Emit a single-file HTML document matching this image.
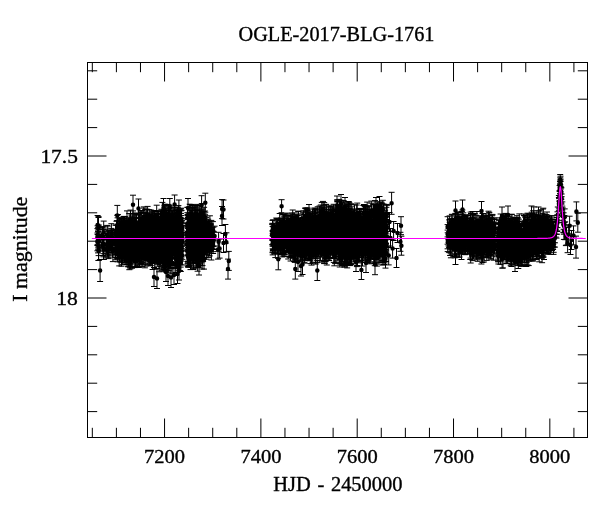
<!DOCTYPE html>
<html lang="en">
<head>
<meta charset="utf-8">
<title>OGLE-2017-BLG-1761</title>
<style>
html,body{margin:0;padding:0;background:#fff;}
body{width:600px;height:512px;overflow:hidden;}
svg{display:block;}
text{font-family:"Liberation Serif","DejaVu Serif",serif;font-size:20px;fill:#000;stroke:#000;stroke-width:0.35px;stroke-linejoin:round;}
.n{font-size:19.5px;}
</style>
</head>
<body>
<svg width="600" height="512" viewBox="0 0 600 512">
<rect width="600" height="512" fill="#fff"/>
<!-- data: error bars and points -->
<path d="M97.4 228.6v16.9m-3 0h6m-6 -16.9h6M98.5 216.6v17.8m-3 0h6m-6 -17.8h6M98.9 225.1v20.9m-3 0h6m-6 -20.9h6M98.5 217.5v20.3m-3 0h6m-6 -20.3h6M98.5 229.6v16.6m-3 0h6m-6 -16.6h6M98.0 231.6v21.3m-3 0h6m-6 -21.3h6M97.6 225.8v18.8m-3 0h6m-6 -18.8h6M98.7 240.4v20.0m-3 0h6m-6 -20.0h6M98.1 227.4v20.5m-3 0h6m-6 -20.5h6M98.6 240.1v15.5m-3 0h6m-6 -15.5h6M98.1 230.9v18.9m-3 0h6m-6 -18.9h6M97.4 233.0v17.8m-3 0h6m-6 -17.8h6M98.7 232.2v18.1m-3 0h6m-6 -18.1h6M102.9 235.8v19.7m-3 0h6m-6 -19.7h6M103.5 238.2v21.3m-3 0h6m-6 -21.3h6M103.0 229.1v18.0m-3 0h6m-6 -18.0h6M102.2 227.0v18.1m-3 0h6m-6 -18.1h6M103.9 239.3v20.1m-3 0h6m-6 -20.1h6M103.6 235.8v17.9m-3 0h6m-6 -17.9h6M102.5 226.9v15.7m-3 0h6m-6 -15.7h6M102.4 227.8v20.1m-3 0h6m-6 -20.1h6M103.4 239.2v17.6m-3 0h6m-6 -17.6h6M102.9 235.7v15.5m-3 0h6m-6 -15.5h6M103.5 229.3v18.8m-3 0h6m-6 -18.8h6M102.9 226.8v18.1m-3 0h6m-6 -18.1h6M103.7 221.1v22.3m-3 0h6m-6 -22.3h6M108.0 233.6v19.3m-3 0h6m-6 -19.3h6M107.1 225.4v19.1m-3 0h6m-6 -19.1h6M108.1 231.7v18.6m-3 0h6m-6 -18.6h6M107.8 226.1v20.0m-3 0h6m-6 -20.0h6M107.6 237.6v18.2m-3 0h6m-6 -18.2h6M107.7 239.1v15.5m-3 0h6m-6 -15.5h6M107.8 239.5v18.3m-3 0h6m-6 -18.3h6M106.7 235.4v17.8m-3 0h6m-6 -17.8h6M107.1 230.0v18.0m-3 0h6m-6 -18.0h6M108.6 230.3v19.6m-3 0h6m-6 -19.6h6M107.1 243.8v13.1m-3 0h6m-6 -13.1h6M108.6 241.5v17.1m-3 0h6m-6 -17.1h6M111.1 236.6v18.6m-3 0h6m-6 -18.6h6M111.0 232.2v20.3m-3 0h6m-6 -20.3h6M112.6 230.6v17.8m-3 0h6m-6 -17.8h6M112.9 241.3v20.3m-3 0h6m-6 -20.3h6M112.5 240.3v16.8m-3 0h6m-6 -16.8h6M111.8 231.2v16.8m-3 0h6m-6 -16.8h6M111.5 230.4v15.5m-3 0h6m-6 -15.5h6M111.4 223.7v20.9m-3 0h6m-6 -20.9h6M111.2 228.4v19.5m-3 0h6m-6 -19.5h6M112.6 229.2v16.0m-3 0h6m-6 -16.0h6M111.2 236.8v16.1m-3 0h6m-6 -16.1h6M111.7 232.6v20.0m-3 0h6m-6 -20.0h6M115.4 239.7v17.8m-3 0h6m-6 -17.8h6M117.0 233.2v20.0m-3 0h6m-6 -20.0h6M116.9 236.1v18.6m-3 0h6m-6 -18.6h6M115.7 229.5v18.9m-3 0h6m-6 -18.9h6M116.5 221.3v20.5m-3 0h6m-6 -20.5h6M116.9 235.0v19.1m-3 0h6m-6 -19.1h6M116.4 232.8v18.5m-3 0h6m-6 -18.5h6M115.7 240.2v19.6m-3 0h6m-6 -19.6h6M116.0 232.8v21.5m-3 0h6m-6 -21.5h6M115.6 225.1v15.4m-3 0h6m-6 -15.4h6M116.5 234.6v19.7m-3 0h6m-6 -19.7h6M115.3 234.6v19.5m-3 0h6m-6 -19.5h6M115.7 225.1v18.9m-3 0h6m-6 -18.9h6M116.0 233.1v18.1m-3 0h6m-6 -18.1h6M116.9 220.6v21.0m-3 0h6m-6 -21.0h6M129.2 236.0v19.8m-3 0h6m-6 -19.8h6M123.4 241.4v16.7m-3 0h6m-6 -16.7h6M117.3 237.5v21.5m-3 0h6m-6 -21.5h6M126.6 244.4v18.5m-3 0h6m-6 -18.5h6M122.2 226.4v20.6m-3 0h6m-6 -20.6h6M122.8 237.7v16.6m-3 0h6m-6 -16.6h6M125.0 230.0v14.4m-3 0h6m-6 -14.4h6M125.1 243.8v17.5m-3 0h6m-6 -17.5h6M129.8 232.7v18.7m-3 0h6m-6 -18.7h6M118.3 225.1v19.0m-3 0h6m-6 -19.0h6M121.9 224.9v16.2m-3 0h6m-6 -16.2h6M120.1 221.9v18.8m-3 0h6m-6 -18.8h6M129.3 236.9v20.2m-3 0h6m-6 -20.2h6M121.5 243.0v19.7m-3 0h6m-6 -19.7h6M123.6 220.4v17.5m-3 0h6m-6 -17.5h6M126.8 246.4v15.4m-3 0h6m-6 -15.4h6M123.0 228.1v19.6m-3 0h6m-6 -19.6h6M121.9 222.8v20.2m-3 0h6m-6 -20.2h6M122.9 232.6v16.2m-3 0h6m-6 -16.2h6M126.4 221.4v20.1m-3 0h6m-6 -20.1h6M119.9 219.2v15.6m-3 0h6m-6 -15.6h6M117.3 237.7v17.5m-3 0h6m-6 -17.5h6M117.2 215.3v19.4m-3 0h6m-6 -19.4h6M124.4 216.7v16.7m-3 0h6m-6 -16.7h6M118.2 235.6v18.8m-3 0h6m-6 -18.8h6M129.1 220.3v20.2m-3 0h6m-6 -20.2h6M124.1 230.1v19.3m-3 0h6m-6 -19.3h6M118.1 233.3v17.3m-3 0h6m-6 -17.3h6M123.3 232.6v20.5m-3 0h6m-6 -20.5h6M128.5 223.8v20.9m-3 0h6m-6 -20.9h6M126.1 230.1v19.4m-3 0h6m-6 -19.4h6M122.3 234.1v18.8m-3 0h6m-6 -18.8h6M122.2 235.6v15.7m-3 0h6m-6 -15.7h6M129.3 234.2v17.1m-3 0h6m-6 -17.1h6M120.8 218.8v20.1m-3 0h6m-6 -20.1h6M121.7 217.7v16.4m-3 0h6m-6 -16.4h6M120.7 234.5v18.5m-3 0h6m-6 -18.5h6M121.3 233.4v17.7m-3 0h6m-6 -17.7h6M123.5 216.4v16.8m-3 0h6m-6 -16.8h6M127.0 240.0v19.3m-3 0h6m-6 -19.3h6M127.2 232.3v19.8m-3 0h6m-6 -19.8h6M128.8 230.3v18.6m-3 0h6m-6 -18.6h6M124.9 216.7v18.8m-3 0h6m-6 -18.8h6M126.7 226.8v19.0m-3 0h6m-6 -19.0h6M118.6 227.0v19.5m-3 0h6m-6 -19.5h6M119.0 230.0v17.0m-3 0h6m-6 -17.0h6M120.9 234.5v16.8m-3 0h6m-6 -16.8h6M128.3 231.1v17.2m-3 0h6m-6 -17.2h6M125.8 238.1v18.3m-3 0h6m-6 -18.3h6M127.0 210.9v21.3m-3 0h6m-6 -21.3h6M120.7 224.7v18.0m-3 0h6m-6 -18.0h6M129.9 236.5v20.8m-3 0h6m-6 -20.8h6M128.7 232.3v18.5m-3 0h6m-6 -18.5h6M125.9 246.1v17.9m-3 0h6m-6 -17.9h6M125.8 236.3v17.3m-3 0h6m-6 -17.3h6M124.3 232.2v20.5m-3 0h6m-6 -20.5h6M118.2 239.0v18.7m-3 0h6m-6 -18.7h6M117.5 229.3v16.6m-3 0h6m-6 -16.6h6M121.6 218.2v19.0m-3 0h6m-6 -19.0h6M118.6 228.4v19.3m-3 0h6m-6 -19.3h6M122.4 234.7v16.6m-3 0h6m-6 -16.6h6M127.5 228.3v17.7m-3 0h6m-6 -17.7h6M128.0 234.5v18.8m-3 0h6m-6 -18.8h6M128.3 218.3v21.8m-3 0h6m-6 -21.8h6M127.4 227.9v18.0m-3 0h6m-6 -18.0h6M120.5 232.9v20.1m-3 0h6m-6 -20.1h6M122.8 223.2v21.2m-3 0h6m-6 -21.2h6M125.6 238.0v21.1m-3 0h6m-6 -21.1h6M129.2 230.2v16.0m-3 0h6m-6 -16.0h6M123.0 224.6v16.1m-3 0h6m-6 -16.1h6M125.6 231.7v19.6m-3 0h6m-6 -19.6h6M121.1 220.8v19.6m-3 0h6m-6 -19.6h6M128.1 246.6v19.8m-3 0h6m-6 -19.8h6M128.4 221.1v21.3m-3 0h6m-6 -21.3h6M119.2 246.8v19.1m-3 0h6m-6 -19.1h6M122.8 231.0v20.3m-3 0h6m-6 -20.3h6M125.6 234.4v19.3m-3 0h6m-6 -19.3h6M119.7 218.9v19.2m-3 0h6m-6 -19.2h6M125.6 227.6v19.2m-3 0h6m-6 -19.2h6M128.2 239.7v16.8m-3 0h6m-6 -16.8h6M122.7 224.0v18.3m-3 0h6m-6 -18.3h6M124.4 243.2v19.2m-3 0h6m-6 -19.2h6M128.4 248.2v18.7m-3 0h6m-6 -18.7h6M126.1 238.4v16.8m-3 0h6m-6 -16.8h6M120.2 231.7v16.2m-3 0h6m-6 -16.2h6M126.1 239.4v17.4m-3 0h6m-6 -17.4h6M121.6 237.7v21.0m-3 0h6m-6 -21.0h6M121.6 218.6v18.1m-3 0h6m-6 -18.1h6M117.2 237.8v20.8m-3 0h6m-6 -20.8h6M120.2 221.6v16.2m-3 0h6m-6 -16.2h6M128.7 227.9v22.4m-3 0h6m-6 -22.4h6M124.7 231.3v19.4m-3 0h6m-6 -19.4h6M126.3 235.4v21.3m-3 0h6m-6 -21.3h6M117.6 217.8v22.2m-3 0h6m-6 -22.2h6M122.6 248.0v16.7m-3 0h6m-6 -16.7h6M126.9 243.9v16.1m-3 0h6m-6 -16.1h6M124.7 233.7v19.9m-3 0h6m-6 -19.9h6M125.7 238.6v20.2m-3 0h6m-6 -20.2h6M124.4 236.5v21.2m-3 0h6m-6 -21.2h6M129.9 234.3v18.2m-3 0h6m-6 -18.2h6M125.4 228.8v19.9m-3 0h6m-6 -19.9h6M125.7 229.0v19.3m-3 0h6m-6 -19.3h6M128.9 217.8v20.1m-3 0h6m-6 -20.1h6M127.1 233.7v17.0m-3 0h6m-6 -17.0h6M122.6 230.9v18.7m-3 0h6m-6 -18.7h6M118.3 232.6v20.9m-3 0h6m-6 -20.9h6M118.0 231.2v16.2m-3 0h6m-6 -16.2h6M122.5 228.3v18.8m-3 0h6m-6 -18.8h6M122.8 222.6v19.3m-3 0h6m-6 -19.3h6M125.5 219.8v18.0m-3 0h6m-6 -18.0h6M120.2 234.5v19.8m-3 0h6m-6 -19.8h6M128.3 225.7v18.0m-3 0h6m-6 -18.0h6M120.8 227.2v21.9m-3 0h6m-6 -21.9h6M129.3 249.7v20.0m-3 0h6m-6 -20.0h6M123.4 234.5v19.6m-3 0h6m-6 -19.6h6M117.8 239.1v16.5m-3 0h6m-6 -16.5h6M129.0 243.0v19.6m-3 0h6m-6 -19.6h6M125.1 234.2v16.7m-3 0h6m-6 -16.7h6M124.2 218.8v17.5m-3 0h6m-6 -17.5h6M120.1 244.3v17.6m-3 0h6m-6 -17.6h6M126.9 243.6v20.9m-3 0h6m-6 -20.9h6M121.5 248.6v17.6m-3 0h6m-6 -17.6h6M125.9 236.3v19.5m-3 0h6m-6 -19.5h6M126.3 239.5v20.6m-3 0h6m-6 -20.6h6M118.4 227.2v20.1m-3 0h6m-6 -20.1h6M120.3 228.2v16.8m-3 0h6m-6 -16.8h6M124.4 236.7v19.8m-3 0h6m-6 -19.8h6M129.5 232.7v17.8m-3 0h6m-6 -17.8h6M123.3 218.4v19.3m-3 0h6m-6 -19.3h6M120.4 229.7v19.7m-3 0h6m-6 -19.7h6M123.4 233.9v19.5m-3 0h6m-6 -19.5h6M128.2 237.7v19.3m-3 0h6m-6 -19.3h6M123.0 221.2v22.0m-3 0h6m-6 -22.0h6M122.4 228.4v17.9m-3 0h6m-6 -17.9h6M125.3 236.5v17.9m-3 0h6m-6 -17.9h6M129.2 213.6v19.8m-3 0h6m-6 -19.8h6M128.4 239.8v18.7m-3 0h6m-6 -18.7h6M118.5 238.0v19.3m-3 0h6m-6 -19.3h6M123.2 241.4v19.0m-3 0h6m-6 -19.0h6M123.8 232.5v22.0m-3 0h6m-6 -22.0h6M127.5 223.8v18.8m-3 0h6m-6 -18.8h6M123.0 228.0v19.4m-3 0h6m-6 -19.4h6M118.9 229.0v20.1m-3 0h6m-6 -20.1h6M129.4 234.9v19.1m-3 0h6m-6 -19.1h6M128.7 228.1v17.7m-3 0h6m-6 -17.7h6M128.6 249.0v16.2m-3 0h6m-6 -16.2h6M124.4 217.0v19.1m-3 0h6m-6 -19.1h6M119.8 224.2v19.6m-3 0h6m-6 -19.6h6M119.8 241.2v17.8m-3 0h6m-6 -17.8h6M125.7 227.5v19.6m-3 0h6m-6 -19.6h6M117.6 243.7v18.1m-3 0h6m-6 -18.1h6M123.7 221.6v17.8m-3 0h6m-6 -17.8h6M126.0 237.8v16.2m-3 0h6m-6 -16.2h6M124.5 229.2v20.6m-3 0h6m-6 -20.6h6M121.0 237.9v16.8m-3 0h6m-6 -16.8h6M124.1 234.4v17.9m-3 0h6m-6 -17.9h6M122.0 227.9v18.0m-3 0h6m-6 -18.0h6M126.2 237.6v19.6m-3 0h6m-6 -19.6h6M125.1 236.6v17.8m-3 0h6m-6 -17.8h6M119.5 240.6v20.6m-3 0h6m-6 -20.6h6M129.9 225.4v21.1m-3 0h6m-6 -21.1h6M127.7 237.5v17.3m-3 0h6m-6 -17.3h6M122.0 234.6v19.3m-3 0h6m-6 -19.3h6M125.4 224.1v20.3m-3 0h6m-6 -20.3h6M117.9 214.5v19.3m-3 0h6m-6 -19.3h6M133.3 245.1v17.8m-3 0h6m-6 -17.8h6M136.5 227.6v17.6m-3 0h6m-6 -17.6h6M130.3 233.0v19.3m-3 0h6m-6 -19.3h6M134.5 237.4v15.9m-3 0h6m-6 -15.9h6M139.5 248.9v17.1m-3 0h6m-6 -17.1h6M139.0 233.3v20.2m-3 0h6m-6 -20.2h6M139.5 213.6v20.1m-3 0h6m-6 -20.1h6M134.5 234.1v18.7m-3 0h6m-6 -18.7h6M133.3 238.2v19.9m-3 0h6m-6 -19.9h6M134.3 221.0v15.2m-3 0h6m-6 -15.2h6M130.9 244.3v19.7m-3 0h6m-6 -19.7h6M133.8 224.0v21.1m-3 0h6m-6 -21.1h6M140.7 246.6v18.0m-3 0h6m-6 -18.0h6M139.3 226.1v16.6m-3 0h6m-6 -16.6h6M132.6 216.1v17.6m-3 0h6m-6 -17.6h6M133.0 210.9v23.3m-3 0h6m-6 -23.3h6M130.4 225.4v22.6m-3 0h6m-6 -22.6h6M134.8 223.9v19.4m-3 0h6m-6 -19.4h6M136.8 224.2v19.6m-3 0h6m-6 -19.6h6M130.0 221.5v16.1m-3 0h6m-6 -16.1h6M139.4 222.6v18.3m-3 0h6m-6 -18.3h6M135.7 225.4v21.0m-3 0h6m-6 -21.0h6M140.8 212.9v16.1m-3 0h6m-6 -16.1h6M135.3 225.3v19.0m-3 0h6m-6 -19.0h6M130.8 224.9v21.5m-3 0h6m-6 -21.5h6M138.5 226.2v16.1m-3 0h6m-6 -16.1h6M131.4 226.5v17.9m-3 0h6m-6 -17.9h6M130.7 239.8v19.6m-3 0h6m-6 -19.6h6M130.5 210.1v19.6m-3 0h6m-6 -19.6h6M130.5 233.6v23.3m-3 0h6m-6 -23.3h6M135.4 230.8v20.3m-3 0h6m-6 -20.3h6M134.7 234.9v17.5m-3 0h6m-6 -17.5h6M130.9 238.0v16.2m-3 0h6m-6 -16.2h6M134.1 218.2v18.8m-3 0h6m-6 -18.8h6M138.2 228.4v21.6m-3 0h6m-6 -21.6h6M132.7 217.9v18.0m-3 0h6m-6 -18.0h6M132.8 218.3v22.4m-3 0h6m-6 -22.4h6M140.7 211.3v21.6m-3 0h6m-6 -21.6h6M139.5 222.6v20.6m-3 0h6m-6 -20.6h6M132.8 213.4v20.5m-3 0h6m-6 -20.5h6M138.5 238.1v18.6m-3 0h6m-6 -18.6h6M137.2 225.0v20.8m-3 0h6m-6 -20.8h6M137.4 240.2v15.7m-3 0h6m-6 -15.7h6M130.3 229.9v19.5m-3 0h6m-6 -19.5h6M135.0 242.0v19.0m-3 0h6m-6 -19.0h6M130.6 227.1v19.1m-3 0h6m-6 -19.1h6M137.8 231.9v18.1m-3 0h6m-6 -18.1h6M133.9 221.1v17.5m-3 0h6m-6 -17.5h6M131.9 230.1v20.6m-3 0h6m-6 -20.6h6M132.8 235.2v20.4m-3 0h6m-6 -20.4h6M136.1 234.7v20.3m-3 0h6m-6 -20.3h6M130.6 230.3v21.4m-3 0h6m-6 -21.4h6M130.8 230.4v18.2m-3 0h6m-6 -18.2h6M132.8 231.9v16.0m-3 0h6m-6 -16.0h6M136.7 230.5v18.6m-3 0h6m-6 -18.6h6M130.5 236.5v17.3m-3 0h6m-6 -17.3h6M132.0 249.1v19.1m-3 0h6m-6 -19.1h6M135.5 248.1v19.2m-3 0h6m-6 -19.2h6M132.7 218.5v18.6m-3 0h6m-6 -18.6h6M134.2 229.8v18.6m-3 0h6m-6 -18.6h6M133.7 231.8v19.7m-3 0h6m-6 -19.7h6M134.3 226.3v20.3m-3 0h6m-6 -20.3h6M136.0 217.3v17.4m-3 0h6m-6 -17.4h6M132.4 216.1v20.0m-3 0h6m-6 -20.0h6M136.2 215.0v17.0m-3 0h6m-6 -17.0h6M132.7 229.7v19.1m-3 0h6m-6 -19.1h6M136.1 242.4v19.7m-3 0h6m-6 -19.7h6M141.0 236.2v18.1m-3 0h6m-6 -18.1h6M136.7 213.2v21.5m-3 0h6m-6 -21.5h6M134.1 223.9v16.7m-3 0h6m-6 -16.7h6M135.1 229.3v19.3m-3 0h6m-6 -19.3h6M138.0 224.2v18.3m-3 0h6m-6 -18.3h6M130.7 230.7v18.4m-3 0h6m-6 -18.4h6M138.9 246.4v21.1m-3 0h6m-6 -21.1h6M131.1 248.0v18.3m-3 0h6m-6 -18.3h6M132.4 229.6v18.2m-3 0h6m-6 -18.2h6M134.3 224.7v19.3m-3 0h6m-6 -19.3h6M134.4 230.7v24.4m-3 0h6m-6 -24.4h6M140.5 225.0v17.7m-3 0h6m-6 -17.7h6M132.6 222.2v18.5m-3 0h6m-6 -18.5h6M140.8 225.2v18.0m-3 0h6m-6 -18.0h6M136.6 218.1v19.5m-3 0h6m-6 -19.5h6M134.7 250.4v17.2m-3 0h6m-6 -17.2h6M133.2 232.0v19.6m-3 0h6m-6 -19.6h6M136.1 242.4v16.3m-3 0h6m-6 -16.3h6M133.4 236.1v16.2m-3 0h6m-6 -16.2h6M138.7 214.5v18.8m-3 0h6m-6 -18.8h6M137.7 223.1v19.3m-3 0h6m-6 -19.3h6M139.2 218.2v19.9m-3 0h6m-6 -19.9h6M139.8 222.0v18.3m-3 0h6m-6 -18.3h6M136.6 246.5v19.9m-3 0h6m-6 -19.9h6M131.9 252.5v14.3m-3 0h6m-6 -14.3h6M140.1 237.0v18.2m-3 0h6m-6 -18.2h6M136.9 234.4v17.8m-3 0h6m-6 -17.8h6M136.7 236.6v17.4m-3 0h6m-6 -17.4h6M135.6 244.8v17.5m-3 0h6m-6 -17.5h6M133.9 231.5v16.4m-3 0h6m-6 -16.4h6M140.2 222.1v20.0m-3 0h6m-6 -20.0h6M131.6 231.7v22.3m-3 0h6m-6 -22.3h6M130.0 248.4v19.3m-3 0h6m-6 -19.3h6M134.6 233.6v21.3m-3 0h6m-6 -21.3h6M135.3 222.3v20.0m-3 0h6m-6 -20.0h6M130.4 236.7v15.3m-3 0h6m-6 -15.3h6M132.2 231.0v20.0m-3 0h6m-6 -20.0h6M131.6 233.9v16.1m-3 0h6m-6 -16.1h6M133.4 227.2v19.1m-3 0h6m-6 -19.1h6M130.7 230.2v21.6m-3 0h6m-6 -21.6h6M138.6 221.0v15.9m-3 0h6m-6 -15.9h6M131.9 233.9v17.3m-3 0h6m-6 -17.3h6M136.6 239.1v14.6m-3 0h6m-6 -14.6h6M134.6 226.1v19.4m-3 0h6m-6 -19.4h6M136.0 224.1v19.4m-3 0h6m-6 -19.4h6M132.6 230.1v18.6m-3 0h6m-6 -18.6h6M130.4 235.0v17.6m-3 0h6m-6 -17.6h6M130.4 250.0v18.9m-3 0h6m-6 -18.9h6M130.9 227.7v20.9m-3 0h6m-6 -20.9h6M138.5 218.5v18.0m-3 0h6m-6 -18.0h6M137.1 221.7v16.8m-3 0h6m-6 -16.8h6M133.7 240.1v18.2m-3 0h6m-6 -18.2h6M131.1 234.7v18.5m-3 0h6m-6 -18.5h6M136.4 214.8v20.5m-3 0h6m-6 -20.5h6M136.2 229.3v18.6m-3 0h6m-6 -18.6h6M130.5 244.5v19.4m-3 0h6m-6 -19.4h6M140.7 226.9v18.9m-3 0h6m-6 -18.9h6M136.4 230.9v18.8m-3 0h6m-6 -18.8h6M132.2 227.2v17.9m-3 0h6m-6 -17.9h6M139.8 224.0v21.0m-3 0h6m-6 -21.0h6M130.9 239.3v16.2m-3 0h6m-6 -16.2h6M139.1 226.5v21.5m-3 0h6m-6 -21.5h6M134.0 226.5v19.5m-3 0h6m-6 -19.5h6M138.9 242.0v18.5m-3 0h6m-6 -18.5h6M134.0 225.6v18.4m-3 0h6m-6 -18.4h6M136.0 243.5v18.0m-3 0h6m-6 -18.0h6M133.9 236.4v17.8m-3 0h6m-6 -17.8h6M136.6 239.2v18.0m-3 0h6m-6 -18.0h6M133.4 224.6v21.4m-3 0h6m-6 -21.4h6M133.6 232.6v15.6m-3 0h6m-6 -15.6h6M133.1 235.5v18.2m-3 0h6m-6 -18.2h6M132.3 230.9v18.6m-3 0h6m-6 -18.6h6M139.6 226.2v19.6m-3 0h6m-6 -19.6h6M139.4 238.4v19.7m-3 0h6m-6 -19.7h6M136.1 218.1v20.0m-3 0h6m-6 -20.0h6M136.2 240.0v20.7m-3 0h6m-6 -20.7h6M132.7 227.3v17.2m-3 0h6m-6 -17.2h6M134.8 226.0v15.9m-3 0h6m-6 -15.9h6M136.5 240.3v18.4m-3 0h6m-6 -18.4h6M133.0 217.9v19.0m-3 0h6m-6 -19.0h6M133.6 236.0v19.7m-3 0h6m-6 -19.7h6M135.0 213.2v15.7m-3 0h6m-6 -15.7h6M131.6 240.2v17.4m-3 0h6m-6 -17.4h6M138.2 223.9v19.7m-3 0h6m-6 -19.7h6M131.4 236.2v17.4m-3 0h6m-6 -17.4h6M132.0 221.2v19.1m-3 0h6m-6 -19.1h6M130.1 230.9v18.7m-3 0h6m-6 -18.7h6M137.1 229.5v15.5m-3 0h6m-6 -15.5h6M138.8 224.7v20.3m-3 0h6m-6 -20.3h6M135.8 238.2v16.9m-3 0h6m-6 -16.9h6M137.7 223.3v20.8m-3 0h6m-6 -20.8h6M133.0 227.5v21.0m-3 0h6m-6 -21.0h6M140.6 223.0v18.2m-3 0h6m-6 -18.2h6M135.6 233.4v17.4m-3 0h6m-6 -17.4h6M140.0 229.7v18.9m-3 0h6m-6 -18.9h6M137.6 249.8v17.0m-3 0h6m-6 -17.0h6M132.8 222.5v16.5m-3 0h6m-6 -16.5h6M133.7 222.1v18.6m-3 0h6m-6 -18.6h6M145.9 218.6v21.4m-3 0h6m-6 -21.4h6M148.1 215.8v16.9m-3 0h6m-6 -16.9h6M146.3 224.1v17.7m-3 0h6m-6 -17.7h6M149.5 217.6v20.1m-3 0h6m-6 -20.1h6M150.0 228.8v16.6m-3 0h6m-6 -16.6h6M151.3 212.2v19.1m-3 0h6m-6 -19.1h6M147.1 216.4v19.8m-3 0h6m-6 -19.8h6M149.0 239.8v18.3m-3 0h6m-6 -18.3h6M148.3 227.3v19.8m-3 0h6m-6 -19.8h6M149.6 241.7v19.2m-3 0h6m-6 -19.2h6M142.9 237.3v20.7m-3 0h6m-6 -20.7h6M147.5 209.4v20.3m-3 0h6m-6 -20.3h6M147.8 239.6v19.3m-3 0h6m-6 -19.3h6M151.0 224.4v21.7m-3 0h6m-6 -21.7h6M150.8 228.0v18.1m-3 0h6m-6 -18.1h6M144.6 222.8v19.9m-3 0h6m-6 -19.9h6M142.2 217.5v18.7m-3 0h6m-6 -18.7h6M144.5 223.7v16.7m-3 0h6m-6 -16.7h6M145.7 212.6v21.0m-3 0h6m-6 -21.0h6M146.3 228.8v19.4m-3 0h6m-6 -19.4h6M144.6 241.9v17.1m-3 0h6m-6 -17.1h6M147.5 232.1v18.3m-3 0h6m-6 -18.3h6M147.6 230.6v19.3m-3 0h6m-6 -19.3h6M148.3 223.4v16.5m-3 0h6m-6 -16.5h6M141.3 234.4v21.7m-3 0h6m-6 -21.7h6M149.5 245.0v18.3m-3 0h6m-6 -18.3h6M148.0 242.8v17.6m-3 0h6m-6 -17.6h6M149.4 244.9v19.7m-3 0h6m-6 -19.7h6M142.4 222.3v17.6m-3 0h6m-6 -17.6h6M142.9 218.1v15.9m-3 0h6m-6 -15.9h6M148.6 224.4v21.3m-3 0h6m-6 -21.3h6M150.5 240.8v16.2m-3 0h6m-6 -16.2h6M141.5 223.6v18.7m-3 0h6m-6 -18.7h6M143.8 206.9v19.9m-3 0h6m-6 -19.9h6M143.7 238.6v19.9m-3 0h6m-6 -19.9h6M144.2 231.9v20.6m-3 0h6m-6 -20.6h6M149.5 234.5v19.8m-3 0h6m-6 -19.8h6M149.6 233.1v20.5m-3 0h6m-6 -20.5h6M151.2 229.2v16.2m-3 0h6m-6 -16.2h6M151.2 234.4v21.3m-3 0h6m-6 -21.3h6M143.0 242.9v16.1m-3 0h6m-6 -16.1h6M146.2 218.3v14.5m-3 0h6m-6 -14.5h6M145.7 233.2v20.9m-3 0h6m-6 -20.9h6M146.6 209.2v17.2m-3 0h6m-6 -17.2h6M151.9 234.1v20.3m-3 0h6m-6 -20.3h6M144.1 235.6v18.2m-3 0h6m-6 -18.2h6M151.8 241.8v21.7m-3 0h6m-6 -21.7h6M142.7 235.9v20.4m-3 0h6m-6 -20.4h6M147.4 213.6v17.3m-3 0h6m-6 -17.3h6M148.6 230.5v18.0m-3 0h6m-6 -18.0h6M144.3 225.9v22.1m-3 0h6m-6 -22.1h6M145.0 217.0v18.0m-3 0h6m-6 -18.0h6M143.1 232.3v14.4m-3 0h6m-6 -14.4h6M149.1 215.7v15.8m-3 0h6m-6 -15.8h6M144.6 225.2v19.4m-3 0h6m-6 -19.4h6M151.3 243.9v17.8m-3 0h6m-6 -17.8h6M150.7 228.3v18.0m-3 0h6m-6 -18.0h6M144.3 213.3v20.9m-3 0h6m-6 -20.9h6M149.1 234.7v19.8m-3 0h6m-6 -19.8h6M148.3 226.9v18.0m-3 0h6m-6 -18.0h6M147.3 234.6v15.7m-3 0h6m-6 -15.7h6M151.4 222.7v18.6m-3 0h6m-6 -18.6h6M143.7 236.9v17.4m-3 0h6m-6 -17.4h6M151.0 242.6v19.7m-3 0h6m-6 -19.7h6M148.5 240.3v20.1m-3 0h6m-6 -20.1h6M149.0 235.1v16.7m-3 0h6m-6 -16.7h6M151.8 230.0v16.7m-3 0h6m-6 -16.7h6M141.4 221.5v18.2m-3 0h6m-6 -18.2h6M145.7 247.7v18.3m-3 0h6m-6 -18.3h6M150.9 234.3v20.2m-3 0h6m-6 -20.2h6M142.1 237.0v18.4m-3 0h6m-6 -18.4h6M141.9 224.9v16.4m-3 0h6m-6 -16.4h6M142.1 241.9v20.7m-3 0h6m-6 -20.7h6M150.1 233.2v16.8m-3 0h6m-6 -16.8h6M142.4 228.2v19.0m-3 0h6m-6 -19.0h6M147.1 227.7v17.3m-3 0h6m-6 -17.3h6M149.0 220.9v17.6m-3 0h6m-6 -17.6h6M146.5 224.2v18.4m-3 0h6m-6 -18.4h6M141.5 222.1v16.8m-3 0h6m-6 -16.8h6M144.7 224.8v20.3m-3 0h6m-6 -20.3h6M149.5 245.7v20.2m-3 0h6m-6 -20.2h6M146.5 223.8v16.5m-3 0h6m-6 -16.5h6M145.2 209.5v20.1m-3 0h6m-6 -20.1h6M146.5 228.0v19.1m-3 0h6m-6 -19.1h6M145.3 239.9v19.7m-3 0h6m-6 -19.7h6M149.0 237.7v18.4m-3 0h6m-6 -18.4h6M142.3 237.8v17.0m-3 0h6m-6 -17.0h6M145.9 235.1v16.7m-3 0h6m-6 -16.7h6M150.8 244.2v21.2m-3 0h6m-6 -21.2h6M142.1 219.0v16.2m-3 0h6m-6 -16.2h6M150.6 224.7v15.3m-3 0h6m-6 -15.3h6M149.5 223.7v19.4m-3 0h6m-6 -19.4h6M145.9 238.3v19.7m-3 0h6m-6 -19.7h6M142.5 228.3v22.1m-3 0h6m-6 -22.1h6M143.9 225.9v19.6m-3 0h6m-6 -19.6h6M151.6 226.4v20.0m-3 0h6m-6 -20.0h6M148.3 221.9v18.6m-3 0h6m-6 -18.6h6M141.3 243.4v18.2m-3 0h6m-6 -18.2h6M141.3 212.5v17.2m-3 0h6m-6 -17.2h6M150.9 244.9v17.2m-3 0h6m-6 -17.2h6M143.8 245.9v18.8m-3 0h6m-6 -18.8h6M151.0 242.2v19.4m-3 0h6m-6 -19.4h6M146.2 238.7v16.2m-3 0h6m-6 -16.2h6M145.9 223.6v18.4m-3 0h6m-6 -18.4h6M142.4 226.8v14.7m-3 0h6m-6 -14.7h6M142.4 224.5v17.2m-3 0h6m-6 -17.2h6M146.6 225.5v19.1m-3 0h6m-6 -19.1h6M151.3 229.8v19.6m-3 0h6m-6 -19.6h6M148.4 214.2v18.1m-3 0h6m-6 -18.1h6M144.3 235.6v19.0m-3 0h6m-6 -19.0h6M148.9 217.4v18.7m-3 0h6m-6 -18.7h6M143.1 235.8v18.0m-3 0h6m-6 -18.0h6M145.5 229.4v17.5m-3 0h6m-6 -17.5h6M151.6 229.6v14.2m-3 0h6m-6 -14.2h6M150.5 231.6v17.7m-3 0h6m-6 -17.7h6M141.5 218.4v18.2m-3 0h6m-6 -18.2h6M148.6 232.5v18.6m-3 0h6m-6 -18.6h6M146.6 232.9v15.7m-3 0h6m-6 -15.7h6M150.1 214.7v19.3m-3 0h6m-6 -19.3h6M147.5 224.2v20.1m-3 0h6m-6 -20.1h6M149.4 235.4v16.6m-3 0h6m-6 -16.6h6M147.3 229.9v17.5m-3 0h6m-6 -17.5h6M144.5 225.5v14.7m-3 0h6m-6 -14.7h6M150.8 242.7v17.5m-3 0h6m-6 -17.5h6M142.2 229.8v16.3m-3 0h6m-6 -16.3h6M150.6 238.1v17.9m-3 0h6m-6 -17.9h6M144.0 233.9v17.8m-3 0h6m-6 -17.8h6M143.6 221.1v19.1m-3 0h6m-6 -19.1h6M147.0 227.8v15.0m-3 0h6m-6 -15.0h6M149.3 209.7v16.7m-3 0h6m-6 -16.7h6M148.8 240.5v15.4m-3 0h6m-6 -15.4h6M151.6 224.9v22.1m-3 0h6m-6 -22.1h6M141.1 245.7v17.8m-3 0h6m-6 -17.8h6M145.3 234.3v14.5m-3 0h6m-6 -14.5h6M142.2 249.7v16.9m-3 0h6m-6 -16.9h6M145.7 226.5v20.7m-3 0h6m-6 -20.7h6M148.5 222.5v17.7m-3 0h6m-6 -17.7h6M149.5 220.3v17.5m-3 0h6m-6 -17.5h6M141.9 210.5v19.6m-3 0h6m-6 -19.6h6M143.7 230.4v19.8m-3 0h6m-6 -19.8h6M148.3 236.9v22.0m-3 0h6m-6 -22.0h6M144.9 248.3v19.5m-3 0h6m-6 -19.5h6M148.1 231.5v18.6m-3 0h6m-6 -18.6h6M144.6 229.0v16.5m-3 0h6m-6 -16.5h6M150.5 224.5v20.4m-3 0h6m-6 -20.4h6M151.1 236.1v17.8m-3 0h6m-6 -17.8h6M146.2 242.4v18.1m-3 0h6m-6 -18.1h6M147.0 227.7v19.5m-3 0h6m-6 -19.5h6M151.1 210.1v19.3m-3 0h6m-6 -19.3h6M144.0 208.1v17.9m-3 0h6m-6 -17.9h6M141.6 218.6v18.7m-3 0h6m-6 -18.7h6M147.1 246.4v17.6m-3 0h6m-6 -17.6h6M148.0 239.2v17.9m-3 0h6m-6 -17.9h6M149.5 240.2v21.2m-3 0h6m-6 -21.2h6M145.4 219.7v15.8m-3 0h6m-6 -15.8h6M146.4 237.5v18.2m-3 0h6m-6 -18.2h6M145.9 231.9v15.9m-3 0h6m-6 -15.9h6M150.0 214.0v19.7m-3 0h6m-6 -19.7h6M147.6 206.4v18.3m-3 0h6m-6 -18.3h6M141.3 218.1v17.5m-3 0h6m-6 -17.5h6M144.8 228.7v14.7m-3 0h6m-6 -14.7h6M148.7 226.0v16.2m-3 0h6m-6 -16.2h6M144.9 228.5v20.0m-3 0h6m-6 -20.0h6M148.4 240.4v17.6m-3 0h6m-6 -17.6h6M150.8 242.1v16.1m-3 0h6m-6 -16.1h6M156.7 231.3v20.1m-3 0h6m-6 -20.1h6M158.6 231.8v18.6m-3 0h6m-6 -18.6h6M158.2 238.6v17.7m-3 0h6m-6 -17.7h6M154.4 226.4v16.7m-3 0h6m-6 -16.7h6M158.8 233.7v19.1m-3 0h6m-6 -19.1h6M152.6 224.5v14.3m-3 0h6m-6 -14.3h6M158.7 238.8v15.7m-3 0h6m-6 -15.7h6M153.7 241.7v17.5m-3 0h6m-6 -17.5h6M154.7 242.4v18.2m-3 0h6m-6 -18.2h6M152.8 242.5v19.0m-3 0h6m-6 -19.0h6M155.9 242.4v18.6m-3 0h6m-6 -18.6h6M157.4 239.7v19.6m-3 0h6m-6 -19.6h6M156.4 237.2v19.8m-3 0h6m-6 -19.8h6M155.5 237.0v17.3m-3 0h6m-6 -17.3h6M161.5 226.8v18.1m-3 0h6m-6 -18.1h6M157.1 217.4v18.0m-3 0h6m-6 -18.0h6M158.6 235.8v19.4m-3 0h6m-6 -19.4h6M152.2 236.0v16.4m-3 0h6m-6 -16.4h6M155.1 230.4v16.6m-3 0h6m-6 -16.6h6M159.0 241.1v21.1m-3 0h6m-6 -21.1h6M158.3 210.6v19.9m-3 0h6m-6 -19.9h6M153.3 227.5v19.0m-3 0h6m-6 -19.0h6M161.4 209.3v15.3m-3 0h6m-6 -15.3h6M159.4 227.3v17.1m-3 0h6m-6 -17.1h6M153.5 221.8v19.4m-3 0h6m-6 -19.4h6M156.4 232.1v20.3m-3 0h6m-6 -20.3h6M161.9 230.4v16.6m-3 0h6m-6 -16.6h6M157.8 216.6v21.0m-3 0h6m-6 -21.0h6M156.5 235.5v20.6m-3 0h6m-6 -20.6h6M152.9 232.3v21.6m-3 0h6m-6 -21.6h6M157.2 231.8v16.3m-3 0h6m-6 -16.3h6M157.1 244.1v18.0m-3 0h6m-6 -18.0h6M152.5 234.9v19.7m-3 0h6m-6 -19.7h6M152.7 214.1v19.5m-3 0h6m-6 -19.5h6M160.4 233.8v17.9m-3 0h6m-6 -17.9h6M154.2 237.0v19.9m-3 0h6m-6 -19.9h6M158.4 218.1v17.0m-3 0h6m-6 -17.0h6M154.7 245.7v17.0m-3 0h6m-6 -17.0h6M152.6 211.8v17.8m-3 0h6m-6 -17.8h6M155.1 222.3v18.4m-3 0h6m-6 -18.4h6M153.3 241.6v17.4m-3 0h6m-6 -17.4h6M157.0 228.4v18.2m-3 0h6m-6 -18.2h6M160.6 213.9v18.6m-3 0h6m-6 -18.6h6M153.1 242.6v19.8m-3 0h6m-6 -19.8h6M152.0 215.1v21.2m-3 0h6m-6 -21.2h6M152.6 228.5v17.1m-3 0h6m-6 -17.1h6M152.1 236.0v19.0m-3 0h6m-6 -19.0h6M156.6 245.2v18.4m-3 0h6m-6 -18.4h6M159.2 251.1v17.8m-3 0h6m-6 -17.8h6M158.7 213.8v19.5m-3 0h6m-6 -19.5h6M160.0 212.9v19.5m-3 0h6m-6 -19.5h6M155.2 211.6v20.6m-3 0h6m-6 -20.6h6M153.2 228.7v17.7m-3 0h6m-6 -17.7h6M160.1 238.9v21.6m-3 0h6m-6 -21.6h6M155.1 230.3v18.6m-3 0h6m-6 -18.6h6M158.8 224.8v20.6m-3 0h6m-6 -20.6h6M157.6 233.0v19.2m-3 0h6m-6 -19.2h6M155.1 213.6v16.4m-3 0h6m-6 -16.4h6M160.6 229.6v19.9m-3 0h6m-6 -19.9h6M161.3 229.7v19.3m-3 0h6m-6 -19.3h6M152.3 221.8v16.0m-3 0h6m-6 -16.0h6M156.6 230.5v16.2m-3 0h6m-6 -16.2h6M155.3 222.3v17.3m-3 0h6m-6 -17.3h6M156.8 230.0v23.1m-3 0h6m-6 -23.1h6M153.5 234.3v19.5m-3 0h6m-6 -19.5h6M157.6 242.8v18.4m-3 0h6m-6 -18.4h6M159.0 241.0v20.1m-3 0h6m-6 -20.1h6M160.6 235.9v17.3m-3 0h6m-6 -17.3h6M161.8 251.0v19.3m-3 0h6m-6 -19.3h6M155.7 228.3v18.6m-3 0h6m-6 -18.6h6M154.4 210.5v14.7m-3 0h6m-6 -14.7h6M156.9 225.3v20.4m-3 0h6m-6 -20.4h6M158.8 233.9v19.2m-3 0h6m-6 -19.2h6M153.0 216.9v19.0m-3 0h6m-6 -19.0h6M157.7 245.6v20.6m-3 0h6m-6 -20.6h6M153.9 221.0v21.5m-3 0h6m-6 -21.5h6M154.8 227.6v17.5m-3 0h6m-6 -17.5h6M159.2 229.5v21.4m-3 0h6m-6 -21.4h6M155.2 228.5v18.7m-3 0h6m-6 -18.7h6M160.5 227.4v18.7m-3 0h6m-6 -18.7h6M155.5 226.2v19.2m-3 0h6m-6 -19.2h6M159.8 241.2v20.9m-3 0h6m-6 -20.9h6M153.2 225.9v20.2m-3 0h6m-6 -20.2h6M154.4 215.3v19.7m-3 0h6m-6 -19.7h6M153.9 219.1v18.5m-3 0h6m-6 -18.5h6M156.7 239.2v20.6m-3 0h6m-6 -20.6h6M156.4 228.1v20.5m-3 0h6m-6 -20.5h6M156.3 233.7v16.0m-3 0h6m-6 -16.0h6M155.3 227.0v22.3m-3 0h6m-6 -22.3h6M156.8 238.1v20.3m-3 0h6m-6 -20.3h6M154.6 236.0v18.8m-3 0h6m-6 -18.8h6M157.2 235.0v22.1m-3 0h6m-6 -22.1h6M159.4 223.4v21.2m-3 0h6m-6 -21.2h6M160.4 248.6v18.1m-3 0h6m-6 -18.1h6M155.3 239.1v20.3m-3 0h6m-6 -20.3h6M159.3 224.8v20.1m-3 0h6m-6 -20.1h6M156.6 237.1v17.4m-3 0h6m-6 -17.4h6M152.6 251.9v17.6m-3 0h6m-6 -17.6h6M152.9 228.8v19.6m-3 0h6m-6 -19.6h6M160.4 229.9v20.8m-3 0h6m-6 -20.8h6M153.6 233.2v14.8m-3 0h6m-6 -14.8h6M157.7 247.9v16.4m-3 0h6m-6 -16.4h6M157.8 211.6v18.7m-3 0h6m-6 -18.7h6M161.7 236.8v18.8m-3 0h6m-6 -18.8h6M159.1 242.0v20.7m-3 0h6m-6 -20.7h6M161.5 235.3v17.3m-3 0h6m-6 -17.3h6M157.8 241.7v15.5m-3 0h6m-6 -15.5h6M155.8 236.7v18.7m-3 0h6m-6 -18.7h6M161.7 214.1v17.8m-3 0h6m-6 -17.8h6M154.6 230.7v20.6m-3 0h6m-6 -20.6h6M158.4 222.3v21.1m-3 0h6m-6 -21.1h6M153.9 239.7v18.1m-3 0h6m-6 -18.1h6M156.0 217.1v16.7m-3 0h6m-6 -16.7h6M153.6 238.1v21.5m-3 0h6m-6 -21.5h6M154.8 227.8v18.7m-3 0h6m-6 -18.7h6M155.2 223.3v20.5m-3 0h6m-6 -20.5h6M160.3 228.9v15.7m-3 0h6m-6 -15.7h6M156.0 241.4v19.0m-3 0h6m-6 -19.0h6M158.7 233.3v21.6m-3 0h6m-6 -21.6h6M160.5 211.3v19.7m-3 0h6m-6 -19.7h6M159.7 222.3v16.5m-3 0h6m-6 -16.5h6M154.0 218.2v16.9m-3 0h6m-6 -16.9h6M160.8 236.6v18.9m-3 0h6m-6 -18.9h6M161.7 234.4v18.1m-3 0h6m-6 -18.1h6M152.5 236.3v15.6m-3 0h6m-6 -15.6h6M154.6 215.6v21.6m-3 0h6m-6 -21.6h6M158.5 213.9v16.8m-3 0h6m-6 -16.8h6M161.1 242.6v15.5m-3 0h6m-6 -15.5h6M160.1 225.0v18.7m-3 0h6m-6 -18.7h6M152.7 228.0v17.6m-3 0h6m-6 -17.6h6M153.4 226.4v19.8m-3 0h6m-6 -19.8h6M159.1 226.6v16.7m-3 0h6m-6 -16.7h6M161.1 227.9v17.4m-3 0h6m-6 -17.4h6M155.7 228.2v16.2m-3 0h6m-6 -16.2h6M157.1 237.0v18.9m-3 0h6m-6 -18.9h6M153.2 224.2v19.0m-3 0h6m-6 -19.0h6M158.0 235.1v16.0m-3 0h6m-6 -16.0h6M161.0 231.7v18.8m-3 0h6m-6 -18.8h6M161.4 225.4v15.7m-3 0h6m-6 -15.7h6M156.7 205.2v20.2m-3 0h6m-6 -20.2h6M161.5 229.0v18.1m-3 0h6m-6 -18.1h6M159.1 254.1v17.7m-3 0h6m-6 -17.7h6M152.7 222.2v20.1m-3 0h6m-6 -20.1h6M153.8 210.9v22.1m-3 0h6m-6 -22.1h6M155.4 241.1v16.8m-3 0h6m-6 -16.8h6M153.9 228.7v20.9m-3 0h6m-6 -20.9h6M161.5 218.4v21.0m-3 0h6m-6 -21.0h6M160.1 232.8v21.3m-3 0h6m-6 -21.3h6M159.9 236.2v19.8m-3 0h6m-6 -19.8h6M154.7 249.9v19.1m-3 0h6m-6 -19.1h6M171.5 230.1v14.8m-3 0h6m-6 -14.8h6M180.7 247.2v19.9m-3 0h6m-6 -19.9h6M172.7 213.3v20.1m-3 0h6m-6 -20.1h6M170.6 214.1v17.9m-3 0h6m-6 -17.9h6M168.9 224.2v21.1m-3 0h6m-6 -21.1h6M174.8 217.2v16.9m-3 0h6m-6 -16.9h6M180.9 208.8v21.0m-3 0h6m-6 -21.0h6M163.2 253.5v17.8m-3 0h6m-6 -17.8h6M162.3 225.7v20.1m-3 0h6m-6 -20.1h6M162.4 238.8v18.8m-3 0h6m-6 -18.8h6M164.7 217.0v15.1m-3 0h6m-6 -15.1h6M165.0 244.3v20.4m-3 0h6m-6 -20.4h6M164.2 221.2v16.7m-3 0h6m-6 -16.7h6M170.8 251.3v17.3m-3 0h6m-6 -17.3h6M169.6 228.0v18.1m-3 0h6m-6 -18.1h6M176.3 215.8v20.7m-3 0h6m-6 -20.7h6M165.1 239.6v19.8m-3 0h6m-6 -19.8h6M162.2 220.7v19.9m-3 0h6m-6 -19.9h6M168.3 218.1v19.6m-3 0h6m-6 -19.6h6M164.8 228.5v20.1m-3 0h6m-6 -20.1h6M168.5 229.7v15.6m-3 0h6m-6 -15.6h6M169.5 205.7v20.0m-3 0h6m-6 -20.0h6M163.3 222.6v19.1m-3 0h6m-6 -19.1h6M165.7 233.4v18.8m-3 0h6m-6 -18.8h6M171.6 245.7v18.8m-3 0h6m-6 -18.8h6M180.8 229.2v17.0m-3 0h6m-6 -17.0h6M165.8 208.2v18.0m-3 0h6m-6 -18.0h6M172.0 211.3v19.2m-3 0h6m-6 -19.2h6M177.5 251.5v16.1m-3 0h6m-6 -16.1h6M166.7 224.5v22.2m-3 0h6m-6 -22.2h6M172.9 232.7v19.1m-3 0h6m-6 -19.1h6M168.3 234.3v20.4m-3 0h6m-6 -20.4h6M175.4 222.1v19.1m-3 0h6m-6 -19.1h6M172.0 231.3v20.7m-3 0h6m-6 -20.7h6M162.6 230.2v16.0m-3 0h6m-6 -16.0h6M169.4 237.0v20.1m-3 0h6m-6 -20.1h6M166.3 222.1v15.8m-3 0h6m-6 -15.8h6M163.5 221.0v20.3m-3 0h6m-6 -20.3h6M178.8 231.0v13.9m-3 0h6m-6 -13.9h6M163.8 211.2v20.1m-3 0h6m-6 -20.1h6M174.4 225.1v17.0m-3 0h6m-6 -17.0h6M176.9 244.0v18.9m-3 0h6m-6 -18.9h6M177.6 231.0v19.2m-3 0h6m-6 -19.2h6M168.2 230.0v17.7m-3 0h6m-6 -17.7h6M167.2 229.8v16.3m-3 0h6m-6 -16.3h6M175.7 253.8v18.7m-3 0h6m-6 -18.7h6M179.9 222.3v18.6m-3 0h6m-6 -18.6h6M176.3 246.4v21.8m-3 0h6m-6 -21.8h6M174.0 213.4v21.8m-3 0h6m-6 -21.8h6M172.3 213.1v22.3m-3 0h6m-6 -22.3h6M167.3 222.4v15.4m-3 0h6m-6 -15.4h6M166.5 227.0v18.7m-3 0h6m-6 -18.7h6M178.5 251.6v18.6m-3 0h6m-6 -18.6h6M164.4 205.7v21.7m-3 0h6m-6 -21.7h6M177.5 227.4v19.5m-3 0h6m-6 -19.5h6M162.2 226.6v22.5m-3 0h6m-6 -22.5h6M180.4 217.7v18.5m-3 0h6m-6 -18.5h6M174.3 223.2v17.9m-3 0h6m-6 -17.9h6M176.4 237.5v18.3m-3 0h6m-6 -18.3h6M172.5 225.1v15.3m-3 0h6m-6 -15.3h6M165.3 204.5v23.3m-3 0h6m-6 -23.3h6M168.6 204.4v18.5m-3 0h6m-6 -18.5h6M165.3 249.1v21.2m-3 0h6m-6 -21.2h6M169.1 221.5v18.4m-3 0h6m-6 -18.4h6M163.6 213.9v16.9m-3 0h6m-6 -16.9h6M168.5 208.9v22.2m-3 0h6m-6 -22.2h6M175.9 214.1v20.1m-3 0h6m-6 -20.1h6M170.8 213.8v17.0m-3 0h6m-6 -17.0h6M164.5 250.4v17.1m-3 0h6m-6 -17.1h6M164.2 220.0v19.3m-3 0h6m-6 -19.3h6M181.0 242.0v19.1m-3 0h6m-6 -19.1h6M176.0 207.7v21.4m-3 0h6m-6 -21.4h6M165.4 223.9v18.4m-3 0h6m-6 -18.4h6M178.4 205.6v17.1m-3 0h6m-6 -17.1h6M174.5 227.7v15.4m-3 0h6m-6 -15.4h6M166.2 218.4v16.7m-3 0h6m-6 -16.7h6M179.2 218.9v20.4m-3 0h6m-6 -20.4h6M174.1 234.9v20.3m-3 0h6m-6 -20.3h6M170.4 230.2v18.0m-3 0h6m-6 -18.0h6M180.5 240.2v19.9m-3 0h6m-6 -19.9h6M175.6 216.9v17.5m-3 0h6m-6 -17.5h6M179.1 216.2v18.1m-3 0h6m-6 -18.1h6M172.7 231.1v21.5m-3 0h6m-6 -21.5h6M164.0 235.4v18.3m-3 0h6m-6 -18.3h6M173.0 215.2v16.9m-3 0h6m-6 -16.9h6M180.8 253.8v17.7m-3 0h6m-6 -17.7h6M176.9 222.7v20.1m-3 0h6m-6 -20.1h6M165.8 216.1v16.3m-3 0h6m-6 -16.3h6M164.7 247.4v21.4m-3 0h6m-6 -21.4h6M172.8 219.2v21.1m-3 0h6m-6 -21.1h6M175.4 216.0v17.8m-3 0h6m-6 -17.8h6M169.6 246.5v19.4m-3 0h6m-6 -19.4h6M163.8 220.2v20.5m-3 0h6m-6 -20.5h6M173.8 242.1v16.6m-3 0h6m-6 -16.6h6M163.6 245.6v20.0m-3 0h6m-6 -20.0h6M173.2 207.9v19.4m-3 0h6m-6 -19.4h6M181.0 213.4v18.7m-3 0h6m-6 -18.7h6M178.2 230.4v21.3m-3 0h6m-6 -21.3h6M166.1 238.8v19.9m-3 0h6m-6 -19.9h6M172.2 226.4v18.2m-3 0h6m-6 -18.2h6M171.3 229.2v19.1m-3 0h6m-6 -19.1h6M169.3 210.8v19.9m-3 0h6m-6 -19.9h6M163.1 237.5v19.0m-3 0h6m-6 -19.0h6M177.5 234.9v16.4m-3 0h6m-6 -16.4h6M162.8 239.2v18.7m-3 0h6m-6 -18.7h6M173.1 235.2v18.2m-3 0h6m-6 -18.2h6M167.3 241.8v16.3m-3 0h6m-6 -16.3h6M179.5 226.7v19.4m-3 0h6m-6 -19.4h6M164.5 223.8v18.3m-3 0h6m-6 -18.3h6M171.0 225.6v20.4m-3 0h6m-6 -20.4h6M172.3 239.0v19.1m-3 0h6m-6 -19.1h6M162.0 220.2v20.2m-3 0h6m-6 -20.2h6M176.4 247.2v19.0m-3 0h6m-6 -19.0h6M176.6 209.9v18.5m-3 0h6m-6 -18.5h6M176.4 237.6v15.7m-3 0h6m-6 -15.7h6M169.1 232.4v20.9m-3 0h6m-6 -20.9h6M177.8 231.3v17.8m-3 0h6m-6 -17.8h6M168.8 230.9v18.8m-3 0h6m-6 -18.8h6M172.2 210.1v18.8m-3 0h6m-6 -18.8h6M177.8 219.6v21.9m-3 0h6m-6 -21.9h6M163.6 223.8v19.0m-3 0h6m-6 -19.0h6M178.1 221.2v20.6m-3 0h6m-6 -20.6h6M164.5 250.8v18.7m-3 0h6m-6 -18.7h6M174.1 235.0v18.0m-3 0h6m-6 -18.0h6M168.1 251.8v19.1m-3 0h6m-6 -19.1h6M167.7 249.5v20.8m-3 0h6m-6 -20.8h6M178.0 212.7v18.8m-3 0h6m-6 -18.8h6M163.2 232.7v18.4m-3 0h6m-6 -18.4h6M171.3 234.6v17.0m-3 0h6m-6 -17.0h6M168.0 229.3v15.7m-3 0h6m-6 -15.7h6M170.7 244.5v20.8m-3 0h6m-6 -20.8h6M166.9 204.7v19.0m-3 0h6m-6 -19.0h6M172.5 212.0v18.8m-3 0h6m-6 -18.8h6M163.0 215.2v18.3m-3 0h6m-6 -18.3h6M173.8 224.1v20.5m-3 0h6m-6 -20.5h6M172.5 226.7v20.0m-3 0h6m-6 -20.0h6M180.7 210.9v18.6m-3 0h6m-6 -18.6h6M175.6 225.6v15.6m-3 0h6m-6 -15.6h6M166.4 235.2v16.8m-3 0h6m-6 -16.8h6M169.6 216.2v20.6m-3 0h6m-6 -20.6h6M180.3 209.3v17.2m-3 0h6m-6 -17.2h6M173.5 223.3v19.8m-3 0h6m-6 -19.8h6M176.7 218.7v19.1m-3 0h6m-6 -19.1h6M165.2 224.9v19.9m-3 0h6m-6 -19.9h6M164.1 240.3v20.7m-3 0h6m-6 -20.7h6M177.6 224.2v19.6m-3 0h6m-6 -19.6h6M169.7 221.9v18.8m-3 0h6m-6 -18.8h6M176.0 246.5v17.5m-3 0h6m-6 -17.5h6M170.8 214.3v18.2m-3 0h6m-6 -18.2h6M172.8 225.9v19.4m-3 0h6m-6 -19.4h6M173.3 236.9v18.6m-3 0h6m-6 -18.6h6M173.7 222.2v17.9m-3 0h6m-6 -17.9h6M179.1 213.4v19.0m-3 0h6m-6 -19.0h6M170.9 216.4v14.7m-3 0h6m-6 -14.7h6M163.2 239.0v20.6m-3 0h6m-6 -20.6h6M163.8 230.4v17.5m-3 0h6m-6 -17.5h6M175.4 228.1v18.2m-3 0h6m-6 -18.2h6M167.1 228.5v21.0m-3 0h6m-6 -21.0h6M169.5 217.9v17.1m-3 0h6m-6 -17.1h6M163.8 238.6v18.8m-3 0h6m-6 -18.8h6M176.3 222.7v13.1m-3 0h6m-6 -13.1h6M169.7 225.1v18.6m-3 0h6m-6 -18.6h6M180.1 250.2v20.4m-3 0h6m-6 -20.4h6M177.3 213.3v21.9m-3 0h6m-6 -21.9h6M174.1 213.2v19.2m-3 0h6m-6 -19.2h6M163.3 253.3v16.2m-3 0h6m-6 -16.2h6M172.3 214.5v18.4m-3 0h6m-6 -18.4h6M163.4 216.0v18.3m-3 0h6m-6 -18.3h6M176.0 251.0v17.3m-3 0h6m-6 -17.3h6M178.5 226.7v18.2m-3 0h6m-6 -18.2h6M168.1 254.1v18.7m-3 0h6m-6 -18.7h6M179.9 245.2v19.6m-3 0h6m-6 -19.6h6M169.1 228.2v21.2m-3 0h6m-6 -21.2h6M175.9 233.0v16.0m-3 0h6m-6 -16.0h6M179.0 222.7v17.6m-3 0h6m-6 -17.6h6M166.9 225.9v18.5m-3 0h6m-6 -18.5h6M168.5 242.9v19.3m-3 0h6m-6 -19.3h6M169.5 229.9v17.6m-3 0h6m-6 -17.6h6M162.4 202.4v18.4m-3 0h6m-6 -18.4h6M175.3 239.4v18.7m-3 0h6m-6 -18.7h6M166.2 242.9v19.3m-3 0h6m-6 -19.3h6M165.5 242.1v17.2m-3 0h6m-6 -17.2h6M165.0 225.7v17.8m-3 0h6m-6 -17.8h6M163.4 227.1v20.6m-3 0h6m-6 -20.6h6M162.2 233.5v19.8m-3 0h6m-6 -19.8h6M162.8 220.2v18.0m-3 0h6m-6 -18.0h6M179.5 228.2v14.6m-3 0h6m-6 -14.6h6M166.3 236.0v19.0m-3 0h6m-6 -19.0h6M180.8 240.3v18.3m-3 0h6m-6 -18.3h6M166.6 223.1v19.4m-3 0h6m-6 -19.4h6M173.5 230.1v17.5m-3 0h6m-6 -17.5h6M165.2 238.8v19.2m-3 0h6m-6 -19.2h6M171.0 213.4v18.9m-3 0h6m-6 -18.9h6M169.8 214.2v16.5m-3 0h6m-6 -16.5h6M163.6 215.2v20.9m-3 0h6m-6 -20.9h6M162.1 237.7v14.8m-3 0h6m-6 -14.8h6M169.1 230.6v20.1m-3 0h6m-6 -20.1h6M175.1 243.1v20.7m-3 0h6m-6 -20.7h6M168.4 205.9v18.6m-3 0h6m-6 -18.6h6M174.2 220.5v21.8m-3 0h6m-6 -21.8h6M165.9 212.9v18.0m-3 0h6m-6 -18.0h6M162.3 224.0v24.4m-3 0h6m-6 -24.4h6M171.0 233.3v17.3m-3 0h6m-6 -17.3h6M172.0 207.1v17.4m-3 0h6m-6 -17.4h6M177.7 231.1v21.5m-3 0h6m-6 -21.5h6M178.4 237.9v17.1m-3 0h6m-6 -17.1h6M165.6 220.6v17.3m-3 0h6m-6 -17.3h6M170.0 226.0v21.1m-3 0h6m-6 -21.1h6M178.1 227.3v17.6m-3 0h6m-6 -17.6h6M176.3 224.9v20.4m-3 0h6m-6 -20.4h6M164.1 226.3v19.0m-3 0h6m-6 -19.0h6M169.2 252.5v18.2m-3 0h6m-6 -18.2h6M169.8 225.7v17.1m-3 0h6m-6 -17.1h6M169.0 230.3v18.5m-3 0h6m-6 -18.5h6M169.6 207.8v22.4m-3 0h6m-6 -22.4h6M174.1 241.0v16.9m-3 0h6m-6 -16.9h6M167.5 228.3v17.2m-3 0h6m-6 -17.2h6M180.6 245.0v19.4m-3 0h6m-6 -19.4h6M165.7 227.1v16.1m-3 0h6m-6 -16.1h6M179.6 218.0v20.1m-3 0h6m-6 -20.1h6M172.8 220.5v17.1m-3 0h6m-6 -17.1h6M171.7 214.1v20.3m-3 0h6m-6 -20.3h6M178.7 233.2v19.1m-3 0h6m-6 -19.1h6M165.6 235.4v17.7m-3 0h6m-6 -17.7h6M177.4 220.7v17.4m-3 0h6m-6 -17.4h6M177.8 207.1v18.6m-3 0h6m-6 -18.6h6M168.3 230.4v19.5m-3 0h6m-6 -19.5h6M162.0 228.2v20.4m-3 0h6m-6 -20.4h6M167.1 209.9v17.2m-3 0h6m-6 -17.2h6M179.5 219.7v21.7m-3 0h6m-6 -21.7h6M170.9 238.6v19.8m-3 0h6m-6 -19.8h6M166.8 210.1v20.1m-3 0h6m-6 -20.1h6M167.0 237.4v18.4m-3 0h6m-6 -18.4h6M173.0 221.9v15.9m-3 0h6m-6 -15.9h6M167.8 222.7v17.2m-3 0h6m-6 -17.2h6M177.6 224.5v20.4m-3 0h6m-6 -20.4h6M166.0 218.9v18.3m-3 0h6m-6 -18.3h6M163.6 221.2v19.8m-3 0h6m-6 -19.8h6M166.3 210.4v21.6m-3 0h6m-6 -21.6h6M170.5 227.7v19.2m-3 0h6m-6 -19.2h6M179.9 226.8v18.9m-3 0h6m-6 -18.9h6M178.7 237.8v19.1m-3 0h6m-6 -19.1h6M176.5 226.9v14.1m-3 0h6m-6 -14.1h6M163.7 239.2v20.8m-3 0h6m-6 -20.8h6M177.5 243.9v19.3m-3 0h6m-6 -19.3h6M178.9 200.0v22.7m-3 0h6m-6 -22.7h6M171.0 219.2v20.0m-3 0h6m-6 -20.0h6M169.5 206.0v21.9m-3 0h6m-6 -21.9h6M176.1 217.6v19.8m-3 0h6m-6 -19.8h6M171.0 239.3v18.3m-3 0h6m-6 -18.3h6M178.3 248.7v19.4m-3 0h6m-6 -19.4h6M167.3 219.4v18.5m-3 0h6m-6 -18.5h6M175.8 210.5v17.6m-3 0h6m-6 -17.6h6M171.0 213.3v17.5m-3 0h6m-6 -17.5h6M169.3 227.0v18.6m-3 0h6m-6 -18.6h6M167.6 242.2v16.8m-3 0h6m-6 -16.8h6M177.7 207.8v17.9m-3 0h6m-6 -17.9h6M175.9 238.9v20.2m-3 0h6m-6 -20.2h6M174.4 239.9v17.5m-3 0h6m-6 -17.5h6M164.2 224.2v17.5m-3 0h6m-6 -17.5h6M162.5 243.9v19.3m-3 0h6m-6 -19.3h6M172.9 228.4v16.1m-3 0h6m-6 -16.1h6M163.9 214.1v18.0m-3 0h6m-6 -18.0h6M180.3 231.4v17.7m-3 0h6m-6 -17.7h6M165.3 226.9v17.3m-3 0h6m-6 -17.3h6M162.9 230.5v18.5m-3 0h6m-6 -18.5h6M170.9 251.3v17.4m-3 0h6m-6 -17.4h6M166.4 220.1v19.5m-3 0h6m-6 -19.5h6M166.2 251.0v19.8m-3 0h6m-6 -19.8h6M176.9 231.5v19.1m-3 0h6m-6 -19.1h6M177.2 231.5v16.9m-3 0h6m-6 -16.9h6M176.2 209.1v20.3m-3 0h6m-6 -20.3h6M170.0 224.0v19.7m-3 0h6m-6 -19.7h6M173.9 224.4v18.6m-3 0h6m-6 -18.6h6M166.9 234.6v18.2m-3 0h6m-6 -18.2h6M162.9 249.6v18.3m-3 0h6m-6 -18.3h6M178.7 222.8v19.6m-3 0h6m-6 -19.6h6M164.8 204.2v21.9m-3 0h6m-6 -21.9h6M174.2 233.6v18.8m-3 0h6m-6 -18.8h6M172.2 252.2v21.1m-3 0h6m-6 -21.1h6M176.8 219.8v18.7m-3 0h6m-6 -18.7h6M180.8 226.8v20.0m-3 0h6m-6 -20.0h6M177.1 244.9v20.9m-3 0h6m-6 -20.9h6M170.9 221.2v18.7m-3 0h6m-6 -18.7h6M170.3 237.0v19.0m-3 0h6m-6 -19.0h6M165.7 254.6v17.4m-3 0h6m-6 -17.4h6M167.6 221.5v18.4m-3 0h6m-6 -18.4h6M177.6 212.3v21.2m-3 0h6m-6 -21.2h6M177.9 240.9v20.6m-3 0h6m-6 -20.6h6M170.7 218.0v18.7m-3 0h6m-6 -18.7h6M166.8 227.0v18.9m-3 0h6m-6 -18.9h6M169.3 210.5v17.5m-3 0h6m-6 -17.5h6M176.8 249.1v18.5m-3 0h6m-6 -18.5h6M162.8 225.8v20.1m-3 0h6m-6 -20.1h6M175.1 223.4v18.6m-3 0h6m-6 -18.6h6M172.6 224.2v20.6m-3 0h6m-6 -20.6h6M167.0 216.4v22.6m-3 0h6m-6 -22.6h6M179.5 251.6v19.6m-3 0h6m-6 -19.6h6M162.8 233.5v19.1m-3 0h6m-6 -19.1h6M165.1 247.5v18.5m-3 0h6m-6 -18.5h6M181.6 210.4v22.2m-3 0h6m-6 -22.2h6M182.2 232.5v18.4m-3 0h6m-6 -18.4h6M181.7 230.2v18.5m-3 0h6m-6 -18.5h6M181.3 233.4v15.3m-3 0h6m-6 -15.3h6M181.3 218.0v19.5m-3 0h6m-6 -19.5h6M181.5 218.7v15.0m-3 0h6m-6 -15.0h6M181.5 232.6v18.0m-3 0h6m-6 -18.0h6M181.6 225.6v18.2m-3 0h6m-6 -18.2h6M181.5 238.7v18.3m-3 0h6m-6 -18.3h6M181.6 218.9v18.0m-3 0h6m-6 -18.0h6M182.3 226.8v17.1m-3 0h6m-6 -17.1h6M181.5 215.6v17.1m-3 0h6m-6 -17.1h6M181.6 221.8v17.3m-3 0h6m-6 -17.3h6M181.1 208.2v20.8m-3 0h6m-6 -20.8h6M181.5 222.6v17.4m-3 0h6m-6 -17.4h6M182.3 245.8v19.2m-3 0h6m-6 -19.2h6M181.0 236.2v18.5m-3 0h6m-6 -18.5h6M182.0 242.7v16.6m-3 0h6m-6 -16.6h6M181.9 225.5v20.8m-3 0h6m-6 -20.8h6M182.1 220.4v14.8m-3 0h6m-6 -14.8h6M181.8 223.3v18.1m-3 0h6m-6 -18.1h6M202.1 211.9v16.9m-3 0h6m-6 -16.9h6M195.4 230.5v18.5m-3 0h6m-6 -18.5h6M192.0 243.0v15.5m-3 0h6m-6 -15.5h6M189.2 235.1v19.6m-3 0h6m-6 -19.6h6M189.3 249.1v17.6m-3 0h6m-6 -17.6h6M200.6 221.5v20.3m-3 0h6m-6 -20.3h6M187.9 243.4v18.9m-3 0h6m-6 -18.9h6M191.9 251.6v15.7m-3 0h6m-6 -15.7h6M194.2 219.9v16.9m-3 0h6m-6 -16.9h6M188.1 247.5v19.7m-3 0h6m-6 -19.7h6M195.0 242.6v19.5m-3 0h6m-6 -19.5h6M195.9 209.0v17.6m-3 0h6m-6 -17.6h6M195.8 214.7v20.5m-3 0h6m-6 -20.5h6M193.2 240.9v21.9m-3 0h6m-6 -21.9h6M201.8 215.6v16.0m-3 0h6m-6 -16.0h6M195.2 210.4v18.7m-3 0h6m-6 -18.7h6M195.8 248.2v15.1m-3 0h6m-6 -15.1h6M201.3 234.6v20.9m-3 0h6m-6 -20.9h6M204.2 216.8v16.5m-3 0h6m-6 -16.5h6M200.6 220.3v16.9m-3 0h6m-6 -16.9h6M196.8 217.2v21.2m-3 0h6m-6 -21.2h6M188.0 225.6v17.4m-3 0h6m-6 -17.4h6M204.5 218.5v20.1m-3 0h6m-6 -20.1h6M193.0 244.7v18.4m-3 0h6m-6 -18.4h6M200.2 219.7v16.7m-3 0h6m-6 -16.7h6M197.4 247.1v20.1m-3 0h6m-6 -20.1h6M187.7 235.5v15.9m-3 0h6m-6 -15.9h6M204.2 216.4v17.3m-3 0h6m-6 -17.3h6M195.5 210.3v16.5m-3 0h6m-6 -16.5h6M202.4 241.7v20.2m-3 0h6m-6 -20.2h6M197.3 216.9v20.4m-3 0h6m-6 -20.4h6M194.0 229.9v18.4m-3 0h6m-6 -18.4h6M202.6 232.7v21.0m-3 0h6m-6 -21.0h6M201.5 226.5v20.3m-3 0h6m-6 -20.3h6M197.9 240.4v23.8m-3 0h6m-6 -23.8h6M196.3 219.6v17.5m-3 0h6m-6 -17.5h6M202.4 219.7v20.1m-3 0h6m-6 -20.1h6M196.7 219.7v20.7m-3 0h6m-6 -20.7h6M203.5 221.5v20.1m-3 0h6m-6 -20.1h6M188.3 214.7v19.1m-3 0h6m-6 -19.1h6M201.6 210.8v20.9m-3 0h6m-6 -20.9h6M203.1 224.2v17.8m-3 0h6m-6 -17.8h6M192.9 207.6v20.6m-3 0h6m-6 -20.6h6M192.1 231.8v15.9m-3 0h6m-6 -15.9h6M192.5 225.9v18.9m-3 0h6m-6 -18.9h6M202.5 249.4v16.2m-3 0h6m-6 -16.2h6M199.3 205.6v21.5m-3 0h6m-6 -21.5h6M187.4 231.2v18.5m-3 0h6m-6 -18.5h6M198.2 242.1v17.5m-3 0h6m-6 -17.5h6M201.1 225.1v16.0m-3 0h6m-6 -16.0h6M200.5 223.2v20.6m-3 0h6m-6 -20.6h6M192.1 220.1v19.2m-3 0h6m-6 -19.2h6M189.6 224.7v22.2m-3 0h6m-6 -22.2h6M201.2 217.8v17.1m-3 0h6m-6 -17.1h6M197.9 205.6v19.1m-3 0h6m-6 -19.1h6M197.9 238.6v16.4m-3 0h6m-6 -16.4h6M188.4 241.2v18.8m-3 0h6m-6 -18.8h6M198.4 246.5v20.1m-3 0h6m-6 -20.1h6M191.9 207.9v20.1m-3 0h6m-6 -20.1h6M205.0 230.0v21.1m-3 0h6m-6 -21.1h6M202.8 244.6v16.9m-3 0h6m-6 -16.9h6M188.7 236.8v19.1m-3 0h6m-6 -19.1h6M198.5 221.9v19.4m-3 0h6m-6 -19.4h6M196.9 226.6v18.8m-3 0h6m-6 -18.8h6M187.9 219.6v18.0m-3 0h6m-6 -18.0h6M193.6 213.1v14.7m-3 0h6m-6 -14.7h6M193.6 222.3v19.8m-3 0h6m-6 -19.8h6M200.0 229.5v17.1m-3 0h6m-6 -17.1h6M201.6 209.1v18.1m-3 0h6m-6 -18.1h6M198.7 219.9v18.3m-3 0h6m-6 -18.3h6M201.8 212.7v16.9m-3 0h6m-6 -16.9h6M197.4 227.0v18.0m-3 0h6m-6 -18.0h6M193.6 232.6v19.0m-3 0h6m-6 -19.0h6M198.4 236.1v16.3m-3 0h6m-6 -16.3h6M192.7 228.9v18.4m-3 0h6m-6 -18.4h6M193.5 241.9v19.0m-3 0h6m-6 -19.0h6M193.1 233.1v15.9m-3 0h6m-6 -15.9h6M203.8 232.9v17.9m-3 0h6m-6 -17.9h6M198.6 221.7v18.9m-3 0h6m-6 -18.9h6M200.5 215.5v20.1m-3 0h6m-6 -20.1h6M191.8 236.0v16.8m-3 0h6m-6 -16.8h6M191.7 241.6v17.9m-3 0h6m-6 -17.9h6M198.7 213.0v17.5m-3 0h6m-6 -17.5h6M200.7 236.1v20.5m-3 0h6m-6 -20.5h6M190.2 204.5v18.5m-3 0h6m-6 -18.5h6M188.7 217.5v20.5m-3 0h6m-6 -20.5h6M197.2 219.7v18.4m-3 0h6m-6 -18.4h6M187.4 207.3v15.7m-3 0h6m-6 -15.7h6M190.5 219.9v16.4m-3 0h6m-6 -16.4h6M202.9 234.3v16.2m-3 0h6m-6 -16.2h6M202.4 223.2v22.0m-3 0h6m-6 -22.0h6M190.0 229.3v18.1m-3 0h6m-6 -18.1h6M187.4 214.8v17.8m-3 0h6m-6 -17.8h6M191.8 214.2v18.2m-3 0h6m-6 -18.2h6M194.8 238.0v18.7m-3 0h6m-6 -18.7h6M193.4 249.3v20.2m-3 0h6m-6 -20.2h6M203.6 219.0v16.3m-3 0h6m-6 -16.3h6M193.9 214.6v16.7m-3 0h6m-6 -16.7h6M192.4 227.5v22.5m-3 0h6m-6 -22.5h6M192.5 217.8v21.5m-3 0h6m-6 -21.5h6M193.8 249.5v18.9m-3 0h6m-6 -18.9h6M197.9 227.4v20.4m-3 0h6m-6 -20.4h6M195.3 223.5v18.8m-3 0h6m-6 -18.8h6M191.6 210.3v23.4m-3 0h6m-6 -23.4h6M189.7 229.0v19.8m-3 0h6m-6 -19.8h6M187.8 223.5v16.8m-3 0h6m-6 -16.8h6M196.7 238.3v17.5m-3 0h6m-6 -17.5h6M197.1 205.9v19.4m-3 0h6m-6 -19.4h6M201.9 234.9v20.9m-3 0h6m-6 -20.9h6M191.0 220.4v17.9m-3 0h6m-6 -17.9h6M202.9 209.1v18.8m-3 0h6m-6 -18.8h6M190.5 217.1v19.2m-3 0h6m-6 -19.2h6M192.9 214.1v17.2m-3 0h6m-6 -17.2h6M192.9 205.6v20.1m-3 0h6m-6 -20.1h6M194.7 229.5v18.9m-3 0h6m-6 -18.9h6M204.6 215.8v16.1m-3 0h6m-6 -16.1h6M200.1 220.2v18.7m-3 0h6m-6 -18.7h6M194.7 206.2v16.5m-3 0h6m-6 -16.5h6M188.5 232.7v16.5m-3 0h6m-6 -16.5h6M190.8 210.2v18.7m-3 0h6m-6 -18.7h6M201.8 203.6v19.6m-3 0h6m-6 -19.6h6M195.9 207.8v20.6m-3 0h6m-6 -20.6h6M198.4 232.2v20.3m-3 0h6m-6 -20.3h6M195.3 221.6v18.4m-3 0h6m-6 -18.4h6M198.5 247.8v19.8m-3 0h6m-6 -19.8h6M204.0 249.7v19.4m-3 0h6m-6 -19.4h6M187.5 234.0v21.0m-3 0h6m-6 -21.0h6M194.4 224.5v23.5m-3 0h6m-6 -23.5h6M202.3 225.4v19.4m-3 0h6m-6 -19.4h6M190.0 228.4v19.6m-3 0h6m-6 -19.6h6M195.8 240.7v18.8m-3 0h6m-6 -18.8h6M203.2 227.8v18.6m-3 0h6m-6 -18.6h6M193.2 240.6v19.7m-3 0h6m-6 -19.7h6M188.7 246.8v20.3m-3 0h6m-6 -20.3h6M192.1 207.3v17.5m-3 0h6m-6 -17.5h6M196.6 231.5v20.5m-3 0h6m-6 -20.5h6M198.9 232.3v21.3m-3 0h6m-6 -21.3h6M195.7 228.1v18.2m-3 0h6m-6 -18.2h6M197.1 214.5v20.5m-3 0h6m-6 -20.5h6M189.7 204.2v22.2m-3 0h6m-6 -22.2h6M204.1 207.3v18.6m-3 0h6m-6 -18.6h6M194.1 207.8v19.6m-3 0h6m-6 -19.6h6M202.6 228.3v18.8m-3 0h6m-6 -18.8h6M203.8 220.3v19.5m-3 0h6m-6 -19.5h6M191.0 215.4v18.4m-3 0h6m-6 -18.4h6M197.8 210.4v16.3m-3 0h6m-6 -16.3h6M201.7 233.0v20.7m-3 0h6m-6 -20.7h6M189.9 219.4v19.1m-3 0h6m-6 -19.1h6M203.7 229.9v17.1m-3 0h6m-6 -17.1h6M200.4 244.8v17.1m-3 0h6m-6 -17.1h6M204.8 232.7v18.9m-3 0h6m-6 -18.9h6M196.2 222.4v19.2m-3 0h6m-6 -19.2h6M201.2 231.7v19.2m-3 0h6m-6 -19.2h6M188.4 224.1v18.1m-3 0h6m-6 -18.1h6M194.9 244.3v18.7m-3 0h6m-6 -18.7h6M202.9 234.4v16.1m-3 0h6m-6 -16.1h6M189.5 226.9v19.5m-3 0h6m-6 -19.5h6M200.6 224.0v19.0m-3 0h6m-6 -19.0h6M197.5 248.7v18.6m-3 0h6m-6 -18.6h6M200.2 248.2v15.0m-3 0h6m-6 -15.0h6M189.9 227.4v20.5m-3 0h6m-6 -20.5h6M190.5 232.3v22.1m-3 0h6m-6 -22.1h6M190.5 246.1v18.0m-3 0h6m-6 -18.0h6M197.4 220.9v16.4m-3 0h6m-6 -16.4h6M191.2 232.8v23.4m-3 0h6m-6 -23.4h6M192.1 205.2v21.5m-3 0h6m-6 -21.5h6M200.2 236.2v21.4m-3 0h6m-6 -21.4h6M195.3 230.3v19.6m-3 0h6m-6 -19.6h6M189.5 231.7v19.5m-3 0h6m-6 -19.5h6M200.2 227.6v17.9m-3 0h6m-6 -17.9h6M197.0 209.8v16.1m-3 0h6m-6 -16.1h6M204.4 239.9v19.3m-3 0h6m-6 -19.3h6M192.1 234.2v19.0m-3 0h6m-6 -19.0h6M204.9 238.8v18.7m-3 0h6m-6 -18.7h6M198.4 247.1v20.5m-3 0h6m-6 -20.5h6M201.4 232.2v17.1m-3 0h6m-6 -17.1h6M199.1 229.7v17.7m-3 0h6m-6 -17.7h6M188.0 215.2v19.0m-3 0h6m-6 -19.0h6M194.3 218.2v15.8m-3 0h6m-6 -15.8h6M195.9 204.4v18.2m-3 0h6m-6 -18.2h6M189.4 227.4v19.7m-3 0h6m-6 -19.7h6M203.1 241.3v20.0m-3 0h6m-6 -20.0h6M202.8 235.3v18.5m-3 0h6m-6 -18.5h6M203.0 222.5v18.4m-3 0h6m-6 -18.4h6M193.3 218.7v19.6m-3 0h6m-6 -19.6h6M188.4 249.2v16.3m-3 0h6m-6 -16.3h6M200.5 220.0v15.7m-3 0h6m-6 -15.7h6M202.1 238.5v15.7m-3 0h6m-6 -15.7h6M199.5 224.4v18.5m-3 0h6m-6 -18.5h6M187.4 212.7v21.4m-3 0h6m-6 -21.4h6M202.0 229.0v19.4m-3 0h6m-6 -19.4h6M196.2 231.7v16.4m-3 0h6m-6 -16.4h6M196.1 219.8v19.5m-3 0h6m-6 -19.5h6M194.0 228.1v16.9m-3 0h6m-6 -16.9h6M189.8 234.0v14.1m-3 0h6m-6 -14.1h6M200.4 227.7v20.6m-3 0h6m-6 -20.6h6M187.7 238.3v17.4m-3 0h6m-6 -17.4h6M203.1 223.2v20.3m-3 0h6m-6 -20.3h6M197.9 218.6v20.2m-3 0h6m-6 -20.2h6M201.3 227.3v17.7m-3 0h6m-6 -17.7h6M188.9 233.2v14.9m-3 0h6m-6 -14.9h6M187.8 245.4v21.0m-3 0h6m-6 -21.0h6M190.9 204.6v18.6m-3 0h6m-6 -18.6h6M202.8 226.6v17.7m-3 0h6m-6 -17.7h6M191.0 217.6v20.7m-3 0h6m-6 -20.7h6M187.6 245.1v18.6m-3 0h6m-6 -18.6h6M187.5 218.6v15.8m-3 0h6m-6 -15.8h6M204.8 231.4v20.2m-3 0h6m-6 -20.2h6M192.9 243.8v19.2m-3 0h6m-6 -19.2h6M200.8 233.2v13.9m-3 0h6m-6 -13.9h6M194.4 223.1v15.3m-3 0h6m-6 -15.3h6M190.9 229.6v21.5m-3 0h6m-6 -21.5h6M194.3 224.8v20.5m-3 0h6m-6 -20.5h6M198.7 219.5v20.1m-3 0h6m-6 -20.1h6M187.7 207.4v19.8m-3 0h6m-6 -19.8h6M198.9 222.1v18.2m-3 0h6m-6 -18.2h6M198.3 244.6v20.7m-3 0h6m-6 -20.7h6M199.0 236.7v18.1m-3 0h6m-6 -18.1h6M204.9 211.0v21.4m-3 0h6m-6 -21.4h6M188.1 245.6v18.4m-3 0h6m-6 -18.4h6M200.2 204.8v19.1m-3 0h6m-6 -19.1h6M192.4 235.3v18.8m-3 0h6m-6 -18.8h6M187.7 228.4v15.9m-3 0h6m-6 -15.9h6M202.1 228.3v13.8m-3 0h6m-6 -13.8h6M195.8 244.3v14.7m-3 0h6m-6 -14.7h6M200.7 222.2v20.6m-3 0h6m-6 -20.6h6M190.5 249.9v19.7m-3 0h6m-6 -19.7h6M193.5 227.3v19.8m-3 0h6m-6 -19.8h6M191.0 227.1v15.3m-3 0h6m-6 -15.3h6M203.9 211.4v18.4m-3 0h6m-6 -18.4h6M200.3 231.8v17.6m-3 0h6m-6 -17.6h6M191.0 229.0v16.9m-3 0h6m-6 -16.9h6M200.1 216.5v17.1m-3 0h6m-6 -17.1h6M204.7 229.6v17.8m-3 0h6m-6 -17.8h6M197.6 251.4v19.8m-3 0h6m-6 -19.8h6M194.7 236.0v18.6m-3 0h6m-6 -18.6h6M193.9 231.6v18.6m-3 0h6m-6 -18.6h6M188.1 226.3v15.6m-3 0h6m-6 -15.6h6M190.2 220.0v15.9m-3 0h6m-6 -15.9h6M189.9 228.5v21.7m-3 0h6m-6 -21.7h6M199.3 219.2v17.4m-3 0h6m-6 -17.4h6M203.2 240.7v17.5m-3 0h6m-6 -17.5h6M190.6 232.0v18.1m-3 0h6m-6 -18.1h6M197.6 244.7v16.2m-3 0h6m-6 -16.2h6M192.7 218.7v17.7m-3 0h6m-6 -17.7h6M196.9 226.4v18.1m-3 0h6m-6 -18.1h6M189.8 244.9v20.7m-3 0h6m-6 -20.7h6M203.6 213.2v18.1m-3 0h6m-6 -18.1h6M202.2 252.0v17.0m-3 0h6m-6 -17.0h6M193.1 222.2v17.7m-3 0h6m-6 -17.7h6M204.3 216.2v15.7m-3 0h6m-6 -15.7h6M187.3 223.9v20.3m-3 0h6m-6 -20.3h6M198.3 220.1v19.6m-3 0h6m-6 -19.6h6M201.2 238.3v18.8m-3 0h6m-6 -18.8h6M201.5 211.4v17.8m-3 0h6m-6 -17.8h6M204.7 222.0v16.6m-3 0h6m-6 -16.6h6M187.8 231.5v18.9m-3 0h6m-6 -18.9h6M201.3 217.7v16.0m-3 0h6m-6 -16.0h6M190.3 238.0v18.3m-3 0h6m-6 -18.3h6M192.7 239.3v18.1m-3 0h6m-6 -18.1h6M202.5 223.2v20.0m-3 0h6m-6 -20.0h6M200.2 241.8v16.4m-3 0h6m-6 -16.4h6M192.1 225.3v18.2m-3 0h6m-6 -18.2h6M196.5 247.1v18.8m-3 0h6m-6 -18.8h6M200.6 226.5v20.3m-3 0h6m-6 -20.3h6M196.9 242.0v17.3m-3 0h6m-6 -17.3h6M199.5 225.8v19.7m-3 0h6m-6 -19.7h6M198.8 248.0v15.2m-3 0h6m-6 -15.2h6M202.8 233.1v21.4m-3 0h6m-6 -21.4h6M198.2 217.9v21.1m-3 0h6m-6 -21.1h6M188.5 228.7v20.0m-3 0h6m-6 -20.0h6M194.8 234.9v19.8m-3 0h6m-6 -19.8h6M199.0 246.9v18.4m-3 0h6m-6 -18.4h6M204.4 234.6v18.5m-3 0h6m-6 -18.5h6M197.1 231.2v19.5m-3 0h6m-6 -19.5h6M195.8 223.8v17.9m-3 0h6m-6 -17.9h6M187.4 241.3v20.2m-3 0h6m-6 -20.2h6M202.4 222.1v18.1m-3 0h6m-6 -18.1h6M192.8 243.2v17.4m-3 0h6m-6 -17.4h6M189.4 230.0v18.8m-3 0h6m-6 -18.8h6M199.1 250.0v15.0m-3 0h6m-6 -15.0h6M191.2 230.1v20.5m-3 0h6m-6 -20.5h6M188.0 219.2v17.0m-3 0h6m-6 -17.0h6M195.1 218.2v19.1m-3 0h6m-6 -19.1h6M194.3 217.0v19.8m-3 0h6m-6 -19.8h6M209.9 223.9v18.7m-3 0h6m-6 -18.7h6M208.4 226.8v19.7m-3 0h6m-6 -19.7h6M206.4 239.7v19.5m-3 0h6m-6 -19.5h6M208.8 231.3v16.2m-3 0h6m-6 -16.2h6M208.1 226.7v19.4m-3 0h6m-6 -19.4h6M207.4 225.0v19.2m-3 0h6m-6 -19.2h6M206.5 230.5v20.5m-3 0h6m-6 -20.5h6M206.5 220.8v15.7m-3 0h6m-6 -15.7h6M207.8 227.0v19.7m-3 0h6m-6 -19.7h6M206.2 217.4v19.6m-3 0h6m-6 -19.6h6M208.1 229.1v20.3m-3 0h6m-6 -20.3h6M207.4 236.7v18.2m-3 0h6m-6 -18.2h6M206.7 223.0v19.5m-3 0h6m-6 -19.5h6M206.8 225.5v18.4m-3 0h6m-6 -18.4h6M207.8 234.1v17.8m-3 0h6m-6 -17.8h6M206.1 229.0v17.0m-3 0h6m-6 -17.0h6M208.9 226.7v21.7m-3 0h6m-6 -21.7h6M208.9 221.3v19.5m-3 0h6m-6 -19.5h6M207.6 235.7v15.3m-3 0h6m-6 -15.3h6M209.4 236.6v18.7m-3 0h6m-6 -18.7h6M208.1 226.5v19.9m-3 0h6m-6 -19.9h6M208.3 238.0v19.6m-3 0h6m-6 -19.6h6M208.3 230.6v16.3m-3 0h6m-6 -16.3h6M207.1 223.3v20.0m-3 0h6m-6 -20.0h6M206.3 221.2v15.2m-3 0h6m-6 -15.2h6M207.4 221.7v15.3m-3 0h6m-6 -15.3h6M205.3 233.8v20.4m-3 0h6m-6 -20.4h6M205.5 223.7v20.5m-3 0h6m-6 -20.5h6M205.1 214.3v20.7m-3 0h6m-6 -20.7h6M209.5 235.3v20.8m-3 0h6m-6 -20.8h6M209.9 224.8v18.9m-3 0h6m-6 -18.9h6M210.0 225.0v20.8m-3 0h6m-6 -20.8h6M208.2 219.2v17.3m-3 0h6m-6 -17.3h6M207.9 240.7v12.0m-3 0h6m-6 -12.0h6M209.9 215.8v18.3m-3 0h6m-6 -18.3h6M209.3 221.9v17.5m-3 0h6m-6 -17.5h6M208.3 222.1v18.3m-3 0h6m-6 -18.3h6M206.1 219.9v19.0m-3 0h6m-6 -19.0h6M207.7 230.2v17.8m-3 0h6m-6 -17.8h6M211.9 227.4v16.9m-3 0h6m-6 -16.9h6M213.7 231.4v18.1m-3 0h6m-6 -18.1h6M210.8 224.6v18.3m-3 0h6m-6 -18.3h6M210.8 223.7v20.4m-3 0h6m-6 -20.4h6M211.3 220.4v21.8m-3 0h6m-6 -21.8h6M212.9 221.6v17.1m-3 0h6m-6 -17.1h6M211.1 225.9v20.5m-3 0h6m-6 -20.5h6M213.4 227.2v19.2m-3 0h6m-6 -19.2h6M213.2 232.2v19.5m-3 0h6m-6 -19.5h6M210.5 231.2v18.2m-3 0h6m-6 -18.2h6M212.6 230.9v17.5m-3 0h6m-6 -17.5h6M213.1 238.1v15.4m-3 0h6m-6 -15.4h6M214.6 226.2v19.8m-3 0h6m-6 -19.8h6M273.7 225.3v18.6m-3 0h6m-6 -18.6h6M276.2 218.1v19.0m-3 0h6m-6 -19.0h6M272.9 234.6v15.9m-3 0h6m-6 -15.9h6M275.3 236.9v20.7m-3 0h6m-6 -20.7h6M274.0 228.4v15.9m-3 0h6m-6 -15.9h6M276.4 227.2v16.4m-3 0h6m-6 -16.4h6M274.2 231.8v21.0m-3 0h6m-6 -21.0h6M272.5 223.3v17.2m-3 0h6m-6 -17.2h6M273.1 219.8v16.5m-3 0h6m-6 -16.5h6M272.6 230.6v18.3m-3 0h6m-6 -18.3h6M276.1 233.0v20.3m-3 0h6m-6 -20.3h6M272.4 224.0v22.0m-3 0h6m-6 -22.0h6M272.6 226.4v13.6m-3 0h6m-6 -13.6h6M272.7 233.3v21.6m-3 0h6m-6 -21.6h6M276.7 230.8v18.9m-3 0h6m-6 -18.9h6M274.8 230.3v16.9m-3 0h6m-6 -16.9h6M272.2 224.3v20.1m-3 0h6m-6 -20.1h6M273.5 230.4v19.6m-3 0h6m-6 -19.6h6M277.0 218.4v18.9m-3 0h6m-6 -18.9h6M273.2 231.4v18.0m-3 0h6m-6 -18.0h6M273.9 223.7v20.0m-3 0h6m-6 -20.0h6M276.5 225.6v18.0m-3 0h6m-6 -18.0h6M276.5 231.6v17.7m-3 0h6m-6 -17.7h6M274.0 236.5v17.4m-3 0h6m-6 -17.4h6M273.6 232.8v16.3m-3 0h6m-6 -16.3h6M276.9 221.0v19.0m-3 0h6m-6 -19.0h6M272.5 235.7v17.0m-3 0h6m-6 -17.0h6M273.0 226.8v19.3m-3 0h6m-6 -19.3h6M272.7 231.5v20.4m-3 0h6m-6 -20.4h6M275.5 224.9v20.0m-3 0h6m-6 -20.0h6M272.5 220.4v19.0m-3 0h6m-6 -19.0h6M276.3 232.5v17.1m-3 0h6m-6 -17.1h6M274.7 227.3v19.3m-3 0h6m-6 -19.3h6M282.2 238.5v18.4m-3 0h6m-6 -18.4h6M286.4 233.7v18.7m-3 0h6m-6 -18.7h6M277.7 236.9v16.4m-3 0h6m-6 -16.4h6M289.3 237.7v19.2m-3 0h6m-6 -19.2h6M283.8 231.8v20.4m-3 0h6m-6 -20.4h6M287.7 225.6v19.9m-3 0h6m-6 -19.9h6M283.0 236.0v17.5m-3 0h6m-6 -17.5h6M284.5 213.8v17.1m-3 0h6m-6 -17.1h6M287.6 228.5v17.4m-3 0h6m-6 -17.4h6M287.3 224.1v19.8m-3 0h6m-6 -19.8h6M289.8 233.7v23.3m-3 0h6m-6 -23.3h6M289.0 221.4v18.9m-3 0h6m-6 -18.9h6M281.6 230.8v19.3m-3 0h6m-6 -19.3h6M290.0 226.5v19.5m-3 0h6m-6 -19.5h6M289.3 233.5v17.5m-3 0h6m-6 -17.5h6M280.1 237.1v16.4m-3 0h6m-6 -16.4h6M287.1 222.3v18.9m-3 0h6m-6 -18.9h6M288.2 224.5v15.3m-3 0h6m-6 -15.3h6M283.7 226.7v18.5m-3 0h6m-6 -18.5h6M288.5 224.7v20.0m-3 0h6m-6 -20.0h6M284.5 236.7v17.2m-3 0h6m-6 -17.2h6M286.5 224.2v17.8m-3 0h6m-6 -17.8h6M284.8 225.4v16.7m-3 0h6m-6 -16.7h6M279.2 230.5v16.3m-3 0h6m-6 -16.3h6M283.8 216.9v18.4m-3 0h6m-6 -18.4h6M283.6 233.3v19.8m-3 0h6m-6 -19.8h6M280.9 218.0v15.4m-3 0h6m-6 -15.4h6M289.5 218.0v16.8m-3 0h6m-6 -16.8h6M285.9 224.2v18.8m-3 0h6m-6 -18.8h6M277.7 225.2v17.3m-3 0h6m-6 -17.3h6M287.7 229.1v22.0m-3 0h6m-6 -22.0h6M283.4 234.8v17.0m-3 0h6m-6 -17.0h6M284.6 221.4v15.5m-3 0h6m-6 -15.5h6M289.4 220.8v16.6m-3 0h6m-6 -16.6h6M279.7 213.5v20.4m-3 0h6m-6 -20.4h6M284.4 220.5v19.3m-3 0h6m-6 -19.3h6M287.8 228.4v16.9m-3 0h6m-6 -16.9h6M278.1 229.7v16.1m-3 0h6m-6 -16.1h6M285.3 223.4v20.0m-3 0h6m-6 -20.0h6M283.4 214.9v22.3m-3 0h6m-6 -22.3h6M288.6 228.4v18.7m-3 0h6m-6 -18.7h6M279.7 223.9v19.8m-3 0h6m-6 -19.8h6M288.5 226.0v18.2m-3 0h6m-6 -18.2h6M283.6 229.6v16.2m-3 0h6m-6 -16.2h6M282.4 227.7v17.7m-3 0h6m-6 -17.7h6M285.5 222.5v19.4m-3 0h6m-6 -19.4h6M277.3 219.5v16.8m-3 0h6m-6 -16.8h6M277.7 222.8v18.2m-3 0h6m-6 -18.2h6M286.1 225.2v19.9m-3 0h6m-6 -19.9h6M286.9 215.4v23.5m-3 0h6m-6 -23.5h6M280.3 220.4v17.8m-3 0h6m-6 -17.8h6M288.1 226.7v17.9m-3 0h6m-6 -17.9h6M282.9 214.6v18.7m-3 0h6m-6 -18.7h6M279.5 229.4v18.0m-3 0h6m-6 -18.0h6M281.7 226.4v16.2m-3 0h6m-6 -16.2h6M284.1 223.9v17.7m-3 0h6m-6 -17.7h6M284.4 232.3v18.3m-3 0h6m-6 -18.3h6M279.5 232.3v17.5m-3 0h6m-6 -17.5h6M282.3 221.9v18.0m-3 0h6m-6 -18.0h6M280.3 224.1v17.3m-3 0h6m-6 -17.3h6M285.0 214.0v19.6m-3 0h6m-6 -19.6h6M277.1 229.0v18.8m-3 0h6m-6 -18.8h6M288.3 228.8v19.8m-3 0h6m-6 -19.8h6M280.6 236.4v18.1m-3 0h6m-6 -18.1h6M286.2 228.4v15.4m-3 0h6m-6 -15.4h6M283.9 227.2v20.2m-3 0h6m-6 -20.2h6M288.7 228.3v18.5m-3 0h6m-6 -18.5h6M277.9 232.2v16.2m-3 0h6m-6 -16.2h6M281.9 222.9v18.2m-3 0h6m-6 -18.2h6M282.9 234.0v18.6m-3 0h6m-6 -18.6h6M279.1 234.3v19.5m-3 0h6m-6 -19.5h6M288.2 222.0v20.6m-3 0h6m-6 -20.6h6M287.9 228.3v17.6m-3 0h6m-6 -17.6h6M288.2 239.1v19.9m-3 0h6m-6 -19.9h6M280.6 227.7v16.9m-3 0h6m-6 -16.9h6M288.2 224.4v18.2m-3 0h6m-6 -18.2h6M285.0 225.8v17.5m-3 0h6m-6 -17.5h6M288.6 219.6v14.9m-3 0h6m-6 -14.9h6M287.0 235.9v16.3m-3 0h6m-6 -16.3h6M288.3 230.2v17.9m-3 0h6m-6 -17.9h6M280.5 225.0v20.2m-3 0h6m-6 -20.2h6M282.1 221.1v19.9m-3 0h6m-6 -19.9h6M288.5 227.8v17.4m-3 0h6m-6 -17.4h6M277.4 234.2v19.8m-3 0h6m-6 -19.8h6M280.8 220.8v19.9m-3 0h6m-6 -19.9h6M286.7 229.3v18.7m-3 0h6m-6 -18.7h6M281.3 230.1v16.7m-3 0h6m-6 -16.7h6M281.2 229.6v20.4m-3 0h6m-6 -20.4h6M282.2 232.7v16.2m-3 0h6m-6 -16.2h6M280.7 236.5v18.4m-3 0h6m-6 -18.4h6M289.5 230.2v17.9m-3 0h6m-6 -17.9h6M286.8 222.7v18.4m-3 0h6m-6 -18.4h6M288.4 222.2v19.0m-3 0h6m-6 -19.0h6M281.9 232.3v20.9m-3 0h6m-6 -20.9h6M288.7 230.5v20.9m-3 0h6m-6 -20.9h6M281.7 222.4v17.3m-3 0h6m-6 -17.3h6M281.6 226.7v20.7m-3 0h6m-6 -20.7h6M287.3 221.4v17.4m-3 0h6m-6 -17.4h6M282.1 223.7v20.0m-3 0h6m-6 -20.0h6M283.9 214.4v19.0m-3 0h6m-6 -19.0h6M289.7 231.1v15.3m-3 0h6m-6 -15.3h6M282.4 224.1v19.1m-3 0h6m-6 -19.1h6M281.4 227.6v18.9m-3 0h6m-6 -18.9h6M289.7 231.3v20.1m-3 0h6m-6 -20.1h6M277.8 229.0v22.0m-3 0h6m-6 -22.0h6M289.5 225.0v20.9m-3 0h6m-6 -20.9h6M282.7 228.2v22.0m-3 0h6m-6 -22.0h6M282.2 232.2v18.6m-3 0h6m-6 -18.6h6M289.2 229.3v18.6m-3 0h6m-6 -18.6h6M282.1 218.6v18.5m-3 0h6m-6 -18.5h6M286.7 233.7v17.8m-3 0h6m-6 -17.8h6M283.2 229.2v16.9m-3 0h6m-6 -16.9h6M288.0 213.1v18.7m-3 0h6m-6 -18.7h6M286.3 224.3v17.5m-3 0h6m-6 -17.5h6M280.2 226.0v18.5m-3 0h6m-6 -18.5h6M281.1 219.3v17.8m-3 0h6m-6 -17.8h6M289.2 229.0v16.2m-3 0h6m-6 -16.2h6M284.7 235.8v18.5m-3 0h6m-6 -18.5h6M284.8 238.0v18.6m-3 0h6m-6 -18.6h6M278.1 239.4v19.0m-3 0h6m-6 -19.0h6M286.0 216.0v17.4m-3 0h6m-6 -17.4h6M280.9 223.2v18.1m-3 0h6m-6 -18.1h6M284.1 236.9v17.8m-3 0h6m-6 -17.8h6M278.3 231.8v17.8m-3 0h6m-6 -17.8h6M278.0 225.9v19.6m-3 0h6m-6 -19.6h6M287.6 228.0v19.1m-3 0h6m-6 -19.1h6M286.7 218.3v21.4m-3 0h6m-6 -21.4h6M280.9 226.3v18.8m-3 0h6m-6 -18.8h6M287.6 231.5v19.8m-3 0h6m-6 -19.8h6M283.8 236.3v19.7m-3 0h6m-6 -19.7h6M287.9 215.7v20.2m-3 0h6m-6 -20.2h6M288.2 227.1v18.0m-3 0h6m-6 -18.0h6M281.1 232.2v16.7m-3 0h6m-6 -16.7h6M286.4 222.3v19.7m-3 0h6m-6 -19.7h6M278.9 226.4v17.2m-3 0h6m-6 -17.2h6M292.9 238.4v19.2m-3 0h6m-6 -19.2h6M299.4 224.6v15.8m-3 0h6m-6 -15.8h6M294.8 240.3v22.1m-3 0h6m-6 -22.1h6M299.0 221.5v18.0m-3 0h6m-6 -18.0h6M295.2 228.8v19.4m-3 0h6m-6 -19.4h6M295.4 222.4v15.7m-3 0h6m-6 -15.7h6M297.2 233.1v22.3m-3 0h6m-6 -22.3h6M296.0 218.3v16.5m-3 0h6m-6 -16.5h6M294.1 232.1v18.3m-3 0h6m-6 -18.3h6M303.4 210.8v21.5m-3 0h6m-6 -21.5h6M295.7 226.0v15.7m-3 0h6m-6 -15.7h6M290.6 242.3v18.7m-3 0h6m-6 -18.7h6M302.2 221.4v16.5m-3 0h6m-6 -16.5h6M298.6 234.2v22.6m-3 0h6m-6 -22.6h6M295.7 218.6v20.7m-3 0h6m-6 -20.7h6M300.5 222.2v19.5m-3 0h6m-6 -19.5h6M296.6 216.2v14.6m-3 0h6m-6 -14.6h6M304.3 219.8v19.6m-3 0h6m-6 -19.6h6M299.3 225.0v20.0m-3 0h6m-6 -20.0h6M297.6 222.3v17.5m-3 0h6m-6 -17.5h6M300.3 224.5v20.0m-3 0h6m-6 -20.0h6M291.1 230.0v19.1m-3 0h6m-6 -19.1h6M303.4 212.0v18.3m-3 0h6m-6 -18.3h6M293.5 220.8v21.0m-3 0h6m-6 -21.0h6M291.2 234.1v16.4m-3 0h6m-6 -16.4h6M292.2 223.1v17.2m-3 0h6m-6 -17.2h6M294.8 225.7v19.2m-3 0h6m-6 -19.2h6M294.5 230.1v17.8m-3 0h6m-6 -17.8h6M298.0 231.3v20.6m-3 0h6m-6 -20.6h6M292.5 222.9v17.2m-3 0h6m-6 -17.2h6M292.4 230.9v20.3m-3 0h6m-6 -20.3h6M295.1 232.2v20.4m-3 0h6m-6 -20.4h6M294.2 240.0v15.6m-3 0h6m-6 -15.6h6M296.5 237.6v18.5m-3 0h6m-6 -18.5h6M293.7 235.1v18.4m-3 0h6m-6 -18.4h6M290.4 224.7v21.7m-3 0h6m-6 -21.7h6M290.8 218.3v20.8m-3 0h6m-6 -20.8h6M294.6 231.7v19.8m-3 0h6m-6 -19.8h6M298.1 232.1v14.7m-3 0h6m-6 -14.7h6M294.1 243.6v17.9m-3 0h6m-6 -17.9h6M302.6 221.7v19.6m-3 0h6m-6 -19.6h6M298.8 229.9v17.9m-3 0h6m-6 -17.9h6M305.0 237.4v16.5m-3 0h6m-6 -16.5h6M304.4 236.7v19.4m-3 0h6m-6 -19.4h6M300.8 217.7v18.5m-3 0h6m-6 -18.5h6M304.2 228.0v18.8m-3 0h6m-6 -18.8h6M303.4 217.6v18.6m-3 0h6m-6 -18.6h6M303.6 222.8v16.3m-3 0h6m-6 -16.3h6M293.6 217.3v21.4m-3 0h6m-6 -21.4h6M304.1 239.6v20.6m-3 0h6m-6 -20.6h6M292.7 210.0v17.7m-3 0h6m-6 -17.7h6M297.7 215.2v14.9m-3 0h6m-6 -14.9h6M302.2 223.1v17.4m-3 0h6m-6 -17.4h6M291.8 220.5v19.0m-3 0h6m-6 -19.0h6M294.4 222.5v19.9m-3 0h6m-6 -19.9h6M296.5 218.6v19.7m-3 0h6m-6 -19.7h6M298.2 211.2v17.7m-3 0h6m-6 -17.7h6M302.8 225.2v17.4m-3 0h6m-6 -17.4h6M290.4 215.1v20.7m-3 0h6m-6 -20.7h6M295.0 221.9v18.0m-3 0h6m-6 -18.0h6M291.5 221.2v18.3m-3 0h6m-6 -18.3h6M297.6 215.4v23.4m-3 0h6m-6 -23.4h6M291.3 234.5v18.8m-3 0h6m-6 -18.8h6M291.7 226.4v15.9m-3 0h6m-6 -15.9h6M293.5 226.3v16.7m-3 0h6m-6 -16.7h6M297.8 219.5v19.2m-3 0h6m-6 -19.2h6M304.1 234.1v17.0m-3 0h6m-6 -17.0h6M298.3 226.6v23.8m-3 0h6m-6 -23.8h6M304.7 229.5v17.0m-3 0h6m-6 -17.0h6M300.3 226.6v20.9m-3 0h6m-6 -20.9h6M300.4 222.0v20.3m-3 0h6m-6 -20.3h6M301.5 238.0v18.4m-3 0h6m-6 -18.4h6M294.5 245.8v15.6m-3 0h6m-6 -15.6h6M292.1 222.0v16.9m-3 0h6m-6 -16.9h6M291.1 219.4v17.4m-3 0h6m-6 -17.4h6M290.1 224.6v20.0m-3 0h6m-6 -20.0h6M292.8 237.4v18.3m-3 0h6m-6 -18.3h6M304.1 217.2v20.0m-3 0h6m-6 -20.0h6M292.8 231.1v18.6m-3 0h6m-6 -18.6h6M292.7 214.7v20.8m-3 0h6m-6 -20.8h6M299.7 226.1v17.9m-3 0h6m-6 -17.9h6M299.8 235.3v20.1m-3 0h6m-6 -20.1h6M296.1 224.8v18.4m-3 0h6m-6 -18.4h6M302.5 225.8v18.1m-3 0h6m-6 -18.1h6M304.7 214.5v21.2m-3 0h6m-6 -21.2h6M303.6 226.4v20.1m-3 0h6m-6 -20.1h6M292.9 232.0v16.6m-3 0h6m-6 -16.6h6M298.8 218.6v17.9m-3 0h6m-6 -17.9h6M295.6 238.4v20.0m-3 0h6m-6 -20.0h6M303.4 222.2v18.2m-3 0h6m-6 -18.2h6M301.8 221.1v16.9m-3 0h6m-6 -16.9h6M295.3 232.4v18.6m-3 0h6m-6 -18.6h6M295.8 216.6v20.0m-3 0h6m-6 -20.0h6M291.2 226.0v19.8m-3 0h6m-6 -19.8h6M297.3 236.9v17.7m-3 0h6m-6 -17.7h6M300.5 223.5v16.4m-3 0h6m-6 -16.4h6M301.6 227.1v19.8m-3 0h6m-6 -19.8h6M298.8 222.2v18.8m-3 0h6m-6 -18.8h6M293.6 229.7v16.3m-3 0h6m-6 -16.3h6M304.3 218.7v21.2m-3 0h6m-6 -21.2h6M290.5 232.8v17.4m-3 0h6m-6 -17.4h6M304.1 229.9v19.0m-3 0h6m-6 -19.0h6M295.0 218.0v20.9m-3 0h6m-6 -20.9h6M303.4 226.5v15.2m-3 0h6m-6 -15.2h6M297.3 242.1v18.9m-3 0h6m-6 -18.9h6M304.4 217.0v17.9m-3 0h6m-6 -17.9h6M304.8 231.2v24.2m-3 0h6m-6 -24.2h6M291.5 216.4v17.9m-3 0h6m-6 -17.9h6M290.1 222.0v18.1m-3 0h6m-6 -18.1h6M298.4 218.6v16.8m-3 0h6m-6 -16.8h6M298.1 226.8v22.1m-3 0h6m-6 -22.1h6M296.5 226.7v18.6m-3 0h6m-6 -18.6h6M304.2 232.0v18.3m-3 0h6m-6 -18.3h6M294.6 221.5v16.9m-3 0h6m-6 -16.9h6M294.5 220.8v23.3m-3 0h6m-6 -23.3h6M300.0 231.5v18.4m-3 0h6m-6 -18.4h6M291.6 238.7v18.7m-3 0h6m-6 -18.7h6M298.7 228.8v18.5m-3 0h6m-6 -18.5h6M304.0 224.8v19.0m-3 0h6m-6 -19.0h6M295.2 225.8v17.0m-3 0h6m-6 -17.0h6M304.1 240.2v13.5m-3 0h6m-6 -13.5h6M290.0 222.5v16.8m-3 0h6m-6 -16.8h6M292.6 219.2v19.0m-3 0h6m-6 -19.0h6M290.8 227.5v18.3m-3 0h6m-6 -18.3h6M290.1 229.7v20.1m-3 0h6m-6 -20.1h6M301.0 222.8v16.5m-3 0h6m-6 -16.5h6M303.0 217.6v19.2m-3 0h6m-6 -19.2h6M297.2 234.7v23.2m-3 0h6m-6 -23.2h6M292.1 213.2v21.5m-3 0h6m-6 -21.5h6M298.5 230.7v19.6m-3 0h6m-6 -19.6h6M295.4 243.2v16.4m-3 0h6m-6 -16.4h6M292.2 240.1v15.9m-3 0h6m-6 -15.9h6M291.1 232.8v17.3m-3 0h6m-6 -17.3h6M290.9 240.0v16.6m-3 0h6m-6 -16.6h6M301.9 236.3v19.9m-3 0h6m-6 -19.9h6M295.3 217.8v19.4m-3 0h6m-6 -19.4h6M299.5 227.3v22.5m-3 0h6m-6 -22.5h6M304.7 243.5v19.5m-3 0h6m-6 -19.5h6M299.0 232.6v17.1m-3 0h6m-6 -17.1h6M291.7 221.2v16.8m-3 0h6m-6 -16.8h6M295.8 219.0v22.1m-3 0h6m-6 -22.1h6M300.9 231.7v22.5m-3 0h6m-6 -22.5h6M293.7 229.9v19.5m-3 0h6m-6 -19.5h6M301.6 234.0v20.1m-3 0h6m-6 -20.1h6M296.2 214.3v19.7m-3 0h6m-6 -19.7h6M294.2 220.8v17.3m-3 0h6m-6 -17.3h6M303.5 239.2v18.3m-3 0h6m-6 -18.3h6M296.1 220.1v18.8m-3 0h6m-6 -18.8h6M298.4 225.1v19.4m-3 0h6m-6 -19.4h6M303.9 217.8v18.4m-3 0h6m-6 -18.4h6M290.5 230.5v17.6m-3 0h6m-6 -17.6h6M301.1 233.0v17.8m-3 0h6m-6 -17.8h6M296.7 234.9v20.6m-3 0h6m-6 -20.6h6M302.9 238.6v18.8m-3 0h6m-6 -18.8h6M295.5 224.6v19.3m-3 0h6m-6 -19.3h6M295.6 221.4v18.0m-3 0h6m-6 -18.0h6M300.7 243.4v17.7m-3 0h6m-6 -17.7h6M296.5 233.1v18.8m-3 0h6m-6 -18.8h6M299.0 226.8v18.8m-3 0h6m-6 -18.8h6M293.6 233.5v19.8m-3 0h6m-6 -19.8h6M291.5 225.7v16.4m-3 0h6m-6 -16.4h6M301.1 227.1v19.2m-3 0h6m-6 -19.2h6M299.2 226.6v16.7m-3 0h6m-6 -16.7h6M297.4 225.8v20.0m-3 0h6m-6 -20.0h6M295.1 226.4v17.8m-3 0h6m-6 -17.8h6M295.3 242.9v17.3m-3 0h6m-6 -17.3h6M302.6 225.2v22.4m-3 0h6m-6 -22.4h6M298.7 227.3v21.0m-3 0h6m-6 -21.0h6M304.7 220.8v17.4m-3 0h6m-6 -17.4h6M302.5 227.7v16.7m-3 0h6m-6 -16.7h6M299.8 220.6v17.4m-3 0h6m-6 -17.4h6M296.5 234.2v19.3m-3 0h6m-6 -19.3h6M293.6 221.3v18.8m-3 0h6m-6 -18.8h6M292.0 234.2v19.1m-3 0h6m-6 -19.1h6M304.7 224.2v19.9m-3 0h6m-6 -19.9h6M302.9 212.9v21.8m-3 0h6m-6 -21.8h6M292.3 226.5v20.0m-3 0h6m-6 -20.0h6M298.3 211.4v18.6m-3 0h6m-6 -18.6h6M302.2 232.7v21.6m-3 0h6m-6 -21.6h6M300.4 225.5v18.7m-3 0h6m-6 -18.7h6M295.7 230.0v18.0m-3 0h6m-6 -18.0h6M300.3 223.3v19.9m-3 0h6m-6 -19.9h6M291.0 231.8v21.5m-3 0h6m-6 -21.5h6M294.2 212.9v19.2m-3 0h6m-6 -19.2h6M304.2 220.8v17.4m-3 0h6m-6 -17.4h6M294.6 222.2v18.0m-3 0h6m-6 -18.0h6M303.1 233.6v17.3m-3 0h6m-6 -17.3h6M290.0 226.8v18.3m-3 0h6m-6 -18.3h6M290.6 225.7v19.3m-3 0h6m-6 -19.3h6M301.6 241.7v18.1m-3 0h6m-6 -18.1h6M293.7 242.1v16.2m-3 0h6m-6 -16.2h6M304.2 235.1v17.0m-3 0h6m-6 -17.0h6M295.1 225.1v16.8m-3 0h6m-6 -16.8h6M301.3 214.0v15.5m-3 0h6m-6 -15.5h6M304.1 244.0v18.8m-3 0h6m-6 -18.8h6M304.8 235.8v18.1m-3 0h6m-6 -18.1h6M302.0 236.6v19.9m-3 0h6m-6 -19.9h6M298.0 219.3v19.5m-3 0h6m-6 -19.5h6M303.3 218.1v19.5m-3 0h6m-6 -19.5h6M297.5 221.4v21.0m-3 0h6m-6 -21.0h6M300.0 229.3v17.7m-3 0h6m-6 -17.7h6M304.0 227.1v18.1m-3 0h6m-6 -18.1h6M291.8 215.2v19.0m-3 0h6m-6 -19.0h6M302.9 233.5v18.1m-3 0h6m-6 -18.1h6M304.5 226.0v19.4m-3 0h6m-6 -19.4h6M301.9 222.9v17.9m-3 0h6m-6 -17.9h6M300.2 244.0v17.1m-3 0h6m-6 -17.1h6M302.5 218.0v21.6m-3 0h6m-6 -21.6h6M296.7 237.0v17.4m-3 0h6m-6 -17.4h6M291.7 229.5v17.7m-3 0h6m-6 -17.7h6M305.9 224.1v18.7m-3 0h6m-6 -18.7h6M307.6 224.2v17.9m-3 0h6m-6 -17.9h6M314.3 213.7v19.7m-3 0h6m-6 -19.7h6M312.2 230.7v17.8m-3 0h6m-6 -17.8h6M309.5 217.3v18.6m-3 0h6m-6 -18.6h6M307.5 223.7v19.8m-3 0h6m-6 -19.8h6M310.8 225.0v18.8m-3 0h6m-6 -18.8h6M312.6 215.9v19.5m-3 0h6m-6 -19.5h6M316.9 218.8v17.6m-3 0h6m-6 -17.6h6M314.9 209.8v21.3m-3 0h6m-6 -21.3h6M307.4 218.8v17.8m-3 0h6m-6 -17.8h6M308.3 241.4v18.5m-3 0h6m-6 -18.5h6M316.5 226.8v19.1m-3 0h6m-6 -19.1h6M311.2 221.4v16.0m-3 0h6m-6 -16.0h6M319.8 242.3v19.8m-3 0h6m-6 -19.8h6M306.3 225.7v18.6m-3 0h6m-6 -18.6h6M309.7 212.1v18.1m-3 0h6m-6 -18.1h6M314.2 219.9v16.9m-3 0h6m-6 -16.9h6M313.4 223.2v21.0m-3 0h6m-6 -21.0h6M316.3 223.0v21.4m-3 0h6m-6 -21.4h6M315.9 233.5v17.1m-3 0h6m-6 -17.1h6M310.2 232.4v18.7m-3 0h6m-6 -18.7h6M317.0 226.6v17.2m-3 0h6m-6 -17.2h6M316.1 219.2v18.4m-3 0h6m-6 -18.4h6M319.0 223.7v20.5m-3 0h6m-6 -20.5h6M319.7 231.6v18.2m-3 0h6m-6 -18.2h6M317.1 218.4v17.6m-3 0h6m-6 -17.6h6M307.7 210.5v19.1m-3 0h6m-6 -19.1h6M316.0 229.6v18.7m-3 0h6m-6 -18.7h6M311.7 233.5v17.8m-3 0h6m-6 -17.8h6M316.5 226.8v17.3m-3 0h6m-6 -17.3h6M308.1 222.0v17.7m-3 0h6m-6 -17.7h6M305.5 208.0v20.7m-3 0h6m-6 -20.7h6M313.3 213.3v17.0m-3 0h6m-6 -17.0h6M307.2 220.5v18.5m-3 0h6m-6 -18.5h6M314.4 208.0v20.4m-3 0h6m-6 -20.4h6M315.2 218.7v18.3m-3 0h6m-6 -18.3h6M315.3 210.8v20.6m-3 0h6m-6 -20.6h6M309.0 232.3v17.8m-3 0h6m-6 -17.8h6M313.7 238.0v17.3m-3 0h6m-6 -17.3h6M312.5 226.2v18.7m-3 0h6m-6 -18.7h6M315.7 228.6v16.9m-3 0h6m-6 -16.9h6M305.3 234.6v17.5m-3 0h6m-6 -17.5h6M314.4 223.9v21.3m-3 0h6m-6 -21.3h6M310.8 227.8v21.5m-3 0h6m-6 -21.5h6M314.9 232.2v21.0m-3 0h6m-6 -21.0h6M318.9 226.6v20.0m-3 0h6m-6 -20.0h6M319.4 227.8v17.0m-3 0h6m-6 -17.0h6M310.0 213.0v17.5m-3 0h6m-6 -17.5h6M319.0 225.3v16.1m-3 0h6m-6 -16.1h6M316.1 215.7v16.9m-3 0h6m-6 -16.9h6M316.4 234.7v18.5m-3 0h6m-6 -18.5h6M319.1 218.6v19.7m-3 0h6m-6 -19.7h6M313.1 218.7v19.8m-3 0h6m-6 -19.8h6M310.3 223.7v19.9m-3 0h6m-6 -19.9h6M305.4 246.3v14.4m-3 0h6m-6 -14.4h6M315.5 209.3v19.9m-3 0h6m-6 -19.9h6M318.5 240.3v15.8m-3 0h6m-6 -15.8h6M317.6 224.1v19.8m-3 0h6m-6 -19.8h6M310.4 221.8v18.4m-3 0h6m-6 -18.4h6M312.8 241.9v20.8m-3 0h6m-6 -20.8h6M312.3 230.3v20.8m-3 0h6m-6 -20.8h6M314.7 228.9v15.5m-3 0h6m-6 -15.5h6M309.6 233.6v17.3m-3 0h6m-6 -17.3h6M309.0 226.9v18.2m-3 0h6m-6 -18.2h6M305.5 214.9v18.4m-3 0h6m-6 -18.4h6M313.4 220.0v20.1m-3 0h6m-6 -20.1h6M307.9 232.6v16.7m-3 0h6m-6 -16.7h6M316.3 220.8v19.9m-3 0h6m-6 -19.9h6M306.1 211.7v17.3m-3 0h6m-6 -17.3h6M309.0 242.8v17.7m-3 0h6m-6 -17.7h6M305.2 226.3v20.4m-3 0h6m-6 -20.4h6M311.7 223.8v19.0m-3 0h6m-6 -19.0h6M309.5 213.6v16.9m-3 0h6m-6 -16.9h6M319.5 206.0v19.4m-3 0h6m-6 -19.4h6M305.4 218.6v19.3m-3 0h6m-6 -19.3h6M315.1 224.8v17.4m-3 0h6m-6 -17.4h6M311.9 236.9v20.0m-3 0h6m-6 -20.0h6M318.8 235.7v16.3m-3 0h6m-6 -16.3h6M311.3 227.1v20.0m-3 0h6m-6 -20.0h6M307.5 207.9v20.2m-3 0h6m-6 -20.2h6M313.3 218.5v18.9m-3 0h6m-6 -18.9h6M317.0 224.2v21.5m-3 0h6m-6 -21.5h6M308.6 216.4v21.9m-3 0h6m-6 -21.9h6M316.2 232.1v17.5m-3 0h6m-6 -17.5h6M318.4 225.9v20.4m-3 0h6m-6 -20.4h6M315.6 245.1v19.0m-3 0h6m-6 -19.0h6M310.5 234.6v20.3m-3 0h6m-6 -20.3h6M310.8 216.5v18.5m-3 0h6m-6 -18.5h6M311.4 223.0v17.6m-3 0h6m-6 -17.6h6M315.7 209.7v16.7m-3 0h6m-6 -16.7h6M313.6 218.9v17.6m-3 0h6m-6 -17.6h6M312.0 229.8v17.0m-3 0h6m-6 -17.0h6M317.2 219.8v19.9m-3 0h6m-6 -19.9h6M312.7 234.8v16.8m-3 0h6m-6 -16.8h6M318.1 223.1v19.1m-3 0h6m-6 -19.1h6M307.2 209.4v16.2m-3 0h6m-6 -16.2h6M310.3 244.7v18.9m-3 0h6m-6 -18.9h6M308.8 223.7v19.1m-3 0h6m-6 -19.1h6M309.6 226.8v19.4m-3 0h6m-6 -19.4h6M309.8 243.3v17.4m-3 0h6m-6 -17.4h6M309.9 216.9v18.2m-3 0h6m-6 -18.2h6M314.8 228.0v21.1m-3 0h6m-6 -21.1h6M313.3 227.5v17.6m-3 0h6m-6 -17.6h6M309.0 216.8v19.0m-3 0h6m-6 -19.0h6M311.1 216.0v18.9m-3 0h6m-6 -18.9h6M318.9 227.5v19.3m-3 0h6m-6 -19.3h6M309.6 228.0v17.6m-3 0h6m-6 -17.6h6M315.5 208.4v17.4m-3 0h6m-6 -17.4h6M308.2 222.4v18.2m-3 0h6m-6 -18.2h6M305.9 217.8v21.9m-3 0h6m-6 -21.9h6M317.6 223.1v14.9m-3 0h6m-6 -14.9h6M307.2 224.7v17.8m-3 0h6m-6 -17.8h6M306.1 226.3v20.6m-3 0h6m-6 -20.6h6M310.3 214.6v20.6m-3 0h6m-6 -20.6h6M317.3 231.1v16.3m-3 0h6m-6 -16.3h6M312.9 224.8v19.0m-3 0h6m-6 -19.0h6M312.4 225.2v17.7m-3 0h6m-6 -17.7h6M315.4 221.1v17.6m-3 0h6m-6 -17.6h6M308.0 242.9v16.4m-3 0h6m-6 -16.4h6M319.1 213.9v20.9m-3 0h6m-6 -20.9h6M307.1 221.4v19.5m-3 0h6m-6 -19.5h6M310.4 233.9v19.3m-3 0h6m-6 -19.3h6M317.7 223.0v21.3m-3 0h6m-6 -21.3h6M306.7 237.4v19.7m-3 0h6m-6 -19.7h6M319.3 225.7v16.0m-3 0h6m-6 -16.0h6M312.6 209.1v17.1m-3 0h6m-6 -17.1h6M310.6 231.3v20.8m-3 0h6m-6 -20.8h6M319.6 225.7v19.4m-3 0h6m-6 -19.4h6M319.3 221.0v16.5m-3 0h6m-6 -16.5h6M316.2 239.8v14.4m-3 0h6m-6 -14.4h6M309.2 220.7v16.6m-3 0h6m-6 -16.6h6M319.7 232.6v18.7m-3 0h6m-6 -18.7h6M318.0 228.8v19.0m-3 0h6m-6 -19.0h6M306.8 208.7v20.4m-3 0h6m-6 -20.4h6M316.2 224.1v17.6m-3 0h6m-6 -17.6h6M316.9 226.2v20.0m-3 0h6m-6 -20.0h6M313.3 230.4v15.1m-3 0h6m-6 -15.1h6M306.3 237.7v17.5m-3 0h6m-6 -17.5h6M312.9 231.5v18.0m-3 0h6m-6 -18.0h6M317.3 219.5v17.9m-3 0h6m-6 -17.9h6M312.0 213.9v20.4m-3 0h6m-6 -20.4h6M307.3 223.9v15.9m-3 0h6m-6 -15.9h6M306.2 218.3v21.9m-3 0h6m-6 -21.9h6M310.6 221.5v18.4m-3 0h6m-6 -18.4h6M308.1 245.2v13.4m-3 0h6m-6 -13.4h6M316.2 215.6v19.6m-3 0h6m-6 -19.6h6M319.0 223.7v19.1m-3 0h6m-6 -19.1h6M311.3 233.3v20.6m-3 0h6m-6 -20.6h6M312.9 216.5v19.0m-3 0h6m-6 -19.0h6M316.8 236.2v18.6m-3 0h6m-6 -18.6h6M307.9 214.7v17.1m-3 0h6m-6 -17.1h6M311.5 244.4v20.7m-3 0h6m-6 -20.7h6M308.9 226.4v17.9m-3 0h6m-6 -17.9h6M315.9 220.2v19.8m-3 0h6m-6 -19.8h6M306.5 223.5v18.0m-3 0h6m-6 -18.0h6M313.8 218.9v16.9m-3 0h6m-6 -16.9h6M309.4 216.1v18.4m-3 0h6m-6 -18.4h6M311.6 224.5v20.1m-3 0h6m-6 -20.1h6M308.1 236.4v18.9m-3 0h6m-6 -18.9h6M308.2 215.9v17.4m-3 0h6m-6 -17.4h6M313.6 232.8v16.3m-3 0h6m-6 -16.3h6M308.8 220.4v18.9m-3 0h6m-6 -18.9h6M311.5 237.8v19.5m-3 0h6m-6 -19.5h6M317.7 206.8v21.5m-3 0h6m-6 -21.5h6M315.9 230.2v19.5m-3 0h6m-6 -19.5h6M316.0 217.5v18.1m-3 0h6m-6 -18.1h6M317.1 229.4v18.6m-3 0h6m-6 -18.6h6M314.2 217.4v17.3m-3 0h6m-6 -17.3h6M306.2 210.1v17.1m-3 0h6m-6 -17.1h6M311.0 224.0v18.3m-3 0h6m-6 -18.3h6M315.8 231.2v19.2m-3 0h6m-6 -19.2h6M305.4 208.4v18.1m-3 0h6m-6 -18.1h6M310.1 220.8v20.1m-3 0h6m-6 -20.1h6M317.8 216.0v21.1m-3 0h6m-6 -21.1h6M316.1 211.9v17.7m-3 0h6m-6 -17.7h6M318.2 227.1v18.7m-3 0h6m-6 -18.7h6M305.9 237.2v15.5m-3 0h6m-6 -15.5h6M313.1 240.0v18.6m-3 0h6m-6 -18.6h6M310.6 226.9v18.3m-3 0h6m-6 -18.3h6M308.7 236.0v19.6m-3 0h6m-6 -19.6h6M306.7 235.3v17.5m-3 0h6m-6 -17.5h6M308.4 226.2v18.3m-3 0h6m-6 -18.3h6M315.3 216.2v19.6m-3 0h6m-6 -19.6h6M313.0 226.0v14.7m-3 0h6m-6 -14.7h6M309.0 225.6v16.0m-3 0h6m-6 -16.0h6M315.8 229.6v18.5m-3 0h6m-6 -18.5h6M311.1 221.3v15.5m-3 0h6m-6 -15.5h6M308.8 226.0v17.0m-3 0h6m-6 -17.0h6M315.2 231.1v16.2m-3 0h6m-6 -16.2h6M315.6 212.4v16.2m-3 0h6m-6 -16.2h6M310.6 221.8v18.7m-3 0h6m-6 -18.7h6M309.2 222.0v21.3m-3 0h6m-6 -21.3h6M312.5 236.2v16.4m-3 0h6m-6 -16.4h6M316.8 240.7v17.9m-3 0h6m-6 -17.9h6M311.1 223.8v18.5m-3 0h6m-6 -18.5h6M313.6 218.9v19.8m-3 0h6m-6 -19.8h6M305.6 230.0v16.4m-3 0h6m-6 -16.4h6M316.5 236.9v20.3m-3 0h6m-6 -20.3h6M308.3 225.3v21.8m-3 0h6m-6 -21.8h6M317.1 244.3v18.4m-3 0h6m-6 -18.4h6M305.4 231.1v21.0m-3 0h6m-6 -21.0h6M315.2 245.5v17.5m-3 0h6m-6 -17.5h6M306.8 232.4v19.4m-3 0h6m-6 -19.4h6M316.7 240.3v16.3m-3 0h6m-6 -16.3h6M312.0 218.8v18.2m-3 0h6m-6 -18.2h6M311.5 233.7v19.2m-3 0h6m-6 -19.2h6M310.2 243.2v15.8m-3 0h6m-6 -15.8h6M315.7 232.0v19.6m-3 0h6m-6 -19.6h6M317.4 221.4v17.4m-3 0h6m-6 -17.4h6M312.3 222.4v19.7m-3 0h6m-6 -19.7h6M311.1 240.8v15.7m-3 0h6m-6 -15.7h6M311.8 229.8v19.4m-3 0h6m-6 -19.4h6M305.9 237.8v16.3m-3 0h6m-6 -16.3h6M305.4 229.6v19.2m-3 0h6m-6 -19.2h6M316.3 222.7v18.2m-3 0h6m-6 -18.2h6M319.6 218.6v20.3m-3 0h6m-6 -20.3h6M312.2 211.3v19.3m-3 0h6m-6 -19.3h6M313.4 221.1v21.6m-3 0h6m-6 -21.6h6M307.7 218.0v21.7m-3 0h6m-6 -21.7h6M316.2 225.7v18.4m-3 0h6m-6 -18.4h6M309.4 228.6v19.1m-3 0h6m-6 -19.1h6M306.7 227.9v18.3m-3 0h6m-6 -18.3h6M306.4 237.0v21.4m-3 0h6m-6 -21.4h6M305.5 208.2v16.7m-3 0h6m-6 -16.7h6M332.6 231.9v19.1m-3 0h6m-6 -19.1h6M322.7 223.0v20.3m-3 0h6m-6 -20.3h6M322.3 230.7v15.1m-3 0h6m-6 -15.1h6M322.4 222.5v19.8m-3 0h6m-6 -19.8h6M335.0 215.7v19.4m-3 0h6m-6 -19.4h6M325.7 215.7v18.4m-3 0h6m-6 -18.4h6M324.2 202.6v19.9m-3 0h6m-6 -19.9h6M332.7 217.9v17.7m-3 0h6m-6 -17.7h6M334.6 220.2v19.5m-3 0h6m-6 -19.5h6M322.9 218.8v21.0m-3 0h6m-6 -21.0h6M320.6 240.6v19.8m-3 0h6m-6 -19.8h6M328.3 222.3v20.1m-3 0h6m-6 -20.1h6M326.7 228.7v14.8m-3 0h6m-6 -14.8h6M326.0 204.8v18.3m-3 0h6m-6 -18.3h6M324.1 205.2v21.0m-3 0h6m-6 -21.0h6M334.7 224.8v15.0m-3 0h6m-6 -15.0h6M322.2 223.1v18.6m-3 0h6m-6 -18.6h6M321.3 210.2v19.8m-3 0h6m-6 -19.8h6M334.1 228.5v18.8m-3 0h6m-6 -18.8h6M328.2 222.3v20.9m-3 0h6m-6 -20.9h6M332.4 235.4v18.7m-3 0h6m-6 -18.7h6M326.6 231.8v17.5m-3 0h6m-6 -17.5h6M320.6 228.9v19.6m-3 0h6m-6 -19.6h6M328.7 206.9v17.7m-3 0h6m-6 -17.7h6M324.7 213.7v15.7m-3 0h6m-6 -15.7h6M330.2 223.9v15.9m-3 0h6m-6 -15.9h6M329.0 241.7v18.8m-3 0h6m-6 -18.8h6M329.9 224.6v19.1m-3 0h6m-6 -19.1h6M323.5 226.1v17.9m-3 0h6m-6 -17.9h6M334.5 221.0v18.7m-3 0h6m-6 -18.7h6M320.0 212.7v18.0m-3 0h6m-6 -18.0h6M327.7 226.8v17.9m-3 0h6m-6 -17.9h6M334.2 236.5v16.8m-3 0h6m-6 -16.8h6M321.4 223.4v15.0m-3 0h6m-6 -15.0h6M322.6 237.3v16.9m-3 0h6m-6 -16.9h6M324.0 231.3v16.2m-3 0h6m-6 -16.2h6M334.3 218.2v16.9m-3 0h6m-6 -16.9h6M322.3 208.0v18.6m-3 0h6m-6 -18.6h6M326.2 214.8v18.8m-3 0h6m-6 -18.8h6M323.3 226.7v16.7m-3 0h6m-6 -16.7h6M329.2 229.5v18.1m-3 0h6m-6 -18.1h6M324.4 229.7v17.1m-3 0h6m-6 -17.1h6M320.8 233.5v20.3m-3 0h6m-6 -20.3h6M320.6 218.4v16.4m-3 0h6m-6 -16.4h6M325.8 221.3v19.5m-3 0h6m-6 -19.5h6M325.4 239.1v19.5m-3 0h6m-6 -19.5h6M325.4 222.2v20.0m-3 0h6m-6 -20.0h6M326.7 224.7v20.5m-3 0h6m-6 -20.5h6M323.2 215.2v17.0m-3 0h6m-6 -17.0h6M332.3 234.6v18.5m-3 0h6m-6 -18.5h6M328.0 213.2v20.0m-3 0h6m-6 -20.0h6M323.2 222.3v18.3m-3 0h6m-6 -18.3h6M321.5 225.7v22.5m-3 0h6m-6 -22.5h6M328.9 218.4v17.9m-3 0h6m-6 -17.9h6M321.8 217.1v18.2m-3 0h6m-6 -18.2h6M333.2 221.8v19.8m-3 0h6m-6 -19.8h6M328.7 229.6v17.3m-3 0h6m-6 -17.3h6M329.5 218.7v19.6m-3 0h6m-6 -19.6h6M320.7 209.0v19.6m-3 0h6m-6 -19.6h6M332.4 206.8v19.9m-3 0h6m-6 -19.9h6M326.6 219.6v18.8m-3 0h6m-6 -18.8h6M328.3 232.5v20.8m-3 0h6m-6 -20.8h6M328.4 229.6v16.8m-3 0h6m-6 -16.8h6M331.4 219.4v17.9m-3 0h6m-6 -17.9h6M320.9 225.2v20.2m-3 0h6m-6 -20.2h6M333.4 224.6v16.2m-3 0h6m-6 -16.2h6M322.8 229.4v14.9m-3 0h6m-6 -14.9h6M334.7 226.1v17.0m-3 0h6m-6 -17.0h6M331.2 216.4v18.1m-3 0h6m-6 -18.1h6M329.2 222.9v18.3m-3 0h6m-6 -18.3h6M326.2 232.3v17.3m-3 0h6m-6 -17.3h6M326.5 212.3v17.4m-3 0h6m-6 -17.4h6M323.2 230.3v24.1m-3 0h6m-6 -24.1h6M333.4 231.6v14.9m-3 0h6m-6 -14.9h6M321.0 214.2v16.1m-3 0h6m-6 -16.1h6M326.0 227.6v15.7m-3 0h6m-6 -15.7h6M325.6 239.7v16.4m-3 0h6m-6 -16.4h6M324.9 244.4v18.9m-3 0h6m-6 -18.9h6M330.5 216.8v17.3m-3 0h6m-6 -17.3h6M333.5 225.1v20.2m-3 0h6m-6 -20.2h6M331.1 210.2v19.4m-3 0h6m-6 -19.4h6M322.1 206.9v18.4m-3 0h6m-6 -18.4h6M324.6 214.8v18.7m-3 0h6m-6 -18.7h6M332.9 234.9v18.1m-3 0h6m-6 -18.1h6M321.3 228.8v18.8m-3 0h6m-6 -18.8h6M331.4 236.3v17.5m-3 0h6m-6 -17.5h6M333.3 223.3v20.5m-3 0h6m-6 -20.5h6M327.8 212.9v17.8m-3 0h6m-6 -17.8h6M330.0 233.4v18.8m-3 0h6m-6 -18.8h6M330.6 214.2v20.3m-3 0h6m-6 -20.3h6M334.4 240.6v17.4m-3 0h6m-6 -17.4h6M324.5 225.6v19.3m-3 0h6m-6 -19.3h6M332.0 226.0v16.1m-3 0h6m-6 -16.1h6M321.2 226.1v20.1m-3 0h6m-6 -20.1h6M324.2 244.6v17.1m-3 0h6m-6 -17.1h6M329.6 226.5v18.3m-3 0h6m-6 -18.3h6M329.1 242.4v18.2m-3 0h6m-6 -18.2h6M326.9 223.3v18.7m-3 0h6m-6 -18.7h6M327.7 218.9v17.3m-3 0h6m-6 -17.3h6M326.1 225.6v21.7m-3 0h6m-6 -21.7h6M332.7 240.2v17.6m-3 0h6m-6 -17.6h6M329.1 206.1v19.5m-3 0h6m-6 -19.5h6M326.8 232.7v16.0m-3 0h6m-6 -16.0h6M326.7 239.1v18.5m-3 0h6m-6 -18.5h6M323.3 236.7v18.9m-3 0h6m-6 -18.9h6M333.3 211.8v18.4m-3 0h6m-6 -18.4h6M325.0 237.8v16.4m-3 0h6m-6 -16.4h6M334.3 244.8v21.0m-3 0h6m-6 -21.0h6M330.7 206.3v18.4m-3 0h6m-6 -18.4h6M325.9 228.0v14.4m-3 0h6m-6 -14.4h6M333.2 222.3v19.0m-3 0h6m-6 -19.0h6M332.4 210.9v19.3m-3 0h6m-6 -19.3h6M325.6 238.2v19.6m-3 0h6m-6 -19.6h6M324.3 229.8v22.7m-3 0h6m-6 -22.7h6M328.6 233.6v16.6m-3 0h6m-6 -16.6h6M323.0 201.4v17.5m-3 0h6m-6 -17.5h6M327.2 224.3v18.7m-3 0h6m-6 -18.7h6M326.4 218.5v21.2m-3 0h6m-6 -21.2h6M332.6 234.3v20.9m-3 0h6m-6 -20.9h6M326.0 221.0v17.1m-3 0h6m-6 -17.1h6M324.1 228.4v19.8m-3 0h6m-6 -19.8h6M326.8 246.4v18.6m-3 0h6m-6 -18.6h6M326.7 213.9v18.2m-3 0h6m-6 -18.2h6M326.9 209.4v21.5m-3 0h6m-6 -21.5h6M328.4 220.0v18.4m-3 0h6m-6 -18.4h6M329.7 214.8v19.4m-3 0h6m-6 -19.4h6M321.3 207.8v19.0m-3 0h6m-6 -19.0h6M327.2 227.5v18.0m-3 0h6m-6 -18.0h6M333.6 227.3v15.6m-3 0h6m-6 -15.6h6M325.7 242.9v18.3m-3 0h6m-6 -18.3h6M320.0 228.4v21.4m-3 0h6m-6 -21.4h6M326.3 207.9v19.9m-3 0h6m-6 -19.9h6M332.7 229.1v20.3m-3 0h6m-6 -20.3h6M333.9 227.6v16.0m-3 0h6m-6 -16.0h6M328.9 220.6v21.2m-3 0h6m-6 -21.2h6M326.6 217.2v16.0m-3 0h6m-6 -16.0h6M324.1 232.0v19.7m-3 0h6m-6 -19.7h6M324.7 232.0v20.0m-3 0h6m-6 -20.0h6M334.3 219.9v20.6m-3 0h6m-6 -20.6h6M328.2 229.5v17.8m-3 0h6m-6 -17.8h6M330.2 212.1v19.3m-3 0h6m-6 -19.3h6M333.9 208.0v15.8m-3 0h6m-6 -15.8h6M331.3 213.3v17.5m-3 0h6m-6 -17.5h6M324.0 244.7v18.9m-3 0h6m-6 -18.9h6M333.4 226.0v20.8m-3 0h6m-6 -20.8h6M324.9 234.5v19.4m-3 0h6m-6 -19.4h6M329.0 236.7v21.6m-3 0h6m-6 -21.6h6M330.1 229.7v21.8m-3 0h6m-6 -21.8h6M326.2 204.3v17.2m-3 0h6m-6 -17.2h6M330.9 215.6v18.1m-3 0h6m-6 -18.1h6M332.6 217.6v21.0m-3 0h6m-6 -21.0h6M333.4 223.4v20.4m-3 0h6m-6 -20.4h6M320.6 226.4v18.0m-3 0h6m-6 -18.0h6M320.7 234.3v16.9m-3 0h6m-6 -16.9h6M321.3 227.4v19.9m-3 0h6m-6 -19.9h6M322.4 213.8v19.0m-3 0h6m-6 -19.0h6M322.6 223.1v17.4m-3 0h6m-6 -17.4h6M325.2 216.0v16.9m-3 0h6m-6 -16.9h6M325.6 228.9v18.8m-3 0h6m-6 -18.8h6M324.6 235.3v19.1m-3 0h6m-6 -19.1h6M332.7 218.8v19.1m-3 0h6m-6 -19.1h6M330.5 231.2v18.1m-3 0h6m-6 -18.1h6M334.8 216.1v18.2m-3 0h6m-6 -18.2h6M332.7 234.7v20.2m-3 0h6m-6 -20.2h6M331.5 228.8v19.7m-3 0h6m-6 -19.7h6M322.4 220.9v20.3m-3 0h6m-6 -20.3h6M329.4 224.1v16.9m-3 0h6m-6 -16.9h6M332.4 221.4v15.2m-3 0h6m-6 -15.2h6M321.8 215.5v17.1m-3 0h6m-6 -17.1h6M323.0 226.2v19.5m-3 0h6m-6 -19.5h6M331.9 233.1v20.5m-3 0h6m-6 -20.5h6M320.1 218.6v16.7m-3 0h6m-6 -16.7h6M330.9 205.9v18.2m-3 0h6m-6 -18.2h6M333.8 240.8v21.6m-3 0h6m-6 -21.6h6M327.1 224.3v18.8m-3 0h6m-6 -18.8h6M332.8 216.5v19.1m-3 0h6m-6 -19.1h6M332.2 233.6v15.1m-3 0h6m-6 -15.1h6M328.5 243.2v16.0m-3 0h6m-6 -16.0h6M328.2 219.7v21.7m-3 0h6m-6 -21.7h6M325.0 223.8v20.9m-3 0h6m-6 -20.9h6M328.9 212.5v18.9m-3 0h6m-6 -18.9h6M331.2 235.4v18.3m-3 0h6m-6 -18.3h6M331.9 218.3v15.8m-3 0h6m-6 -15.8h6M330.2 239.5v17.7m-3 0h6m-6 -17.7h6M334.7 214.5v18.1m-3 0h6m-6 -18.1h6M326.6 214.5v18.0m-3 0h6m-6 -18.0h6M323.5 229.7v19.0m-3 0h6m-6 -19.0h6M323.9 235.3v16.8m-3 0h6m-6 -16.8h6M322.7 246.9v13.8m-3 0h6m-6 -13.8h6M329.4 230.5v19.3m-3 0h6m-6 -19.3h6M332.2 224.4v19.2m-3 0h6m-6 -19.2h6M332.7 231.3v19.7m-3 0h6m-6 -19.7h6M329.5 227.4v17.8m-3 0h6m-6 -17.8h6M324.6 219.9v20.9m-3 0h6m-6 -20.9h6M321.8 202.4v21.3m-3 0h6m-6 -21.3h6M332.0 209.5v18.4m-3 0h6m-6 -18.4h6M335.0 217.3v17.1m-3 0h6m-6 -17.1h6M331.5 220.8v18.5m-3 0h6m-6 -18.5h6M326.8 236.8v19.9m-3 0h6m-6 -19.9h6M326.9 212.1v24.4m-3 0h6m-6 -24.4h6M333.9 237.6v20.0m-3 0h6m-6 -20.0h6M323.9 236.4v17.3m-3 0h6m-6 -17.3h6M331.4 216.3v18.2m-3 0h6m-6 -18.2h6M331.5 222.1v23.8m-3 0h6m-6 -23.8h6M332.9 225.2v19.4m-3 0h6m-6 -19.4h6M323.0 230.3v18.3m-3 0h6m-6 -18.3h6M326.7 210.0v20.3m-3 0h6m-6 -20.3h6M330.0 228.8v17.1m-3 0h6m-6 -17.1h6M324.5 220.2v17.7m-3 0h6m-6 -17.7h6M329.9 231.2v20.7m-3 0h6m-6 -20.7h6M329.7 216.0v19.3m-3 0h6m-6 -19.3h6M320.6 226.0v17.5m-3 0h6m-6 -17.5h6M329.5 233.3v20.8m-3 0h6m-6 -20.8h6M320.9 211.2v20.8m-3 0h6m-6 -20.8h6M325.3 243.3v18.3m-3 0h6m-6 -18.3h6M320.6 229.6v18.5m-3 0h6m-6 -18.5h6M322.7 232.7v18.0m-3 0h6m-6 -18.0h6M324.2 244.7v17.0m-3 0h6m-6 -17.0h6M330.2 240.0v18.1m-3 0h6m-6 -18.1h6M320.8 205.0v18.8m-3 0h6m-6 -18.8h6M333.6 204.3v21.7m-3 0h6m-6 -21.7h6M328.3 220.6v20.4m-3 0h6m-6 -20.4h6M327.1 226.0v18.7m-3 0h6m-6 -18.7h6M321.5 236.8v20.3m-3 0h6m-6 -20.3h6M324.1 235.9v18.5m-3 0h6m-6 -18.5h6M322.5 215.7v20.7m-3 0h6m-6 -20.7h6M325.2 214.9v18.9m-3 0h6m-6 -18.9h6M334.9 218.5v17.5m-3 0h6m-6 -17.5h6M331.3 230.8v19.8m-3 0h6m-6 -19.8h6M334.1 237.7v20.8m-3 0h6m-6 -20.8h6M324.9 229.2v16.3m-3 0h6m-6 -16.3h6M330.7 221.3v20.0m-3 0h6m-6 -20.0h6M330.6 226.8v20.5m-3 0h6m-6 -20.5h6M333.7 221.5v17.9m-3 0h6m-6 -17.9h6M334.2 232.8v18.2m-3 0h6m-6 -18.2h6M324.3 221.2v19.3m-3 0h6m-6 -19.3h6M323.1 222.6v21.5m-3 0h6m-6 -21.5h6M324.4 229.2v17.4m-3 0h6m-6 -17.4h6M325.0 235.6v18.3m-3 0h6m-6 -18.3h6M333.3 208.1v15.0m-3 0h6m-6 -15.0h6M341.7 229.8v19.1m-3 0h6m-6 -19.1h6M349.0 224.1v17.0m-3 0h6m-6 -17.0h6M348.6 246.2v19.2m-3 0h6m-6 -19.2h6M340.3 209.0v15.9m-3 0h6m-6 -15.9h6M346.5 230.7v18.0m-3 0h6m-6 -18.0h6M340.2 225.3v16.6m-3 0h6m-6 -16.6h6M339.3 217.8v16.9m-3 0h6m-6 -16.9h6M343.5 233.5v17.8m-3 0h6m-6 -17.8h6M339.7 245.8v17.6m-3 0h6m-6 -17.6h6M345.1 239.9v17.8m-3 0h6m-6 -17.8h6M337.0 205.2v18.9m-3 0h6m-6 -18.9h6M339.0 226.2v18.9m-3 0h6m-6 -18.9h6M337.6 233.7v16.2m-3 0h6m-6 -16.2h6M349.7 217.0v19.7m-3 0h6m-6 -19.7h6M349.3 232.1v19.0m-3 0h6m-6 -19.0h6M341.8 241.2v16.9m-3 0h6m-6 -16.9h6M341.6 245.6v18.8m-3 0h6m-6 -18.8h6M347.3 225.2v17.7m-3 0h6m-6 -17.7h6M337.0 230.8v15.5m-3 0h6m-6 -15.5h6M337.4 226.8v18.1m-3 0h6m-6 -18.1h6M345.4 244.9v18.7m-3 0h6m-6 -18.7h6M344.5 246.9v20.3m-3 0h6m-6 -20.3h6M342.6 225.4v16.2m-3 0h6m-6 -16.2h6M346.8 215.6v19.9m-3 0h6m-6 -19.9h6M348.7 205.0v19.6m-3 0h6m-6 -19.6h6M343.4 233.9v16.9m-3 0h6m-6 -16.9h6M349.3 232.2v15.9m-3 0h6m-6 -15.9h6M346.0 220.0v15.7m-3 0h6m-6 -15.7h6M340.6 223.8v17.6m-3 0h6m-6 -17.6h6M339.4 210.8v19.1m-3 0h6m-6 -19.1h6M346.3 235.9v18.7m-3 0h6m-6 -18.7h6M341.9 226.8v16.1m-3 0h6m-6 -16.1h6M338.0 227.3v21.2m-3 0h6m-6 -21.2h6M336.2 218.7v20.7m-3 0h6m-6 -20.7h6M344.8 224.7v15.7m-3 0h6m-6 -15.7h6M341.8 228.7v18.5m-3 0h6m-6 -18.5h6M339.2 243.4v15.7m-3 0h6m-6 -15.7h6M347.1 217.2v18.5m-3 0h6m-6 -18.5h6M336.9 225.3v18.0m-3 0h6m-6 -18.0h6M339.7 204.4v16.7m-3 0h6m-6 -16.7h6M341.6 216.3v18.2m-3 0h6m-6 -18.2h6M335.8 214.2v19.5m-3 0h6m-6 -19.5h6M341.3 226.2v20.3m-3 0h6m-6 -20.3h6M343.4 207.0v19.1m-3 0h6m-6 -19.1h6M337.8 243.0v17.9m-3 0h6m-6 -17.9h6M344.9 233.9v20.5m-3 0h6m-6 -20.5h6M344.4 246.6v20.1m-3 0h6m-6 -20.1h6M341.9 240.9v20.7m-3 0h6m-6 -20.7h6M337.8 211.8v18.3m-3 0h6m-6 -18.3h6M339.4 216.6v16.3m-3 0h6m-6 -16.3h6M336.6 223.2v16.4m-3 0h6m-6 -16.4h6M338.9 227.6v19.4m-3 0h6m-6 -19.4h6M342.9 218.0v16.8m-3 0h6m-6 -16.8h6M344.7 224.8v21.6m-3 0h6m-6 -21.6h6M349.1 225.3v16.4m-3 0h6m-6 -16.4h6M346.4 214.6v18.1m-3 0h6m-6 -18.1h6M337.2 216.2v17.4m-3 0h6m-6 -17.4h6M347.4 220.4v22.2m-3 0h6m-6 -22.2h6M348.0 229.7v19.0m-3 0h6m-6 -19.0h6M340.5 231.5v18.9m-3 0h6m-6 -18.9h6M340.2 247.9v17.3m-3 0h6m-6 -17.3h6M344.2 214.1v16.4m-3 0h6m-6 -16.4h6M342.9 234.6v16.5m-3 0h6m-6 -16.5h6M337.4 201.5v18.5m-3 0h6m-6 -18.5h6M347.4 212.2v19.9m-3 0h6m-6 -19.9h6M340.5 213.6v17.5m-3 0h6m-6 -17.5h6M348.5 240.5v19.0m-3 0h6m-6 -19.0h6M342.0 216.2v18.4m-3 0h6m-6 -18.4h6M348.3 232.7v17.1m-3 0h6m-6 -17.1h6M348.3 234.5v19.3m-3 0h6m-6 -19.3h6M339.9 244.5v15.0m-3 0h6m-6 -15.0h6M345.9 247.8v17.7m-3 0h6m-6 -17.7h6M341.4 234.1v20.9m-3 0h6m-6 -20.9h6M347.2 247.1v20.8m-3 0h6m-6 -20.8h6M346.9 203.8v18.2m-3 0h6m-6 -18.2h6M339.5 201.5v20.5m-3 0h6m-6 -20.5h6M339.3 222.2v22.8m-3 0h6m-6 -22.8h6M337.8 233.4v16.6m-3 0h6m-6 -16.6h6M337.2 212.2v17.8m-3 0h6m-6 -17.8h6M347.4 227.6v15.5m-3 0h6m-6 -15.5h6M348.9 238.7v19.1m-3 0h6m-6 -19.1h6M339.3 199.4v21.0m-3 0h6m-6 -21.0h6M337.7 219.2v19.1m-3 0h6m-6 -19.1h6M335.1 244.9v18.7m-3 0h6m-6 -18.7h6M341.5 222.3v15.8m-3 0h6m-6 -15.8h6M346.3 223.7v14.8m-3 0h6m-6 -14.8h6M348.9 222.5v21.5m-3 0h6m-6 -21.5h6M341.8 220.6v17.1m-3 0h6m-6 -17.1h6M343.7 200.6v20.5m-3 0h6m-6 -20.5h6M342.3 210.8v22.1m-3 0h6m-6 -22.1h6M346.1 206.3v17.5m-3 0h6m-6 -17.5h6M340.6 205.2v19.4m-3 0h6m-6 -19.4h6M338.2 218.1v18.1m-3 0h6m-6 -18.1h6M349.3 212.4v18.9m-3 0h6m-6 -18.9h6M338.6 223.5v18.0m-3 0h6m-6 -18.0h6M342.2 206.8v19.2m-3 0h6m-6 -19.2h6M342.6 230.4v19.6m-3 0h6m-6 -19.6h6M337.2 200.3v19.1m-3 0h6m-6 -19.1h6M343.4 211.2v17.0m-3 0h6m-6 -17.0h6M339.4 227.0v15.6m-3 0h6m-6 -15.6h6M345.4 229.4v17.7m-3 0h6m-6 -17.7h6M341.1 200.3v18.5m-3 0h6m-6 -18.5h6M342.9 214.0v23.2m-3 0h6m-6 -23.2h6M337.7 207.9v18.7m-3 0h6m-6 -18.7h6M335.7 209.4v17.9m-3 0h6m-6 -17.9h6M337.2 231.0v15.8m-3 0h6m-6 -15.8h6M345.0 234.5v18.3m-3 0h6m-6 -18.3h6M339.6 232.0v18.3m-3 0h6m-6 -18.3h6M349.3 202.7v15.5m-3 0h6m-6 -15.5h6M337.5 201.9v17.7m-3 0h6m-6 -17.7h6M340.8 220.5v20.5m-3 0h6m-6 -20.5h6M339.0 224.7v17.5m-3 0h6m-6 -17.5h6M338.7 214.8v18.8m-3 0h6m-6 -18.8h6M345.1 243.3v20.7m-3 0h6m-6 -20.7h6M344.7 232.5v19.6m-3 0h6m-6 -19.6h6M346.2 228.8v19.9m-3 0h6m-6 -19.9h6M338.7 221.6v21.3m-3 0h6m-6 -21.3h6M339.8 214.2v18.7m-3 0h6m-6 -18.7h6M349.8 247.9v16.5m-3 0h6m-6 -16.5h6M342.5 227.4v14.7m-3 0h6m-6 -14.7h6M341.4 202.3v19.3m-3 0h6m-6 -19.3h6M347.2 237.4v16.6m-3 0h6m-6 -16.6h6M335.2 222.9v19.2m-3 0h6m-6 -19.2h6M335.8 237.0v19.6m-3 0h6m-6 -19.6h6M340.8 237.0v16.5m-3 0h6m-6 -16.5h6M342.9 230.5v19.5m-3 0h6m-6 -19.5h6M335.4 214.6v18.8m-3 0h6m-6 -18.8h6M349.2 220.7v19.5m-3 0h6m-6 -19.5h6M347.0 235.6v20.1m-3 0h6m-6 -20.1h6M347.3 244.0v18.2m-3 0h6m-6 -18.2h6M348.2 236.2v16.7m-3 0h6m-6 -16.7h6M339.5 226.8v21.1m-3 0h6m-6 -21.1h6M339.8 250.1v16.9m-3 0h6m-6 -16.9h6M347.1 241.9v17.6m-3 0h6m-6 -17.6h6M344.7 230.3v17.9m-3 0h6m-6 -17.9h6M337.3 199.7v17.2m-3 0h6m-6 -17.2h6M347.7 245.5v19.0m-3 0h6m-6 -19.0h6M345.2 217.1v18.3m-3 0h6m-6 -18.3h6M347.7 218.9v17.5m-3 0h6m-6 -17.5h6M346.4 209.7v20.0m-3 0h6m-6 -20.0h6M346.9 227.5v18.6m-3 0h6m-6 -18.6h6M341.5 245.2v17.6m-3 0h6m-6 -17.6h6M342.8 245.7v19.8m-3 0h6m-6 -19.8h6M344.8 207.7v17.6m-3 0h6m-6 -17.6h6M340.1 236.7v19.9m-3 0h6m-6 -19.9h6M348.4 201.5v17.2m-3 0h6m-6 -17.2h6M336.1 211.3v21.3m-3 0h6m-6 -21.3h6M346.7 245.5v17.7m-3 0h6m-6 -17.7h6M340.4 225.7v18.1m-3 0h6m-6 -18.1h6M347.3 221.9v19.2m-3 0h6m-6 -19.2h6M349.4 208.8v17.7m-3 0h6m-6 -17.7h6M335.8 211.1v19.2m-3 0h6m-6 -19.2h6M338.7 221.8v18.1m-3 0h6m-6 -18.1h6M342.9 236.3v18.7m-3 0h6m-6 -18.7h6M338.0 228.6v18.7m-3 0h6m-6 -18.7h6M339.3 215.7v17.0m-3 0h6m-6 -17.0h6M336.8 216.7v17.6m-3 0h6m-6 -17.6h6M348.6 201.7v20.0m-3 0h6m-6 -20.0h6M339.5 211.0v19.8m-3 0h6m-6 -19.8h6M348.8 219.9v17.1m-3 0h6m-6 -17.1h6M343.0 226.7v20.7m-3 0h6m-6 -20.7h6M349.6 223.7v17.9m-3 0h6m-6 -17.9h6M339.2 219.0v14.1m-3 0h6m-6 -14.1h6M344.3 247.2v17.5m-3 0h6m-6 -17.5h6M346.2 234.3v18.2m-3 0h6m-6 -18.2h6M340.7 227.4v19.2m-3 0h6m-6 -19.2h6M344.2 234.4v16.5m-3 0h6m-6 -16.5h6M348.5 231.4v17.1m-3 0h6m-6 -17.1h6M343.3 234.8v17.1m-3 0h6m-6 -17.1h6M336.7 220.5v18.6m-3 0h6m-6 -18.6h6M339.8 221.3v17.7m-3 0h6m-6 -17.7h6M344.9 206.0v19.6m-3 0h6m-6 -19.6h6M336.0 230.2v15.0m-3 0h6m-6 -15.0h6M336.8 210.6v18.0m-3 0h6m-6 -18.0h6M345.4 232.4v16.1m-3 0h6m-6 -16.1h6M343.5 214.5v18.8m-3 0h6m-6 -18.8h6M349.1 219.5v15.2m-3 0h6m-6 -15.2h6M342.5 242.7v18.9m-3 0h6m-6 -18.9h6M341.5 226.5v15.5m-3 0h6m-6 -15.5h6M348.5 202.0v21.1m-3 0h6m-6 -21.1h6M347.9 221.4v17.4m-3 0h6m-6 -17.4h6M339.1 208.3v18.0m-3 0h6m-6 -18.0h6M345.1 225.4v18.8m-3 0h6m-6 -18.8h6M347.2 204.4v19.8m-3 0h6m-6 -19.8h6M349.5 230.8v17.8m-3 0h6m-6 -17.8h6M344.2 244.3v20.3m-3 0h6m-6 -20.3h6M349.6 219.4v20.0m-3 0h6m-6 -20.0h6M347.0 226.8v18.3m-3 0h6m-6 -18.3h6M345.9 208.6v18.9m-3 0h6m-6 -18.9h6M349.3 236.2v18.8m-3 0h6m-6 -18.8h6M336.0 242.2v20.2m-3 0h6m-6 -20.2h6M344.8 201.9v18.8m-3 0h6m-6 -18.8h6M347.1 246.0v16.6m-3 0h6m-6 -16.6h6M342.6 219.4v18.1m-3 0h6m-6 -18.1h6M346.0 209.5v17.8m-3 0h6m-6 -17.8h6M344.0 226.1v16.7m-3 0h6m-6 -16.7h6M338.8 232.5v17.1m-3 0h6m-6 -17.1h6M342.9 225.6v15.6m-3 0h6m-6 -15.6h6M345.2 231.0v16.4m-3 0h6m-6 -16.4h6M345.4 206.0v21.8m-3 0h6m-6 -21.8h6M347.2 226.2v19.9m-3 0h6m-6 -19.9h6M348.4 240.2v18.6m-3 0h6m-6 -18.6h6M338.2 238.4v18.2m-3 0h6m-6 -18.2h6M344.5 235.1v24.1m-3 0h6m-6 -24.1h6M349.1 209.4v17.8m-3 0h6m-6 -17.8h6M346.9 238.9v15.6m-3 0h6m-6 -15.6h6M349.4 224.9v19.4m-3 0h6m-6 -19.4h6M339.6 223.5v20.7m-3 0h6m-6 -20.7h6M344.1 229.4v21.8m-3 0h6m-6 -21.8h6M337.2 221.1v16.2m-3 0h6m-6 -16.2h6M346.9 210.8v16.4m-3 0h6m-6 -16.4h6M347.0 215.4v15.4m-3 0h6m-6 -15.4h6M343.2 218.3v16.5m-3 0h6m-6 -16.5h6M336.7 225.8v21.5m-3 0h6m-6 -21.5h6M345.7 227.1v18.1m-3 0h6m-6 -18.1h6M346.4 242.1v20.2m-3 0h6m-6 -20.2h6M347.1 231.6v17.6m-3 0h6m-6 -17.6h6M346.6 246.9v18.5m-3 0h6m-6 -18.5h6M340.2 207.1v18.3m-3 0h6m-6 -18.3h6M346.2 226.6v18.1m-3 0h6m-6 -18.1h6M339.9 244.8v18.9m-3 0h6m-6 -18.9h6M346.4 242.2v20.2m-3 0h6m-6 -20.2h6M345.0 235.9v17.6m-3 0h6m-6 -17.6h6M340.0 219.6v19.0m-3 0h6m-6 -19.0h6M338.1 221.6v17.8m-3 0h6m-6 -17.8h6M339.0 228.0v19.0m-3 0h6m-6 -19.0h6M347.3 239.5v19.4m-3 0h6m-6 -19.4h6M343.2 212.4v19.4m-3 0h6m-6 -19.4h6M341.1 235.5v18.2m-3 0h6m-6 -18.2h6M336.2 236.2v17.5m-3 0h6m-6 -17.5h6M348.0 225.5v19.5m-3 0h6m-6 -19.5h6M340.8 233.8v19.6m-3 0h6m-6 -19.6h6M346.2 237.3v14.7m-3 0h6m-6 -14.7h6M346.8 233.3v20.4m-3 0h6m-6 -20.4h6M348.8 204.0v16.2m-3 0h6m-6 -16.2h6M336.6 209.5v13.5m-3 0h6m-6 -13.5h6M343.8 227.8v20.0m-3 0h6m-6 -20.0h6M349.3 246.2v18.6m-3 0h6m-6 -18.6h6M337.6 212.1v19.6m-3 0h6m-6 -19.6h6M345.4 234.2v18.6m-3 0h6m-6 -18.6h6M369.4 215.1v20.0m-3 0h6m-6 -20.0h6M360.2 217.4v18.5m-3 0h6m-6 -18.5h6M369.7 223.8v15.8m-3 0h6m-6 -15.8h6M350.8 216.5v22.0m-3 0h6m-6 -22.0h6M361.5 229.3v18.1m-3 0h6m-6 -18.1h6M359.5 220.8v19.4m-3 0h6m-6 -19.4h6M350.9 227.1v18.0m-3 0h6m-6 -18.0h6M350.8 226.8v19.4m-3 0h6m-6 -19.4h6M352.5 219.1v17.2m-3 0h6m-6 -17.2h6M355.6 212.8v18.6m-3 0h6m-6 -18.6h6M351.8 237.2v19.7m-3 0h6m-6 -19.7h6M361.0 208.6v18.3m-3 0h6m-6 -18.3h6M350.4 235.6v19.1m-3 0h6m-6 -19.1h6M351.7 234.4v19.2m-3 0h6m-6 -19.2h6M353.8 231.6v22.1m-3 0h6m-6 -22.1h6M359.1 231.2v12.9m-3 0h6m-6 -12.9h6M355.0 209.8v16.1m-3 0h6m-6 -16.1h6M356.6 224.3v15.3m-3 0h6m-6 -15.3h6M356.9 231.5v17.6m-3 0h6m-6 -17.6h6M356.4 226.0v20.0m-3 0h6m-6 -20.0h6M364.3 235.7v19.9m-3 0h6m-6 -19.9h6M359.3 223.1v18.1m-3 0h6m-6 -18.1h6M350.1 231.7v16.4m-3 0h6m-6 -16.4h6M363.9 211.5v19.1m-3 0h6m-6 -19.1h6M350.9 203.8v18.6m-3 0h6m-6 -18.6h6M350.8 236.6v19.1m-3 0h6m-6 -19.1h6M352.1 206.8v13.7m-3 0h6m-6 -13.7h6M369.7 244.2v17.6m-3 0h6m-6 -17.6h6M363.7 227.7v18.0m-3 0h6m-6 -18.0h6M352.9 218.1v17.4m-3 0h6m-6 -17.4h6M362.3 230.9v21.9m-3 0h6m-6 -21.9h6M350.2 215.7v16.9m-3 0h6m-6 -16.9h6M354.5 204.8v20.0m-3 0h6m-6 -20.0h6M368.0 216.6v20.1m-3 0h6m-6 -20.1h6M351.2 226.5v16.5m-3 0h6m-6 -16.5h6M352.1 215.3v16.5m-3 0h6m-6 -16.5h6M350.6 228.4v17.0m-3 0h6m-6 -17.0h6M351.6 244.0v19.7m-3 0h6m-6 -19.7h6M365.9 219.0v16.6m-3 0h6m-6 -16.6h6M365.6 219.7v19.7m-3 0h6m-6 -19.7h6M369.3 223.7v18.4m-3 0h6m-6 -18.4h6M353.2 235.5v21.2m-3 0h6m-6 -21.2h6M352.3 232.0v20.3m-3 0h6m-6 -20.3h6M360.4 222.0v17.9m-3 0h6m-6 -17.9h6M356.4 223.4v18.9m-3 0h6m-6 -18.9h6M369.0 239.0v18.2m-3 0h6m-6 -18.2h6M360.8 237.3v15.2m-3 0h6m-6 -15.2h6M352.3 242.0v17.8m-3 0h6m-6 -17.8h6M368.6 230.5v21.5m-3 0h6m-6 -21.5h6M362.5 218.0v19.9m-3 0h6m-6 -19.9h6M361.4 240.2v20.9m-3 0h6m-6 -20.9h6M369.5 225.7v16.7m-3 0h6m-6 -16.7h6M350.0 224.0v15.2m-3 0h6m-6 -15.2h6M369.1 222.4v19.3m-3 0h6m-6 -19.3h6M363.4 218.9v20.0m-3 0h6m-6 -20.0h6M365.1 237.8v16.4m-3 0h6m-6 -16.4h6M353.3 239.4v17.5m-3 0h6m-6 -17.5h6M368.1 225.4v18.0m-3 0h6m-6 -18.0h6M361.0 232.4v21.3m-3 0h6m-6 -21.3h6M352.6 214.7v16.9m-3 0h6m-6 -16.9h6M365.4 216.7v21.5m-3 0h6m-6 -21.5h6M358.7 233.1v21.1m-3 0h6m-6 -21.1h6M352.2 229.3v19.3m-3 0h6m-6 -19.3h6M368.1 241.2v18.1m-3 0h6m-6 -18.1h6M357.2 225.9v17.4m-3 0h6m-6 -17.4h6M368.1 205.7v17.4m-3 0h6m-6 -17.4h6M350.1 247.5v18.1m-3 0h6m-6 -18.1h6M368.1 220.6v15.4m-3 0h6m-6 -15.4h6M356.5 220.6v19.2m-3 0h6m-6 -19.2h6M350.5 224.0v18.3m-3 0h6m-6 -18.3h6M350.0 245.5v18.8m-3 0h6m-6 -18.8h6M357.2 232.3v17.8m-3 0h6m-6 -17.8h6M352.9 223.4v17.4m-3 0h6m-6 -17.4h6M356.5 228.2v17.4m-3 0h6m-6 -17.4h6M369.7 217.7v20.7m-3 0h6m-6 -20.7h6M356.5 231.5v18.6m-3 0h6m-6 -18.6h6M356.7 213.7v16.5m-3 0h6m-6 -16.5h6M363.5 238.1v20.1m-3 0h6m-6 -20.1h6M364.0 213.7v20.2m-3 0h6m-6 -20.2h6M357.1 248.7v16.8m-3 0h6m-6 -16.8h6M368.8 238.6v18.5m-3 0h6m-6 -18.5h6M363.4 222.9v17.7m-3 0h6m-6 -17.7h6M350.1 230.8v16.9m-3 0h6m-6 -16.9h6M360.9 209.4v19.8m-3 0h6m-6 -19.8h6M363.0 233.2v19.4m-3 0h6m-6 -19.4h6M369.3 219.9v17.9m-3 0h6m-6 -17.9h6M358.9 242.2v18.4m-3 0h6m-6 -18.4h6M368.4 237.4v21.7m-3 0h6m-6 -21.7h6M367.7 228.7v22.2m-3 0h6m-6 -22.2h6M351.3 222.5v17.2m-3 0h6m-6 -17.2h6M365.8 225.1v20.1m-3 0h6m-6 -20.1h6M365.1 225.7v21.1m-3 0h6m-6 -21.1h6M358.5 229.1v19.1m-3 0h6m-6 -19.1h6M367.3 218.4v18.8m-3 0h6m-6 -18.8h6M369.8 212.2v16.7m-3 0h6m-6 -16.7h6M359.2 224.4v16.7m-3 0h6m-6 -16.7h6M366.0 215.8v17.7m-3 0h6m-6 -17.7h6M353.4 225.2v15.4m-3 0h6m-6 -15.4h6M355.3 228.7v22.1m-3 0h6m-6 -22.1h6M365.2 216.8v17.8m-3 0h6m-6 -17.8h6M363.3 231.7v18.0m-3 0h6m-6 -18.0h6M356.8 212.9v18.0m-3 0h6m-6 -18.0h6M352.7 217.9v17.7m-3 0h6m-6 -17.7h6M356.1 215.1v21.8m-3 0h6m-6 -21.8h6M355.2 235.5v18.3m-3 0h6m-6 -18.3h6M351.6 229.7v17.3m-3 0h6m-6 -17.3h6M367.7 242.5v18.4m-3 0h6m-6 -18.4h6M359.4 209.0v20.3m-3 0h6m-6 -20.3h6M357.8 235.5v17.3m-3 0h6m-6 -17.3h6M367.7 243.7v17.3m-3 0h6m-6 -17.3h6M367.0 207.9v17.1m-3 0h6m-6 -17.1h6M357.9 213.8v20.1m-3 0h6m-6 -20.1h6M363.9 204.5v18.5m-3 0h6m-6 -18.5h6M365.3 206.8v16.3m-3 0h6m-6 -16.3h6M353.6 219.6v17.5m-3 0h6m-6 -17.5h6M360.3 211.4v19.6m-3 0h6m-6 -19.6h6M359.4 236.6v20.9m-3 0h6m-6 -20.9h6M357.2 203.1v19.5m-3 0h6m-6 -19.5h6M368.6 241.9v18.7m-3 0h6m-6 -18.7h6M354.6 232.8v18.8m-3 0h6m-6 -18.8h6M353.3 218.4v20.0m-3 0h6m-6 -20.0h6M362.4 234.3v16.8m-3 0h6m-6 -16.8h6M365.6 224.0v17.5m-3 0h6m-6 -17.5h6M368.5 221.9v17.2m-3 0h6m-6 -17.2h6M358.6 244.0v17.0m-3 0h6m-6 -17.0h6M350.1 224.2v19.2m-3 0h6m-6 -19.2h6M360.4 218.0v16.3m-3 0h6m-6 -16.3h6M353.3 242.1v16.3m-3 0h6m-6 -16.3h6M358.3 231.2v18.2m-3 0h6m-6 -18.2h6M361.7 221.0v18.3m-3 0h6m-6 -18.3h6M362.5 222.5v14.8m-3 0h6m-6 -14.8h6M367.1 229.6v18.5m-3 0h6m-6 -18.5h6M369.3 234.7v18.3m-3 0h6m-6 -18.3h6M356.6 238.3v18.6m-3 0h6m-6 -18.6h6M361.7 221.8v18.6m-3 0h6m-6 -18.6h6M360.4 231.1v18.6m-3 0h6m-6 -18.6h6M353.7 214.7v18.2m-3 0h6m-6 -18.2h6M365.3 222.6v15.2m-3 0h6m-6 -15.2h6M367.0 233.5v19.4m-3 0h6m-6 -19.4h6M351.6 232.0v14.9m-3 0h6m-6 -14.9h6M355.8 212.6v20.0m-3 0h6m-6 -20.0h6M367.4 224.2v18.8m-3 0h6m-6 -18.8h6M367.4 216.0v17.8m-3 0h6m-6 -17.8h6M364.9 239.2v20.7m-3 0h6m-6 -20.7h6M359.7 208.4v17.4m-3 0h6m-6 -17.4h6M359.4 241.1v20.9m-3 0h6m-6 -20.9h6M363.6 218.6v19.7m-3 0h6m-6 -19.7h6M359.5 229.2v21.2m-3 0h6m-6 -21.2h6M359.4 239.9v15.6m-3 0h6m-6 -15.6h6M352.0 229.9v16.1m-3 0h6m-6 -16.1h6M365.6 211.3v18.2m-3 0h6m-6 -18.2h6M356.6 221.0v17.1m-3 0h6m-6 -17.1h6M350.1 229.2v16.9m-3 0h6m-6 -16.9h6M367.6 244.9v18.0m-3 0h6m-6 -18.0h6M365.6 226.9v17.3m-3 0h6m-6 -17.3h6M365.9 225.5v20.3m-3 0h6m-6 -20.3h6M352.4 241.2v17.5m-3 0h6m-6 -17.5h6M353.5 210.3v17.4m-3 0h6m-6 -17.4h6M359.4 232.9v20.0m-3 0h6m-6 -20.0h6M359.5 219.3v18.4m-3 0h6m-6 -18.4h6M355.5 234.0v17.0m-3 0h6m-6 -17.0h6M359.9 226.4v15.5m-3 0h6m-6 -15.5h6M365.9 218.1v16.0m-3 0h6m-6 -16.0h6M361.7 215.8v14.6m-3 0h6m-6 -14.6h6M358.1 218.0v17.2m-3 0h6m-6 -17.2h6M351.7 237.0v16.1m-3 0h6m-6 -16.1h6M354.8 242.7v20.3m-3 0h6m-6 -20.3h6M361.5 222.4v17.0m-3 0h6m-6 -17.0h6M353.3 234.6v18.7m-3 0h6m-6 -18.7h6M356.4 224.6v23.9m-3 0h6m-6 -23.9h6M367.9 218.2v14.6m-3 0h6m-6 -14.6h6M366.0 217.2v16.4m-3 0h6m-6 -16.4h6M356.4 237.0v18.7m-3 0h6m-6 -18.7h6M356.6 224.3v20.3m-3 0h6m-6 -20.3h6M356.2 232.0v20.3m-3 0h6m-6 -20.3h6M367.2 237.2v17.9m-3 0h6m-6 -17.9h6M368.1 244.1v18.6m-3 0h6m-6 -18.6h6M356.2 216.8v17.8m-3 0h6m-6 -17.8h6M359.3 218.1v18.7m-3 0h6m-6 -18.7h6M369.7 233.7v19.7m-3 0h6m-6 -19.7h6M370.0 211.0v18.8m-3 0h6m-6 -18.8h6M356.4 229.6v16.1m-3 0h6m-6 -16.1h6M359.0 208.8v17.6m-3 0h6m-6 -17.6h6M357.6 231.0v16.6m-3 0h6m-6 -16.6h6M355.9 223.9v16.6m-3 0h6m-6 -16.6h6M363.4 211.1v17.0m-3 0h6m-6 -17.0h6M357.3 249.0v16.8m-3 0h6m-6 -16.8h6M355.3 220.9v16.8m-3 0h6m-6 -16.8h6M366.8 228.4v18.0m-3 0h6m-6 -18.0h6M350.0 233.2v18.6m-3 0h6m-6 -18.6h6M369.8 246.4v17.4m-3 0h6m-6 -17.4h6M367.3 230.4v14.5m-3 0h6m-6 -14.5h6M365.5 205.3v17.9m-3 0h6m-6 -17.9h6M357.1 219.8v18.3m-3 0h6m-6 -18.3h6M363.4 205.5v16.7m-3 0h6m-6 -16.7h6M362.8 220.1v19.0m-3 0h6m-6 -19.0h6M350.6 245.8v19.1m-3 0h6m-6 -19.1h6M355.4 233.9v20.5m-3 0h6m-6 -20.5h6M358.1 219.7v19.7m-3 0h6m-6 -19.7h6M354.6 237.3v19.0m-3 0h6m-6 -19.0h6M355.6 235.2v18.5m-3 0h6m-6 -18.5h6M355.1 219.1v19.2m-3 0h6m-6 -19.2h6M368.2 211.6v17.8m-3 0h6m-6 -17.8h6M355.4 217.9v16.3m-3 0h6m-6 -16.3h6M369.3 219.1v20.3m-3 0h6m-6 -20.3h6M357.9 212.6v17.0m-3 0h6m-6 -17.0h6M362.0 238.7v21.3m-3 0h6m-6 -21.3h6M368.6 217.9v18.4m-3 0h6m-6 -18.4h6M369.2 217.2v16.2m-3 0h6m-6 -16.2h6M350.0 241.9v16.5m-3 0h6m-6 -16.5h6M351.3 243.6v20.8m-3 0h6m-6 -20.8h6M358.6 214.0v18.7m-3 0h6m-6 -18.7h6M357.6 225.7v19.0m-3 0h6m-6 -19.0h6M363.7 211.5v22.0m-3 0h6m-6 -22.0h6M364.7 206.6v17.4m-3 0h6m-6 -17.4h6M359.1 214.1v19.5m-3 0h6m-6 -19.5h6M362.8 223.0v16.7m-3 0h6m-6 -16.7h6M352.8 239.1v18.1m-3 0h6m-6 -18.1h6M361.1 217.3v17.6m-3 0h6m-6 -17.6h6M359.5 220.2v17.4m-3 0h6m-6 -17.4h6M354.0 229.3v19.9m-3 0h6m-6 -19.9h6M366.1 209.1v17.1m-3 0h6m-6 -17.1h6M354.9 217.2v19.0m-3 0h6m-6 -19.0h6M362.9 235.5v20.1m-3 0h6m-6 -20.1h6M353.8 232.1v16.3m-3 0h6m-6 -16.3h6M356.9 241.9v15.5m-3 0h6m-6 -15.5h6M351.1 204.3v19.8m-3 0h6m-6 -19.8h6M366.3 230.4v20.2m-3 0h6m-6 -20.2h6M367.0 228.4v18.8m-3 0h6m-6 -18.8h6M363.1 218.3v23.4m-3 0h6m-6 -23.4h6M362.3 233.7v19.9m-3 0h6m-6 -19.9h6M355.4 218.3v16.7m-3 0h6m-6 -16.7h6M355.9 243.5v17.9m-3 0h6m-6 -17.9h6M364.9 235.0v19.8m-3 0h6m-6 -19.8h6M368.9 227.7v17.6m-3 0h6m-6 -17.6h6M354.0 236.9v19.7m-3 0h6m-6 -19.7h6M365.5 214.6v20.1m-3 0h6m-6 -20.1h6M357.3 242.1v19.4m-3 0h6m-6 -19.4h6M351.9 232.6v19.6m-3 0h6m-6 -19.6h6M364.3 233.4v16.6m-3 0h6m-6 -16.6h6M362.9 226.4v19.9m-3 0h6m-6 -19.9h6M363.9 230.7v19.5m-3 0h6m-6 -19.5h6M360.5 231.9v21.6m-3 0h6m-6 -21.6h6M358.7 246.3v16.6m-3 0h6m-6 -16.6h6M352.2 232.0v18.9m-3 0h6m-6 -18.9h6M354.9 235.3v19.5m-3 0h6m-6 -19.5h6M368.1 220.8v18.9m-3 0h6m-6 -18.9h6M363.7 209.1v17.4m-3 0h6m-6 -17.4h6M357.9 224.4v22.2m-3 0h6m-6 -22.2h6M358.4 213.4v17.0m-3 0h6m-6 -17.0h6M362.5 246.2v19.8m-3 0h6m-6 -19.8h6M353.1 208.9v17.1m-3 0h6m-6 -17.1h6M369.2 235.6v16.4m-3 0h6m-6 -16.4h6M361.0 237.3v16.7m-3 0h6m-6 -16.7h6M368.6 238.6v18.7m-3 0h6m-6 -18.7h6M367.3 224.9v19.2m-3 0h6m-6 -19.2h6M363.9 229.3v18.2m-3 0h6m-6 -18.2h6M363.5 229.4v17.0m-3 0h6m-6 -17.0h6M359.2 236.3v16.9m-3 0h6m-6 -16.9h6M367.8 232.5v16.2m-3 0h6m-6 -16.2h6M367.1 225.2v16.9m-3 0h6m-6 -16.9h6M362.4 221.5v16.7m-3 0h6m-6 -16.7h6M355.0 240.1v18.6m-3 0h6m-6 -18.6h6M357.5 231.9v21.0m-3 0h6m-6 -21.0h6M369.3 206.6v17.2m-3 0h6m-6 -17.2h6M352.7 234.4v20.9m-3 0h6m-6 -20.9h6M360.1 229.8v18.2m-3 0h6m-6 -18.2h6M351.5 211.9v21.1m-3 0h6m-6 -21.1h6M356.6 225.3v17.8m-3 0h6m-6 -17.8h6M355.7 226.3v20.0m-3 0h6m-6 -20.0h6M365.7 245.3v17.2m-3 0h6m-6 -17.2h6M353.1 226.7v20.8m-3 0h6m-6 -20.8h6M369.2 227.7v17.5m-3 0h6m-6 -17.5h6M356.7 205.0v22.7m-3 0h6m-6 -22.7h6M353.9 230.4v18.6m-3 0h6m-6 -18.6h6M356.3 227.2v17.5m-3 0h6m-6 -17.5h6M361.3 232.4v18.3m-3 0h6m-6 -18.3h6M359.5 226.2v18.8m-3 0h6m-6 -18.8h6M366.1 221.5v20.3m-3 0h6m-6 -20.3h6M364.6 235.3v17.8m-3 0h6m-6 -17.8h6M367.2 202.1v20.8m-3 0h6m-6 -20.8h6M366.1 236.2v17.8m-3 0h6m-6 -17.8h6M355.7 226.3v19.2m-3 0h6m-6 -19.2h6M350.9 229.5v17.7m-3 0h6m-6 -17.7h6M353.4 238.1v18.4m-3 0h6m-6 -18.4h6M356.9 246.9v19.7m-3 0h6m-6 -19.7h6M367.5 216.8v19.5m-3 0h6m-6 -19.5h6M365.7 238.3v19.6m-3 0h6m-6 -19.6h6M359.7 229.2v21.4m-3 0h6m-6 -21.4h6M354.2 212.8v18.0m-3 0h6m-6 -18.0h6M369.2 228.5v19.3m-3 0h6m-6 -19.3h6M367.5 226.3v19.3m-3 0h6m-6 -19.3h6M361.7 236.7v20.1m-3 0h6m-6 -20.1h6M366.0 206.7v18.5m-3 0h6m-6 -18.5h6M356.0 223.7v18.4m-3 0h6m-6 -18.4h6M357.1 228.1v21.5m-3 0h6m-6 -21.5h6M353.4 240.3v20.9m-3 0h6m-6 -20.9h6M368.9 209.6v21.4m-3 0h6m-6 -21.4h6M365.1 220.0v18.1m-3 0h6m-6 -18.1h6M350.1 211.7v19.8m-3 0h6m-6 -19.8h6M386.0 243.3v18.2m-3 0h6m-6 -18.2h6M382.8 200.3v18.6m-3 0h6m-6 -18.6h6M384.8 217.7v21.2m-3 0h6m-6 -21.2h6M378.2 213.0v20.2m-3 0h6m-6 -20.2h6M375.0 200.6v16.6m-3 0h6m-6 -16.6h6M382.6 212.1v19.1m-3 0h6m-6 -19.1h6M383.6 208.8v18.2m-3 0h6m-6 -18.2h6M387.0 205.1v17.7m-3 0h6m-6 -17.7h6M380.4 206.7v21.6m-3 0h6m-6 -21.6h6M383.5 234.6v20.3m-3 0h6m-6 -20.3h6M381.1 226.9v19.2m-3 0h6m-6 -19.2h6M381.5 219.9v19.7m-3 0h6m-6 -19.7h6M379.4 232.3v20.5m-3 0h6m-6 -20.5h6M379.3 234.7v20.5m-3 0h6m-6 -20.5h6M386.0 228.2v18.4m-3 0h6m-6 -18.4h6M378.0 241.3v14.7m-3 0h6m-6 -14.7h6M383.3 235.7v17.3m-3 0h6m-6 -17.3h6M372.8 219.9v21.2m-3 0h6m-6 -21.2h6M374.4 208.3v18.5m-3 0h6m-6 -18.5h6M378.2 231.4v22.4m-3 0h6m-6 -22.4h6M375.1 215.8v16.8m-3 0h6m-6 -16.8h6M370.5 220.5v20.2m-3 0h6m-6 -20.2h6M383.3 223.2v17.7m-3 0h6m-6 -17.7h6M376.1 216.4v18.5m-3 0h6m-6 -18.5h6M378.9 226.0v17.9m-3 0h6m-6 -17.9h6M381.9 231.2v19.1m-3 0h6m-6 -19.1h6M384.3 215.0v16.7m-3 0h6m-6 -16.7h6M382.7 225.0v20.7m-3 0h6m-6 -20.7h6M386.8 217.0v19.1m-3 0h6m-6 -19.1h6M384.2 219.8v20.6m-3 0h6m-6 -20.6h6M375.4 223.6v20.4m-3 0h6m-6 -20.4h6M383.0 220.5v17.8m-3 0h6m-6 -17.8h6M371.5 238.6v17.9m-3 0h6m-6 -17.9h6M370.9 232.3v15.5m-3 0h6m-6 -15.5h6M380.8 222.0v20.2m-3 0h6m-6 -20.2h6M375.9 223.9v21.7m-3 0h6m-6 -21.7h6M378.9 233.2v19.3m-3 0h6m-6 -19.3h6M375.9 216.0v19.4m-3 0h6m-6 -19.4h6M379.0 210.6v18.3m-3 0h6m-6 -18.3h6M376.8 219.8v19.3m-3 0h6m-6 -19.3h6M383.8 244.2v17.9m-3 0h6m-6 -17.9h6M371.5 233.8v15.7m-3 0h6m-6 -15.7h6M373.6 234.2v21.4m-3 0h6m-6 -21.4h6M384.1 235.1v17.6m-3 0h6m-6 -17.6h6M373.0 223.5v19.6m-3 0h6m-6 -19.6h6M376.1 218.6v16.3m-3 0h6m-6 -16.3h6M370.3 234.4v16.5m-3 0h6m-6 -16.5h6M376.6 233.2v20.7m-3 0h6m-6 -20.7h6M377.4 210.4v19.7m-3 0h6m-6 -19.7h6M382.4 221.5v17.7m-3 0h6m-6 -17.7h6M375.7 219.8v22.6m-3 0h6m-6 -22.6h6M380.7 213.0v21.5m-3 0h6m-6 -21.5h6M373.7 245.8v17.1m-3 0h6m-6 -17.1h6M377.1 228.1v16.5m-3 0h6m-6 -16.5h6M371.9 235.7v20.6m-3 0h6m-6 -20.6h6M381.6 223.0v19.5m-3 0h6m-6 -19.5h6M382.6 213.7v17.8m-3 0h6m-6 -17.8h6M378.1 235.5v21.4m-3 0h6m-6 -21.4h6M385.5 236.0v19.3m-3 0h6m-6 -19.3h6M384.2 238.5v17.5m-3 0h6m-6 -17.5h6M377.2 228.6v22.1m-3 0h6m-6 -22.1h6M382.9 246.4v18.7m-3 0h6m-6 -18.7h6M373.5 224.2v18.5m-3 0h6m-6 -18.5h6M383.4 222.0v19.4m-3 0h6m-6 -19.4h6M383.5 227.4v21.4m-3 0h6m-6 -21.4h6M380.8 228.8v16.1m-3 0h6m-6 -16.1h6M382.1 215.1v15.2m-3 0h6m-6 -15.2h6M384.8 232.4v17.4m-3 0h6m-6 -17.4h6M374.8 246.3v19.4m-3 0h6m-6 -19.4h6M370.7 224.3v19.3m-3 0h6m-6 -19.3h6M378.1 229.8v18.2m-3 0h6m-6 -18.2h6M385.3 229.4v19.7m-3 0h6m-6 -19.7h6M381.2 225.0v17.7m-3 0h6m-6 -17.7h6M385.9 228.3v19.2m-3 0h6m-6 -19.2h6M379.7 212.7v20.6m-3 0h6m-6 -20.6h6M382.2 241.3v19.2m-3 0h6m-6 -19.2h6M383.1 226.7v18.8m-3 0h6m-6 -18.8h6M385.1 221.2v21.6m-3 0h6m-6 -21.6h6M382.9 232.4v16.5m-3 0h6m-6 -16.5h6M380.1 230.7v19.1m-3 0h6m-6 -19.1h6M382.8 225.4v18.1m-3 0h6m-6 -18.1h6M383.0 214.7v20.0m-3 0h6m-6 -20.0h6M378.0 204.4v16.6m-3 0h6m-6 -16.6h6M381.7 219.2v18.0m-3 0h6m-6 -18.0h6M383.1 244.1v16.3m-3 0h6m-6 -16.3h6M384.6 241.9v21.0m-3 0h6m-6 -21.0h6M378.4 237.5v15.0m-3 0h6m-6 -15.0h6M370.6 226.4v18.4m-3 0h6m-6 -18.4h6M378.6 229.2v17.5m-3 0h6m-6 -17.5h6M382.0 203.3v15.6m-3 0h6m-6 -15.6h6M378.2 214.8v20.5m-3 0h6m-6 -20.5h6M373.2 231.3v19.9m-3 0h6m-6 -19.9h6M386.4 207.3v17.3m-3 0h6m-6 -17.3h6M386.4 219.5v19.3m-3 0h6m-6 -19.3h6M375.7 207.0v16.1m-3 0h6m-6 -16.1h6M375.5 220.1v18.2m-3 0h6m-6 -18.2h6M374.4 204.4v19.1m-3 0h6m-6 -19.1h6M372.6 243.6v15.6m-3 0h6m-6 -15.6h6M377.6 216.7v18.6m-3 0h6m-6 -18.6h6M380.1 212.0v18.7m-3 0h6m-6 -18.7h6M385.6 217.7v21.1m-3 0h6m-6 -21.1h6M377.3 213.9v19.3m-3 0h6m-6 -19.3h6M382.0 216.6v14.5m-3 0h6m-6 -14.5h6M385.5 249.7v18.4m-3 0h6m-6 -18.4h6M370.5 226.1v19.1m-3 0h6m-6 -19.1h6M375.1 243.9v18.1m-3 0h6m-6 -18.1h6M381.2 209.9v16.2m-3 0h6m-6 -16.2h6M376.7 227.2v20.5m-3 0h6m-6 -20.5h6M376.4 215.9v21.9m-3 0h6m-6 -21.9h6M374.9 227.8v18.4m-3 0h6m-6 -18.4h6M381.4 202.1v21.9m-3 0h6m-6 -21.9h6M376.7 233.0v19.7m-3 0h6m-6 -19.7h6M384.8 224.9v20.4m-3 0h6m-6 -20.4h6M370.1 224.1v20.2m-3 0h6m-6 -20.2h6M377.7 241.7v16.6m-3 0h6m-6 -16.6h6M385.0 233.2v15.9m-3 0h6m-6 -15.9h6M372.3 220.4v21.3m-3 0h6m-6 -21.3h6M386.7 205.1v19.6m-3 0h6m-6 -19.6h6M372.8 221.2v20.0m-3 0h6m-6 -20.0h6M375.1 236.6v22.7m-3 0h6m-6 -22.7h6M375.0 234.5v21.0m-3 0h6m-6 -21.0h6M384.2 214.9v21.5m-3 0h6m-6 -21.5h6M385.1 210.3v20.7m-3 0h6m-6 -20.7h6M378.0 220.3v23.2m-3 0h6m-6 -23.2h6M378.1 234.2v18.0m-3 0h6m-6 -18.0h6M376.9 223.5v18.4m-3 0h6m-6 -18.4h6M383.2 229.3v19.4m-3 0h6m-6 -19.4h6M379.1 230.5v15.4m-3 0h6m-6 -15.4h6M371.0 224.9v20.6m-3 0h6m-6 -20.6h6M371.5 219.4v18.9m-3 0h6m-6 -18.9h6M379.6 225.0v17.4m-3 0h6m-6 -17.4h6M376.4 239.9v19.6m-3 0h6m-6 -19.6h6M372.9 216.2v19.2m-3 0h6m-6 -19.2h6M386.6 233.9v20.6m-3 0h6m-6 -20.6h6M370.2 236.9v21.3m-3 0h6m-6 -21.3h6M380.2 224.5v17.0m-3 0h6m-6 -17.0h6M376.5 239.0v19.5m-3 0h6m-6 -19.5h6M372.0 222.6v19.1m-3 0h6m-6 -19.1h6M374.0 216.1v19.1m-3 0h6m-6 -19.1h6M383.0 225.1v21.8m-3 0h6m-6 -21.8h6M381.9 218.0v19.8m-3 0h6m-6 -19.8h6M371.3 229.7v16.2m-3 0h6m-6 -16.2h6M380.3 202.1v18.3m-3 0h6m-6 -18.3h6M373.5 204.8v16.8m-3 0h6m-6 -16.8h6M376.4 231.9v23.1m-3 0h6m-6 -23.1h6M377.3 201.8v15.3m-3 0h6m-6 -15.3h6M373.3 225.9v18.0m-3 0h6m-6 -18.0h6M386.7 227.8v18.9m-3 0h6m-6 -18.9h6M382.5 216.4v21.6m-3 0h6m-6 -21.6h6M382.4 238.3v24.2m-3 0h6m-6 -24.2h6M382.5 235.2v16.7m-3 0h6m-6 -16.7h6M376.7 208.5v18.0m-3 0h6m-6 -18.0h6M370.3 225.8v19.5m-3 0h6m-6 -19.5h6M370.5 222.2v16.8m-3 0h6m-6 -16.8h6M385.4 235.7v18.0m-3 0h6m-6 -18.0h6M372.6 234.0v17.8m-3 0h6m-6 -17.8h6M382.3 216.4v19.3m-3 0h6m-6 -19.3h6M381.7 207.0v17.1m-3 0h6m-6 -17.1h6M378.9 247.9v16.2m-3 0h6m-6 -16.2h6M379.4 219.0v17.9m-3 0h6m-6 -17.9h6M371.3 201.1v18.8m-3 0h6m-6 -18.8h6M371.2 203.2v16.3m-3 0h6m-6 -16.3h6M381.5 216.4v22.7m-3 0h6m-6 -22.7h6M381.4 208.0v13.6m-3 0h6m-6 -13.6h6M372.7 233.9v14.1m-3 0h6m-6 -14.1h6M383.3 230.8v17.5m-3 0h6m-6 -17.5h6M377.9 209.3v18.2m-3 0h6m-6 -18.2h6M383.5 204.0v21.6m-3 0h6m-6 -21.6h6M373.3 239.8v18.9m-3 0h6m-6 -18.9h6M381.0 220.4v22.2m-3 0h6m-6 -22.2h6M371.3 226.2v20.0m-3 0h6m-6 -20.0h6M374.3 236.4v16.6m-3 0h6m-6 -16.6h6M378.4 231.7v15.4m-3 0h6m-6 -15.4h6M375.1 204.1v21.2m-3 0h6m-6 -21.2h6M370.1 228.7v19.0m-3 0h6m-6 -19.0h6M373.3 204.8v19.1m-3 0h6m-6 -19.1h6M381.5 203.1v16.2m-3 0h6m-6 -16.2h6M376.0 207.6v20.6m-3 0h6m-6 -20.6h6M386.4 219.8v18.5m-3 0h6m-6 -18.5h6M377.8 232.2v18.6m-3 0h6m-6 -18.6h6M386.0 221.1v16.3m-3 0h6m-6 -16.3h6M382.3 220.7v18.9m-3 0h6m-6 -18.9h6M385.8 216.5v19.5m-3 0h6m-6 -19.5h6M380.8 237.0v18.2m-3 0h6m-6 -18.2h6M379.1 203.7v19.6m-3 0h6m-6 -19.6h6M379.2 244.5v17.8m-3 0h6m-6 -17.8h6M377.5 236.0v18.2m-3 0h6m-6 -18.2h6M372.0 236.7v18.1m-3 0h6m-6 -18.1h6M375.7 213.3v20.7m-3 0h6m-6 -20.7h6M384.6 234.1v17.3m-3 0h6m-6 -17.3h6M380.2 217.9v18.3m-3 0h6m-6 -18.3h6M382.5 242.1v19.8m-3 0h6m-6 -19.8h6M370.9 221.3v17.0m-3 0h6m-6 -17.0h6M379.5 217.9v18.9m-3 0h6m-6 -18.9h6M381.2 217.7v16.9m-3 0h6m-6 -16.9h6M377.0 234.5v16.9m-3 0h6m-6 -16.9h6M382.6 220.8v22.5m-3 0h6m-6 -22.5h6M379.6 224.9v19.2m-3 0h6m-6 -19.2h6M385.8 221.8v22.0m-3 0h6m-6 -22.0h6M379.7 223.2v18.8m-3 0h6m-6 -18.8h6M385.7 243.3v18.0m-3 0h6m-6 -18.0h6M379.6 229.6v19.5m-3 0h6m-6 -19.5h6M376.6 215.4v21.2m-3 0h6m-6 -21.2h6M373.2 234.3v18.9m-3 0h6m-6 -18.9h6M377.9 230.5v21.3m-3 0h6m-6 -21.3h6M371.8 237.8v20.6m-3 0h6m-6 -20.6h6M373.4 235.4v19.7m-3 0h6m-6 -19.7h6M376.6 229.9v21.6m-3 0h6m-6 -21.6h6M376.1 204.6v19.3m-3 0h6m-6 -19.3h6M382.1 222.3v17.6m-3 0h6m-6 -17.6h6M382.8 225.5v18.3m-3 0h6m-6 -18.3h6M370.3 222.1v17.7m-3 0h6m-6 -17.7h6M382.8 225.9v19.0m-3 0h6m-6 -19.0h6M373.0 215.4v20.4m-3 0h6m-6 -20.4h6M385.9 232.1v18.1m-3 0h6m-6 -18.1h6M386.2 219.8v20.0m-3 0h6m-6 -20.0h6M380.9 227.5v18.8m-3 0h6m-6 -18.8h6M370.3 232.7v19.0m-3 0h6m-6 -19.0h6M373.6 233.6v19.1m-3 0h6m-6 -19.1h6M379.5 220.7v18.8m-3 0h6m-6 -18.8h6M378.2 212.2v17.8m-3 0h6m-6 -17.8h6M374.5 244.4v19.1m-3 0h6m-6 -19.1h6M383.7 233.5v18.5m-3 0h6m-6 -18.5h6M378.4 224.9v17.6m-3 0h6m-6 -17.6h6M374.2 238.3v17.5m-3 0h6m-6 -17.5h6M371.3 240.5v18.6m-3 0h6m-6 -18.6h6M380.9 241.6v20.6m-3 0h6m-6 -20.6h6M371.2 223.6v19.9m-3 0h6m-6 -19.9h6M378.5 225.8v20.1m-3 0h6m-6 -20.1h6M373.5 218.9v22.6m-3 0h6m-6 -22.6h6M372.9 226.4v21.9m-3 0h6m-6 -21.9h6M370.5 226.3v17.0m-3 0h6m-6 -17.0h6M384.1 244.9v19.6m-3 0h6m-6 -19.6h6M384.3 212.1v19.6m-3 0h6m-6 -19.6h6M381.0 217.5v18.9m-3 0h6m-6 -18.9h6M386.7 204.4v18.7m-3 0h6m-6 -18.7h6M370.2 232.5v16.3m-3 0h6m-6 -16.3h6M382.0 220.4v20.2m-3 0h6m-6 -20.2h6M383.1 241.6v18.5m-3 0h6m-6 -18.5h6M376.9 250.8v15.3m-3 0h6m-6 -15.3h6M449.1 236.3v16.3m-3 0h6m-6 -16.3h6M447.6 224.6v19.6m-3 0h6m-6 -19.6h6M451.9 214.3v15.9m-3 0h6m-6 -15.9h6M449.0 231.4v15.7m-3 0h6m-6 -15.7h6M449.5 225.2v22.3m-3 0h6m-6 -22.3h6M451.5 224.9v19.6m-3 0h6m-6 -19.6h6M447.6 230.1v18.7m-3 0h6m-6 -18.7h6M450.2 224.7v18.7m-3 0h6m-6 -18.7h6M451.2 229.0v20.0m-3 0h6m-6 -20.0h6M450.7 232.1v21.7m-3 0h6m-6 -21.7h6M450.9 219.0v16.6m-3 0h6m-6 -16.6h6M451.3 218.7v17.3m-3 0h6m-6 -17.3h6M450.1 229.5v19.4m-3 0h6m-6 -19.4h6M450.9 235.7v22.1m-3 0h6m-6 -22.1h6M450.1 235.1v20.4m-3 0h6m-6 -20.4h6M447.6 216.7v20.2m-3 0h6m-6 -20.2h6M449.7 228.5v17.3m-3 0h6m-6 -17.3h6M449.4 220.0v20.8m-3 0h6m-6 -20.8h6M449.6 219.6v18.4m-3 0h6m-6 -18.4h6M449.3 228.5v19.3m-3 0h6m-6 -19.3h6M449.6 215.9v16.8m-3 0h6m-6 -16.8h6M451.7 221.4v21.2m-3 0h6m-6 -21.2h6M447.7 232.8v18.8m-3 0h6m-6 -18.8h6M449.9 221.2v18.6m-3 0h6m-6 -18.6h6M449.7 222.4v17.0m-3 0h6m-6 -17.0h6M451.6 224.8v18.1m-3 0h6m-6 -18.1h6M448.5 228.3v17.6m-3 0h6m-6 -17.6h6M454.2 233.6v22.9m-3 0h6m-6 -22.9h6M460.6 230.9v17.9m-3 0h6m-6 -17.9h6M467.9 218.4v17.9m-3 0h6m-6 -17.9h6M466.4 227.6v18.2m-3 0h6m-6 -18.2h6M468.7 234.6v17.1m-3 0h6m-6 -17.1h6M463.0 227.8v20.4m-3 0h6m-6 -20.4h6M467.1 215.5v17.5m-3 0h6m-6 -17.5h6M457.0 217.7v16.5m-3 0h6m-6 -16.5h6M466.6 227.2v16.9m-3 0h6m-6 -16.9h6M455.4 220.0v17.0m-3 0h6m-6 -17.0h6M465.3 224.7v19.0m-3 0h6m-6 -19.0h6M469.8 225.7v16.2m-3 0h6m-6 -16.2h6M462.0 220.0v19.2m-3 0h6m-6 -19.2h6M455.4 224.2v17.7m-3 0h6m-6 -17.7h6M457.3 222.6v16.8m-3 0h6m-6 -16.8h6M453.1 231.9v16.6m-3 0h6m-6 -16.6h6M454.0 223.0v19.4m-3 0h6m-6 -19.4h6M463.0 230.7v20.3m-3 0h6m-6 -20.3h6M467.6 237.5v15.6m-3 0h6m-6 -15.6h6M467.4 223.1v19.9m-3 0h6m-6 -19.9h6M465.2 234.0v20.1m-3 0h6m-6 -20.1h6M462.9 218.2v18.8m-3 0h6m-6 -18.8h6M469.6 232.9v20.4m-3 0h6m-6 -20.4h6M454.1 226.5v16.9m-3 0h6m-6 -16.9h6M459.8 224.1v18.0m-3 0h6m-6 -18.0h6M463.8 231.0v19.4m-3 0h6m-6 -19.4h6M468.6 235.3v15.8m-3 0h6m-6 -15.8h6M455.8 221.9v19.6m-3 0h6m-6 -19.6h6M458.7 237.6v19.6m-3 0h6m-6 -19.6h6M465.1 226.6v19.3m-3 0h6m-6 -19.3h6M454.2 220.9v19.1m-3 0h6m-6 -19.1h6M464.7 222.9v17.0m-3 0h6m-6 -17.0h6M458.4 237.3v17.6m-3 0h6m-6 -17.6h6M457.4 224.0v21.0m-3 0h6m-6 -21.0h6M455.0 220.7v22.1m-3 0h6m-6 -22.1h6M454.3 224.7v19.1m-3 0h6m-6 -19.1h6M465.3 226.1v19.2m-3 0h6m-6 -19.2h6M469.7 230.6v18.9m-3 0h6m-6 -18.9h6M464.4 216.0v20.8m-3 0h6m-6 -20.8h6M467.3 215.3v16.2m-3 0h6m-6 -16.2h6M452.1 214.8v18.6m-3 0h6m-6 -18.6h6M464.4 222.3v18.6m-3 0h6m-6 -18.6h6M453.8 227.1v16.3m-3 0h6m-6 -16.3h6M452.2 223.9v16.0m-3 0h6m-6 -16.0h6M466.8 218.5v20.0m-3 0h6m-6 -20.0h6M455.7 224.9v19.0m-3 0h6m-6 -19.0h6M459.8 217.6v20.9m-3 0h6m-6 -20.9h6M461.7 224.1v17.8m-3 0h6m-6 -17.8h6M466.7 214.8v17.2m-3 0h6m-6 -17.2h6M457.6 224.7v21.9m-3 0h6m-6 -21.9h6M464.3 216.6v18.3m-3 0h6m-6 -18.3h6M452.6 223.1v17.5m-3 0h6m-6 -17.5h6M457.7 232.7v18.6m-3 0h6m-6 -18.6h6M456.6 229.4v19.3m-3 0h6m-6 -19.3h6M464.8 216.0v20.8m-3 0h6m-6 -20.8h6M464.3 221.3v18.6m-3 0h6m-6 -18.6h6M457.7 216.4v16.6m-3 0h6m-6 -16.6h6M465.8 232.3v18.2m-3 0h6m-6 -18.2h6M469.9 224.5v19.7m-3 0h6m-6 -19.7h6M453.7 218.3v21.2m-3 0h6m-6 -21.2h6M455.8 221.8v19.3m-3 0h6m-6 -19.3h6M468.9 222.5v18.1m-3 0h6m-6 -18.1h6M457.2 217.7v16.6m-3 0h6m-6 -16.6h6M467.6 228.9v19.7m-3 0h6m-6 -19.7h6M452.2 220.1v16.8m-3 0h6m-6 -16.8h6M453.2 223.3v18.4m-3 0h6m-6 -18.4h6M456.1 224.1v21.5m-3 0h6m-6 -21.5h6M453.2 234.5v16.7m-3 0h6m-6 -16.7h6M466.5 218.2v19.8m-3 0h6m-6 -19.8h6M460.1 230.7v19.4m-3 0h6m-6 -19.4h6M456.9 223.7v17.8m-3 0h6m-6 -17.8h6M455.2 225.9v19.8m-3 0h6m-6 -19.8h6M453.5 226.3v18.8m-3 0h6m-6 -18.8h6M469.1 228.1v18.8m-3 0h6m-6 -18.8h6M468.8 235.4v15.6m-3 0h6m-6 -15.6h6M470.0 229.6v19.6m-3 0h6m-6 -19.6h6M466.6 220.7v18.7m-3 0h6m-6 -18.7h6M465.3 233.3v17.7m-3 0h6m-6 -17.7h6M461.8 216.3v18.1m-3 0h6m-6 -18.1h6M457.5 217.8v21.4m-3 0h6m-6 -21.4h6M465.4 228.8v20.3m-3 0h6m-6 -20.3h6M454.6 236.9v20.9m-3 0h6m-6 -20.9h6M464.6 219.3v18.2m-3 0h6m-6 -18.2h6M464.0 219.4v18.4m-3 0h6m-6 -18.4h6M458.9 214.6v19.4m-3 0h6m-6 -19.4h6M458.2 227.3v17.9m-3 0h6m-6 -17.9h6M464.3 223.7v18.7m-3 0h6m-6 -18.7h6M456.7 232.6v18.2m-3 0h6m-6 -18.2h6M467.2 221.7v18.4m-3 0h6m-6 -18.4h6M454.8 226.9v18.9m-3 0h6m-6 -18.9h6M462.1 220.7v18.7m-3 0h6m-6 -18.7h6M452.7 223.0v18.9m-3 0h6m-6 -18.9h6M454.0 229.2v19.1m-3 0h6m-6 -19.1h6M455.8 218.7v18.2m-3 0h6m-6 -18.2h6M461.9 211.5v20.8m-3 0h6m-6 -20.8h6M465.0 236.3v17.9m-3 0h6m-6 -17.9h6M466.5 221.3v18.1m-3 0h6m-6 -18.1h6M462.3 234.4v18.8m-3 0h6m-6 -18.8h6M460.6 222.1v18.4m-3 0h6m-6 -18.4h6M468.1 222.6v16.3m-3 0h6m-6 -16.3h6M457.2 223.3v18.4m-3 0h6m-6 -18.4h6M465.1 224.9v18.4m-3 0h6m-6 -18.4h6M459.3 236.2v17.6m-3 0h6m-6 -17.6h6M455.2 213.4v18.2m-3 0h6m-6 -18.2h6M469.3 220.2v19.6m-3 0h6m-6 -19.6h6M461.4 223.0v16.3m-3 0h6m-6 -16.3h6M457.8 212.0v18.9m-3 0h6m-6 -18.9h6M465.3 237.6v17.0m-3 0h6m-6 -17.0h6M456.4 227.2v18.1m-3 0h6m-6 -18.1h6M466.8 228.6v17.9m-3 0h6m-6 -17.9h6M462.4 210.0v23.1m-3 0h6m-6 -23.1h6M464.5 230.1v18.4m-3 0h6m-6 -18.4h6M465.4 218.8v17.4m-3 0h6m-6 -17.4h6M460.3 234.6v17.6m-3 0h6m-6 -17.6h6M469.7 221.3v22.3m-3 0h6m-6 -22.3h6M456.6 219.7v16.6m-3 0h6m-6 -16.6h6M465.8 230.2v21.6m-3 0h6m-6 -21.6h6M464.5 225.4v20.2m-3 0h6m-6 -20.2h6M466.9 215.9v21.6m-3 0h6m-6 -21.6h6M457.3 224.6v21.0m-3 0h6m-6 -21.0h6M455.0 231.2v18.9m-3 0h6m-6 -18.9h6M460.4 230.0v16.8m-3 0h6m-6 -16.8h6M461.6 228.0v21.3m-3 0h6m-6 -21.3h6M455.8 228.6v18.1m-3 0h6m-6 -18.1h6M460.9 232.3v18.0m-3 0h6m-6 -18.0h6M467.1 225.4v19.9m-3 0h6m-6 -19.9h6M469.6 228.4v17.6m-3 0h6m-6 -17.6h6M460.6 224.9v16.9m-3 0h6m-6 -16.9h6M459.7 229.6v19.7m-3 0h6m-6 -19.7h6M457.2 230.3v19.3m-3 0h6m-6 -19.3h6M454.9 220.4v18.4m-3 0h6m-6 -18.4h6M460.3 231.8v21.4m-3 0h6m-6 -21.4h6M457.6 223.6v19.0m-3 0h6m-6 -19.0h6M459.2 217.6v17.4m-3 0h6m-6 -17.4h6M458.2 227.0v21.0m-3 0h6m-6 -21.0h6M464.4 218.4v23.0m-3 0h6m-6 -23.0h6M460.4 232.2v20.2m-3 0h6m-6 -20.2h6M468.3 224.5v21.0m-3 0h6m-6 -21.0h6M467.7 229.2v17.5m-3 0h6m-6 -17.5h6M463.6 233.8v14.5m-3 0h6m-6 -14.5h6M454.5 224.0v14.2m-3 0h6m-6 -14.2h6M459.6 237.0v20.0m-3 0h6m-6 -20.0h6M455.2 232.6v17.9m-3 0h6m-6 -17.9h6M456.3 228.8v14.9m-3 0h6m-6 -14.9h6M469.9 229.5v16.7m-3 0h6m-6 -16.7h6M458.8 221.3v19.6m-3 0h6m-6 -19.6h6M469.6 228.5v20.2m-3 0h6m-6 -20.2h6M467.6 231.7v16.9m-3 0h6m-6 -16.9h6M459.9 226.8v17.4m-3 0h6m-6 -17.4h6M456.9 239.6v17.5m-3 0h6m-6 -17.5h6M466.1 217.0v19.7m-3 0h6m-6 -19.7h6M452.7 224.8v18.7m-3 0h6m-6 -18.7h6M462.0 223.3v19.2m-3 0h6m-6 -19.2h6M463.3 212.8v17.7m-3 0h6m-6 -17.7h6M456.1 213.8v21.4m-3 0h6m-6 -21.4h6M461.1 229.2v17.8m-3 0h6m-6 -17.8h6M454.3 230.0v19.6m-3 0h6m-6 -19.6h6M457.1 219.6v17.2m-3 0h6m-6 -17.2h6M465.5 221.2v21.6m-3 0h6m-6 -21.6h6M464.8 224.0v19.3m-3 0h6m-6 -19.3h6M469.9 224.4v18.4m-3 0h6m-6 -18.4h6M459.3 223.8v17.9m-3 0h6m-6 -17.9h6M461.8 232.5v20.5m-3 0h6m-6 -20.5h6M460.7 220.7v20.5m-3 0h6m-6 -20.5h6M454.6 223.1v20.2m-3 0h6m-6 -20.2h6M467.3 227.0v17.8m-3 0h6m-6 -17.8h6M465.1 232.4v17.2m-3 0h6m-6 -17.2h6M456.5 216.9v19.3m-3 0h6m-6 -19.3h6M467.4 228.3v18.7m-3 0h6m-6 -18.7h6M461.0 218.0v21.0m-3 0h6m-6 -21.0h6M459.9 222.4v19.9m-3 0h6m-6 -19.9h6M464.8 215.7v18.0m-3 0h6m-6 -18.0h6M466.8 225.9v17.8m-3 0h6m-6 -17.8h6M464.6 224.1v17.8m-3 0h6m-6 -17.8h6M458.5 229.4v17.6m-3 0h6m-6 -17.6h6M462.3 231.6v16.2m-3 0h6m-6 -16.2h6M459.2 219.3v15.2m-3 0h6m-6 -15.2h6M469.0 218.2v19.7m-3 0h6m-6 -19.7h6M462.6 214.4v20.5m-3 0h6m-6 -20.5h6M467.4 227.8v17.9m-3 0h6m-6 -17.9h6M455.1 222.1v19.9m-3 0h6m-6 -19.9h6M452.2 233.4v21.5m-3 0h6m-6 -21.5h6M463.3 230.3v17.7m-3 0h6m-6 -17.7h6M455.8 215.9v17.3m-3 0h6m-6 -17.3h6M454.3 230.8v19.0m-3 0h6m-6 -19.0h6M465.1 215.8v19.9m-3 0h6m-6 -19.9h6M465.0 237.3v17.3m-3 0h6m-6 -17.3h6M460.0 212.1v18.9m-3 0h6m-6 -18.9h6M464.1 230.7v19.7m-3 0h6m-6 -19.7h6M456.9 232.1v16.9m-3 0h6m-6 -16.9h6M464.2 227.2v19.4m-3 0h6m-6 -19.4h6M458.0 212.5v19.2m-3 0h6m-6 -19.2h6M469.8 227.2v20.0m-3 0h6m-6 -20.0h6M466.2 221.1v18.1m-3 0h6m-6 -18.1h6M455.9 225.1v18.4m-3 0h6m-6 -18.4h6M494.1 218.2v13.6m-3 0h6m-6 -13.6h6M482.3 236.1v17.5m-3 0h6m-6 -17.5h6M477.7 240.4v20.9m-3 0h6m-6 -20.9h6M483.7 223.2v21.6m-3 0h6m-6 -21.6h6M477.2 231.8v18.9m-3 0h6m-6 -18.9h6M486.1 239.2v18.1m-3 0h6m-6 -18.1h6M491.8 225.8v18.8m-3 0h6m-6 -18.8h6M472.0 236.3v18.6m-3 0h6m-6 -18.6h6M484.1 230.2v17.6m-3 0h6m-6 -17.6h6M477.8 227.1v20.9m-3 0h6m-6 -20.9h6M474.9 227.9v19.4m-3 0h6m-6 -19.4h6M472.2 239.2v17.0m-3 0h6m-6 -17.0h6M489.7 221.4v16.0m-3 0h6m-6 -16.0h6M477.5 232.2v15.7m-3 0h6m-6 -15.7h6M478.3 242.4v16.3m-3 0h6m-6 -16.3h6M473.5 243.7v15.2m-3 0h6m-6 -15.2h6M494.2 238.3v18.5m-3 0h6m-6 -18.5h6M481.3 226.2v15.3m-3 0h6m-6 -15.3h6M478.5 225.5v19.2m-3 0h6m-6 -19.2h6M488.9 231.3v21.2m-3 0h6m-6 -21.2h6M479.5 237.0v18.7m-3 0h6m-6 -18.7h6M493.8 228.7v18.3m-3 0h6m-6 -18.3h6M472.4 211.5v20.6m-3 0h6m-6 -20.6h6M470.1 236.4v17.4m-3 0h6m-6 -17.4h6M487.0 228.4v19.8m-3 0h6m-6 -19.8h6M471.0 213.5v19.0m-3 0h6m-6 -19.0h6M470.3 232.7v17.9m-3 0h6m-6 -17.9h6M477.0 232.2v17.7m-3 0h6m-6 -17.7h6M484.7 234.2v18.8m-3 0h6m-6 -18.8h6M487.5 238.6v19.0m-3 0h6m-6 -19.0h6M483.2 229.4v18.0m-3 0h6m-6 -18.0h6M479.5 219.8v18.9m-3 0h6m-6 -18.9h6M490.9 230.2v17.7m-3 0h6m-6 -17.7h6M475.9 234.3v18.6m-3 0h6m-6 -18.6h6M493.8 222.2v18.2m-3 0h6m-6 -18.2h6M472.8 218.1v17.8m-3 0h6m-6 -17.8h6M471.7 224.6v19.1m-3 0h6m-6 -19.1h6M491.7 227.8v17.0m-3 0h6m-6 -17.0h6M491.3 228.3v19.5m-3 0h6m-6 -19.5h6M482.8 222.4v15.9m-3 0h6m-6 -15.9h6M473.1 227.5v21.4m-3 0h6m-6 -21.4h6M484.2 239.7v14.8m-3 0h6m-6 -14.8h6M486.2 222.4v19.9m-3 0h6m-6 -19.9h6M482.5 239.4v23.1m-3 0h6m-6 -23.1h6M471.5 225.4v20.2m-3 0h6m-6 -20.2h6M477.2 229.6v17.1m-3 0h6m-6 -17.1h6M490.7 218.4v20.2m-3 0h6m-6 -20.2h6M473.7 235.3v18.3m-3 0h6m-6 -18.3h6M478.3 230.3v20.1m-3 0h6m-6 -20.1h6M474.7 231.8v18.5m-3 0h6m-6 -18.5h6M489.3 232.7v19.7m-3 0h6m-6 -19.7h6M472.5 240.8v19.8m-3 0h6m-6 -19.8h6M473.8 224.7v17.5m-3 0h6m-6 -17.5h6M488.7 236.0v16.1m-3 0h6m-6 -16.1h6M471.9 226.0v16.0m-3 0h6m-6 -16.0h6M478.8 219.6v19.3m-3 0h6m-6 -19.3h6M477.9 233.0v19.5m-3 0h6m-6 -19.5h6M483.5 222.3v19.9m-3 0h6m-6 -19.9h6M491.6 235.9v16.2m-3 0h6m-6 -16.2h6M482.6 224.6v22.1m-3 0h6m-6 -22.1h6M475.7 222.2v17.9m-3 0h6m-6 -17.9h6M489.1 226.7v19.4m-3 0h6m-6 -19.4h6M480.1 221.3v18.3m-3 0h6m-6 -18.3h6M483.5 222.1v18.7m-3 0h6m-6 -18.7h6M484.4 231.9v20.6m-3 0h6m-6 -20.6h6M488.2 236.4v20.2m-3 0h6m-6 -20.2h6M488.0 228.4v18.1m-3 0h6m-6 -18.1h6M480.0 216.0v19.2m-3 0h6m-6 -19.2h6M494.5 219.5v19.9m-3 0h6m-6 -19.9h6M489.6 219.4v18.1m-3 0h6m-6 -18.1h6M471.0 234.2v16.1m-3 0h6m-6 -16.1h6M489.6 237.5v17.9m-3 0h6m-6 -17.9h6M479.5 223.1v17.5m-3 0h6m-6 -17.5h6M470.7 212.1v20.1m-3 0h6m-6 -20.1h6M484.1 221.4v19.6m-3 0h6m-6 -19.6h6M481.6 217.5v18.4m-3 0h6m-6 -18.4h6M490.6 221.0v19.6m-3 0h6m-6 -19.6h6M486.5 232.0v15.7m-3 0h6m-6 -15.7h6M471.5 219.5v21.5m-3 0h6m-6 -21.5h6M485.2 230.5v15.4m-3 0h6m-6 -15.4h6M487.6 233.4v17.1m-3 0h6m-6 -17.1h6M472.5 213.3v19.3m-3 0h6m-6 -19.3h6M475.3 238.2v19.7m-3 0h6m-6 -19.7h6M485.7 231.7v19.5m-3 0h6m-6 -19.5h6M479.0 227.4v16.1m-3 0h6m-6 -16.1h6M480.6 215.9v17.6m-3 0h6m-6 -17.6h6M492.5 215.0v16.9m-3 0h6m-6 -16.9h6M474.8 213.6v20.8m-3 0h6m-6 -20.8h6M470.6 227.8v18.5m-3 0h6m-6 -18.5h6M479.2 227.1v20.2m-3 0h6m-6 -20.2h6M483.9 239.7v22.3m-3 0h6m-6 -22.3h6M475.2 233.8v15.2m-3 0h6m-6 -15.2h6M488.8 220.4v19.2m-3 0h6m-6 -19.2h6M487.4 230.4v22.3m-3 0h6m-6 -22.3h6M480.9 224.0v19.2m-3 0h6m-6 -19.2h6M480.3 229.9v19.8m-3 0h6m-6 -19.8h6M494.5 217.9v17.8m-3 0h6m-6 -17.8h6M472.5 230.9v17.0m-3 0h6m-6 -17.0h6M480.8 225.8v20.4m-3 0h6m-6 -20.4h6M482.4 234.3v18.9m-3 0h6m-6 -18.9h6M493.1 235.1v15.7m-3 0h6m-6 -15.7h6M488.2 218.6v18.2m-3 0h6m-6 -18.2h6M479.1 226.1v19.4m-3 0h6m-6 -19.4h6M488.4 221.5v22.0m-3 0h6m-6 -22.0h6M480.5 235.8v16.3m-3 0h6m-6 -16.3h6M491.6 233.2v17.1m-3 0h6m-6 -17.1h6M491.5 222.8v19.9m-3 0h6m-6 -19.9h6M474.5 221.4v16.1m-3 0h6m-6 -16.1h6M483.7 238.4v19.3m-3 0h6m-6 -19.3h6M475.8 234.2v16.5m-3 0h6m-6 -16.5h6M492.0 232.0v19.6m-3 0h6m-6 -19.6h6M481.4 242.5v21.5m-3 0h6m-6 -21.5h6M471.9 217.8v19.4m-3 0h6m-6 -19.4h6M478.5 237.0v18.1m-3 0h6m-6 -18.1h6M487.3 216.3v18.7m-3 0h6m-6 -18.7h6M493.8 232.4v17.3m-3 0h6m-6 -17.3h6M486.3 215.6v19.9m-3 0h6m-6 -19.9h6M491.0 241.9v17.3m-3 0h6m-6 -17.3h6M484.7 220.9v19.6m-3 0h6m-6 -19.6h6M473.0 223.6v16.8m-3 0h6m-6 -16.8h6M479.9 231.3v21.2m-3 0h6m-6 -21.2h6M471.9 220.6v17.9m-3 0h6m-6 -17.9h6M470.4 215.0v22.9m-3 0h6m-6 -22.9h6M487.2 219.4v17.9m-3 0h6m-6 -17.9h6M471.3 234.5v19.9m-3 0h6m-6 -19.9h6M488.4 226.2v19.9m-3 0h6m-6 -19.9h6M492.3 230.0v19.7m-3 0h6m-6 -19.7h6M486.0 234.1v18.1m-3 0h6m-6 -18.1h6M487.5 222.5v23.1m-3 0h6m-6 -23.1h6M485.0 226.1v22.1m-3 0h6m-6 -22.1h6M472.2 226.9v17.7m-3 0h6m-6 -17.7h6M489.2 224.2v21.8m-3 0h6m-6 -21.8h6M479.9 237.5v19.3m-3 0h6m-6 -19.3h6M476.0 230.7v21.9m-3 0h6m-6 -21.9h6M480.2 224.6v19.8m-3 0h6m-6 -19.8h6M470.2 241.4v18.1m-3 0h6m-6 -18.1h6M489.0 235.3v17.6m-3 0h6m-6 -17.6h6M478.3 226.3v21.1m-3 0h6m-6 -21.1h6M483.3 213.5v19.2m-3 0h6m-6 -19.2h6M482.7 227.0v18.3m-3 0h6m-6 -18.3h6M482.6 222.0v20.8m-3 0h6m-6 -20.8h6M470.8 231.2v18.7m-3 0h6m-6 -18.7h6M484.8 224.8v16.3m-3 0h6m-6 -16.3h6M479.8 236.4v18.0m-3 0h6m-6 -18.0h6M473.5 221.3v18.8m-3 0h6m-6 -18.8h6M477.3 229.3v20.3m-3 0h6m-6 -20.3h6M487.6 224.3v16.1m-3 0h6m-6 -16.1h6M473.2 214.5v17.7m-3 0h6m-6 -17.7h6M476.9 229.4v19.3m-3 0h6m-6 -19.3h6M474.4 224.5v17.6m-3 0h6m-6 -17.6h6M487.7 219.5v19.0m-3 0h6m-6 -19.0h6M487.0 237.3v16.9m-3 0h6m-6 -16.9h6M475.8 222.9v17.1m-3 0h6m-6 -17.1h6M483.3 224.5v20.0m-3 0h6m-6 -20.0h6M476.1 231.5v16.5m-3 0h6m-6 -16.5h6M484.5 228.6v19.7m-3 0h6m-6 -19.7h6M481.3 223.3v22.2m-3 0h6m-6 -22.2h6M487.7 217.9v18.3m-3 0h6m-6 -18.3h6M488.5 229.1v19.9m-3 0h6m-6 -19.9h6M487.3 237.5v16.8m-3 0h6m-6 -16.8h6M481.0 236.8v16.5m-3 0h6m-6 -16.5h6M470.7 231.4v20.7m-3 0h6m-6 -20.7h6M489.7 227.5v16.5m-3 0h6m-6 -16.5h6M486.9 221.0v19.0m-3 0h6m-6 -19.0h6M479.6 220.0v20.4m-3 0h6m-6 -20.4h6M493.9 223.4v20.5m-3 0h6m-6 -20.5h6M482.3 238.7v16.3m-3 0h6m-6 -16.3h6M482.5 213.5v18.0m-3 0h6m-6 -18.0h6M490.7 239.2v16.2m-3 0h6m-6 -16.2h6M477.2 223.2v17.8m-3 0h6m-6 -17.8h6M480.5 223.8v18.2m-3 0h6m-6 -18.2h6M470.7 230.0v17.2m-3 0h6m-6 -17.2h6M494.2 235.6v18.1m-3 0h6m-6 -18.1h6M487.6 239.9v15.5m-3 0h6m-6 -15.5h6M491.3 228.3v18.1m-3 0h6m-6 -18.1h6M471.1 227.1v16.2m-3 0h6m-6 -16.2h6M472.4 238.7v18.2m-3 0h6m-6 -18.2h6M470.6 243.3v14.8m-3 0h6m-6 -14.8h6M473.9 225.6v16.9m-3 0h6m-6 -16.9h6M491.7 230.7v17.4m-3 0h6m-6 -17.4h6M483.8 225.5v19.3m-3 0h6m-6 -19.3h6M474.8 223.7v17.4m-3 0h6m-6 -17.4h6M472.2 239.2v16.1m-3 0h6m-6 -16.1h6M476.5 240.8v19.0m-3 0h6m-6 -19.0h6M475.9 215.3v20.7m-3 0h6m-6 -20.7h6M483.7 226.0v15.5m-3 0h6m-6 -15.5h6M473.5 229.3v18.2m-3 0h6m-6 -18.2h6M475.4 224.7v22.4m-3 0h6m-6 -22.4h6M487.1 223.5v18.2m-3 0h6m-6 -18.2h6M485.6 230.6v19.5m-3 0h6m-6 -19.5h6M481.5 237.0v21.3m-3 0h6m-6 -21.3h6M470.7 240.1v22.9m-3 0h6m-6 -22.9h6M484.1 217.0v17.2m-3 0h6m-6 -17.2h6M489.0 220.8v20.2m-3 0h6m-6 -20.2h6M478.8 224.3v20.9m-3 0h6m-6 -20.9h6M483.7 225.0v15.5m-3 0h6m-6 -15.5h6M489.3 224.3v20.7m-3 0h6m-6 -20.7h6M488.4 231.1v15.5m-3 0h6m-6 -15.5h6M478.2 222.4v19.6m-3 0h6m-6 -19.6h6M480.6 224.5v20.5m-3 0h6m-6 -20.5h6M483.8 242.7v14.8m-3 0h6m-6 -14.8h6M479.0 222.2v17.0m-3 0h6m-6 -17.0h6M493.5 222.2v21.5m-3 0h6m-6 -21.5h6M489.0 234.7v18.5m-3 0h6m-6 -18.5h6M493.6 240.0v20.2m-3 0h6m-6 -20.2h6M474.5 222.5v17.8m-3 0h6m-6 -17.8h6M482.6 223.0v16.7m-3 0h6m-6 -16.7h6M485.4 231.1v20.4m-3 0h6m-6 -20.4h6M493.6 222.7v18.2m-3 0h6m-6 -18.2h6M490.5 239.4v19.3m-3 0h6m-6 -19.3h6M477.3 227.0v19.1m-3 0h6m-6 -19.1h6M473.2 213.5v18.9m-3 0h6m-6 -18.9h6M489.5 235.3v16.9m-3 0h6m-6 -16.9h6M479.5 220.1v18.9m-3 0h6m-6 -18.9h6M492.8 231.3v19.2m-3 0h6m-6 -19.2h6M481.0 233.4v21.6m-3 0h6m-6 -21.6h6M488.5 238.6v18.4m-3 0h6m-6 -18.4h6M479.3 237.7v15.2m-3 0h6m-6 -15.2h6M494.0 233.5v19.3m-3 0h6m-6 -19.3h6M477.0 223.4v20.6m-3 0h6m-6 -20.6h6M480.1 233.3v19.8m-3 0h6m-6 -19.8h6M484.2 216.8v22.4m-3 0h6m-6 -22.4h6M481.9 241.0v18.8m-3 0h6m-6 -18.8h6M489.7 229.3v18.2m-3 0h6m-6 -18.2h6M487.3 225.1v15.7m-3 0h6m-6 -15.7h6M489.3 212.3v20.6m-3 0h6m-6 -20.6h6M488.5 211.2v24.0m-3 0h6m-6 -24.0h6M481.2 222.9v21.5m-3 0h6m-6 -21.5h6M488.0 221.7v18.5m-3 0h6m-6 -18.5h6M477.5 227.8v18.9m-3 0h6m-6 -18.9h6M482.9 220.8v16.4m-3 0h6m-6 -16.4h6M474.6 234.4v19.1m-3 0h6m-6 -19.1h6M486.0 214.0v17.4m-3 0h6m-6 -17.4h6M485.5 226.0v17.1m-3 0h6m-6 -17.1h6M470.8 223.7v19.0m-3 0h6m-6 -19.0h6M477.9 234.0v18.3m-3 0h6m-6 -18.3h6M490.9 217.4v16.1m-3 0h6m-6 -16.1h6M477.7 220.8v20.0m-3 0h6m-6 -20.0h6M475.8 218.0v17.3m-3 0h6m-6 -17.3h6M474.0 231.4v21.5m-3 0h6m-6 -21.5h6M487.0 224.2v19.2m-3 0h6m-6 -19.2h6M481.1 221.3v20.1m-3 0h6m-6 -20.1h6M480.3 218.7v16.6m-3 0h6m-6 -16.6h6M482.5 230.8v21.6m-3 0h6m-6 -21.6h6M480.5 237.3v18.2m-3 0h6m-6 -18.2h6M485.6 225.5v18.2m-3 0h6m-6 -18.2h6M478.4 227.8v17.6m-3 0h6m-6 -17.6h6M484.9 231.7v18.2m-3 0h6m-6 -18.2h6M492.1 233.4v19.4m-3 0h6m-6 -19.4h6M470.6 222.8v15.8m-3 0h6m-6 -15.8h6M477.4 233.5v16.7m-3 0h6m-6 -16.7h6M486.8 242.2v18.2m-3 0h6m-6 -18.2h6M484.3 225.0v18.6m-3 0h6m-6 -18.6h6M485.4 223.1v17.8m-3 0h6m-6 -17.8h6M475.6 224.2v19.0m-3 0h6m-6 -19.0h6M485.0 215.8v18.8m-3 0h6m-6 -18.8h6M486.4 238.5v16.1m-3 0h6m-6 -16.1h6M489.3 215.6v20.3m-3 0h6m-6 -20.3h6M494.0 228.2v21.1m-3 0h6m-6 -21.1h6M475.6 234.0v14.6m-3 0h6m-6 -14.6h6M488.7 229.6v17.7m-3 0h6m-6 -17.7h6M471.0 221.6v18.8m-3 0h6m-6 -18.8h6M489.1 212.9v19.3m-3 0h6m-6 -19.3h6M476.0 221.5v21.4m-3 0h6m-6 -21.4h6M492.8 226.8v18.3m-3 0h6m-6 -18.3h6M488.0 235.1v16.1m-3 0h6m-6 -16.1h6M492.3 214.4v19.5m-3 0h6m-6 -19.5h6M487.9 221.6v22.1m-3 0h6m-6 -22.1h6M474.9 237.7v18.5m-3 0h6m-6 -18.5h6M481.3 238.1v19.4m-3 0h6m-6 -19.4h6M481.8 217.1v17.7m-3 0h6m-6 -17.7h6M482.8 235.0v21.7m-3 0h6m-6 -21.7h6M486.6 232.4v16.6m-3 0h6m-6 -16.6h6M490.0 237.3v17.2m-3 0h6m-6 -17.2h6M473.8 231.7v20.7m-3 0h6m-6 -20.7h6M476.4 230.4v17.9m-3 0h6m-6 -17.9h6M492.3 233.2v15.5m-3 0h6m-6 -15.5h6M492.1 215.8v19.8m-3 0h6m-6 -19.8h6M487.2 228.6v17.6m-3 0h6m-6 -17.6h6M486.4 232.5v18.2m-3 0h6m-6 -18.2h6M482.0 217.6v18.4m-3 0h6m-6 -18.4h6M476.9 211.5v20.0m-3 0h6m-6 -20.0h6M477.3 234.1v19.6m-3 0h6m-6 -19.6h6M482.9 219.0v18.2m-3 0h6m-6 -18.2h6M483.5 227.0v19.2m-3 0h6m-6 -19.2h6M510.0 232.4v17.5m-3 0h6m-6 -17.5h6M507.7 235.5v16.5m-3 0h6m-6 -16.5h6M503.3 219.9v17.1m-3 0h6m-6 -17.1h6M498.1 231.2v18.8m-3 0h6m-6 -18.8h6M507.6 233.5v19.9m-3 0h6m-6 -19.9h6M505.9 225.8v18.0m-3 0h6m-6 -18.0h6M509.4 235.1v18.9m-3 0h6m-6 -18.9h6M499.1 223.3v19.7m-3 0h6m-6 -19.7h6M499.7 217.9v17.2m-3 0h6m-6 -17.2h6M506.1 227.6v21.1m-3 0h6m-6 -21.1h6M509.3 218.6v18.8m-3 0h6m-6 -18.8h6M500.3 240.3v17.6m-3 0h6m-6 -17.6h6M504.4 238.1v17.8m-3 0h6m-6 -17.8h6M508.4 241.3v17.9m-3 0h6m-6 -17.9h6M505.0 228.2v19.4m-3 0h6m-6 -19.4h6M508.7 222.6v19.1m-3 0h6m-6 -19.1h6M505.5 214.3v18.1m-3 0h6m-6 -18.1h6M506.9 235.9v19.0m-3 0h6m-6 -19.0h6M503.2 229.6v20.0m-3 0h6m-6 -20.0h6M509.9 223.2v20.7m-3 0h6m-6 -20.7h6M505.9 222.8v19.6m-3 0h6m-6 -19.6h6M508.0 235.5v17.5m-3 0h6m-6 -17.5h6M504.1 242.6v17.1m-3 0h6m-6 -17.1h6M500.5 242.6v18.6m-3 0h6m-6 -18.6h6M499.2 234.4v16.1m-3 0h6m-6 -16.1h6M508.6 221.2v19.8m-3 0h6m-6 -19.8h6M501.8 233.5v17.7m-3 0h6m-6 -17.7h6M507.4 228.2v20.8m-3 0h6m-6 -20.8h6M500.3 223.7v17.9m-3 0h6m-6 -17.9h6M505.0 235.2v18.0m-3 0h6m-6 -18.0h6M503.8 239.6v15.8m-3 0h6m-6 -15.8h6M500.4 243.9v20.5m-3 0h6m-6 -20.5h6M504.8 226.9v15.1m-3 0h6m-6 -15.1h6M506.2 231.5v22.1m-3 0h6m-6 -22.1h6M507.3 231.0v22.7m-3 0h6m-6 -22.7h6M508.6 243.1v17.9m-3 0h6m-6 -17.9h6M507.1 234.9v16.5m-3 0h6m-6 -16.5h6M500.4 224.0v24.5m-3 0h6m-6 -24.5h6M500.9 222.7v23.4m-3 0h6m-6 -23.4h6M506.6 231.8v13.1m-3 0h6m-6 -13.1h6M504.4 225.4v19.8m-3 0h6m-6 -19.8h6M507.2 240.7v15.1m-3 0h6m-6 -15.1h6M502.0 219.4v20.4m-3 0h6m-6 -20.4h6M504.7 218.3v19.1m-3 0h6m-6 -19.1h6M502.5 233.1v15.0m-3 0h6m-6 -15.0h6M503.8 225.7v16.9m-3 0h6m-6 -16.9h6M507.8 225.2v17.9m-3 0h6m-6 -17.9h6M499.4 224.1v19.8m-3 0h6m-6 -19.8h6M506.4 237.0v18.1m-3 0h6m-6 -18.1h6M501.1 232.6v18.7m-3 0h6m-6 -18.7h6M506.9 229.8v17.6m-3 0h6m-6 -17.6h6M506.6 232.7v18.1m-3 0h6m-6 -18.1h6M503.0 237.8v17.7m-3 0h6m-6 -17.7h6M502.1 224.8v17.7m-3 0h6m-6 -17.7h6M502.3 230.3v19.7m-3 0h6m-6 -19.7h6M503.3 215.6v18.6m-3 0h6m-6 -18.6h6M506.2 245.9v17.5m-3 0h6m-6 -17.5h6M504.7 218.0v21.4m-3 0h6m-6 -21.4h6M501.8 234.4v20.5m-3 0h6m-6 -20.5h6M502.9 232.5v19.7m-3 0h6m-6 -19.7h6M506.8 238.9v20.0m-3 0h6m-6 -20.0h6M505.5 213.4v18.0m-3 0h6m-6 -18.0h6M504.4 226.0v16.7m-3 0h6m-6 -16.7h6M503.0 239.1v20.3m-3 0h6m-6 -20.3h6M508.7 216.8v17.0m-3 0h6m-6 -17.0h6M509.6 227.6v20.5m-3 0h6m-6 -20.5h6M498.2 241.3v19.6m-3 0h6m-6 -19.6h6M503.3 230.4v19.3m-3 0h6m-6 -19.3h6M499.5 237.6v18.0m-3 0h6m-6 -18.0h6M507.6 227.8v19.0m-3 0h6m-6 -19.0h6M509.9 227.5v16.8m-3 0h6m-6 -16.8h6M498.9 220.7v17.4m-3 0h6m-6 -17.4h6M500.6 234.7v16.5m-3 0h6m-6 -16.5h6M501.7 239.4v17.7m-3 0h6m-6 -17.7h6M498.0 243.5v17.7m-3 0h6m-6 -17.7h6M500.2 222.6v17.5m-3 0h6m-6 -17.5h6M499.8 223.2v19.6m-3 0h6m-6 -19.6h6M499.4 237.3v18.5m-3 0h6m-6 -18.5h6M502.9 232.6v20.7m-3 0h6m-6 -20.7h6M506.5 216.5v21.8m-3 0h6m-6 -21.8h6M498.4 248.1v15.9m-3 0h6m-6 -15.9h6M507.0 240.0v18.2m-3 0h6m-6 -18.2h6M506.8 221.0v17.5m-3 0h6m-6 -17.5h6M506.9 215.9v19.6m-3 0h6m-6 -19.6h6M506.1 235.6v13.8m-3 0h6m-6 -13.8h6M509.5 223.5v18.0m-3 0h6m-6 -18.0h6M498.6 219.8v19.6m-3 0h6m-6 -19.6h6M509.3 233.1v19.4m-3 0h6m-6 -19.4h6M509.3 228.6v20.2m-3 0h6m-6 -20.2h6M508.6 232.1v20.7m-3 0h6m-6 -20.7h6M506.0 228.2v21.1m-3 0h6m-6 -21.1h6M497.8 241.2v17.9m-3 0h6m-6 -17.9h6M506.3 234.7v19.2m-3 0h6m-6 -19.2h6M502.1 230.7v19.3m-3 0h6m-6 -19.3h6M509.1 237.1v19.9m-3 0h6m-6 -19.9h6M506.3 238.7v15.9m-3 0h6m-6 -15.9h6M505.1 223.1v20.2m-3 0h6m-6 -20.2h6M499.1 237.4v18.0m-3 0h6m-6 -18.0h6M507.7 218.5v19.8m-3 0h6m-6 -19.8h6M506.2 236.0v17.0m-3 0h6m-6 -17.0h6M503.0 227.9v16.5m-3 0h6m-6 -16.5h6M507.1 225.5v18.0m-3 0h6m-6 -18.0h6M504.9 239.9v15.7m-3 0h6m-6 -15.7h6M507.2 246.0v15.0m-3 0h6m-6 -15.0h6M502.9 226.6v21.2m-3 0h6m-6 -21.2h6M498.2 227.5v19.1m-3 0h6m-6 -19.1h6M501.3 225.7v20.1m-3 0h6m-6 -20.1h6M500.8 223.4v19.0m-3 0h6m-6 -19.0h6M504.4 229.1v19.6m-3 0h6m-6 -19.6h6M509.0 223.9v17.5m-3 0h6m-6 -17.5h6M502.7 238.2v19.3m-3 0h6m-6 -19.3h6M506.8 226.0v18.1m-3 0h6m-6 -18.1h6M504.9 222.2v20.8m-3 0h6m-6 -20.8h6M508.1 225.3v15.9m-3 0h6m-6 -15.9h6M500.9 225.0v19.1m-3 0h6m-6 -19.1h6M504.5 238.4v19.6m-3 0h6m-6 -19.6h6M508.1 236.3v18.9m-3 0h6m-6 -18.9h6M506.4 213.9v19.6m-3 0h6m-6 -19.6h6M498.2 240.8v21.1m-3 0h6m-6 -21.1h6M498.5 223.5v17.6m-3 0h6m-6 -17.6h6M504.3 233.5v19.1m-3 0h6m-6 -19.1h6M506.5 228.9v18.8m-3 0h6m-6 -18.8h6M509.9 229.7v18.0m-3 0h6m-6 -18.0h6M501.8 217.9v18.8m-3 0h6m-6 -18.8h6M498.0 237.5v17.3m-3 0h6m-6 -17.3h6M502.0 230.6v18.3m-3 0h6m-6 -18.3h6M499.4 232.1v18.2m-3 0h6m-6 -18.2h6M500.2 226.8v18.5m-3 0h6m-6 -18.5h6M509.9 243.9v15.7m-3 0h6m-6 -15.7h6M506.5 220.5v18.8m-3 0h6m-6 -18.8h6M502.7 227.2v18.1m-3 0h6m-6 -18.1h6M505.1 230.7v18.3m-3 0h6m-6 -18.3h6M504.7 224.1v19.0m-3 0h6m-6 -19.0h6M499.0 239.7v17.0m-3 0h6m-6 -17.0h6M508.7 224.2v17.9m-3 0h6m-6 -17.9h6M507.7 227.9v18.2m-3 0h6m-6 -18.2h6M508.5 224.1v20.7m-3 0h6m-6 -20.7h6M506.6 235.5v15.9m-3 0h6m-6 -15.9h6M507.0 248.0v15.7m-3 0h6m-6 -15.7h6M508.4 234.7v17.9m-3 0h6m-6 -17.9h6M502.4 218.0v20.9m-3 0h6m-6 -20.9h6M504.7 218.8v20.7m-3 0h6m-6 -20.7h6M500.0 229.4v21.1m-3 0h6m-6 -21.1h6M504.9 231.1v18.5m-3 0h6m-6 -18.5h6M506.3 236.3v20.6m-3 0h6m-6 -20.6h6M506.5 236.8v16.8m-3 0h6m-6 -16.8h6M507.3 221.1v21.3m-3 0h6m-6 -21.3h6M506.9 222.4v17.4m-3 0h6m-6 -17.4h6M508.5 229.7v17.2m-3 0h6m-6 -17.2h6M499.1 233.0v19.4m-3 0h6m-6 -19.4h6M504.5 216.4v18.4m-3 0h6m-6 -18.4h6M502.5 217.2v18.7m-3 0h6m-6 -18.7h6M506.8 232.8v17.7m-3 0h6m-6 -17.7h6M498.6 224.3v18.0m-3 0h6m-6 -18.0h6M509.8 226.2v16.9m-3 0h6m-6 -16.9h6M504.9 229.0v22.0m-3 0h6m-6 -22.0h6M503.0 220.1v18.3m-3 0h6m-6 -18.3h6M502.1 249.9v18.2m-3 0h6m-6 -18.2h6M507.2 245.1v18.0m-3 0h6m-6 -18.0h6M500.6 214.0v17.9m-3 0h6m-6 -17.9h6M509.0 218.4v18.1m-3 0h6m-6 -18.1h6M500.0 236.1v17.5m-3 0h6m-6 -17.5h6M506.9 223.2v15.8m-3 0h6m-6 -15.8h6M500.7 237.7v17.4m-3 0h6m-6 -17.4h6M498.1 235.5v19.7m-3 0h6m-6 -19.7h6M504.7 222.4v18.6m-3 0h6m-6 -18.6h6M507.0 222.2v17.3m-3 0h6m-6 -17.3h6M505.5 223.0v19.8m-3 0h6m-6 -19.8h6M510.4 220.3v17.9m-3 0h6m-6 -17.9h6M528.3 225.6v19.4m-3 0h6m-6 -19.4h6M529.2 224.7v16.0m-3 0h6m-6 -16.0h6M517.9 229.1v15.6m-3 0h6m-6 -15.6h6M524.6 243.3v19.1m-3 0h6m-6 -19.1h6M522.9 247.8v17.8m-3 0h6m-6 -17.8h6M513.1 223.4v17.1m-3 0h6m-6 -17.1h6M510.7 230.4v18.7m-3 0h6m-6 -18.7h6M512.0 223.8v18.0m-3 0h6m-6 -18.0h6M527.8 239.2v18.1m-3 0h6m-6 -18.1h6M525.0 217.1v17.5m-3 0h6m-6 -17.5h6M512.2 237.9v17.9m-3 0h6m-6 -17.9h6M515.4 228.4v19.6m-3 0h6m-6 -19.6h6M527.3 233.5v17.1m-3 0h6m-6 -17.1h6M529.7 234.7v18.8m-3 0h6m-6 -18.8h6M528.3 225.4v15.9m-3 0h6m-6 -15.9h6M512.0 222.6v18.1m-3 0h6m-6 -18.1h6M519.3 223.4v21.3m-3 0h6m-6 -21.3h6M514.5 234.1v17.3m-3 0h6m-6 -17.3h6M527.6 213.2v20.5m-3 0h6m-6 -20.5h6M519.3 223.2v18.0m-3 0h6m-6 -18.0h6M512.6 237.9v16.4m-3 0h6m-6 -16.4h6M523.8 231.8v19.9m-3 0h6m-6 -19.9h6M511.2 246.6v17.5m-3 0h6m-6 -17.5h6M514.0 237.4v21.6m-3 0h6m-6 -21.6h6M517.1 222.7v20.3m-3 0h6m-6 -20.3h6M511.1 221.5v18.2m-3 0h6m-6 -18.2h6M525.2 239.6v18.1m-3 0h6m-6 -18.1h6M524.1 229.7v17.7m-3 0h6m-6 -17.7h6M510.7 244.4v21.3m-3 0h6m-6 -21.3h6M517.6 233.7v22.4m-3 0h6m-6 -22.4h6M516.5 230.3v19.9m-3 0h6m-6 -19.9h6M514.4 222.5v19.5m-3 0h6m-6 -19.5h6M526.9 245.9v20.0m-3 0h6m-6 -20.0h6M524.0 229.9v19.7m-3 0h6m-6 -19.7h6M514.6 235.4v19.8m-3 0h6m-6 -19.8h6M521.6 239.7v20.0m-3 0h6m-6 -20.0h6M523.1 234.0v19.9m-3 0h6m-6 -19.9h6M518.6 229.9v20.2m-3 0h6m-6 -20.2h6M528.7 244.9v20.7m-3 0h6m-6 -20.7h6M511.5 229.3v16.4m-3 0h6m-6 -16.4h6M517.2 221.5v15.9m-3 0h6m-6 -15.9h6M515.4 236.3v21.7m-3 0h6m-6 -21.7h6M529.1 214.1v22.7m-3 0h6m-6 -22.7h6M529.4 228.8v16.0m-3 0h6m-6 -16.0h6M527.9 219.9v16.4m-3 0h6m-6 -16.4h6M517.7 240.6v22.0m-3 0h6m-6 -22.0h6M524.5 232.5v17.6m-3 0h6m-6 -17.6h6M522.9 234.2v16.6m-3 0h6m-6 -16.6h6M524.3 228.4v21.6m-3 0h6m-6 -21.6h6M521.6 226.5v18.8m-3 0h6m-6 -18.8h6M511.8 233.4v16.6m-3 0h6m-6 -16.6h6M525.0 236.4v17.6m-3 0h6m-6 -17.6h6M512.8 235.7v20.7m-3 0h6m-6 -20.7h6M518.7 224.7v19.5m-3 0h6m-6 -19.5h6M514.0 229.3v19.4m-3 0h6m-6 -19.4h6M512.1 231.1v18.2m-3 0h6m-6 -18.2h6M518.2 225.1v21.4m-3 0h6m-6 -21.4h6M528.4 223.5v20.2m-3 0h6m-6 -20.2h6M512.3 217.2v17.5m-3 0h6m-6 -17.5h6M516.3 241.7v22.0m-3 0h6m-6 -22.0h6M511.5 233.5v17.5m-3 0h6m-6 -17.5h6M523.7 233.1v17.2m-3 0h6m-6 -17.2h6M511.2 240.4v19.4m-3 0h6m-6 -19.4h6M524.8 246.0v18.7m-3 0h6m-6 -18.7h6M528.1 225.3v18.1m-3 0h6m-6 -18.1h6M520.4 241.9v19.4m-3 0h6m-6 -19.4h6M521.3 245.7v20.7m-3 0h6m-6 -20.7h6M513.2 240.5v16.2m-3 0h6m-6 -16.2h6M517.3 220.9v19.8m-3 0h6m-6 -19.8h6M516.9 215.7v17.6m-3 0h6m-6 -17.6h6M518.8 236.0v16.2m-3 0h6m-6 -16.2h6M513.2 228.2v18.4m-3 0h6m-6 -18.4h6M513.5 231.7v17.8m-3 0h6m-6 -17.8h6M522.5 232.0v15.2m-3 0h6m-6 -15.2h6M526.0 237.3v19.8m-3 0h6m-6 -19.8h6M528.6 229.4v15.1m-3 0h6m-6 -15.1h6M514.2 221.4v18.0m-3 0h6m-6 -18.0h6M517.8 232.0v19.5m-3 0h6m-6 -19.5h6M520.1 240.5v20.6m-3 0h6m-6 -20.6h6M510.6 225.0v15.7m-3 0h6m-6 -15.7h6M511.0 225.8v15.7m-3 0h6m-6 -15.7h6M518.3 241.4v20.4m-3 0h6m-6 -20.4h6M516.3 237.3v17.9m-3 0h6m-6 -17.9h6M516.1 247.8v17.1m-3 0h6m-6 -17.1h6M516.0 234.9v17.2m-3 0h6m-6 -17.2h6M512.2 246.6v17.7m-3 0h6m-6 -17.7h6M512.5 233.6v18.5m-3 0h6m-6 -18.5h6M517.5 218.3v17.7m-3 0h6m-6 -17.7h6M529.9 238.2v16.0m-3 0h6m-6 -16.0h6M520.0 232.5v23.4m-3 0h6m-6 -23.4h6M529.3 233.0v17.8m-3 0h6m-6 -17.8h6M512.1 238.2v19.4m-3 0h6m-6 -19.4h6M512.0 219.5v19.9m-3 0h6m-6 -19.9h6M518.0 228.2v18.4m-3 0h6m-6 -18.4h6M512.9 235.5v21.6m-3 0h6m-6 -21.6h6M512.2 222.9v19.1m-3 0h6m-6 -19.1h6M526.4 231.9v18.1m-3 0h6m-6 -18.1h6M528.0 226.6v21.3m-3 0h6m-6 -21.3h6M529.0 224.4v17.8m-3 0h6m-6 -17.8h6M512.2 236.8v19.1m-3 0h6m-6 -19.1h6M528.1 230.9v20.1m-3 0h6m-6 -20.1h6M525.4 222.3v20.0m-3 0h6m-6 -20.0h6M521.7 225.7v19.9m-3 0h6m-6 -19.9h6M521.8 246.9v18.4m-3 0h6m-6 -18.4h6M514.2 220.7v20.6m-3 0h6m-6 -20.6h6M518.8 219.2v19.3m-3 0h6m-6 -19.3h6M529.0 239.8v18.3m-3 0h6m-6 -18.3h6M522.6 230.3v21.3m-3 0h6m-6 -21.3h6M511.5 245.9v20.6m-3 0h6m-6 -20.6h6M528.2 230.6v18.9m-3 0h6m-6 -18.9h6M527.5 219.9v17.9m-3 0h6m-6 -17.9h6M521.3 221.3v19.5m-3 0h6m-6 -19.5h6M523.4 237.3v19.2m-3 0h6m-6 -19.2h6M520.7 235.5v20.7m-3 0h6m-6 -20.7h6M529.3 227.0v18.5m-3 0h6m-6 -18.5h6M524.2 230.9v15.6m-3 0h6m-6 -15.6h6M520.1 232.9v21.5m-3 0h6m-6 -21.5h6M519.8 225.8v19.0m-3 0h6m-6 -19.0h6M519.0 241.5v18.7m-3 0h6m-6 -18.7h6M522.7 237.4v16.6m-3 0h6m-6 -16.6h6M525.0 239.9v16.8m-3 0h6m-6 -16.8h6M529.1 235.1v19.5m-3 0h6m-6 -19.5h6M528.5 222.2v19.8m-3 0h6m-6 -19.8h6M517.8 217.7v18.7m-3 0h6m-6 -18.7h6M514.3 219.9v19.1m-3 0h6m-6 -19.1h6M514.6 240.3v17.3m-3 0h6m-6 -17.3h6M529.9 234.9v19.1m-3 0h6m-6 -19.1h6M518.2 223.9v19.7m-3 0h6m-6 -19.7h6M516.5 231.8v18.5m-3 0h6m-6 -18.5h6M522.1 237.3v19.5m-3 0h6m-6 -19.5h6M520.0 230.6v18.7m-3 0h6m-6 -18.7h6M520.0 245.0v20.2m-3 0h6m-6 -20.2h6M529.1 243.2v17.9m-3 0h6m-6 -17.9h6M516.4 239.4v17.0m-3 0h6m-6 -17.0h6M513.8 221.8v17.1m-3 0h6m-6 -17.1h6M517.8 240.9v14.9m-3 0h6m-6 -14.9h6M514.0 238.4v22.0m-3 0h6m-6 -22.0h6M518.5 227.9v17.9m-3 0h6m-6 -17.9h6M515.7 227.1v18.6m-3 0h6m-6 -18.6h6M519.8 246.0v16.0m-3 0h6m-6 -16.0h6M513.3 224.1v19.9m-3 0h6m-6 -19.9h6M527.3 219.5v19.3m-3 0h6m-6 -19.3h6M519.3 213.9v22.2m-3 0h6m-6 -22.2h6M511.4 232.4v18.0m-3 0h6m-6 -18.0h6M524.2 226.5v18.7m-3 0h6m-6 -18.7h6M525.9 214.9v18.6m-3 0h6m-6 -18.6h6M513.3 225.7v18.1m-3 0h6m-6 -18.1h6M521.1 235.0v16.9m-3 0h6m-6 -16.9h6M511.4 241.3v20.1m-3 0h6m-6 -20.1h6M511.2 237.4v15.4m-3 0h6m-6 -15.4h6M517.0 217.3v17.4m-3 0h6m-6 -17.4h6M521.1 235.9v16.7m-3 0h6m-6 -16.7h6M512.5 237.5v18.6m-3 0h6m-6 -18.6h6M528.4 233.7v19.1m-3 0h6m-6 -19.1h6M524.9 241.2v18.8m-3 0h6m-6 -18.8h6M522.3 241.4v17.1m-3 0h6m-6 -17.1h6M523.8 226.0v19.0m-3 0h6m-6 -19.0h6M524.8 221.0v20.7m-3 0h6m-6 -20.7h6M516.2 232.5v19.7m-3 0h6m-6 -19.7h6M524.9 229.5v18.4m-3 0h6m-6 -18.4h6M525.5 238.2v18.6m-3 0h6m-6 -18.6h6M514.9 226.8v18.1m-3 0h6m-6 -18.1h6M520.9 236.3v18.5m-3 0h6m-6 -18.5h6M518.5 235.7v19.6m-3 0h6m-6 -19.6h6M516.8 218.7v20.9m-3 0h6m-6 -20.9h6M518.8 232.6v18.9m-3 0h6m-6 -18.9h6M511.5 226.2v19.1m-3 0h6m-6 -19.1h6M515.5 233.8v16.4m-3 0h6m-6 -16.4h6M511.9 238.8v17.6m-3 0h6m-6 -17.6h6M511.2 239.7v18.8m-3 0h6m-6 -18.8h6M515.9 241.2v19.7m-3 0h6m-6 -19.7h6M527.8 225.0v18.8m-3 0h6m-6 -18.8h6M519.7 239.9v17.4m-3 0h6m-6 -17.4h6M526.9 217.4v17.8m-3 0h6m-6 -17.8h6M511.2 238.9v19.5m-3 0h6m-6 -19.5h6M525.2 230.5v18.9m-3 0h6m-6 -18.9h6M523.1 232.2v15.5m-3 0h6m-6 -15.5h6M515.7 228.8v18.8m-3 0h6m-6 -18.8h6M510.9 226.9v18.1m-3 0h6m-6 -18.1h6M525.0 230.4v15.9m-3 0h6m-6 -15.9h6M520.3 247.8v16.2m-3 0h6m-6 -16.2h6M524.3 223.2v15.6m-3 0h6m-6 -15.6h6M520.0 230.4v18.3m-3 0h6m-6 -18.3h6M523.9 215.5v19.9m-3 0h6m-6 -19.9h6M513.4 224.1v20.8m-3 0h6m-6 -20.8h6M511.0 214.4v19.7m-3 0h6m-6 -19.7h6M511.2 218.5v21.6m-3 0h6m-6 -21.6h6M517.3 234.4v17.7m-3 0h6m-6 -17.7h6M512.1 232.1v21.6m-3 0h6m-6 -21.6h6M519.8 228.3v15.6m-3 0h6m-6 -15.6h6M517.2 236.5v19.0m-3 0h6m-6 -19.0h6M522.2 233.0v18.0m-3 0h6m-6 -18.0h6M524.8 221.1v18.8m-3 0h6m-6 -18.8h6M512.5 222.0v20.9m-3 0h6m-6 -20.9h6M513.9 218.5v18.2m-3 0h6m-6 -18.2h6M524.0 239.1v19.6m-3 0h6m-6 -19.6h6M510.6 241.9v18.3m-3 0h6m-6 -18.3h6M515.8 229.6v19.7m-3 0h6m-6 -19.7h6M525.8 230.0v14.1m-3 0h6m-6 -14.1h6M516.2 238.2v18.0m-3 0h6m-6 -18.0h6M511.9 235.5v19.2m-3 0h6m-6 -19.2h6M524.2 232.7v18.7m-3 0h6m-6 -18.7h6M522.0 244.0v18.0m-3 0h6m-6 -18.0h6M528.1 239.3v17.5m-3 0h6m-6 -17.5h6M515.5 221.8v21.4m-3 0h6m-6 -21.4h6M514.0 223.1v19.7m-3 0h6m-6 -19.7h6M524.6 215.9v21.8m-3 0h6m-6 -21.8h6M511.6 244.7v14.5m-3 0h6m-6 -14.5h6M529.1 238.0v17.4m-3 0h6m-6 -17.4h6M526.2 226.2v22.6m-3 0h6m-6 -22.6h6M527.3 233.6v19.2m-3 0h6m-6 -19.2h6M525.9 220.0v19.7m-3 0h6m-6 -19.7h6M517.9 226.8v18.2m-3 0h6m-6 -18.2h6M510.6 218.5v18.7m-3 0h6m-6 -18.7h6M527.7 247.0v18.0m-3 0h6m-6 -18.0h6M530.0 233.8v18.7m-3 0h6m-6 -18.7h6M518.3 247.7v20.8m-3 0h6m-6 -20.8h6M523.7 214.0v19.9m-3 0h6m-6 -19.9h6M526.0 219.1v18.7m-3 0h6m-6 -18.7h6M521.4 238.9v19.3m-3 0h6m-6 -19.3h6M518.8 234.0v18.6m-3 0h6m-6 -18.6h6M519.9 226.2v19.5m-3 0h6m-6 -19.5h6M517.5 246.0v19.6m-3 0h6m-6 -19.6h6M512.4 225.3v19.3m-3 0h6m-6 -19.3h6M518.8 239.9v15.4m-3 0h6m-6 -15.4h6M512.4 235.7v19.5m-3 0h6m-6 -19.5h6M523.2 244.4v15.3m-3 0h6m-6 -15.3h6M528.6 243.1v14.8m-3 0h6m-6 -14.8h6M511.3 223.3v17.8m-3 0h6m-6 -17.8h6M516.1 231.7v20.0m-3 0h6m-6 -20.0h6M515.2 218.8v16.3m-3 0h6m-6 -16.3h6M530.0 225.1v16.1m-3 0h6m-6 -16.1h6M523.9 236.6v19.2m-3 0h6m-6 -19.2h6M516.5 223.1v19.7m-3 0h6m-6 -19.7h6M529.0 213.9v20.8m-3 0h6m-6 -20.8h6M526.8 242.5v15.6m-3 0h6m-6 -15.6h6M511.2 219.5v18.5m-3 0h6m-6 -18.5h6M513.0 221.9v14.8m-3 0h6m-6 -14.8h6M517.7 238.1v20.1m-3 0h6m-6 -20.1h6M518.2 221.4v22.1m-3 0h6m-6 -22.1h6M521.0 234.7v20.5m-3 0h6m-6 -20.5h6M524.9 235.2v18.5m-3 0h6m-6 -18.5h6M515.7 217.9v16.0m-3 0h6m-6 -16.0h6M511.4 233.8v19.1m-3 0h6m-6 -19.1h6M518.7 237.9v20.1m-3 0h6m-6 -20.1h6M526.6 245.0v17.4m-3 0h6m-6 -17.4h6M513.5 239.4v18.0m-3 0h6m-6 -18.0h6M516.0 239.8v19.8m-3 0h6m-6 -19.8h6M516.0 229.5v17.2m-3 0h6m-6 -17.2h6M514.2 239.7v19.8m-3 0h6m-6 -19.8h6M525.4 242.7v15.0m-3 0h6m-6 -15.0h6M510.5 224.3v19.0m-3 0h6m-6 -19.0h6M522.3 240.8v17.3m-3 0h6m-6 -17.3h6M515.1 217.5v19.7m-3 0h6m-6 -19.7h6M514.9 235.6v18.9m-3 0h6m-6 -18.9h6M526.4 232.2v18.7m-3 0h6m-6 -18.7h6M512.4 230.6v19.5m-3 0h6m-6 -19.5h6M527.6 216.0v19.4m-3 0h6m-6 -19.4h6M516.8 234.8v19.5m-3 0h6m-6 -19.5h6M522.2 235.6v18.8m-3 0h6m-6 -18.8h6M523.9 234.5v17.8m-3 0h6m-6 -17.8h6M528.5 227.0v21.0m-3 0h6m-6 -21.0h6M512.0 214.3v21.0m-3 0h6m-6 -21.0h6M529.2 227.9v22.9m-3 0h6m-6 -22.9h6M514.3 236.5v15.7m-3 0h6m-6 -15.7h6M516.6 220.0v18.4m-3 0h6m-6 -18.4h6M510.1 225.7v19.3m-3 0h6m-6 -19.3h6M516.2 236.0v18.1m-3 0h6m-6 -18.1h6M520.3 234.2v19.0m-3 0h6m-6 -19.0h6M538.4 219.4v20.6m-3 0h6m-6 -20.6h6M532.0 216.3v17.2m-3 0h6m-6 -17.2h6M540.9 218.7v14.4m-3 0h6m-6 -14.4h6M533.6 235.9v20.7m-3 0h6m-6 -20.7h6M534.1 214.5v17.1m-3 0h6m-6 -17.1h6M542.3 222.3v19.4m-3 0h6m-6 -19.4h6M536.8 232.6v19.6m-3 0h6m-6 -19.6h6M531.7 212.2v19.3m-3 0h6m-6 -19.3h6M531.5 231.5v19.2m-3 0h6m-6 -19.2h6M540.6 220.8v19.2m-3 0h6m-6 -19.2h6M537.7 218.0v19.2m-3 0h6m-6 -19.2h6M540.7 209.8v19.2m-3 0h6m-6 -19.2h6M538.9 236.7v20.2m-3 0h6m-6 -20.2h6M530.3 223.8v19.2m-3 0h6m-6 -19.2h6M530.8 226.7v19.9m-3 0h6m-6 -19.9h6M538.9 210.8v18.5m-3 0h6m-6 -18.5h6M542.0 226.3v17.1m-3 0h6m-6 -17.1h6M533.2 210.7v19.5m-3 0h6m-6 -19.5h6M532.6 241.8v19.2m-3 0h6m-6 -19.2h6M537.6 235.8v19.9m-3 0h6m-6 -19.9h6M542.2 236.6v19.4m-3 0h6m-6 -19.4h6M539.4 222.0v19.9m-3 0h6m-6 -19.9h6M535.3 227.1v15.5m-3 0h6m-6 -15.5h6M543.2 233.4v19.3m-3 0h6m-6 -19.3h6M544.6 216.3v17.8m-3 0h6m-6 -17.8h6M539.0 227.9v21.0m-3 0h6m-6 -21.0h6M538.3 223.7v21.1m-3 0h6m-6 -21.1h6M536.4 240.8v18.8m-3 0h6m-6 -18.8h6M543.0 218.6v17.0m-3 0h6m-6 -17.0h6M542.8 222.4v18.2m-3 0h6m-6 -18.2h6M532.6 233.1v16.5m-3 0h6m-6 -16.5h6M538.2 228.5v19.8m-3 0h6m-6 -19.8h6M544.7 224.1v17.1m-3 0h6m-6 -17.1h6M537.4 223.0v18.6m-3 0h6m-6 -18.6h6M532.7 213.5v20.4m-3 0h6m-6 -20.4h6M536.8 226.8v20.0m-3 0h6m-6 -20.0h6M542.2 217.1v17.1m-3 0h6m-6 -17.1h6M537.8 226.8v16.2m-3 0h6m-6 -16.2h6M541.5 240.3v18.0m-3 0h6m-6 -18.0h6M536.4 222.2v16.0m-3 0h6m-6 -16.0h6M541.9 224.0v19.1m-3 0h6m-6 -19.1h6M543.8 226.3v17.5m-3 0h6m-6 -17.5h6M535.6 227.1v18.3m-3 0h6m-6 -18.3h6M541.0 217.7v18.7m-3 0h6m-6 -18.7h6M530.8 225.5v18.6m-3 0h6m-6 -18.6h6M533.8 239.5v19.4m-3 0h6m-6 -19.4h6M541.6 229.2v17.5m-3 0h6m-6 -17.5h6M540.7 233.9v15.4m-3 0h6m-6 -15.4h6M537.9 219.0v20.6m-3 0h6m-6 -20.6h6M545.0 214.3v14.2m-3 0h6m-6 -14.2h6M543.2 227.4v18.2m-3 0h6m-6 -18.2h6M543.1 218.8v20.0m-3 0h6m-6 -20.0h6M534.4 226.3v18.8m-3 0h6m-6 -18.8h6M536.1 239.1v20.1m-3 0h6m-6 -20.1h6M541.1 232.1v18.3m-3 0h6m-6 -18.3h6M531.3 230.7v16.4m-3 0h6m-6 -16.4h6M531.6 231.4v19.9m-3 0h6m-6 -19.9h6M538.0 227.6v16.6m-3 0h6m-6 -16.6h6M539.0 228.1v18.7m-3 0h6m-6 -18.7h6M534.7 222.6v19.3m-3 0h6m-6 -19.3h6M545.0 230.9v18.2m-3 0h6m-6 -18.2h6M533.5 234.1v17.4m-3 0h6m-6 -17.4h6M539.1 232.8v19.9m-3 0h6m-6 -19.9h6M543.5 223.3v18.6m-3 0h6m-6 -18.6h6M534.3 224.9v21.8m-3 0h6m-6 -21.8h6M542.6 213.4v16.9m-3 0h6m-6 -16.9h6M531.4 228.2v17.2m-3 0h6m-6 -17.2h6M543.4 241.9v14.4m-3 0h6m-6 -14.4h6M540.1 226.9v17.7m-3 0h6m-6 -17.7h6M536.5 228.2v21.2m-3 0h6m-6 -21.2h6M538.4 222.2v17.6m-3 0h6m-6 -17.6h6M531.0 220.0v16.9m-3 0h6m-6 -16.9h6M533.8 232.7v19.4m-3 0h6m-6 -19.4h6M534.9 233.3v19.8m-3 0h6m-6 -19.8h6M537.1 215.3v23.0m-3 0h6m-6 -23.0h6M534.5 225.7v20.1m-3 0h6m-6 -20.1h6M537.1 223.5v19.7m-3 0h6m-6 -19.7h6M535.2 215.0v17.1m-3 0h6m-6 -17.1h6M541.6 215.7v19.2m-3 0h6m-6 -19.2h6M538.7 228.6v17.2m-3 0h6m-6 -17.2h6M533.9 224.1v21.2m-3 0h6m-6 -21.2h6M544.0 237.9v21.6m-3 0h6m-6 -21.6h6M540.6 224.0v18.7m-3 0h6m-6 -18.7h6M542.7 227.8v18.4m-3 0h6m-6 -18.4h6M531.9 221.2v17.2m-3 0h6m-6 -17.2h6M532.5 241.7v18.0m-3 0h6m-6 -18.0h6M531.2 226.1v20.6m-3 0h6m-6 -20.6h6M530.6 237.0v18.1m-3 0h6m-6 -18.1h6M536.9 224.1v18.9m-3 0h6m-6 -18.9h6M542.3 227.2v17.5m-3 0h6m-6 -17.5h6M543.7 233.0v19.4m-3 0h6m-6 -19.4h6M543.5 221.1v21.1m-3 0h6m-6 -21.1h6M535.5 224.9v17.6m-3 0h6m-6 -17.6h6M533.4 229.4v15.4m-3 0h6m-6 -15.4h6M538.0 231.2v17.7m-3 0h6m-6 -17.7h6M533.1 228.7v21.8m-3 0h6m-6 -21.8h6M533.2 228.3v18.6m-3 0h6m-6 -18.6h6M536.4 228.3v19.2m-3 0h6m-6 -19.2h6M530.4 223.7v19.5m-3 0h6m-6 -19.5h6M532.5 232.5v17.2m-3 0h6m-6 -17.2h6M543.4 232.1v18.3m-3 0h6m-6 -18.3h6M542.5 231.0v16.4m-3 0h6m-6 -16.4h6M543.5 225.0v18.5m-3 0h6m-6 -18.5h6M538.6 221.0v16.8m-3 0h6m-6 -16.8h6M531.7 236.1v20.8m-3 0h6m-6 -20.8h6M539.6 226.3v13.8m-3 0h6m-6 -13.8h6M540.2 215.0v17.4m-3 0h6m-6 -17.4h6M533.6 233.6v17.8m-3 0h6m-6 -17.8h6M533.4 226.7v18.5m-3 0h6m-6 -18.5h6M538.0 232.0v17.5m-3 0h6m-6 -17.5h6M542.5 232.8v19.5m-3 0h6m-6 -19.5h6M536.2 233.8v19.2m-3 0h6m-6 -19.2h6M530.2 240.9v18.8m-3 0h6m-6 -18.8h6M532.5 241.4v18.5m-3 0h6m-6 -18.5h6M538.9 228.2v20.6m-3 0h6m-6 -20.6h6M537.3 236.9v21.6m-3 0h6m-6 -21.6h6M544.0 219.8v19.2m-3 0h6m-6 -19.2h6M541.5 236.5v20.8m-3 0h6m-6 -20.8h6M532.4 229.6v16.1m-3 0h6m-6 -16.1h6M544.3 232.3v18.5m-3 0h6m-6 -18.5h6M533.0 231.7v18.6m-3 0h6m-6 -18.6h6M539.2 241.9v19.9m-3 0h6m-6 -19.9h6M536.9 232.7v16.8m-3 0h6m-6 -16.8h6M534.0 229.8v17.3m-3 0h6m-6 -17.3h6M542.5 235.8v16.8m-3 0h6m-6 -16.8h6M540.4 232.5v17.4m-3 0h6m-6 -17.4h6M543.1 228.7v19.4m-3 0h6m-6 -19.4h6M530.9 226.9v20.4m-3 0h6m-6 -20.4h6M535.4 224.0v17.3m-3 0h6m-6 -17.3h6M532.0 216.7v17.6m-3 0h6m-6 -17.6h6M538.8 238.4v18.4m-3 0h6m-6 -18.4h6M533.6 227.8v17.5m-3 0h6m-6 -17.5h6M542.6 218.2v20.2m-3 0h6m-6 -20.2h6M533.4 218.1v20.7m-3 0h6m-6 -20.7h6M543.3 225.3v24.4m-3 0h6m-6 -24.4h6M544.2 219.3v19.4m-3 0h6m-6 -19.4h6M535.9 222.4v19.4m-3 0h6m-6 -19.4h6M533.7 235.4v19.3m-3 0h6m-6 -19.3h6M533.8 206.9v22.5m-3 0h6m-6 -22.5h6M543.7 217.4v20.1m-3 0h6m-6 -20.1h6M535.9 221.8v18.3m-3 0h6m-6 -18.3h6M541.4 229.5v18.3m-3 0h6m-6 -18.3h6M541.8 219.9v21.5m-3 0h6m-6 -21.5h6M540.0 224.6v19.1m-3 0h6m-6 -19.1h6M536.7 212.2v18.1m-3 0h6m-6 -18.1h6M541.8 231.5v19.3m-3 0h6m-6 -19.3h6M530.6 234.1v15.2m-3 0h6m-6 -15.2h6M542.0 216.7v20.6m-3 0h6m-6 -20.6h6M542.7 237.6v17.6m-3 0h6m-6 -17.6h6M541.0 217.5v16.9m-3 0h6m-6 -16.9h6M537.3 225.7v20.7m-3 0h6m-6 -20.7h6M532.9 241.8v19.1m-3 0h6m-6 -19.1h6M532.7 232.9v15.5m-3 0h6m-6 -15.5h6M541.8 227.2v16.1m-3 0h6m-6 -16.1h6M540.5 223.1v18.3m-3 0h6m-6 -18.3h6M534.0 229.0v18.4m-3 0h6m-6 -18.4h6M535.9 234.5v19.2m-3 0h6m-6 -19.2h6M543.6 217.9v19.0m-3 0h6m-6 -19.0h6M534.9 216.5v19.0m-3 0h6m-6 -19.0h6M540.9 231.1v15.8m-3 0h6m-6 -15.8h6M538.4 230.3v19.3m-3 0h6m-6 -19.3h6M543.2 229.0v19.9m-3 0h6m-6 -19.9h6M543.5 229.9v18.2m-3 0h6m-6 -18.2h6M540.7 228.2v20.4m-3 0h6m-6 -20.4h6M535.2 233.9v20.7m-3 0h6m-6 -20.7h6M543.2 225.2v17.0m-3 0h6m-6 -17.0h6M543.4 240.1v17.3m-3 0h6m-6 -17.3h6M540.6 225.9v20.3m-3 0h6m-6 -20.3h6M538.7 219.8v21.8m-3 0h6m-6 -21.8h6M543.3 208.2v18.8m-3 0h6m-6 -18.8h6M542.5 224.5v22.2m-3 0h6m-6 -22.2h6M544.2 231.4v18.3m-3 0h6m-6 -18.3h6M544.2 222.4v22.1m-3 0h6m-6 -22.1h6M533.8 222.7v19.3m-3 0h6m-6 -19.3h6M543.4 234.7v18.3m-3 0h6m-6 -18.3h6M535.3 227.3v15.6m-3 0h6m-6 -15.6h6M538.3 220.9v20.8m-3 0h6m-6 -20.8h6M537.3 224.1v19.3m-3 0h6m-6 -19.3h6M535.5 214.1v20.8m-3 0h6m-6 -20.8h6M538.8 210.9v19.0m-3 0h6m-6 -19.0h6M532.3 236.1v16.9m-3 0h6m-6 -16.9h6M530.7 236.3v18.4m-3 0h6m-6 -18.4h6M530.6 219.0v17.3m-3 0h6m-6 -17.3h6M536.6 235.8v17.0m-3 0h6m-6 -17.0h6M533.4 230.4v18.6m-3 0h6m-6 -18.6h6M544.2 214.8v17.5m-3 0h6m-6 -17.5h6M532.1 225.6v17.9m-3 0h6m-6 -17.9h6M537.0 228.3v22.3m-3 0h6m-6 -22.3h6M536.2 236.9v18.0m-3 0h6m-6 -18.0h6M540.9 234.0v19.2m-3 0h6m-6 -19.2h6M531.1 217.7v17.7m-3 0h6m-6 -17.7h6M530.5 240.6v20.2m-3 0h6m-6 -20.2h6M542.1 242.5v20.2m-3 0h6m-6 -20.2h6M543.5 231.3v21.4m-3 0h6m-6 -21.4h6M540.1 229.4v18.3m-3 0h6m-6 -18.3h6M552.3 227.4v15.2m-3 0h6m-6 -15.2h6M547.4 236.0v18.3m-3 0h6m-6 -18.3h6M550.8 223.2v17.1m-3 0h6m-6 -17.1h6M553.6 221.7v20.9m-3 0h6m-6 -20.9h6M552.0 225.9v21.7m-3 0h6m-6 -21.7h6M552.2 226.0v18.9m-3 0h6m-6 -18.9h6M548.8 219.3v15.6m-3 0h6m-6 -15.6h6M545.5 226.2v17.4m-3 0h6m-6 -17.4h6M553.7 233.4v18.9m-3 0h6m-6 -18.9h6M549.2 227.0v15.6m-3 0h6m-6 -15.6h6M547.6 229.6v16.2m-3 0h6m-6 -16.2h6M546.9 229.0v20.2m-3 0h6m-6 -20.2h6M550.2 226.0v14.6m-3 0h6m-6 -14.6h6M547.3 225.6v23.4m-3 0h6m-6 -23.4h6M550.6 229.4v19.3m-3 0h6m-6 -19.3h6M546.7 224.6v17.9m-3 0h6m-6 -17.9h6M551.1 221.5v15.8m-3 0h6m-6 -15.8h6M548.3 231.6v20.7m-3 0h6m-6 -20.7h6M552.0 219.0v20.6m-3 0h6m-6 -20.6h6M553.5 228.3v18.4m-3 0h6m-6 -18.4h6M548.2 222.3v18.0m-3 0h6m-6 -18.0h6M547.9 221.9v15.6m-3 0h6m-6 -15.6h6M548.7 222.7v20.8m-3 0h6m-6 -20.8h6M546.1 226.9v20.7m-3 0h6m-6 -20.7h6M551.8 215.8v20.9m-3 0h6m-6 -20.9h6M546.1 229.7v21.5m-3 0h6m-6 -21.5h6M548.9 223.7v21.4m-3 0h6m-6 -21.4h6M548.2 237.7v15.8m-3 0h6m-6 -15.8h6M549.9 219.6v20.1m-3 0h6m-6 -20.1h6M550.3 222.2v17.3m-3 0h6m-6 -17.3h6M545.3 230.4v18.3m-3 0h6m-6 -18.3h6M546.4 221.7v20.4m-3 0h6m-6 -20.4h6M549.6 229.4v17.4m-3 0h6m-6 -17.4h6M545.3 222.1v20.5m-3 0h6m-6 -20.5h6M549.6 229.4v19.5m-3 0h6m-6 -19.5h6M550.5 224.2v18.4m-3 0h6m-6 -18.4h6M545.8 219.3v19.7m-3 0h6m-6 -19.7h6M551.5 230.5v19.0m-3 0h6m-6 -19.0h6M547.8 227.1v18.0m-3 0h6m-6 -18.0h6M546.0 220.8v18.7m-3 0h6m-6 -18.7h6M545.3 222.7v13.7m-3 0h6m-6 -13.7h6M548.6 217.8v19.8m-3 0h6m-6 -19.8h6M546.7 233.8v18.9m-3 0h6m-6 -18.9h6M547.5 216.6v18.0m-3 0h6m-6 -18.0h6M546.4 214.6v19.2m-3 0h6m-6 -19.2h6M552.6 220.9v21.3m-3 0h6m-6 -21.3h6M547.3 224.7v15.7m-3 0h6m-6 -15.7h6M547.6 229.0v19.0m-3 0h6m-6 -19.0h6M550.0 224.5v19.3m-3 0h6m-6 -19.3h6M550.3 223.3v22.4m-3 0h6m-6 -22.4h6M548.7 233.2v16.3m-3 0h6m-6 -16.3h6M545.8 227.3v17.1m-3 0h6m-6 -17.1h6M550.0 228.3v19.7m-3 0h6m-6 -19.7h6M552.8 230.5v17.7m-3 0h6m-6 -17.7h6M549.2 231.6v20.1m-3 0h6m-6 -20.1h6M549.9 223.8v18.1m-3 0h6m-6 -18.1h6M547.4 215.3v20.2m-3 0h6m-6 -20.2h6M550.3 228.8v20.3m-3 0h6m-6 -20.3h6M549.5 220.6v18.3m-3 0h6m-6 -18.3h6M551.3 228.0v19.7m-3 0h6m-6 -19.7h6M551.3 224.0v19.6m-3 0h6m-6 -19.6h6M551.8 222.0v17.0m-3 0h6m-6 -17.0h6M550.6 236.4v17.9m-3 0h6m-6 -17.9h6M552.7 225.7v16.9m-3 0h6m-6 -16.9h6M546.9 224.0v18.4m-3 0h6m-6 -18.4h6M546.5 220.9v19.3m-3 0h6m-6 -19.3h6M549.6 229.0v18.0m-3 0h6m-6 -18.0h6M553.3 222.8v17.2m-3 0h6m-6 -17.2h6M545.3 224.7v16.2m-3 0h6m-6 -16.2h6M552.3 226.6v19.5m-3 0h6m-6 -19.5h6M547.0 233.5v19.5m-3 0h6m-6 -19.5h6M549.6 231.9v14.7m-3 0h6m-6 -14.7h6M552.7 221.6v17.8m-3 0h6m-6 -17.8h6M553.5 230.2v17.2m-3 0h6m-6 -17.2h6M550.9 225.5v18.4m-3 0h6m-6 -18.4h6M548.4 220.7v16.6m-3 0h6m-6 -16.6h6M546.2 220.8v19.8m-3 0h6m-6 -19.8h6M553.1 231.0v18.5m-3 0h6m-6 -18.5h6M549.5 226.0v21.1m-3 0h6m-6 -21.1h6M547.6 216.6v17.8m-3 0h6m-6 -17.8h6M553.5 235.4v19.0m-3 0h6m-6 -19.0h6M549.8 226.5v17.7m-3 0h6m-6 -17.7h6M551.6 215.8v20.1m-3 0h6m-6 -20.1h6M550.4 217.9v16.8m-3 0h6m-6 -16.8h6M545.2 224.8v20.1m-3 0h6m-6 -20.1h6M552.0 230.1v20.4m-3 0h6m-6 -20.4h6M548.0 232.4v15.9m-3 0h6m-6 -15.9h6M546.9 217.2v20.4m-3 0h6m-6 -20.4h6M553.2 228.3v16.1m-3 0h6m-6 -16.1h6M553.8 222.0v15.7m-3 0h6m-6 -15.7h6M100.1 259.5v22.0m-3 0h6m-6 -22.0h6M117.3 205.4v20.0m-3 0h6m-6 -20.0h6M97.6 215.5v19.0m-3 0h6m-6 -19.0h6M98.5 241.5v19.0m-3 0h6m-6 -19.0h6M133.0 195.2v19.0m-3 0h6m-6 -19.0h6M138.5 199.0v19.0m-3 0h6m-6 -19.0h6M163.5 198.5v19.0m-3 0h6m-6 -19.0h6M169.8 198.5v19.0m-3 0h6m-6 -19.0h6M174.6 195.0v19.0m-3 0h6m-6 -19.0h6M188.0 198.5v19.0m-3 0h6m-6 -19.0h6M201.6 195.7v19.0m-3 0h6m-6 -19.0h6M205.3 193.2v19.0m-3 0h6m-6 -19.0h6M154.0 267.5v19.0m-3 0h6m-6 -19.0h6M157.0 268.5v20.0m-3 0h6m-6 -20.0h6M168.0 266.5v19.0m-3 0h6m-6 -19.0h6M171.0 267.5v20.0m-3 0h6m-6 -20.0h6M174.0 265.5v19.0m-3 0h6m-6 -19.0h6M177.5 264.5v19.0m-3 0h6m-6 -19.0h6M199.0 256.0v19.0m-3 0h6m-6 -19.0h6M166.0 262.5v19.0m-3 0h6m-6 -19.0h6M179.0 262.0v18.0m-3 0h6m-6 -18.0h6M211.4 241.0v19.0m-3 0h6m-6 -19.0h6M218.0 240.1v19.0m-3 0h6m-6 -19.0h6M218.6 232.3v19.0m-3 0h6m-6 -19.0h6M222.1 199.6v19.0m-3 0h6m-6 -19.0h6M223.5 200.0v19.0m-3 0h6m-6 -19.0h6M222.0 206.5v19.0m-3 0h6m-6 -19.0h6M225.4 224.5v19.0m-3 0h6m-6 -19.0h6M226.4 232.8v19.0m-3 0h6m-6 -19.0h6M223.5 233.5v19.0m-3 0h6m-6 -19.0h6M228.8 251.4v19.0m-3 0h6m-6 -19.0h6M228.0 259.1v20.0m-3 0h6m-6 -20.0h6M219.6 239.1v19.0m-3 0h6m-6 -19.0h6M281.6 199.7v13.0m-3 0h6m-6 -13.0h6M278.3 248.8v21.0m-3 0h6m-6 -21.0h6M295.3 259.1v20.0m-3 0h6m-6 -20.0h6M301.0 256.0v20.0m-3 0h6m-6 -20.0h6M302.5 254.5v20.0m-3 0h6m-6 -20.0h6M317.3 260.5v20.0m-3 0h6m-6 -20.0h6M298.0 252.5v19.0m-3 0h6m-6 -19.0h6M309.0 204.5v19.0m-3 0h6m-6 -19.0h6M337.0 196.0v19.0m-3 0h6m-6 -19.0h6M341.0 194.5v19.0m-3 0h6m-6 -19.0h6M361.4 260.5v19.0m-3 0h6m-6 -19.0h6M375.0 253.7v21.0m-3 0h6m-6 -21.0h6M345.0 197.5v19.0m-3 0h6m-6 -19.0h6M376.0 197.5v19.0m-3 0h6m-6 -19.0h6M379.5 196.5v19.0m-3 0h6m-6 -19.0h6M356.0 252.5v19.0m-3 0h6m-6 -19.0h6M366.0 253.5v19.0m-3 0h6m-6 -19.0h6M391.6 192.3v22.0m-3 0h6m-6 -22.0h6M401.0 216.7v18.0m-3 0h6m-6 -18.0h6M392.6 239.1v19.0m-3 0h6m-6 -19.0h6M396.5 248.5v19.0m-3 0h6m-6 -19.0h6M401.4 236.2v19.0m-3 0h6m-6 -19.0h6M400.4 232.3v19.0m-3 0h6m-6 -19.0h6M388.7 245.9v19.0m-3 0h6m-6 -19.0h6M393.6 221.5v19.0m-3 0h6m-6 -19.0h6M397.5 223.5v19.0m-3 0h6m-6 -19.0h6M389.5 212.5v19.0m-3 0h6m-6 -19.0h6M390.5 228.5v19.0m-3 0h6m-6 -19.0h6M455.5 201.0v19.0m-3 0h6m-6 -19.0h6M462.5 200.0v19.0m-3 0h6m-6 -19.0h6M455.5 245.5v19.0m-3 0h6m-6 -19.0h6M461.5 243.5v16.0m-3 0h6m-6 -16.0h6M481.5 201.5v19.0m-3 0h6m-6 -19.0h6M502.0 207.0v18.0m-3 0h6m-6 -18.0h6M508.0 206.0v18.0m-3 0h6m-6 -18.0h6M503.0 248.0v20.0m-3 0h6m-6 -20.0h6M515.0 252.5v19.0m-3 0h6m-6 -19.0h6M531.5 206.0v19.0m-3 0h6m-6 -19.0h6M538.5 207.0v19.0m-3 0h6m-6 -19.0h6M543.0 209.0v18.0m-3 0h6m-6 -18.0h6M547.0 212.0v18.0m-3 0h6m-6 -18.0h6M520.0 246.5v19.0m-3 0h6m-6 -19.0h6M526.0 247.5v19.0m-3 0h6m-6 -19.0h6M576.4 201.9v19.0m-3 0h6m-6 -19.0h6M577.8 213.2v19.0m-3 0h6m-6 -19.0h6M576.0 236.1v22.0m-3 0h6m-6 -22.0h6M569.6 216.2v19.0m-3 0h6m-6 -19.0h6M568.6 225.0v19.0m-3 0h6m-6 -19.0h6M573.5 225.9v19.0m-3 0h6m-6 -19.0h6M567.6 233.7v19.0m-3 0h6m-6 -19.0h6M564.7 208.9v16.0m-3 0h6m-6 -16.0h6M570.5 235.5v19.0m-3 0h6m-6 -19.0h6M566.5 227.0v18.0m-3 0h6m-6 -18.0h6M571.5 230.5v19.0m-3 0h6m-6 -19.0h6M565.2 221.9v17.8m-3 0h6m-6 -17.8h6M562.6 207.8v14.9m-3 0h6m-6 -14.9h6M557.4 214.9v16.0m-3 0h6m-6 -16.0h6M562.3 206.1v14.2m-3 0h6m-6 -14.2h6M560.0 183.2v10.4m-3 0h6m-6 -10.4h6M565.9 227.6v18.0m-3 0h6m-6 -18.0h6M556.5 221.1v17.0m-3 0h6m-6 -17.0h6M561.6 196.7v12.3m-3 0h6m-6 -12.3h6M555.0 224.9v17.9m-3 0h6m-6 -17.9h6M557.5 211.8v15.8m-3 0h6m-6 -15.8h6M557.8 207.0v15.3m-3 0h6m-6 -15.3h6M563.8 217.5v16.7m-3 0h6m-6 -16.7h6M559.0 198.6v12.5m-3 0h6m-6 -12.5h6M564.4 215.5v17.3m-3 0h6m-6 -17.3h6M560.2 180.1v10.3m-3 0h6m-6 -10.3h6M556.5 217.3v17.0m-3 0h6m-6 -17.0h6M558.9 195.5v12.6m-3 0h6m-6 -12.6h6M562.3 201.9v14.2m-3 0h6m-6 -14.2h6M563.3 216.6v16.0m-3 0h6m-6 -16.0h6M563.6 212.8v16.5m-3 0h6m-6 -16.5h6M555.0 229.2v17.9m-3 0h6m-6 -17.9h6M556.8 217.5v16.7m-3 0h6m-6 -16.7h6M564.6 222.1v17.4m-3 0h6m-6 -17.4h6M560.7 181.3v10.6m-3 0h6m-6 -10.6h6M561.2 187.8v11.4m-3 0h6m-6 -11.4h6M558.9 197.5v12.7m-3 0h6m-6 -12.7h6M561.2 187.8v11.4m-3 0h6m-6 -11.4h6M557.2 215.3v16.2m-3 0h6m-6 -16.2h6M563.9 222.6v16.8m-3 0h6m-6 -16.8h6M555.8 219.5v17.6m-3 0h6m-6 -17.6h6M560.2 174.5v10.0m-3 0h6m-6 -10.0h6M560.5 176.2v10.0m-3 0h6m-6 -10.0h6M560.3 177.8v10.0m-3 0h6m-6 -10.0h6M560.6 179.2v10.0m-3 0h6m-6 -10.0h6M560.1 181.5v10.0m-3 0h6m-6 -10.0h6M559.6 185.5v10.0m-3 0h6m-6 -10.0h6M561.1 187.0v10.0m-3 0h6m-6 -10.0h6M559.3 191.0v10.0m-3 0h6m-6 -10.0h6M561.6 194.0v10.0m-3 0h6m-6 -10.0h6" fill="none" stroke="#000" stroke-width="1"/>
<path d="M97.4 237.1h0M98.5 225.6h0M98.9 235.5h0M98.5 227.7h0M98.5 237.9h0M98.0 242.3h0M97.6 235.1h0M98.7 250.4h0M98.1 237.6h0M98.6 247.9h0M98.1 240.3h0M97.4 241.9h0M98.7 241.3h0M102.9 245.6h0M103.5 248.9h0M103.0 238.1h0M102.2 236.1h0M103.9 249.4h0M103.6 244.8h0M102.5 234.7h0M102.4 237.9h0M103.4 248.0h0M102.9 243.4h0M103.5 238.7h0M102.9 235.9h0M103.7 232.2h0M108.0 243.2h0M107.1 235.0h0M108.1 241.0h0M107.8 236.1h0M107.6 246.7h0M107.7 246.8h0M107.8 248.7h0M106.7 244.2h0M107.1 239.0h0M108.6 240.1h0M107.1 250.3h0M108.6 250.0h0M111.1 245.9h0M111.0 242.3h0M112.6 239.5h0M112.9 251.5h0M112.5 248.7h0M111.8 239.6h0M111.5 238.1h0M111.4 234.1h0M111.2 238.1h0M112.6 237.2h0M111.2 244.8h0M111.7 242.7h0M115.4 248.6h0M117.0 243.2h0M116.9 245.4h0M115.7 238.9h0M116.5 231.5h0M116.9 244.5h0M116.4 242.1h0M115.7 250.0h0M116.0 243.5h0M115.6 232.7h0M116.5 244.5h0M115.3 244.3h0M115.7 234.6h0M116.0 242.1h0M116.9 231.1h0M129.2 245.9h0M123.4 249.8h0M117.3 248.2h0M126.6 253.6h0M122.2 236.7h0M122.8 246.0h0M125.0 237.2h0M125.1 252.6h0M129.8 242.1h0M118.3 234.7h0M121.9 233.0h0M120.1 231.4h0M129.3 247.0h0M121.5 252.9h0M123.6 229.2h0M126.8 254.1h0M123.0 237.8h0M121.9 232.9h0M122.9 240.7h0M126.4 231.4h0M119.9 226.9h0M117.3 246.4h0M117.2 225.0h0M124.4 225.0h0M118.2 245.0h0M129.1 230.4h0M124.1 239.8h0M118.1 242.0h0M123.3 242.8h0M128.5 234.3h0M126.1 239.8h0M122.3 243.4h0M122.2 243.5h0M129.3 242.8h0M120.8 228.9h0M121.7 225.9h0M120.7 243.8h0M121.3 242.3h0M123.5 224.8h0M127.0 249.7h0M127.2 242.2h0M128.8 239.6h0M124.9 226.1h0M126.7 236.3h0M118.6 236.7h0M119.0 238.6h0M120.9 242.9h0M128.3 239.7h0M125.8 247.3h0M127.0 221.6h0M120.7 233.7h0M129.9 246.9h0M128.7 241.5h0M125.9 255.0h0M125.8 245.0h0M124.3 242.5h0M118.2 248.3h0M117.5 237.6h0M121.6 227.6h0M118.6 238.0h0M122.4 243.0h0M127.5 237.2h0M128.0 243.8h0M128.3 229.2h0M127.4 237.0h0M120.5 243.0h0M122.8 233.8h0M125.6 248.6h0M129.2 238.1h0M123.0 232.7h0M125.6 241.5h0M121.1 230.6h0M128.1 256.5h0M128.4 231.8h0M119.2 256.4h0M122.8 241.1h0M125.6 244.1h0M119.7 228.5h0M125.6 237.2h0M128.2 248.1h0M122.7 233.1h0M124.4 252.8h0M128.4 257.5h0M126.1 246.9h0M120.2 239.8h0M126.1 248.1h0M121.6 248.2h0M121.6 227.6h0M117.2 248.2h0M120.2 229.7h0M128.7 239.1h0M124.7 241.0h0M126.3 246.1h0M117.6 228.9h0M122.6 256.3h0M126.9 251.9h0M124.7 243.7h0M125.7 248.7h0M124.4 247.1h0M129.9 243.4h0M125.4 238.8h0M125.7 238.7h0M128.9 227.9h0M127.1 242.2h0M122.6 240.3h0M118.3 243.1h0M118.0 239.3h0M122.5 237.7h0M122.8 232.2h0M125.5 228.8h0M120.2 244.5h0M128.3 234.7h0M120.8 238.1h0M129.3 259.7h0M123.4 244.3h0M117.8 247.4h0M129.0 252.8h0M125.1 242.6h0M124.2 227.6h0M120.1 253.1h0M126.9 254.1h0M121.5 257.4h0M125.9 246.1h0M126.3 249.8h0M118.4 237.3h0M120.3 236.6h0M124.4 246.6h0M129.5 241.6h0M123.3 228.1h0M120.4 239.6h0M123.4 243.6h0M128.2 247.3h0M123.0 232.2h0M122.4 237.4h0M125.3 245.5h0M129.2 223.5h0M128.4 249.2h0M118.5 247.6h0M123.2 250.9h0M123.8 243.5h0M127.5 233.2h0M123.0 237.7h0M118.9 239.1h0M129.4 244.4h0M128.7 237.0h0M128.6 257.1h0M124.4 226.6h0M119.8 233.9h0M119.8 250.1h0M125.7 237.3h0M117.6 252.8h0M123.7 230.5h0M126.0 245.9h0M124.5 239.5h0M121.0 246.3h0M124.1 243.4h0M122.0 236.9h0M126.2 247.4h0M125.1 245.5h0M119.5 250.9h0M129.9 235.9h0M127.7 246.1h0M122.0 244.3h0M125.4 234.2h0M117.9 224.2h0M133.3 254.0h0M136.5 236.4h0M130.3 242.6h0M134.5 245.4h0M139.5 257.5h0M139.0 243.4h0M139.5 223.6h0M134.5 243.4h0M133.3 248.1h0M134.3 228.6h0M130.9 254.2h0M133.8 234.6h0M140.7 255.6h0M139.3 234.4h0M132.6 224.9h0M133.0 222.5h0M130.4 236.7h0M134.8 233.6h0M136.8 234.0h0M130.0 229.6h0M139.4 231.7h0M135.7 235.9h0M140.8 220.9h0M135.3 234.8h0M130.8 235.7h0M138.5 234.2h0M131.4 235.5h0M130.7 249.6h0M130.5 219.9h0M130.5 245.3h0M135.4 240.9h0M134.7 243.6h0M130.9 246.2h0M134.1 227.6h0M138.2 239.2h0M132.7 226.9h0M132.8 229.5h0M140.7 222.1h0M139.5 232.9h0M132.8 223.6h0M138.5 247.4h0M137.2 235.4h0M137.4 248.0h0M130.3 239.7h0M135.0 251.5h0M130.6 236.6h0M137.8 240.9h0M133.9 229.8h0M131.9 240.4h0M132.8 245.4h0M136.1 244.8h0M130.6 241.1h0M130.8 239.4h0M132.8 239.9h0M136.7 239.8h0M130.5 245.1h0M132.0 258.6h0M135.5 257.7h0M132.7 227.8h0M134.2 239.1h0M133.7 241.6h0M134.3 236.4h0M136.0 226.0h0M132.4 226.2h0M136.2 223.5h0M132.7 239.3h0M136.1 252.2h0M141.0 245.2h0M136.7 224.0h0M134.1 232.3h0M135.1 239.0h0M138.0 233.3h0M130.7 239.9h0M138.9 257.0h0M131.1 257.2h0M132.4 238.8h0M134.3 234.4h0M134.4 242.9h0M140.5 233.8h0M132.6 231.5h0M140.8 234.2h0M136.6 227.8h0M134.7 259.0h0M133.2 241.8h0M136.1 250.6h0M133.4 244.3h0M138.7 223.9h0M137.7 232.7h0M139.2 228.2h0M139.8 231.2h0M136.6 256.4h0M131.9 259.7h0M140.1 246.1h0M136.9 243.3h0M136.7 245.3h0M135.6 253.5h0M133.9 239.7h0M140.2 232.1h0M131.6 242.8h0M130.0 258.0h0M134.6 244.2h0M135.3 232.3h0M130.4 244.4h0M132.2 241.0h0M131.6 242.0h0M133.4 236.8h0M130.7 241.0h0M138.6 228.9h0M131.9 242.5h0M136.6 246.4h0M134.6 235.8h0M136.0 233.8h0M132.6 239.4h0M130.4 243.8h0M130.4 259.5h0M130.9 238.1h0M138.5 227.6h0M137.1 230.1h0M133.7 249.2h0M131.1 244.0h0M136.4 225.0h0M136.2 238.6h0M130.5 254.2h0M140.7 236.4h0M136.4 240.3h0M132.2 236.1h0M139.8 234.5h0M130.9 247.4h0M139.1 237.3h0M134.0 236.3h0M138.9 251.2h0M134.0 234.8h0M136.0 252.5h0M133.9 245.3h0M136.6 248.2h0M133.4 235.3h0M133.6 240.4h0M133.1 244.5h0M132.3 240.1h0M139.6 236.0h0M139.4 248.3h0M136.1 228.1h0M136.2 250.4h0M132.7 235.9h0M134.8 234.0h0M136.5 249.6h0M133.0 227.4h0M133.6 245.8h0M135.0 221.0h0M131.6 248.9h0M138.2 233.7h0M131.4 244.9h0M132.0 230.8h0M130.1 240.2h0M137.1 237.3h0M138.8 234.9h0M135.8 246.7h0M137.7 233.7h0M133.0 238.0h0M140.6 232.1h0M135.6 242.1h0M140.0 239.2h0M137.6 258.3h0M132.8 230.7h0M133.7 231.4h0M145.9 229.2h0M148.1 224.2h0M146.3 233.0h0M149.5 227.7h0M150.0 237.1h0M151.3 221.7h0M147.1 226.3h0M149.0 249.0h0M148.3 237.3h0M149.6 251.3h0M142.9 247.6h0M147.5 219.5h0M147.8 249.3h0M151.0 235.3h0M150.8 237.1h0M144.6 232.8h0M142.2 226.9h0M144.5 232.1h0M145.7 223.2h0M146.3 238.5h0M144.6 250.5h0M147.5 241.3h0M147.6 240.3h0M148.3 231.7h0M141.3 245.3h0M149.5 254.2h0M148.0 251.6h0M149.4 254.8h0M142.4 231.1h0M142.9 226.1h0M148.6 235.0h0M150.5 248.9h0M141.5 233.0h0M143.8 216.8h0M143.7 248.6h0M144.2 242.2h0M149.5 244.4h0M149.6 243.4h0M151.2 237.3h0M151.2 245.0h0M143.0 251.0h0M146.2 225.6h0M145.7 243.7h0M146.6 217.8h0M151.9 244.3h0M144.1 244.7h0M151.8 252.7h0M142.7 246.1h0M147.4 222.2h0M148.6 239.5h0M144.3 236.9h0M145.0 225.9h0M143.1 239.5h0M149.1 223.6h0M144.6 234.9h0M151.3 252.8h0M150.7 237.3h0M144.3 223.7h0M149.1 244.6h0M148.3 235.9h0M147.3 242.5h0M151.4 232.0h0M143.7 245.6h0M151.0 252.4h0M148.5 250.4h0M149.0 243.4h0M151.8 238.4h0M141.4 230.6h0M145.7 256.8h0M150.9 244.4h0M142.1 246.2h0M141.9 233.1h0M142.1 252.2h0M150.1 241.6h0M142.4 237.7h0M147.1 236.4h0M149.0 229.6h0M146.5 233.4h0M141.5 230.5h0M144.7 234.9h0M149.5 255.8h0M146.5 232.1h0M145.2 219.5h0M146.5 237.6h0M145.3 249.7h0M149.0 246.9h0M142.3 246.3h0M145.9 243.4h0M150.8 254.8h0M142.1 227.1h0M150.6 232.3h0M149.5 233.4h0M145.9 248.2h0M142.5 239.4h0M143.9 235.7h0M151.6 236.4h0M148.3 231.2h0M141.3 252.5h0M141.3 221.1h0M150.9 253.5h0M143.8 255.3h0M151.0 251.9h0M146.2 246.8h0M145.9 232.8h0M142.4 234.1h0M142.4 233.1h0M146.6 235.0h0M151.3 239.6h0M148.4 223.3h0M144.3 245.1h0M148.9 226.8h0M143.1 244.8h0M145.5 238.2h0M151.6 236.7h0M150.5 240.4h0M141.5 227.5h0M148.6 241.7h0M146.6 240.7h0M150.1 224.3h0M147.5 234.2h0M149.4 243.7h0M147.3 238.7h0M144.5 232.8h0M150.8 251.4h0M142.2 238.0h0M150.6 247.0h0M144.0 242.9h0M143.6 230.6h0M147.0 235.3h0M149.3 218.0h0M148.8 248.2h0M151.6 236.0h0M141.1 254.6h0M145.3 241.5h0M142.2 258.2h0M145.7 236.8h0M148.5 231.4h0M149.5 229.1h0M141.9 220.3h0M143.7 240.3h0M148.3 247.9h0M144.9 258.0h0M148.1 240.7h0M144.6 237.2h0M150.5 234.7h0M151.1 245.0h0M146.2 251.4h0M147.0 237.4h0M151.1 219.7h0M144.0 217.1h0M141.6 228.0h0M147.1 255.2h0M148.0 248.2h0M149.5 250.8h0M145.4 227.6h0M146.4 246.6h0M145.9 239.8h0M150.0 223.9h0M147.6 215.5h0M141.3 226.8h0M144.8 236.1h0M148.7 234.1h0M144.9 238.5h0M148.4 249.2h0M150.8 250.1h0M156.7 241.3h0M158.6 241.1h0M158.2 247.4h0M154.4 234.8h0M158.8 243.2h0M152.6 231.7h0M158.7 246.6h0M153.7 250.5h0M154.7 251.5h0M152.8 252.0h0M155.9 251.7h0M157.4 249.5h0M156.4 247.1h0M155.5 245.7h0M161.5 235.8h0M157.1 226.4h0M158.6 245.5h0M152.2 244.2h0M155.1 238.7h0M159.0 251.6h0M158.3 220.6h0M153.3 237.0h0M161.4 217.0h0M159.4 235.9h0M153.5 231.5h0M156.4 242.3h0M161.9 238.7h0M157.8 227.2h0M156.5 245.8h0M152.9 243.1h0M157.2 240.0h0M157.1 253.1h0M152.5 244.7h0M152.7 223.8h0M160.4 242.7h0M154.2 247.0h0M158.4 226.6h0M154.7 254.2h0M152.6 220.7h0M155.1 231.5h0M153.3 250.3h0M157.0 237.5h0M160.6 223.2h0M153.1 252.5h0M152.0 225.7h0M152.6 237.0h0M152.1 245.4h0M156.6 254.4h0M159.2 260.0h0M158.7 223.5h0M160.0 222.7h0M155.2 221.9h0M153.2 237.6h0M160.1 249.7h0M155.1 239.6h0M158.8 235.1h0M157.6 242.6h0M155.1 221.8h0M160.6 239.6h0M161.3 239.3h0M152.3 229.8h0M156.6 238.6h0M155.3 231.0h0M156.8 241.6h0M153.5 244.0h0M157.6 252.0h0M159.0 251.0h0M160.6 244.6h0M161.8 260.6h0M155.7 237.6h0M154.4 217.9h0M156.9 235.5h0M158.8 243.5h0M153.0 226.4h0M157.7 255.9h0M153.9 231.7h0M154.8 236.3h0M159.2 240.2h0M155.2 237.9h0M160.5 236.8h0M155.5 235.8h0M159.8 251.6h0M153.2 236.0h0M154.4 225.2h0M153.9 228.4h0M156.7 249.5h0M156.4 238.3h0M156.3 241.7h0M155.3 238.1h0M156.8 248.3h0M154.6 245.4h0M157.2 246.0h0M159.4 234.0h0M160.4 257.7h0M155.3 249.3h0M159.3 234.8h0M156.6 245.8h0M152.6 260.7h0M152.9 238.6h0M160.4 240.3h0M153.6 240.6h0M157.7 256.1h0M157.8 220.9h0M161.7 246.2h0M159.1 252.4h0M161.5 244.0h0M157.8 249.5h0M155.8 246.1h0M161.7 223.1h0M154.6 241.0h0M158.4 232.9h0M153.9 248.8h0M156.0 225.4h0M153.6 248.9h0M154.8 237.2h0M155.2 233.5h0M160.3 236.8h0M156.0 250.9h0M158.7 244.1h0M160.5 221.1h0M159.7 230.5h0M154.0 226.6h0M160.8 246.0h0M161.7 243.5h0M152.5 244.1h0M154.6 226.4h0M158.5 222.3h0M161.1 250.3h0M160.1 234.3h0M152.7 236.8h0M153.4 236.4h0M159.1 234.9h0M161.1 236.6h0M155.7 236.3h0M157.1 246.5h0M153.2 233.7h0M158.0 243.1h0M161.0 241.1h0M161.4 233.3h0M156.7 215.3h0M161.5 238.0h0M159.1 262.9h0M152.7 232.2h0M153.8 222.0h0M155.4 249.5h0M153.9 239.2h0M161.5 228.9h0M160.1 243.4h0M159.9 246.1h0M154.7 259.5h0M171.5 237.5h0M180.7 257.1h0M172.7 223.4h0M170.6 223.1h0M168.9 234.8h0M174.8 225.6h0M180.9 219.3h0M163.2 262.4h0M162.3 235.7h0M162.4 248.2h0M164.7 224.6h0M165.0 254.5h0M164.2 229.5h0M170.8 260.0h0M169.6 237.0h0M176.3 226.1h0M165.1 249.5h0M162.2 230.6h0M168.3 227.9h0M164.8 238.6h0M168.5 237.5h0M169.5 215.7h0M163.3 232.1h0M165.7 242.8h0M171.6 255.1h0M180.8 237.7h0M165.8 217.2h0M172.0 220.9h0M177.5 259.5h0M166.7 235.6h0M172.9 242.2h0M168.3 244.5h0M175.4 231.7h0M172.0 241.6h0M162.6 238.2h0M169.4 247.1h0M166.3 230.0h0M163.5 231.1h0M178.8 238.0h0M163.8 221.2h0M174.4 233.6h0M176.9 253.4h0M177.6 240.6h0M168.2 238.8h0M167.2 238.0h0M175.7 263.2h0M179.9 231.7h0M176.3 257.2h0M174.0 224.3h0M172.3 224.3h0M167.3 230.1h0M166.5 236.3h0M178.5 260.9h0M164.4 216.5h0M177.5 237.1h0M162.2 237.9h0M180.4 226.9h0M174.3 232.2h0M176.4 246.6h0M172.5 232.8h0M165.3 216.1h0M168.6 213.7h0M165.3 259.7h0M169.1 230.7h0M163.6 222.4h0M168.5 220.0h0M175.9 224.1h0M170.8 222.3h0M164.5 258.9h0M164.2 229.7h0M181.0 251.6h0M176.0 218.4h0M165.4 233.1h0M178.4 214.2h0M174.5 235.4h0M166.2 226.7h0M179.2 229.1h0M174.1 245.0h0M170.4 239.2h0M180.5 250.2h0M175.6 225.6h0M179.1 225.3h0M172.7 241.8h0M164.0 244.5h0M173.0 223.6h0M180.8 262.7h0M176.9 232.7h0M165.8 224.3h0M164.7 258.1h0M172.8 229.7h0M175.4 224.9h0M169.6 256.2h0M163.8 230.4h0M173.8 250.4h0M163.6 255.6h0M173.2 217.6h0M181.0 222.8h0M178.2 241.1h0M166.1 248.7h0M172.2 235.5h0M171.3 238.8h0M169.3 220.7h0M163.1 247.0h0M177.5 243.2h0M162.8 248.6h0M173.1 244.3h0M167.3 250.0h0M179.5 236.4h0M164.5 232.9h0M171.0 235.8h0M172.3 248.5h0M162.0 230.3h0M176.4 256.6h0M176.6 219.1h0M176.4 245.4h0M169.1 242.9h0M177.8 240.2h0M168.8 240.3h0M172.2 219.6h0M177.8 230.6h0M163.6 233.4h0M178.1 231.5h0M164.5 260.1h0M174.1 244.0h0M168.1 261.3h0M167.7 259.9h0M178.0 222.1h0M163.2 241.9h0M171.3 243.1h0M168.0 237.1h0M170.7 254.9h0M166.9 214.2h0M172.5 221.3h0M163.0 224.4h0M173.8 234.4h0M172.5 236.7h0M180.7 220.2h0M175.6 233.4h0M166.4 243.6h0M169.6 226.4h0M180.3 217.9h0M173.5 233.2h0M176.7 228.2h0M165.2 234.8h0M164.1 250.7h0M177.6 234.0h0M169.7 231.3h0M176.0 255.2h0M170.8 223.4h0M172.8 235.6h0M173.3 246.3h0M173.7 231.1h0M179.1 222.9h0M170.9 223.8h0M163.2 249.3h0M163.8 239.1h0M175.4 237.2h0M167.1 239.0h0M169.5 226.4h0M163.8 248.0h0M176.3 229.2h0M169.7 234.4h0M180.1 260.4h0M177.3 224.2h0M174.1 222.8h0M163.3 261.4h0M172.3 223.7h0M163.4 225.2h0M176.0 259.6h0M178.5 235.8h0M168.1 263.5h0M179.9 255.0h0M169.1 238.7h0M175.9 241.0h0M179.0 231.5h0M166.9 235.2h0M168.5 252.5h0M169.5 238.8h0M162.4 211.5h0M175.3 248.8h0M166.2 252.6h0M165.5 250.7h0M165.0 234.6h0M163.4 237.3h0M162.2 243.4h0M162.8 229.2h0M179.5 235.6h0M166.3 245.5h0M180.8 249.4h0M166.6 232.8h0M173.5 238.9h0M165.2 248.4h0M171.0 222.9h0M169.8 222.4h0M163.6 225.6h0M162.1 245.1h0M169.1 240.6h0M175.1 253.4h0M168.4 215.2h0M174.2 231.4h0M165.9 221.9h0M162.3 236.2h0M171.0 242.0h0M172.0 215.8h0M177.7 241.9h0M178.4 246.5h0M165.6 229.3h0M170.0 236.6h0M178.1 236.1h0M176.3 235.1h0M164.1 235.8h0M169.2 261.6h0M169.8 234.2h0M169.0 239.6h0M169.6 219.0h0M174.1 249.4h0M167.5 236.9h0M180.6 254.7h0M165.7 235.1h0M179.6 228.1h0M172.8 229.1h0M171.7 224.3h0M178.7 242.8h0M165.6 244.3h0M177.4 229.5h0M177.8 216.4h0M168.3 240.1h0M162.0 238.3h0M167.1 218.5h0M179.5 230.6h0M170.9 248.5h0M166.8 220.1h0M167.0 246.6h0M173.0 229.9h0M167.8 231.3h0M177.6 234.7h0M166.0 228.1h0M163.6 231.1h0M166.3 221.2h0M170.5 237.3h0M179.9 236.3h0M178.7 247.3h0M176.5 233.9h0M163.7 249.6h0M177.5 253.5h0M178.9 211.4h0M171.0 229.2h0M169.5 216.9h0M176.1 227.5h0M171.0 248.4h0M178.3 258.4h0M167.3 228.7h0M175.8 219.3h0M171.0 222.0h0M169.3 236.3h0M167.6 250.6h0M177.7 216.7h0M175.9 249.0h0M174.4 248.7h0M164.2 233.0h0M162.5 253.5h0M172.9 236.4h0M163.9 223.1h0M180.3 240.3h0M165.3 235.6h0M162.9 239.8h0M170.9 260.0h0M166.4 229.9h0M166.2 260.9h0M176.9 241.0h0M177.2 240.0h0M176.2 219.3h0M170.0 233.9h0M173.9 233.6h0M166.9 243.7h0M162.9 258.7h0M178.7 232.6h0M164.8 215.2h0M174.2 243.0h0M172.2 262.7h0M176.8 229.1h0M180.8 236.8h0M177.1 255.4h0M170.9 230.5h0M170.3 246.5h0M165.7 263.3h0M167.6 230.6h0M177.6 222.9h0M177.9 251.3h0M170.7 227.4h0M166.8 236.5h0M169.3 219.2h0M176.8 258.4h0M162.8 235.9h0M175.1 232.7h0M172.6 234.5h0M167.0 227.7h0M179.5 261.3h0M162.8 243.1h0M165.1 256.8h0M181.6 221.5h0M182.2 241.7h0M181.7 239.4h0M181.3 241.0h0M181.3 227.8h0M181.5 226.2h0M181.5 241.6h0M181.6 234.7h0M181.5 247.8h0M181.6 228.0h0M182.3 235.3h0M181.5 224.1h0M181.6 230.5h0M181.1 218.6h0M181.5 231.3h0M182.3 255.4h0M181.0 245.4h0M182.0 251.0h0M181.9 235.9h0M182.1 227.8h0M181.8 232.4h0M202.1 220.3h0M195.4 239.8h0M192.0 250.8h0M189.2 244.9h0M189.3 257.9h0M200.6 231.6h0M187.9 252.9h0M191.9 259.5h0M194.2 228.4h0M188.1 257.4h0M195.0 252.4h0M195.9 217.8h0M195.8 225.0h0M193.2 251.9h0M201.8 223.6h0M195.2 219.7h0M195.8 255.7h0M201.3 245.0h0M204.2 225.1h0M200.6 228.8h0M196.8 227.8h0M188.0 234.3h0M204.5 228.6h0M193.0 253.9h0M200.2 228.1h0M197.4 257.1h0M187.7 243.4h0M204.2 225.1h0M195.5 218.6h0M202.4 251.8h0M197.3 227.1h0M194.0 239.1h0M202.6 243.2h0M201.5 236.7h0M197.9 252.3h0M196.3 228.4h0M202.4 229.8h0M196.7 230.0h0M203.5 231.5h0M188.3 224.2h0M201.6 221.2h0M203.1 233.1h0M192.9 217.9h0M192.1 239.7h0M192.5 235.3h0M202.5 257.5h0M199.3 216.4h0M187.4 240.4h0M198.2 250.9h0M201.1 233.1h0M200.5 233.5h0M192.1 229.7h0M189.6 235.7h0M201.2 226.4h0M197.9 215.1h0M197.9 246.8h0M188.4 250.6h0M198.4 256.5h0M191.9 218.0h0M205.0 240.6h0M202.8 253.0h0M188.7 246.3h0M198.5 231.6h0M196.9 236.0h0M187.9 228.6h0M193.6 220.4h0M193.6 232.2h0M200.0 238.0h0M201.6 218.1h0M198.7 229.0h0M201.8 221.2h0M197.4 236.0h0M193.6 242.1h0M198.4 244.2h0M192.7 238.1h0M193.5 251.4h0M193.1 241.0h0M203.8 241.8h0M198.6 231.2h0M200.5 225.5h0M191.8 244.4h0M191.7 250.6h0M198.7 221.8h0M200.7 246.4h0M190.2 213.7h0M188.7 227.8h0M197.2 228.9h0M187.4 215.2h0M190.5 228.2h0M202.9 242.4h0M202.4 234.2h0M190.0 238.4h0M187.4 223.7h0M191.8 223.3h0M194.8 247.4h0M193.4 259.4h0M203.6 227.2h0M193.9 222.9h0M192.4 238.7h0M192.5 228.6h0M193.8 258.9h0M197.9 237.6h0M195.3 232.8h0M191.6 222.0h0M189.7 238.9h0M187.8 231.9h0M196.7 247.1h0M197.1 215.6h0M201.9 245.3h0M191.0 229.3h0M202.9 218.6h0M190.5 226.7h0M192.9 222.7h0M192.9 215.6h0M194.7 238.9h0M204.6 223.9h0M200.1 229.5h0M194.7 214.4h0M188.5 240.9h0M190.8 219.6h0M201.8 213.4h0M195.9 218.1h0M198.4 242.3h0M195.3 230.8h0M198.5 257.7h0M204.0 259.4h0M187.5 244.4h0M194.4 236.3h0M202.3 235.2h0M190.0 238.2h0M195.8 250.1h0M203.2 237.1h0M193.2 250.5h0M188.7 256.9h0M192.1 216.0h0M196.6 241.7h0M198.9 242.9h0M195.7 237.1h0M197.1 224.7h0M189.7 215.3h0M204.1 216.6h0M194.1 217.6h0M202.6 237.7h0M203.8 230.0h0M191.0 224.6h0M197.8 218.6h0M201.7 243.3h0M189.9 229.0h0M203.7 238.5h0M200.4 253.4h0M204.8 242.1h0M196.2 232.0h0M201.2 241.3h0M188.4 233.1h0M194.9 253.6h0M202.9 242.4h0M189.5 236.6h0M200.6 233.5h0M197.5 258.0h0M200.2 255.7h0M189.9 237.6h0M190.5 243.3h0M190.5 255.1h0M197.4 229.1h0M191.2 244.4h0M192.1 215.9h0M200.2 246.8h0M195.3 240.1h0M189.5 241.5h0M200.2 236.6h0M197.0 217.9h0M204.4 249.6h0M192.1 243.7h0M204.9 248.2h0M198.4 257.4h0M201.4 240.7h0M199.1 238.6h0M188.0 224.7h0M194.3 226.1h0M195.9 213.5h0M189.4 237.3h0M203.1 251.3h0M202.8 244.6h0M203.0 231.6h0M193.3 228.5h0M188.4 257.3h0M200.5 227.9h0M202.1 246.4h0M199.5 233.7h0M187.4 223.4h0M202.0 238.7h0M196.2 240.0h0M196.1 229.6h0M194.0 236.5h0M189.8 241.1h0M200.4 238.0h0M187.7 247.0h0M203.1 233.4h0M197.9 228.7h0M201.3 236.2h0M188.9 240.6h0M187.8 255.9h0M190.9 213.9h0M202.8 235.5h0M191.0 227.9h0M187.6 254.4h0M187.5 226.5h0M204.8 241.5h0M192.9 253.4h0M200.8 240.2h0M194.4 230.7h0M190.9 240.3h0M194.3 235.0h0M198.7 229.5h0M187.7 217.3h0M198.9 231.3h0M198.3 255.0h0M199.0 245.7h0M204.9 221.7h0M188.1 254.8h0M200.2 214.4h0M192.4 244.7h0M187.7 236.4h0M202.1 235.2h0M195.8 251.7h0M200.7 232.6h0M190.5 259.7h0M193.5 237.2h0M191.0 234.8h0M203.9 220.5h0M200.3 240.6h0M191.0 237.5h0M200.1 225.1h0M204.7 238.5h0M197.6 261.3h0M194.7 245.3h0M193.9 240.9h0M188.1 234.1h0M190.2 228.0h0M189.9 239.4h0M199.3 227.9h0M203.2 249.4h0M190.6 241.1h0M197.6 252.8h0M192.7 227.6h0M196.9 235.4h0M189.8 255.2h0M203.6 222.2h0M202.2 260.5h0M193.1 231.0h0M204.3 224.0h0M187.3 234.1h0M198.3 229.9h0M201.2 247.7h0M201.5 220.4h0M204.7 230.3h0M187.8 241.0h0M201.3 225.7h0M190.3 247.1h0M192.7 248.4h0M202.5 233.2h0M200.2 249.9h0M192.1 234.4h0M196.5 256.5h0M200.6 236.7h0M196.9 250.6h0M199.5 235.7h0M198.8 255.6h0M202.8 243.8h0M198.2 228.4h0M188.5 238.7h0M194.8 244.8h0M199.0 256.1h0M204.4 243.8h0M197.1 240.9h0M195.8 232.8h0M187.4 251.4h0M202.4 231.2h0M192.8 251.9h0M189.4 239.4h0M199.1 257.5h0M191.2 240.4h0M188.0 227.7h0M195.1 227.8h0M194.3 226.9h0M209.9 233.2h0M208.4 236.6h0M206.4 249.4h0M208.8 239.4h0M208.1 236.4h0M207.4 234.6h0M206.5 240.8h0M206.5 228.7h0M207.8 236.8h0M206.2 227.2h0M208.1 239.2h0M207.4 245.9h0M206.7 232.7h0M206.8 234.7h0M207.8 243.0h0M206.1 237.5h0M208.9 237.5h0M208.9 231.1h0M207.6 243.4h0M209.4 246.0h0M208.1 236.5h0M208.3 247.8h0M208.3 238.7h0M207.1 233.3h0M206.3 228.8h0M207.4 229.4h0M205.3 244.0h0M205.5 234.0h0M205.1 224.6h0M209.5 245.7h0M209.9 234.2h0M210.0 235.4h0M208.2 227.9h0M207.9 246.7h0M209.9 224.9h0M209.3 230.7h0M208.3 231.2h0M206.1 229.4h0M207.7 239.1h0M211.9 235.8h0M213.7 240.4h0M210.8 233.8h0M210.8 233.9h0M211.3 231.3h0M212.9 230.2h0M211.1 236.2h0M213.4 236.8h0M213.2 242.0h0M210.5 240.3h0M212.6 239.7h0M213.1 245.8h0M214.6 236.1h0M273.7 234.6h0M276.2 227.6h0M272.9 242.5h0M275.3 247.2h0M274.0 236.3h0M276.4 235.4h0M274.2 242.3h0M272.5 231.9h0M273.1 228.1h0M272.6 239.8h0M276.1 243.1h0M272.4 235.1h0M272.6 233.2h0M272.7 244.1h0M276.7 240.2h0M274.8 238.8h0M272.2 234.4h0M273.5 240.1h0M277.0 227.9h0M273.2 240.5h0M273.9 233.7h0M276.5 234.6h0M276.5 240.4h0M274.0 245.2h0M273.6 241.0h0M276.9 230.5h0M272.5 244.2h0M273.0 236.4h0M272.7 241.7h0M275.5 234.9h0M272.5 230.0h0M276.3 241.1h0M274.7 237.0h0M282.2 247.6h0M286.4 243.0h0M277.7 245.1h0M289.3 247.3h0M283.8 242.0h0M287.7 235.5h0M283.0 244.7h0M284.5 222.3h0M287.6 237.2h0M287.3 234.0h0M289.8 245.4h0M289.0 230.8h0M281.6 240.4h0M290.0 236.2h0M289.3 242.3h0M280.1 245.3h0M287.1 231.7h0M288.2 232.1h0M283.7 235.9h0M288.5 234.7h0M284.5 245.3h0M286.5 233.1h0M284.8 233.7h0M279.2 238.6h0M283.8 226.1h0M283.6 243.2h0M280.9 225.7h0M289.5 226.4h0M285.9 233.6h0M277.7 233.8h0M287.7 240.1h0M283.4 243.3h0M284.6 229.2h0M289.4 229.1h0M279.7 223.7h0M284.4 230.1h0M287.8 236.9h0M278.1 237.7h0M285.3 233.4h0M283.4 226.0h0M288.6 237.7h0M279.7 233.8h0M288.5 235.1h0M283.6 237.7h0M282.4 236.5h0M285.5 232.2h0M277.3 227.9h0M277.7 231.9h0M286.1 235.1h0M286.9 227.2h0M280.3 229.3h0M288.1 235.6h0M282.9 223.9h0M279.5 238.4h0M281.7 234.5h0M284.1 232.8h0M284.4 241.5h0M279.5 241.1h0M282.3 230.9h0M280.3 232.7h0M285.0 223.8h0M277.1 238.4h0M288.3 238.7h0M280.6 245.4h0M286.2 236.1h0M283.9 237.3h0M288.7 237.6h0M277.9 240.3h0M281.9 232.0h0M282.9 243.3h0M279.1 244.1h0M288.2 232.3h0M287.9 237.1h0M288.2 249.0h0M280.6 236.1h0M288.2 233.5h0M285.0 234.5h0M288.6 227.1h0M287.0 244.0h0M288.3 239.1h0M280.5 235.1h0M282.1 231.1h0M288.5 236.6h0M277.4 244.0h0M280.8 230.7h0M286.7 238.6h0M281.3 238.5h0M281.2 239.8h0M282.2 240.8h0M280.7 245.8h0M289.5 239.2h0M286.8 231.9h0M288.4 231.7h0M281.9 242.7h0M288.7 241.0h0M281.7 231.0h0M281.6 237.1h0M287.3 230.1h0M282.1 233.7h0M283.9 223.9h0M289.7 238.7h0M282.4 233.6h0M281.4 237.1h0M289.7 241.4h0M277.8 240.0h0M289.5 235.5h0M282.7 239.2h0M282.2 241.5h0M289.2 238.6h0M282.1 227.8h0M286.7 242.6h0M283.2 237.7h0M288.0 222.5h0M286.3 233.0h0M280.2 235.3h0M281.1 228.2h0M289.2 237.1h0M284.7 245.0h0M284.8 247.3h0M278.1 248.9h0M286.0 224.7h0M280.9 232.2h0M284.1 245.8h0M278.3 240.8h0M278.0 235.7h0M287.6 237.5h0M286.7 229.1h0M280.9 235.7h0M287.6 241.4h0M283.8 246.1h0M287.9 225.8h0M288.2 236.1h0M281.1 240.6h0M286.4 232.2h0M278.9 234.9h0M292.9 247.9h0M299.4 232.5h0M294.8 251.3h0M299.0 230.5h0M295.2 238.6h0M295.4 230.3h0M297.2 244.2h0M296.0 226.6h0M294.1 241.2h0M303.4 221.6h0M295.7 233.9h0M290.6 251.7h0M302.2 229.7h0M298.6 245.4h0M295.7 229.0h0M300.5 232.0h0M296.6 223.5h0M304.3 229.6h0M299.3 235.0h0M297.6 231.0h0M300.3 234.5h0M291.1 239.5h0M303.4 221.2h0M293.5 231.3h0M291.2 242.2h0M292.2 231.7h0M294.8 235.3h0M294.5 239.0h0M298.0 241.7h0M292.5 231.5h0M292.4 241.1h0M295.1 242.4h0M294.2 247.8h0M296.5 246.9h0M293.7 244.3h0M290.4 235.5h0M290.8 228.7h0M294.6 241.6h0M298.1 239.4h0M294.1 252.6h0M302.6 231.5h0M298.8 238.9h0M305.0 245.7h0M304.4 246.4h0M300.8 226.9h0M304.2 237.4h0M303.4 226.9h0M303.6 231.0h0M293.6 228.0h0M304.1 250.0h0M292.7 218.8h0M297.7 222.6h0M302.2 231.8h0M291.8 230.0h0M294.4 232.5h0M296.5 228.4h0M298.2 220.1h0M302.8 233.9h0M290.4 225.4h0M295.0 230.9h0M291.5 230.3h0M297.6 227.1h0M291.3 243.9h0M291.7 234.4h0M293.5 234.7h0M297.8 229.1h0M304.1 242.6h0M298.3 238.5h0M304.7 237.9h0M300.3 237.1h0M300.4 232.2h0M301.5 247.1h0M294.5 253.6h0M292.1 230.4h0M291.1 228.1h0M290.1 234.6h0M292.8 246.6h0M304.1 227.1h0M292.8 240.4h0M292.7 225.1h0M299.7 235.0h0M299.8 245.4h0M296.1 234.0h0M302.5 234.8h0M304.7 225.0h0M303.6 236.4h0M292.9 240.3h0M298.8 227.6h0M295.6 248.4h0M303.4 231.3h0M301.8 229.5h0M295.3 241.8h0M295.8 226.6h0M291.2 235.9h0M297.3 245.7h0M300.5 231.7h0M301.6 237.0h0M298.8 231.6h0M293.6 237.8h0M304.3 229.3h0M290.5 241.5h0M304.1 239.4h0M295.0 228.4h0M303.4 234.1h0M297.3 251.6h0M304.4 226.0h0M304.8 243.2h0M291.5 225.4h0M290.1 231.1h0M298.4 227.0h0M298.1 237.8h0M296.5 236.0h0M304.2 241.2h0M294.6 229.9h0M294.5 232.4h0M300.0 240.7h0M291.6 248.0h0M298.7 238.0h0M304.0 234.4h0M295.2 234.3h0M304.1 246.9h0M290.0 230.9h0M292.6 228.7h0M290.8 236.7h0M290.1 239.7h0M301.0 231.0h0M303.0 227.2h0M297.2 246.3h0M292.1 223.9h0M298.5 240.4h0M295.4 251.4h0M292.2 248.0h0M291.1 241.4h0M290.9 248.4h0M301.9 246.3h0M295.3 227.5h0M299.5 238.5h0M304.7 253.3h0M299.0 241.1h0M291.7 229.6h0M295.8 230.1h0M300.9 242.9h0M293.7 239.7h0M301.6 244.1h0M296.2 224.1h0M294.2 229.4h0M303.5 248.4h0M296.1 229.5h0M298.4 234.8h0M303.9 227.0h0M290.5 239.3h0M301.1 241.9h0M296.7 245.3h0M302.9 247.9h0M295.5 234.2h0M295.6 230.5h0M300.7 252.2h0M296.5 242.5h0M299.0 236.2h0M293.6 243.4h0M291.5 233.9h0M301.1 236.7h0M299.2 234.9h0M297.4 235.8h0M295.1 235.3h0M295.3 251.6h0M302.6 236.4h0M298.7 237.9h0M304.7 229.5h0M302.5 236.0h0M299.8 229.2h0M296.5 243.9h0M293.6 230.7h0M292.0 243.7h0M304.7 234.1h0M302.9 223.8h0M292.3 236.5h0M298.3 220.7h0M302.2 243.5h0M300.4 234.8h0M295.7 239.0h0M300.3 233.2h0M291.0 242.5h0M294.2 222.5h0M304.2 229.5h0M294.6 231.2h0M303.1 242.2h0M290.0 235.9h0M290.6 235.3h0M301.6 250.7h0M293.7 250.2h0M304.2 243.6h0M295.1 233.5h0M301.3 221.8h0M304.1 253.4h0M304.8 244.9h0M302.0 246.5h0M298.0 229.1h0M303.3 227.9h0M297.5 231.9h0M300.0 238.1h0M304.0 236.1h0M291.8 224.7h0M302.9 242.6h0M304.5 235.7h0M301.9 231.9h0M300.2 252.6h0M302.5 228.8h0M296.7 245.6h0M291.7 238.3h0M305.9 233.5h0M307.6 233.1h0M314.3 223.6h0M312.2 239.6h0M309.5 226.5h0M307.5 233.6h0M310.8 234.4h0M312.6 225.6h0M316.9 227.6h0M314.9 220.4h0M307.4 227.7h0M308.3 250.7h0M316.5 236.3h0M311.2 229.4h0M319.8 252.3h0M306.3 235.0h0M309.7 221.2h0M314.2 228.4h0M313.4 233.7h0M316.3 233.7h0M315.9 242.0h0M310.2 241.7h0M317.0 235.2h0M316.1 228.4h0M319.0 234.0h0M319.7 240.7h0M317.1 227.2h0M307.7 220.1h0M316.0 239.0h0M311.7 242.4h0M316.5 235.5h0M308.1 230.9h0M305.5 218.3h0M313.3 221.8h0M307.2 229.8h0M314.4 218.2h0M315.2 227.9h0M315.3 221.1h0M309.0 241.2h0M313.7 246.7h0M312.5 235.5h0M315.7 237.0h0M305.3 243.4h0M314.4 234.6h0M310.8 238.6h0M314.9 242.7h0M318.9 236.6h0M319.4 236.3h0M310.0 221.7h0M319.0 233.4h0M316.1 224.1h0M316.4 243.9h0M319.1 228.4h0M313.1 228.6h0M310.3 233.7h0M305.4 253.5h0M315.5 219.2h0M318.5 248.2h0M317.6 234.0h0M310.4 231.0h0M312.8 252.4h0M312.3 240.6h0M314.7 236.7h0M309.6 242.3h0M309.0 236.0h0M305.5 224.1h0M313.4 230.0h0M307.9 241.0h0M316.3 230.8h0M306.1 220.3h0M309.0 251.6h0M305.2 236.5h0M311.7 233.3h0M309.5 222.0h0M319.5 215.7h0M305.4 228.2h0M315.1 233.5h0M311.9 246.9h0M318.8 243.9h0M311.3 237.1h0M307.5 218.0h0M313.3 227.9h0M317.0 235.0h0M308.6 227.4h0M316.2 240.9h0M318.4 236.1h0M315.6 254.6h0M310.5 244.7h0M310.8 225.7h0M311.4 231.8h0M315.7 218.0h0M313.6 227.7h0M312.0 238.3h0M317.2 229.7h0M312.7 243.2h0M318.1 232.7h0M307.2 217.5h0M310.3 254.2h0M308.8 233.3h0M309.6 236.5h0M309.8 252.0h0M309.9 226.0h0M314.8 238.6h0M313.3 236.3h0M309.0 226.2h0M311.1 225.4h0M318.9 237.1h0M309.6 236.9h0M315.5 217.0h0M308.2 231.5h0M305.9 228.8h0M317.6 230.6h0M307.2 233.6h0M306.1 236.6h0M310.3 224.9h0M317.3 239.2h0M312.9 234.2h0M312.4 234.1h0M315.4 229.9h0M308.0 251.1h0M319.1 224.3h0M307.1 231.2h0M310.4 243.6h0M317.7 233.7h0M306.7 247.2h0M319.3 233.8h0M312.6 217.6h0M310.6 241.7h0M319.6 235.4h0M319.3 229.3h0M316.2 247.0h0M309.2 229.0h0M319.7 242.0h0M318.0 238.3h0M306.8 218.9h0M316.2 232.9h0M316.9 236.2h0M313.3 237.9h0M306.3 246.4h0M312.9 240.5h0M317.3 228.5h0M312.0 224.1h0M307.3 231.9h0M306.2 229.3h0M310.6 230.7h0M308.1 251.9h0M316.2 225.4h0M319.0 233.2h0M311.3 243.6h0M312.9 226.0h0M316.8 245.5h0M307.9 223.2h0M311.5 254.7h0M308.9 235.4h0M315.9 230.1h0M306.5 232.5h0M313.8 227.4h0M309.4 225.3h0M311.6 234.6h0M308.1 245.8h0M308.2 224.5h0M313.6 240.9h0M308.8 229.9h0M311.5 247.6h0M317.7 217.5h0M315.9 240.0h0M316.0 226.6h0M317.1 238.8h0M314.2 226.0h0M306.2 218.6h0M311.0 233.2h0M315.8 240.8h0M305.4 217.5h0M310.1 230.8h0M317.8 226.5h0M316.1 220.8h0M318.2 236.5h0M305.9 244.9h0M313.1 249.3h0M310.6 236.0h0M308.7 245.8h0M306.7 244.0h0M308.4 235.3h0M315.3 226.0h0M313.0 233.4h0M309.0 233.6h0M315.8 238.9h0M311.1 229.0h0M308.8 234.5h0M315.2 239.2h0M315.6 220.5h0M310.6 231.2h0M309.2 232.7h0M312.5 244.3h0M316.8 249.7h0M311.1 233.1h0M313.6 228.8h0M305.6 238.2h0M316.5 247.1h0M308.3 236.2h0M317.1 253.5h0M305.4 241.6h0M315.2 254.2h0M306.8 242.1h0M316.7 248.5h0M312.0 227.8h0M311.5 243.3h0M310.2 251.1h0M315.7 241.8h0M317.4 230.1h0M312.3 232.2h0M311.1 248.6h0M311.8 239.5h0M305.9 246.0h0M305.4 239.2h0M316.3 231.8h0M319.6 228.8h0M312.2 221.0h0M313.4 231.9h0M307.7 228.9h0M316.2 234.9h0M309.4 238.1h0M306.7 237.0h0M306.4 247.8h0M305.5 216.6h0M332.6 241.4h0M322.7 233.2h0M322.3 238.3h0M322.4 232.4h0M335.0 225.4h0M325.7 224.9h0M324.2 212.6h0M332.7 226.7h0M334.6 230.0h0M322.9 229.3h0M320.6 250.5h0M328.3 232.3h0M326.7 236.0h0M326.0 214.0h0M324.1 215.7h0M334.7 232.3h0M322.2 232.4h0M321.3 220.1h0M334.1 238.0h0M328.2 232.8h0M332.4 244.8h0M326.6 240.5h0M320.6 238.7h0M328.7 215.7h0M324.7 221.5h0M330.2 231.9h0M329.0 251.1h0M329.9 234.2h0M323.5 235.0h0M334.5 230.4h0M320.0 221.7h0M327.7 235.7h0M334.2 244.9h0M321.4 230.9h0M322.6 245.7h0M324.0 239.4h0M334.3 226.6h0M322.3 217.4h0M326.2 224.2h0M323.3 235.0h0M329.2 238.5h0M324.4 238.2h0M320.8 243.6h0M320.6 226.6h0M325.8 231.1h0M325.4 248.9h0M325.4 232.2h0M326.7 234.9h0M323.2 223.7h0M332.3 243.9h0M328.0 223.3h0M323.2 231.5h0M321.5 236.9h0M328.9 227.4h0M321.8 226.2h0M333.2 231.7h0M328.7 238.3h0M329.5 228.5h0M320.7 218.8h0M332.4 216.8h0M326.6 229.0h0M328.3 242.9h0M328.4 238.0h0M331.4 228.3h0M320.9 235.3h0M333.4 232.7h0M322.8 236.9h0M334.7 234.6h0M331.2 225.5h0M329.2 232.0h0M326.2 240.9h0M326.5 221.0h0M323.2 242.4h0M333.4 239.0h0M321.0 222.2h0M326.0 235.4h0M325.6 247.9h0M324.9 253.9h0M330.5 225.4h0M333.5 235.2h0M331.1 219.9h0M322.1 216.1h0M324.6 224.2h0M332.9 244.0h0M321.3 238.3h0M331.4 245.1h0M333.3 233.5h0M327.8 221.8h0M330.0 242.8h0M330.6 224.3h0M334.4 249.3h0M324.5 235.2h0M332.0 234.0h0M321.2 236.2h0M324.2 253.2h0M329.6 235.6h0M329.1 251.5h0M326.9 232.7h0M327.7 227.5h0M326.1 236.4h0M332.7 249.0h0M329.1 215.8h0M326.8 240.7h0M326.7 248.3h0M323.3 246.2h0M333.3 221.0h0M325.0 246.0h0M334.3 255.3h0M330.7 215.5h0M325.9 235.2h0M333.2 231.8h0M332.4 220.5h0M325.6 248.0h0M324.3 241.1h0M328.6 241.8h0M323.0 210.1h0M327.2 233.6h0M326.4 229.1h0M332.6 244.8h0M326.0 229.5h0M324.1 238.2h0M326.8 255.6h0M326.7 223.0h0M326.9 220.2h0M328.4 229.1h0M329.7 224.5h0M321.3 217.3h0M327.2 236.5h0M333.6 235.1h0M325.7 252.0h0M320.0 239.1h0M326.3 217.9h0M332.7 239.3h0M333.9 235.6h0M328.9 231.2h0M326.6 225.2h0M324.1 241.8h0M324.7 242.0h0M334.3 230.1h0M328.2 238.3h0M330.2 221.7h0M333.9 215.9h0M331.3 222.0h0M324.0 254.1h0M333.4 236.4h0M324.9 244.2h0M329.0 247.5h0M330.1 240.6h0M326.2 212.9h0M330.9 224.6h0M332.6 228.1h0M333.4 233.5h0M320.6 235.4h0M320.7 242.7h0M321.3 237.3h0M322.4 223.3h0M322.6 231.8h0M325.2 224.4h0M325.6 238.3h0M324.6 244.8h0M332.7 228.3h0M330.5 240.3h0M334.8 225.2h0M332.7 244.8h0M331.5 238.7h0M322.4 231.0h0M329.4 232.5h0M332.4 229.0h0M321.8 224.1h0M323.0 235.9h0M331.9 243.4h0M320.1 226.9h0M330.9 215.0h0M333.8 251.6h0M327.1 233.7h0M332.8 226.1h0M332.2 241.1h0M328.5 251.2h0M328.2 230.6h0M325.0 234.2h0M328.9 221.9h0M331.2 244.5h0M331.9 226.2h0M330.2 248.3h0M334.7 223.6h0M326.6 223.5h0M323.5 239.2h0M323.9 243.6h0M322.7 253.8h0M329.4 240.2h0M332.2 234.0h0M332.7 241.1h0M329.5 236.3h0M324.6 230.3h0M321.8 213.1h0M332.0 218.7h0M335.0 225.8h0M331.5 230.1h0M326.8 246.7h0M326.9 224.3h0M333.9 247.6h0M323.9 245.1h0M331.4 225.5h0M331.5 234.0h0M332.9 234.9h0M323.0 239.5h0M326.7 220.2h0M330.0 237.4h0M324.5 229.1h0M329.9 241.6h0M329.7 225.6h0M320.6 234.7h0M329.5 243.7h0M320.9 221.6h0M325.3 252.4h0M320.6 238.8h0M322.7 241.7h0M324.2 253.2h0M330.2 249.0h0M320.8 214.4h0M333.6 215.1h0M328.3 230.8h0M327.1 235.4h0M321.5 247.0h0M324.1 245.2h0M322.5 226.1h0M325.2 224.4h0M334.9 227.2h0M331.3 240.7h0M334.1 248.1h0M324.9 237.4h0M330.7 231.3h0M330.6 237.1h0M333.7 230.5h0M334.2 241.9h0M324.3 230.8h0M323.1 233.4h0M324.4 237.9h0M325.0 244.8h0M333.3 215.6h0M341.7 239.3h0M349.0 232.6h0M348.6 255.8h0M340.3 216.9h0M346.5 239.6h0M340.2 233.6h0M339.3 226.2h0M343.5 242.5h0M339.7 254.6h0M345.1 248.8h0M337.0 214.6h0M339.0 235.6h0M337.6 241.8h0M349.7 226.9h0M349.3 241.5h0M341.8 249.7h0M341.6 255.0h0M347.3 234.1h0M337.0 238.5h0M337.4 235.8h0M345.4 254.2h0M344.5 257.1h0M342.6 233.5h0M346.8 225.6h0M348.7 214.8h0M343.4 242.3h0M349.3 240.2h0M346.0 227.8h0M340.6 232.6h0M339.4 220.4h0M346.3 245.3h0M341.9 234.8h0M338.0 237.9h0M336.2 229.1h0M344.8 232.5h0M341.8 237.9h0M339.2 251.2h0M347.1 226.4h0M336.9 234.3h0M339.7 212.7h0M341.6 225.4h0M335.8 223.9h0M341.3 236.4h0M343.4 216.6h0M337.8 251.9h0M344.9 244.2h0M344.4 256.7h0M341.9 251.2h0M337.8 220.9h0M339.4 224.7h0M336.6 231.4h0M338.9 237.3h0M342.9 226.4h0M344.7 235.6h0M349.1 233.5h0M346.4 223.6h0M337.2 224.9h0M347.4 231.5h0M348.0 239.2h0M340.5 241.0h0M340.2 256.5h0M344.2 222.3h0M342.9 242.8h0M337.4 210.7h0M347.4 222.1h0M340.5 222.3h0M348.5 250.1h0M342.0 225.4h0M348.3 241.2h0M348.3 244.1h0M339.9 252.0h0M345.9 256.6h0M341.4 244.6h0M347.2 257.5h0M346.9 212.9h0M339.5 211.8h0M339.3 233.6h0M337.8 241.8h0M337.2 221.1h0M347.4 235.3h0M348.9 248.2h0M339.3 209.9h0M337.7 228.7h0M335.1 254.3h0M341.5 230.2h0M346.3 231.1h0M348.9 233.2h0M341.8 229.1h0M343.7 210.9h0M342.3 221.9h0M346.1 215.1h0M340.6 214.8h0M338.2 227.2h0M349.3 221.9h0M338.6 232.5h0M342.2 216.4h0M342.6 240.2h0M337.2 209.8h0M343.4 219.7h0M339.4 234.8h0M345.4 238.2h0M341.1 209.5h0M342.9 225.6h0M337.7 217.3h0M335.7 218.4h0M337.2 238.9h0M345.0 243.6h0M339.6 241.1h0M349.3 210.4h0M337.5 210.7h0M340.8 230.8h0M339.0 233.5h0M338.7 224.2h0M345.1 253.7h0M344.7 242.3h0M346.2 238.7h0M338.7 232.3h0M339.8 223.5h0M349.8 256.1h0M342.5 234.8h0M341.4 212.0h0M347.2 245.7h0M335.2 232.5h0M335.8 246.8h0M340.8 245.3h0M342.9 240.2h0M335.4 224.0h0M349.2 230.5h0M347.0 245.6h0M347.3 253.1h0M348.2 244.5h0M339.5 237.4h0M339.8 258.6h0M347.1 250.7h0M344.7 239.2h0M337.3 208.3h0M347.7 255.0h0M345.2 226.2h0M347.7 227.7h0M346.4 219.8h0M346.9 236.8h0M341.5 254.0h0M342.8 255.6h0M344.8 216.5h0M340.1 246.7h0M348.4 210.2h0M336.1 222.0h0M346.7 254.4h0M340.4 234.7h0M347.3 231.5h0M349.4 217.6h0M335.8 220.7h0M338.7 230.9h0M342.9 245.7h0M338.0 237.9h0M339.3 224.2h0M336.8 225.5h0M348.6 211.7h0M339.5 220.9h0M348.8 228.5h0M343.0 237.0h0M349.6 232.6h0M339.2 226.1h0M344.3 255.9h0M346.2 243.4h0M340.7 237.0h0M344.2 242.6h0M348.5 240.0h0M343.3 243.4h0M336.7 229.8h0M339.8 230.1h0M344.9 215.8h0M336.0 237.8h0M336.8 219.6h0M345.4 240.4h0M343.5 223.9h0M349.1 227.1h0M342.5 252.1h0M341.5 234.3h0M348.5 212.6h0M347.9 230.1h0M339.1 217.3h0M345.1 234.7h0M347.2 214.3h0M349.5 239.7h0M344.2 254.5h0M349.6 229.4h0M347.0 236.0h0M345.9 218.0h0M349.3 245.6h0M336.0 252.3h0M344.8 211.3h0M347.1 254.3h0M342.6 228.4h0M346.0 218.4h0M344.0 234.4h0M338.8 241.1h0M342.9 233.4h0M345.2 239.2h0M345.4 216.9h0M347.2 236.2h0M348.4 249.5h0M338.2 247.5h0M344.5 247.1h0M349.1 218.2h0M346.9 246.7h0M349.4 234.6h0M339.6 233.8h0M344.1 240.2h0M337.2 229.2h0M346.9 219.0h0M347.0 223.1h0M343.2 226.5h0M336.7 236.5h0M345.7 236.2h0M346.4 252.1h0M347.1 240.4h0M346.6 256.2h0M340.2 216.3h0M346.2 235.7h0M339.9 254.2h0M346.4 252.3h0M345.0 244.7h0M340.0 229.1h0M338.1 230.5h0M339.0 237.4h0M347.3 249.2h0M343.2 222.1h0M341.1 244.6h0M336.2 244.9h0M348.0 235.3h0M340.8 243.6h0M346.2 244.6h0M346.8 243.5h0M348.8 212.1h0M336.6 216.2h0M343.8 237.9h0M349.3 255.5h0M337.6 221.9h0M345.4 243.5h0M369.4 225.1h0M360.2 226.6h0M369.7 231.7h0M350.8 227.5h0M361.5 238.4h0M359.5 230.5h0M350.9 236.1h0M350.8 236.5h0M352.5 227.7h0M355.6 222.2h0M351.8 247.1h0M361.0 217.7h0M350.4 245.2h0M351.7 244.0h0M353.8 242.7h0M359.1 237.6h0M355.0 217.9h0M356.6 232.0h0M356.9 240.3h0M356.4 236.0h0M364.3 245.7h0M359.3 232.2h0M350.1 239.9h0M363.9 221.1h0M350.9 213.1h0M350.8 246.1h0M352.1 213.7h0M369.7 253.0h0M363.7 236.7h0M352.9 226.8h0M362.3 241.9h0M350.2 224.1h0M354.5 214.8h0M368.0 226.6h0M351.2 234.8h0M352.1 223.5h0M350.6 236.9h0M351.6 253.9h0M365.9 227.4h0M365.6 229.6h0M369.3 232.8h0M353.2 246.1h0M352.3 242.2h0M360.4 230.9h0M356.4 232.8h0M369.0 248.1h0M360.8 244.9h0M352.3 250.9h0M368.6 241.3h0M362.5 228.0h0M361.4 250.7h0M369.5 234.1h0M350.0 231.6h0M369.1 232.1h0M363.4 228.9h0M365.1 246.0h0M353.3 248.2h0M368.1 234.5h0M361.0 243.1h0M352.6 223.1h0M365.4 227.4h0M358.7 243.7h0M352.2 239.0h0M368.1 250.3h0M357.2 234.6h0M368.1 214.4h0M350.1 256.5h0M368.1 228.3h0M356.5 230.2h0M350.5 233.1h0M350.0 254.9h0M357.2 241.3h0M352.9 232.1h0M356.5 236.8h0M369.7 228.0h0M356.5 240.8h0M356.7 221.9h0M363.5 248.1h0M364.0 223.8h0M357.1 257.1h0M368.8 247.9h0M363.4 231.7h0M350.1 239.2h0M360.9 219.3h0M363.0 242.9h0M369.3 228.9h0M358.9 251.4h0M368.4 248.2h0M367.7 239.8h0M351.3 231.1h0M365.8 235.1h0M365.1 236.2h0M358.5 238.6h0M367.3 227.8h0M369.8 220.6h0M359.2 232.7h0M366.0 224.7h0M353.4 232.9h0M355.3 239.8h0M365.2 225.7h0M363.3 240.7h0M356.8 222.0h0M352.7 226.8h0M356.1 226.0h0M355.2 244.7h0M351.6 238.4h0M367.7 251.7h0M359.4 219.1h0M357.8 244.1h0M367.7 252.3h0M367.0 216.4h0M357.9 223.9h0M363.9 213.7h0M365.3 214.9h0M353.6 228.4h0M360.3 221.2h0M359.4 247.0h0M357.2 212.8h0M368.6 251.2h0M354.6 242.2h0M353.3 228.4h0M362.4 242.6h0M365.6 232.7h0M368.5 230.4h0M358.6 252.6h0M350.1 233.8h0M360.4 226.2h0M353.3 250.2h0M358.3 240.3h0M361.7 230.2h0M362.5 229.9h0M367.1 238.9h0M369.3 243.8h0M356.6 247.7h0M361.7 231.1h0M360.4 240.4h0M353.7 223.8h0M365.3 230.2h0M367.0 243.2h0M351.6 239.4h0M355.8 222.6h0M367.4 233.7h0M367.4 224.9h0M364.9 249.5h0M359.7 217.2h0M359.4 251.5h0M363.6 228.4h0M359.5 239.7h0M359.4 247.7h0M352.0 237.9h0M365.6 220.4h0M356.6 229.5h0M350.1 237.7h0M367.6 253.9h0M365.6 235.5h0M365.9 235.7h0M352.4 249.9h0M353.5 218.9h0M359.4 242.9h0M359.5 228.6h0M355.5 242.5h0M359.9 234.1h0M365.9 226.1h0M361.7 223.1h0M358.1 226.6h0M351.7 245.0h0M354.8 252.9h0M361.5 230.9h0M353.3 243.9h0M356.4 236.5h0M367.9 225.5h0M366.0 225.4h0M356.4 246.3h0M356.6 234.4h0M356.2 242.1h0M367.2 246.2h0M368.1 253.4h0M356.2 225.7h0M359.3 227.5h0M369.7 243.6h0M370.0 220.4h0M356.4 237.7h0M359.0 217.6h0M357.6 239.3h0M355.9 232.2h0M363.4 219.6h0M357.3 257.4h0M355.3 229.3h0M366.8 237.3h0M350.0 242.6h0M369.8 255.1h0M367.3 237.7h0M365.5 214.3h0M357.1 229.0h0M363.4 213.8h0M362.8 229.6h0M350.6 255.3h0M355.4 244.2h0M358.1 229.6h0M354.6 246.9h0M355.6 244.4h0M355.1 228.7h0M368.2 220.5h0M355.4 226.1h0M369.3 229.3h0M357.9 221.1h0M362.0 249.3h0M368.6 227.1h0M369.2 225.4h0M350.0 250.2h0M351.3 254.0h0M358.6 223.3h0M357.6 235.1h0M363.7 222.5h0M364.7 215.3h0M359.1 223.9h0M362.8 231.4h0M352.8 248.2h0M361.1 226.1h0M359.5 228.9h0M354.0 239.2h0M366.1 217.6h0M354.9 226.6h0M362.9 245.5h0M353.8 240.2h0M356.9 249.7h0M351.1 214.2h0M366.3 240.5h0M367.0 237.8h0M363.1 230.0h0M362.3 243.7h0M355.4 226.7h0M355.9 252.4h0M364.9 244.9h0M368.9 236.5h0M354.0 246.7h0M365.5 224.7h0M357.3 251.8h0M351.9 242.4h0M364.3 241.7h0M362.9 236.3h0M363.9 240.4h0M360.5 242.7h0M358.7 254.6h0M352.2 241.5h0M354.9 245.0h0M368.1 230.2h0M363.7 217.7h0M357.9 235.5h0M358.4 221.9h0M362.5 256.1h0M353.1 217.4h0M369.2 243.7h0M361.0 245.6h0M368.6 247.9h0M367.3 234.5h0M363.9 238.4h0M363.5 237.9h0M359.2 244.8h0M367.8 240.5h0M367.1 233.7h0M362.4 229.8h0M355.0 249.3h0M357.5 242.4h0M369.3 215.2h0M352.7 244.9h0M360.1 238.9h0M351.5 222.5h0M356.6 234.2h0M355.7 236.3h0M365.7 253.9h0M353.1 237.1h0M369.2 236.4h0M356.7 216.3h0M353.9 239.6h0M356.3 235.9h0M361.3 241.5h0M359.5 235.6h0M366.1 231.6h0M364.6 244.2h0M367.2 212.5h0M366.1 245.2h0M355.7 235.9h0M350.9 238.4h0M353.4 247.3h0M356.9 256.7h0M367.5 226.5h0M365.7 248.1h0M359.7 239.9h0M354.2 221.8h0M369.2 238.1h0M367.5 235.9h0M361.7 246.8h0M366.0 216.0h0M356.0 233.0h0M357.1 238.8h0M353.4 250.8h0M368.9 220.2h0M365.1 229.0h0M350.1 221.6h0M386.0 252.4h0M382.8 209.6h0M384.8 228.3h0M378.2 223.1h0M375.0 208.9h0M382.6 221.6h0M383.6 217.8h0M387.0 214.0h0M380.4 217.5h0M383.5 244.7h0M381.1 236.5h0M381.5 229.7h0M379.4 242.6h0M379.3 244.9h0M386.0 237.4h0M378.0 248.7h0M383.3 244.4h0M372.8 230.5h0M374.4 217.6h0M378.2 242.6h0M375.1 224.2h0M370.5 230.6h0M383.3 232.0h0M376.1 225.7h0M378.9 235.0h0M381.9 240.7h0M384.3 223.4h0M382.7 235.3h0M386.8 226.5h0M384.2 230.1h0M375.4 233.8h0M383.0 229.4h0M371.5 247.5h0M370.9 240.0h0M380.8 232.1h0M375.9 234.8h0M378.9 242.9h0M375.9 225.7h0M379.0 219.7h0M376.8 229.4h0M383.8 253.1h0M371.5 241.6h0M373.6 244.9h0M384.1 243.9h0M373.0 233.4h0M376.1 226.7h0M370.3 242.6h0M376.6 243.6h0M377.4 220.3h0M382.4 230.3h0M375.7 231.1h0M380.7 223.8h0M373.7 254.3h0M377.1 236.4h0M371.9 246.0h0M381.6 232.8h0M382.6 222.6h0M378.1 246.2h0M385.5 245.6h0M384.2 247.2h0M377.2 239.6h0M382.9 255.7h0M373.5 233.5h0M383.4 231.7h0M383.5 238.1h0M380.8 236.8h0M382.1 222.7h0M384.8 241.1h0M374.8 256.0h0M370.7 234.0h0M378.1 238.9h0M385.3 239.2h0M381.2 233.8h0M385.9 237.9h0M379.7 223.0h0M382.2 250.9h0M383.1 236.1h0M385.1 232.0h0M382.9 240.7h0M380.1 240.3h0M382.8 234.5h0M383.0 224.7h0M378.0 212.7h0M381.7 228.2h0M383.1 252.2h0M384.6 252.5h0M378.4 245.0h0M370.6 235.6h0M378.6 238.0h0M382.0 211.1h0M378.2 225.1h0M373.2 241.3h0M386.4 216.0h0M386.4 229.2h0M375.7 215.0h0M375.5 229.2h0M374.4 214.0h0M372.6 251.4h0M377.6 226.0h0M380.1 221.4h0M385.6 228.3h0M377.3 223.5h0M382.0 223.8h0M385.5 258.8h0M370.5 235.6h0M375.1 253.0h0M381.2 218.0h0M376.7 237.5h0M376.4 226.9h0M374.9 237.0h0M381.4 213.1h0M376.7 242.9h0M384.8 235.1h0M370.1 234.1h0M377.7 250.0h0M385.0 241.1h0M372.3 231.1h0M386.7 214.9h0M372.8 231.2h0M375.1 248.0h0M375.0 245.0h0M384.2 225.7h0M385.1 220.7h0M378.0 231.9h0M378.1 243.2h0M376.9 232.7h0M383.2 239.0h0M379.1 238.2h0M371.0 235.2h0M371.5 228.9h0M379.6 233.6h0M376.4 249.7h0M372.9 225.8h0M386.6 244.2h0M370.2 247.5h0M380.2 233.0h0M376.5 248.7h0M372.0 232.1h0M374.0 225.7h0M383.0 236.0h0M381.9 227.9h0M371.3 237.8h0M380.3 211.2h0M373.5 213.2h0M376.4 243.4h0M377.3 209.4h0M373.3 234.9h0M386.7 237.3h0M382.5 227.2h0M382.4 250.4h0M382.5 243.5h0M376.7 217.5h0M370.3 235.5h0M370.5 230.6h0M385.4 244.7h0M372.6 242.9h0M382.3 226.0h0M381.7 215.5h0M378.9 256.0h0M379.4 227.9h0M371.3 210.5h0M371.2 211.4h0M381.5 227.7h0M381.4 214.8h0M372.7 240.9h0M383.3 239.6h0M377.9 218.4h0M383.5 214.8h0M373.3 249.2h0M381.0 231.5h0M371.3 236.1h0M374.3 244.7h0M378.4 239.4h0M375.1 214.7h0M370.1 238.2h0M373.3 214.4h0M381.5 211.2h0M376.0 217.9h0M386.4 229.1h0M377.8 241.6h0M386.0 229.2h0M382.3 230.1h0M385.8 226.2h0M380.8 246.1h0M379.1 213.4h0M379.2 253.4h0M377.5 245.1h0M372.0 245.7h0M375.7 223.6h0M384.6 242.7h0M380.2 227.0h0M382.5 252.0h0M370.9 229.8h0M379.5 227.4h0M381.2 226.2h0M377.0 242.9h0M382.6 232.0h0M379.6 234.5h0M385.8 232.8h0M379.7 232.6h0M385.7 252.3h0M379.6 239.3h0M376.6 226.0h0M373.2 243.7h0M377.9 241.1h0M371.8 248.1h0M373.4 245.2h0M376.6 240.7h0M376.1 214.3h0M382.1 231.1h0M382.8 234.6h0M370.3 231.0h0M382.8 235.4h0M373.0 225.6h0M385.9 241.1h0M386.2 229.8h0M380.9 236.9h0M370.3 242.2h0M373.6 243.1h0M379.5 230.1h0M378.2 221.1h0M374.5 253.9h0M383.7 242.7h0M378.4 233.7h0M374.2 247.1h0M371.3 249.8h0M380.9 251.8h0M371.2 233.5h0M378.5 235.9h0M373.5 230.2h0M372.9 237.3h0M370.5 234.8h0M384.1 254.7h0M384.3 221.9h0M381.0 227.0h0M386.7 213.8h0M370.2 240.6h0M382.0 230.5h0M383.1 250.9h0M376.9 258.4h0M449.1 244.4h0M447.6 234.3h0M451.9 222.3h0M449.0 239.2h0M449.5 236.3h0M451.5 234.7h0M447.6 239.4h0M450.2 234.0h0M451.2 239.0h0M450.7 243.0h0M450.9 227.3h0M451.3 227.3h0M450.1 239.2h0M450.9 246.8h0M450.1 245.3h0M447.6 226.8h0M449.7 237.1h0M449.4 230.4h0M449.6 228.8h0M449.3 238.2h0M449.6 224.3h0M451.7 232.0h0M447.7 242.2h0M449.9 230.5h0M449.7 230.9h0M451.6 233.9h0M448.5 237.0h0M454.2 245.0h0M460.6 239.9h0M467.9 227.3h0M466.4 236.7h0M468.7 243.1h0M463.0 237.9h0M467.1 224.3h0M457.0 226.0h0M466.6 235.6h0M455.4 228.5h0M465.3 234.2h0M469.8 233.8h0M462.0 229.6h0M455.4 233.1h0M457.3 231.0h0M453.1 240.2h0M454.0 232.7h0M463.0 240.9h0M467.6 245.3h0M467.4 233.1h0M465.2 244.0h0M462.9 227.6h0M469.6 243.1h0M454.1 234.9h0M459.8 233.1h0M463.8 240.7h0M468.6 243.3h0M455.8 231.7h0M458.7 247.4h0M465.1 236.2h0M454.2 230.5h0M464.7 231.4h0M458.4 246.1h0M457.4 234.5h0M455.0 231.8h0M454.3 234.2h0M465.3 235.7h0M469.7 240.0h0M464.4 226.4h0M467.3 223.4h0M452.1 224.1h0M464.4 231.7h0M453.8 235.2h0M452.2 231.9h0M466.8 228.5h0M455.7 234.4h0M459.8 228.0h0M461.7 233.0h0M466.7 223.4h0M457.6 235.7h0M464.3 225.8h0M452.6 231.8h0M457.7 242.0h0M456.6 239.0h0M464.8 226.5h0M464.3 230.6h0M457.7 224.7h0M465.8 241.4h0M469.9 234.3h0M453.7 228.9h0M455.8 231.5h0M468.9 231.5h0M457.2 226.0h0M467.6 238.7h0M452.2 228.5h0M453.2 232.6h0M456.1 234.8h0M453.2 242.8h0M466.5 228.1h0M460.1 240.4h0M456.9 232.6h0M455.2 235.8h0M453.5 235.7h0M469.1 237.5h0M468.8 243.2h0M470.0 239.4h0M466.6 230.1h0M465.3 242.1h0M461.8 225.4h0M457.5 228.5h0M465.4 239.0h0M454.6 247.3h0M464.6 228.3h0M464.0 228.5h0M458.9 224.3h0M458.2 236.2h0M464.3 233.0h0M456.7 241.7h0M467.2 230.9h0M454.8 236.3h0M462.1 230.1h0M452.7 232.5h0M454.0 238.7h0M455.8 227.8h0M461.9 221.9h0M465.0 245.3h0M466.5 230.3h0M462.3 243.8h0M460.6 231.3h0M468.1 230.8h0M457.2 232.5h0M465.1 234.1h0M459.3 245.0h0M455.2 222.5h0M469.3 230.0h0M461.4 231.1h0M457.8 221.4h0M465.3 246.1h0M456.4 236.3h0M466.8 237.5h0M462.4 221.5h0M464.5 239.3h0M465.4 227.5h0M460.3 243.4h0M469.7 232.4h0M456.6 228.0h0M465.8 241.0h0M464.5 235.5h0M466.9 226.7h0M457.3 235.1h0M455.0 240.6h0M460.4 238.4h0M461.6 238.6h0M455.8 237.7h0M460.9 241.3h0M467.1 235.4h0M469.6 237.2h0M460.6 233.3h0M459.7 239.4h0M457.2 239.9h0M454.9 229.6h0M460.3 242.5h0M457.6 233.0h0M459.2 226.3h0M458.2 237.5h0M464.4 229.9h0M460.4 242.3h0M468.3 235.0h0M467.7 238.0h0M463.6 241.0h0M454.5 231.1h0M459.6 246.9h0M455.2 241.6h0M456.3 236.3h0M469.9 237.9h0M458.8 231.1h0M469.6 238.6h0M467.6 240.1h0M459.9 235.5h0M456.9 248.4h0M466.1 226.8h0M452.7 234.2h0M462.0 232.9h0M463.3 221.7h0M456.1 224.5h0M461.1 238.1h0M454.3 239.8h0M457.1 228.3h0M465.5 232.0h0M464.8 233.7h0M469.9 233.6h0M459.3 232.7h0M461.8 242.8h0M460.7 230.9h0M454.6 233.2h0M467.3 235.9h0M465.1 241.0h0M456.5 226.6h0M467.4 237.6h0M461.0 228.5h0M459.9 232.3h0M464.8 224.7h0M466.8 234.8h0M464.6 233.0h0M458.5 238.2h0M462.3 239.7h0M459.2 226.9h0M469.0 228.0h0M462.6 224.6h0M467.4 236.8h0M455.1 232.0h0M452.2 244.2h0M463.3 239.1h0M455.8 224.5h0M454.3 240.3h0M465.1 225.7h0M465.0 245.9h0M460.0 221.5h0M464.1 240.5h0M456.9 240.6h0M464.2 236.9h0M458.0 222.1h0M469.8 237.1h0M466.2 230.2h0M455.9 234.3h0M494.1 225.0h0M482.3 244.9h0M477.7 250.8h0M483.7 234.0h0M477.2 241.3h0M486.1 248.3h0M491.8 235.2h0M472.0 245.6h0M484.1 239.0h0M477.8 237.6h0M474.9 237.6h0M472.2 247.7h0M489.7 229.5h0M477.5 240.1h0M478.3 250.6h0M473.5 251.3h0M494.2 247.6h0M481.3 233.8h0M478.5 235.1h0M488.9 241.9h0M479.5 246.3h0M493.8 237.8h0M472.4 221.8h0M470.1 245.1h0M487.0 238.4h0M471.0 223.0h0M470.3 241.7h0M477.0 241.1h0M484.7 243.6h0M487.5 248.1h0M483.2 238.4h0M479.5 229.3h0M490.9 239.0h0M475.9 243.5h0M493.8 231.4h0M472.8 227.0h0M471.7 234.2h0M491.7 236.3h0M491.3 238.1h0M482.8 230.3h0M473.1 238.2h0M484.2 247.1h0M486.2 232.3h0M482.5 250.9h0M471.5 235.5h0M477.2 238.1h0M490.7 228.5h0M473.7 244.4h0M478.3 240.4h0M474.7 241.0h0M489.3 242.6h0M472.5 250.7h0M473.8 233.4h0M488.7 244.0h0M471.9 234.0h0M478.8 229.2h0M477.9 242.7h0M483.5 232.2h0M491.6 244.0h0M482.6 235.7h0M475.7 231.1h0M489.1 236.4h0M480.1 230.5h0M483.5 231.5h0M484.4 242.3h0M488.2 246.5h0M488.0 237.5h0M480.0 225.6h0M494.5 229.5h0M489.6 228.5h0M471.0 242.2h0M489.6 246.4h0M479.5 231.9h0M470.7 222.2h0M484.1 231.2h0M481.6 226.7h0M490.6 230.8h0M486.5 239.9h0M471.5 230.3h0M485.2 238.2h0M487.6 241.9h0M472.5 222.9h0M475.3 248.0h0M485.7 241.4h0M479.0 235.4h0M480.6 224.7h0M492.5 223.5h0M474.8 224.0h0M470.6 237.0h0M479.2 237.2h0M483.9 250.8h0M475.2 241.4h0M488.8 230.0h0M487.4 241.6h0M480.9 233.5h0M480.3 239.8h0M494.5 226.7h0M472.5 239.4h0M480.8 236.0h0M482.4 243.7h0M493.1 242.9h0M488.2 227.7h0M479.1 235.8h0M488.4 232.5h0M480.5 244.0h0M491.6 241.8h0M491.5 232.8h0M474.5 229.4h0M483.7 248.0h0M475.8 242.5h0M492.0 241.8h0M481.4 253.3h0M471.9 227.5h0M478.5 246.1h0M487.3 225.6h0M493.8 241.1h0M486.3 225.6h0M491.0 250.6h0M484.7 230.7h0M473.0 232.0h0M479.9 242.0h0M471.9 229.6h0M470.4 226.4h0M487.2 228.4h0M471.3 244.5h0M488.4 236.2h0M492.3 239.8h0M486.0 243.1h0M487.5 234.0h0M485.0 237.1h0M472.2 235.7h0M489.2 235.2h0M479.9 247.1h0M476.0 241.6h0M480.2 234.5h0M470.2 250.4h0M489.0 244.1h0M478.3 236.9h0M483.3 223.1h0M482.7 236.1h0M482.6 232.4h0M470.8 240.6h0M484.8 232.9h0M479.8 245.4h0M473.5 230.7h0M477.3 239.5h0M487.6 232.4h0M473.2 223.3h0M476.9 239.1h0M474.4 233.3h0M487.7 229.0h0M487.0 245.7h0M475.8 231.5h0M483.3 234.5h0M476.1 239.7h0M484.5 238.4h0M481.3 234.5h0M487.7 227.1h0M488.5 239.1h0M487.3 245.9h0M481.0 245.1h0M470.7 241.8h0M489.7 235.8h0M486.9 230.6h0M479.6 230.2h0M493.9 233.6h0M482.3 246.8h0M482.5 222.5h0M490.7 247.3h0M477.2 232.1h0M480.5 232.9h0M470.7 238.6h0M494.2 244.7h0M487.6 247.7h0M491.3 237.4h0M471.1 235.2h0M472.4 247.8h0M470.6 250.7h0M473.9 234.0h0M491.7 239.4h0M483.8 235.1h0M474.8 232.4h0M472.2 247.3h0M476.5 250.4h0M475.9 225.6h0M483.7 233.7h0M473.5 238.5h0M475.4 235.9h0M487.1 232.6h0M485.6 240.3h0M481.5 247.7h0M470.7 251.5h0M484.1 225.7h0M489.0 230.9h0M478.8 234.8h0M483.7 232.8h0M489.3 234.6h0M488.4 238.9h0M478.2 232.2h0M480.6 234.7h0M483.8 250.1h0M479.0 230.7h0M493.5 232.9h0M489.0 243.9h0M493.6 250.1h0M474.5 231.5h0M482.6 231.4h0M485.4 241.2h0M493.6 231.8h0M490.5 249.0h0M477.3 236.5h0M473.2 222.9h0M489.5 243.8h0M479.5 229.5h0M492.8 240.9h0M481.0 244.3h0M488.5 247.9h0M479.3 245.3h0M494.0 243.2h0M477.0 233.7h0M480.1 243.2h0M484.2 228.1h0M481.9 250.4h0M489.7 238.4h0M487.3 232.9h0M489.3 222.6h0M488.5 223.2h0M481.2 233.6h0M488.0 230.9h0M477.5 237.2h0M482.9 229.0h0M474.6 243.9h0M486.0 222.7h0M485.5 234.5h0M470.8 233.2h0M477.9 243.1h0M490.9 225.5h0M477.7 230.8h0M475.8 226.6h0M474.0 242.1h0M487.0 233.8h0M481.1 231.4h0M480.3 227.0h0M482.5 241.6h0M480.5 246.4h0M485.6 234.6h0M478.4 236.6h0M484.9 240.8h0M492.1 243.2h0M470.6 230.7h0M477.4 241.8h0M486.8 251.3h0M484.3 234.3h0M485.4 232.0h0M475.6 233.8h0M485.0 225.2h0M486.4 246.6h0M489.3 225.7h0M494.0 238.8h0M475.6 241.3h0M488.7 238.5h0M471.0 231.0h0M489.1 222.5h0M476.0 232.2h0M492.8 235.9h0M488.0 243.2h0M492.3 224.1h0M487.9 232.7h0M474.9 246.9h0M481.3 247.8h0M481.8 226.0h0M482.8 245.9h0M486.6 240.7h0M490.0 245.9h0M473.8 242.0h0M476.4 239.4h0M492.3 240.9h0M492.1 225.7h0M487.2 237.3h0M486.4 241.6h0M482.0 226.9h0M476.9 221.5h0M477.3 243.9h0M482.9 228.1h0M483.5 236.6h0M510.0 241.1h0M507.7 243.8h0M503.3 228.4h0M498.1 240.6h0M507.6 243.4h0M505.9 234.8h0M509.4 244.5h0M499.1 233.1h0M499.7 226.5h0M506.1 238.2h0M509.3 228.0h0M500.3 249.2h0M504.4 247.0h0M508.4 250.3h0M505.0 237.9h0M508.7 232.2h0M505.5 223.3h0M506.9 245.4h0M503.2 239.6h0M509.9 233.6h0M505.9 232.7h0M508.0 244.2h0M504.1 251.2h0M500.5 251.9h0M499.2 242.4h0M508.6 231.1h0M501.8 242.4h0M507.4 238.6h0M500.3 232.7h0M505.0 244.2h0M503.8 247.5h0M500.4 254.2h0M504.8 234.5h0M506.2 242.5h0M507.3 242.3h0M508.6 252.0h0M507.1 243.1h0M500.4 236.2h0M500.9 234.4h0M506.6 238.3h0M504.4 235.3h0M507.2 248.3h0M502.0 229.6h0M504.7 227.9h0M502.5 240.6h0M503.8 234.2h0M507.8 234.2h0M499.4 234.0h0M506.4 246.1h0M501.1 241.9h0M506.9 238.6h0M506.6 241.8h0M503.0 246.6h0M502.1 233.7h0M502.3 240.2h0M503.3 224.9h0M506.2 254.6h0M504.7 228.7h0M501.8 244.7h0M502.9 242.3h0M506.8 248.9h0M505.5 222.4h0M504.4 234.4h0M503.0 249.2h0M508.7 225.3h0M509.6 237.8h0M498.2 251.1h0M503.3 240.1h0M499.5 246.6h0M507.6 237.3h0M509.9 235.9h0M498.9 229.5h0M500.6 242.9h0M501.7 248.3h0M498.0 252.4h0M500.2 231.3h0M499.8 233.0h0M499.4 246.5h0M502.9 242.9h0M506.5 227.4h0M498.4 256.0h0M507.0 249.1h0M506.8 229.7h0M506.9 225.7h0M506.1 242.5h0M509.5 232.5h0M498.6 229.6h0M509.3 242.8h0M509.3 238.7h0M508.6 242.4h0M506.0 238.8h0M497.8 250.1h0M506.3 244.3h0M502.1 240.4h0M509.1 247.0h0M506.3 246.7h0M505.1 233.3h0M499.1 246.4h0M507.7 228.4h0M506.2 244.5h0M503.0 236.1h0M507.1 234.6h0M504.9 247.8h0M507.2 253.5h0M502.9 237.2h0M498.2 237.1h0M501.3 235.8h0M500.8 233.0h0M504.4 238.9h0M509.0 232.7h0M502.7 247.8h0M506.8 235.0h0M504.9 232.6h0M508.1 233.3h0M500.9 234.5h0M504.5 248.2h0M508.1 245.7h0M506.4 223.8h0M498.2 251.3h0M498.5 232.3h0M504.3 243.1h0M506.5 238.3h0M509.9 238.7h0M501.8 227.3h0M498.0 246.2h0M502.0 239.8h0M499.4 241.2h0M500.2 236.0h0M509.9 251.7h0M506.5 229.8h0M502.7 236.2h0M505.1 239.8h0M504.7 233.6h0M499.0 248.2h0M508.7 233.1h0M507.7 237.0h0M508.5 234.5h0M506.6 243.5h0M507.0 255.9h0M508.4 243.6h0M502.4 228.4h0M504.7 229.1h0M500.0 240.0h0M504.9 240.3h0M506.3 246.6h0M506.5 245.1h0M507.3 231.7h0M506.9 231.1h0M508.5 238.3h0M499.1 242.6h0M504.5 225.6h0M502.5 226.6h0M506.8 241.7h0M498.6 233.3h0M509.8 234.7h0M504.9 240.0h0M503.0 229.3h0M502.1 259.0h0M507.2 254.1h0M500.6 223.0h0M509.0 227.4h0M500.0 244.9h0M506.9 231.1h0M500.7 246.4h0M498.1 245.3h0M504.7 231.7h0M507.0 230.9h0M505.5 232.9h0M510.4 229.3h0M528.3 235.4h0M529.2 232.7h0M517.9 236.9h0M524.6 252.9h0M522.9 256.7h0M513.1 232.0h0M510.7 239.7h0M512.0 232.9h0M527.8 248.3h0M525.0 225.9h0M512.2 246.8h0M515.4 238.2h0M527.3 242.1h0M529.7 244.1h0M528.3 233.3h0M512.0 231.6h0M519.3 234.1h0M514.5 242.7h0M527.6 223.5h0M519.3 232.2h0M512.6 246.0h0M523.8 241.7h0M511.2 255.4h0M514.0 248.3h0M517.1 232.9h0M511.1 230.6h0M525.2 248.7h0M524.1 238.6h0M510.7 255.1h0M517.6 245.0h0M516.5 240.2h0M514.4 232.2h0M526.9 255.9h0M524.0 239.8h0M514.6 245.3h0M521.6 249.7h0M523.1 244.0h0M518.6 240.0h0M528.7 255.3h0M511.5 237.5h0M517.2 229.4h0M515.4 247.2h0M529.1 225.5h0M529.4 236.8h0M527.9 228.1h0M517.7 251.6h0M524.5 241.3h0M522.9 242.5h0M524.3 239.2h0M521.6 235.9h0M511.8 241.7h0M525.0 245.1h0M512.8 246.1h0M518.7 234.4h0M514.0 239.0h0M512.1 240.2h0M518.2 235.8h0M528.4 233.5h0M512.3 225.9h0M516.3 252.6h0M511.5 242.2h0M523.7 241.7h0M511.2 250.1h0M524.8 255.4h0M528.1 234.3h0M520.4 251.6h0M521.3 256.1h0M513.2 248.6h0M517.3 230.8h0M516.9 224.5h0M518.8 244.1h0M513.2 237.4h0M513.5 240.6h0M522.5 239.6h0M526.0 247.3h0M528.6 237.0h0M514.2 230.4h0M517.8 241.7h0M520.1 250.8h0M510.6 232.8h0M511.0 233.7h0M518.3 251.5h0M516.3 246.2h0M516.1 256.4h0M516.0 243.5h0M512.2 255.4h0M512.5 242.8h0M517.5 227.2h0M529.9 246.2h0M520.0 244.2h0M529.3 241.9h0M512.1 247.9h0M512.0 229.5h0M518.0 237.4h0M512.9 246.3h0M512.2 232.4h0M526.4 240.9h0M528.0 237.3h0M529.0 233.3h0M512.2 246.3h0M528.1 241.0h0M525.4 232.3h0M521.7 235.6h0M521.8 256.1h0M514.2 231.1h0M518.8 228.8h0M529.0 249.0h0M522.6 240.9h0M511.5 256.2h0M528.2 240.0h0M527.5 228.8h0M521.3 231.1h0M523.4 246.9h0M520.7 245.8h0M529.3 236.3h0M524.2 238.8h0M520.1 243.6h0M519.8 235.3h0M519.0 250.9h0M522.7 245.7h0M525.0 248.3h0M529.1 244.8h0M528.5 232.1h0M517.8 227.0h0M514.3 229.4h0M514.6 249.0h0M529.9 244.5h0M518.2 233.7h0M516.5 241.1h0M522.1 247.0h0M520.0 240.0h0M520.0 255.1h0M529.1 252.2h0M516.4 247.9h0M513.8 230.4h0M517.8 248.3h0M514.0 249.4h0M518.5 236.8h0M515.7 236.4h0M519.8 254.0h0M513.3 234.0h0M527.3 229.2h0M519.3 225.0h0M511.4 241.4h0M524.2 235.9h0M525.9 224.2h0M513.3 234.8h0M521.1 243.4h0M511.4 251.3h0M511.2 245.1h0M517.0 226.0h0M521.1 244.2h0M512.5 246.8h0M528.4 243.3h0M524.9 250.6h0M522.3 249.9h0M523.8 235.5h0M524.8 231.4h0M516.2 242.3h0M524.9 238.7h0M525.5 247.5h0M514.9 235.8h0M520.9 245.5h0M518.5 245.5h0M516.8 229.1h0M518.8 242.0h0M511.5 235.8h0M515.5 242.0h0M511.9 247.6h0M511.2 249.1h0M515.9 251.0h0M527.8 234.4h0M519.7 248.7h0M526.9 226.3h0M511.2 248.7h0M525.2 239.9h0M523.1 240.0h0M515.7 238.1h0M510.9 236.0h0M525.0 238.4h0M520.3 255.9h0M524.3 231.0h0M520.0 239.5h0M523.9 225.4h0M513.4 234.5h0M511.0 224.2h0M511.2 229.3h0M517.3 243.2h0M512.1 242.9h0M519.8 236.1h0M517.2 246.1h0M522.2 242.0h0M524.8 230.4h0M512.5 232.5h0M513.9 227.6h0M524.0 248.9h0M510.6 251.0h0M515.8 239.4h0M525.8 237.1h0M516.2 247.2h0M511.9 245.1h0M524.2 242.1h0M522.0 253.0h0M528.1 248.1h0M515.5 232.5h0M514.0 232.9h0M524.6 226.9h0M511.6 251.9h0M529.1 246.7h0M526.2 237.6h0M527.3 243.2h0M525.9 229.8h0M517.9 235.9h0M510.6 227.8h0M527.7 255.9h0M530.0 243.1h0M518.3 258.1h0M523.7 223.9h0M526.0 228.5h0M521.4 248.6h0M518.8 243.4h0M519.9 235.9h0M517.5 255.7h0M512.4 235.0h0M518.8 247.6h0M512.4 245.5h0M523.2 252.0h0M528.6 250.5h0M511.3 232.2h0M516.1 241.7h0M515.2 226.9h0M530.0 233.1h0M523.9 246.2h0M516.5 232.9h0M529.0 224.2h0M526.8 250.2h0M511.2 228.8h0M513.0 229.3h0M517.7 248.2h0M518.2 232.5h0M521.0 244.9h0M524.9 244.5h0M515.7 225.9h0M511.4 243.3h0M518.7 247.9h0M526.6 253.7h0M513.5 248.4h0M516.0 249.7h0M516.0 238.1h0M514.2 249.6h0M525.4 250.2h0M510.5 233.8h0M522.3 249.4h0M515.1 227.4h0M514.9 245.1h0M526.4 241.5h0M512.4 240.4h0M527.6 225.7h0M516.8 244.5h0M522.2 245.0h0M523.9 243.4h0M528.5 237.5h0M512.0 224.8h0M529.2 239.3h0M514.3 244.3h0M516.6 229.2h0M510.1 235.3h0M516.2 245.1h0M520.3 243.7h0M538.4 229.7h0M532.0 224.9h0M540.9 225.9h0M533.6 246.3h0M534.1 223.0h0M542.3 232.1h0M536.8 242.4h0M531.7 221.9h0M531.5 241.1h0M540.6 230.4h0M537.7 227.6h0M540.7 219.4h0M538.9 246.8h0M530.3 233.4h0M530.8 236.6h0M538.9 220.0h0M542.0 234.9h0M533.2 220.4h0M532.6 251.4h0M537.6 245.7h0M542.2 246.3h0M539.4 231.9h0M535.3 234.9h0M543.2 243.0h0M544.6 225.2h0M539.0 238.4h0M538.3 234.3h0M536.4 250.2h0M543.0 227.1h0M542.8 231.5h0M532.6 241.3h0M538.2 238.4h0M544.7 232.6h0M537.4 232.3h0M532.7 223.7h0M536.8 236.8h0M542.2 225.6h0M537.8 234.9h0M541.5 249.3h0M536.4 230.2h0M541.9 233.6h0M543.8 235.0h0M535.6 236.3h0M541.0 227.1h0M530.8 234.8h0M533.8 249.1h0M541.6 238.0h0M540.7 241.6h0M537.9 229.3h0M545.0 221.4h0M543.2 236.5h0M543.1 228.8h0M534.4 235.7h0M536.1 249.2h0M541.1 241.2h0M531.3 238.9h0M531.6 241.3h0M538.0 235.9h0M539.0 237.4h0M534.7 232.2h0M545.0 240.0h0M533.5 242.9h0M539.1 242.7h0M543.5 232.7h0M534.3 235.8h0M542.6 221.8h0M531.4 236.8h0M543.4 249.2h0M540.1 235.8h0M536.5 238.8h0M538.4 231.0h0M531.0 228.4h0M533.8 242.4h0M534.9 243.2h0M537.1 226.8h0M534.5 235.7h0M537.1 233.4h0M535.2 223.5h0M541.6 225.3h0M538.7 237.2h0M533.9 234.7h0M544.0 248.7h0M540.6 233.4h0M542.7 237.0h0M531.9 229.8h0M532.5 250.7h0M531.2 236.4h0M530.6 246.1h0M536.9 233.5h0M542.3 236.0h0M543.7 242.7h0M543.5 231.6h0M535.5 233.7h0M533.4 237.1h0M538.0 240.0h0M533.1 239.6h0M533.2 237.6h0M536.4 238.0h0M530.4 233.5h0M532.5 241.1h0M543.4 241.3h0M542.5 239.2h0M543.5 234.3h0M538.6 229.4h0M531.7 246.5h0M539.6 233.2h0M540.2 223.7h0M533.6 242.5h0M533.4 235.9h0M538.0 240.8h0M542.5 242.5h0M536.2 243.4h0M530.2 250.3h0M532.5 250.6h0M538.9 238.5h0M537.3 247.7h0M544.0 229.4h0M541.5 246.9h0M532.4 237.6h0M544.3 241.6h0M533.0 241.0h0M539.2 251.9h0M536.9 241.1h0M534.0 238.4h0M542.5 244.2h0M540.4 241.2h0M543.1 238.3h0M530.9 237.1h0M535.4 232.7h0M532.0 225.5h0M538.8 247.6h0M533.6 236.5h0M542.6 228.2h0M533.4 228.4h0M543.3 237.5h0M544.2 229.0h0M535.9 232.1h0M533.7 245.0h0M533.8 218.1h0M543.7 227.5h0M535.9 230.9h0M541.4 238.7h0M541.8 230.6h0M540.0 234.2h0M536.7 221.2h0M541.8 241.2h0M530.6 241.7h0M542.0 227.0h0M542.7 246.4h0M541.0 226.0h0M537.3 236.1h0M532.9 251.3h0M532.7 240.6h0M541.8 235.2h0M540.5 232.2h0M534.0 238.2h0M535.9 244.1h0M543.6 227.4h0M534.9 226.0h0M540.9 239.0h0M538.4 239.9h0M543.2 238.9h0M543.5 239.0h0M540.7 238.5h0M535.2 244.2h0M543.2 233.7h0M543.4 248.7h0M540.6 236.0h0M538.7 230.7h0M543.3 217.6h0M542.5 235.6h0M544.2 240.6h0M544.2 233.4h0M533.8 232.4h0M543.4 243.9h0M535.3 235.1h0M538.3 231.3h0M537.3 233.8h0M535.5 224.5h0M538.8 220.4h0M532.3 244.5h0M530.7 245.5h0M530.6 227.7h0M536.6 244.2h0M533.4 239.7h0M544.2 223.6h0M532.1 234.6h0M537.0 239.5h0M536.2 245.9h0M540.9 243.7h0M531.1 226.6h0M530.5 250.7h0M542.1 252.6h0M543.5 242.0h0M540.1 238.6h0M552.3 235.0h0M547.4 245.2h0M550.8 231.8h0M553.6 232.1h0M552.0 236.8h0M552.2 235.5h0M548.8 227.2h0M545.5 234.9h0M553.7 242.8h0M549.2 234.8h0M547.6 237.7h0M546.9 239.1h0M550.2 233.2h0M547.3 237.4h0M550.6 239.1h0M546.7 233.5h0M551.1 229.4h0M548.3 241.9h0M552.0 229.3h0M553.5 237.6h0M548.2 231.4h0M547.9 229.7h0M548.7 233.1h0M546.1 237.2h0M551.8 226.2h0M546.1 240.4h0M548.9 234.4h0M548.2 245.6h0M549.9 229.6h0M550.3 230.8h0M545.3 239.6h0M546.4 231.9h0M549.6 238.1h0M545.3 232.3h0M549.6 239.2h0M550.5 233.4h0M545.8 229.1h0M551.5 240.1h0M547.8 236.1h0M546.0 230.2h0M545.3 229.6h0M548.6 227.7h0M546.7 243.2h0M547.5 225.7h0M546.4 224.2h0M552.6 231.5h0M547.3 232.6h0M547.6 238.6h0M550.0 234.2h0M550.3 234.5h0M548.7 241.4h0M545.8 235.9h0M550.0 238.1h0M552.8 239.4h0M549.2 241.7h0M549.9 232.8h0M547.4 225.4h0M550.3 238.9h0M549.5 229.7h0M551.3 237.9h0M551.3 233.8h0M551.8 230.5h0M550.6 245.4h0M552.7 234.2h0M546.9 233.3h0M546.5 230.5h0M549.6 238.0h0M553.3 231.4h0M545.3 232.8h0M552.3 236.4h0M547.0 243.3h0M549.6 239.3h0M552.7 230.4h0M553.5 238.8h0M550.9 234.7h0M548.4 229.0h0M546.2 230.7h0M553.1 240.3h0M549.5 236.6h0M547.6 225.5h0M553.5 244.9h0M549.8 235.4h0M551.6 225.8h0M550.4 226.3h0M545.2 234.9h0M552.0 240.3h0M548.0 240.4h0M546.9 227.4h0M553.2 236.3h0M553.8 229.8h0M100.1 270.5h0M117.3 215.4h0M97.6 225.0h0M98.5 251.0h0M133.0 204.7h0M138.5 208.5h0M163.5 208.0h0M169.8 208.0h0M174.6 204.5h0M188.0 208.0h0M201.6 205.2h0M205.3 202.7h0M154.0 277.0h0M157.0 278.5h0M168.0 276.0h0M171.0 277.5h0M174.0 275.0h0M177.5 274.0h0M199.0 265.5h0M166.0 272.0h0M179.0 271.0h0M211.4 250.5h0M218.0 249.6h0M218.6 241.8h0M222.1 209.1h0M223.5 209.5h0M222.0 216.0h0M225.4 234.0h0M226.4 242.3h0M223.5 243.0h0M228.8 260.9h0M228.0 269.1h0M219.6 248.6h0M281.6 206.2h0M278.3 259.3h0M295.3 269.1h0M301.0 266.0h0M302.5 264.5h0M317.3 270.5h0M298.0 262.0h0M309.0 214.0h0M337.0 205.5h0M341.0 204.0h0M361.4 270.0h0M375.0 264.2h0M345.0 207.0h0M376.0 207.0h0M379.5 206.0h0M356.0 262.0h0M366.0 263.0h0M391.6 203.3h0M401.0 225.7h0M392.6 248.6h0M396.5 258.0h0M401.4 245.7h0M400.4 241.8h0M388.7 255.4h0M393.6 231.0h0M397.5 233.0h0M389.5 222.0h0M390.5 238.0h0M455.5 210.5h0M462.5 209.5h0M455.5 255.0h0M461.5 251.5h0M481.5 211.0h0M502.0 216.0h0M508.0 215.0h0M503.0 258.0h0M515.0 262.0h0M531.5 215.5h0M538.5 216.5h0M543.0 218.0h0M547.0 221.0h0M520.0 256.0h0M526.0 257.0h0M576.4 211.4h0M577.8 222.7h0M576.0 247.1h0M569.6 225.7h0M568.6 234.5h0M573.5 235.4h0M567.6 243.2h0M564.7 216.9h0M570.5 245.0h0M566.5 236.0h0M571.5 240.0h0M565.2 230.8h0M562.6 215.3h0M557.4 222.9h0M562.3 213.2h0M560.0 188.4h0M565.9 236.6h0M556.5 229.6h0M561.6 202.9h0M555.0 233.8h0M557.5 219.7h0M557.8 214.7h0M563.8 225.8h0M559.0 204.9h0M564.4 224.2h0M560.2 185.2h0M556.5 225.8h0M558.9 201.8h0M562.3 209.0h0M563.3 224.6h0M563.6 221.1h0M555.0 238.1h0M556.8 225.9h0M564.6 230.8h0M560.7 186.6h0M561.2 193.5h0M558.9 203.8h0M561.2 193.5h0M557.2 223.5h0M563.9 231.0h0M555.8 228.3h0M560.2 179.5h0M560.5 181.2h0M560.3 182.8h0M560.6 184.2h0M560.1 186.5h0M559.6 190.5h0M561.1 192.0h0M559.3 196.0h0M561.6 199.0h0" fill="none" stroke="#000" stroke-width="4.5" stroke-linecap="round"/>
<!-- microlensing model -->
<path d="M91.90 238.50L97.90 238.50L103.90 238.50L109.90 238.50L115.90 238.50L121.90 238.50L127.90 238.50L133.90 238.50L139.90 238.50L145.90 238.50L151.90 238.50L157.90 238.50L163.90 238.50L169.90 238.50L175.90 238.50L181.90 238.50L187.90 238.50L193.90 238.50L199.90 238.50L205.90 238.50L211.90 238.50L217.90 238.50L223.90 238.50L229.90 238.50L235.90 238.50L241.90 238.50L247.90 238.50L253.90 238.50L259.90 238.50L265.90 238.50L271.90 238.50L277.90 238.50L283.90 238.50L289.90 238.50L295.90 238.50L301.90 238.50L307.90 238.50L313.90 238.50L319.90 238.50L325.90 238.50L331.90 238.50L337.90 238.50L343.90 238.50L349.90 238.50L355.90 238.50L361.90 238.50L367.90 238.50L373.90 238.50L379.90 238.50L385.90 238.50L391.90 238.50L397.90 238.50L403.90 238.50L409.90 238.50L415.90 238.50L421.90 238.50L427.90 238.50L433.90 238.50L439.90 238.50L445.90 238.50L451.90 238.50L457.90 238.50L463.90 238.50L469.90 238.50L475.90 238.50L481.90 238.50L487.90 238.50L493.90 238.50L499.90 238.50L505.90 238.50L511.90 238.50L517.90 238.50L523.90 238.50L529.90 238.49L535.90 238.48L536.90 238.48L537.90 238.47L538.90 238.47L539.90 238.46L540.90 238.45L541.15 238.45L541.40 238.45L541.65 238.45L541.90 238.44L542.15 238.44L542.40 238.44L542.65 238.43L542.90 238.43L543.15 238.43L543.40 238.42L543.65 238.42L543.90 238.41L544.15 238.41L544.40 238.40L544.65 238.40L544.90 238.39L545.15 238.38L545.40 238.37L545.65 238.37L545.90 238.36L546.15 238.35L546.40 238.34L546.65 238.32L546.90 238.31L547.15 238.30L547.40 238.28L547.65 238.27L547.90 238.25L548.15 238.23L548.40 238.21L548.65 238.18L548.90 238.16L549.15 238.13L549.40 238.10L549.65 238.06L549.90 238.02L550.15 237.98L550.40 237.93L550.65 237.88L550.90 237.82L551.15 237.75L551.40 237.68L551.65 237.59L551.90 237.49L552.15 237.39L552.40 237.26L552.65 237.12L552.90 236.96L553.15 236.78L553.40 236.58L553.65 236.34L553.90 236.06L554.15 235.75L554.40 235.38L554.65 234.96L554.90 234.47L555.15 233.90L555.40 233.23L555.65 232.45L555.90 231.55L556.15 230.48L556.40 229.24L556.65 227.79L556.90 226.10L557.15 224.13L557.40 221.86L557.65 219.26L557.90 216.31L558.15 213.00L558.40 209.37L558.65 205.48L558.90 201.46L559.15 197.46L559.40 193.74L559.65 190.55L559.90 188.19L560.15 186.87L560.40 186.75L560.65 187.83L560.90 190.01L561.15 193.05L561.40 196.69L561.65 200.65L561.90 204.69L562.15 208.61L562.40 212.30L562.65 215.67L562.90 218.70L563.15 221.37L563.40 223.71L563.65 225.73L563.90 227.47L564.15 228.97L564.40 230.25L564.65 231.35L564.90 232.28L565.15 233.09L565.40 233.77L565.65 234.36L565.90 234.87L566.15 235.30L566.40 235.68L566.65 236.00L566.90 236.29L567.15 236.53L567.40 236.74L567.65 236.93L567.90 237.09L568.15 237.24L568.40 237.36L568.65 237.47L568.90 237.57L569.15 237.66L569.40 237.74L569.65 237.81L569.90 237.87L570.15 237.92L570.40 237.97L570.65 238.02L570.90 238.06L571.15 238.09L571.40 238.12L571.65 238.15L571.90 238.18L572.15 238.20L572.40 238.23L572.65 238.25L572.90 238.26L573.15 238.28L573.40 238.30L573.65 238.31L573.90 238.32L574.15 238.33L574.40 238.35L574.65 238.35L574.90 238.36L575.15 238.37L575.40 238.38L575.65 238.39L575.90 238.39L576.15 238.40L576.40 238.41L576.65 238.41L576.90 238.42L577.15 238.42L577.40 238.43L577.65 238.43L577.90 238.43L578.15 238.44L578.40 238.44L578.65 238.44L578.90 238.45L579.15 238.45L579.40 238.45L579.65 238.45L579.90 238.46L580.15 238.46L581.15 238.47L582.15 238.47L583.15 238.48L584.15 238.48L585.15 238.48L585.70 238.48" fill="none" stroke="#ff00ff" stroke-width="1.2" stroke-linejoin="round"/>
<!-- frame and ticks -->
<rect x="87.5" y="62.5" width="500.0" height="375.0" fill="none" stroke="#000" stroke-width="1"/>
<path d="M92.32 62.50v9.7M92.32 437.50v-9.7M116.40 62.50v9.7M116.40 437.50v-9.7M140.48 62.50v9.7M140.48 437.50v-9.7M164.56 62.50v19.0M164.56 437.50v-19.0M188.64 62.50v9.7M188.64 437.50v-9.7M212.72 62.50v9.7M212.72 437.50v-9.7M236.80 62.50v9.7M236.80 437.50v-9.7M260.88 62.50v19.0M260.88 437.50v-19.0M284.96 62.50v9.7M284.96 437.50v-9.7M309.04 62.50v9.7M309.04 437.50v-9.7M333.12 62.50v9.7M333.12 437.50v-9.7M357.20 62.50v19.0M357.20 437.50v-19.0M381.28 62.50v9.7M381.28 437.50v-9.7M405.36 62.50v9.7M405.36 437.50v-9.7M429.44 62.50v9.7M429.44 437.50v-9.7M453.52 62.50v19.0M453.52 437.50v-19.0M477.60 62.50v9.7M477.60 437.50v-9.7M501.68 62.50v9.7M501.68 437.50v-9.7M525.76 62.50v9.7M525.76 437.50v-9.7M549.84 62.50v19.0M549.84 437.50v-19.0M573.92 62.50v9.7M573.92 437.50v-9.7M87.50 70.80h9.7M587.50 70.80h-9.7M87.50 99.20h9.7M587.50 99.20h-9.7M87.50 127.60h9.7M587.50 127.60h-9.7M87.50 156.00h19.0M587.50 156.00h-19.0M87.50 184.40h9.7M587.50 184.40h-9.7M87.50 212.80h9.7M587.50 212.80h-9.7M87.50 241.20h9.7M587.50 241.20h-9.7M87.50 269.60h9.7M587.50 269.60h-9.7M87.50 298.00h19.0M587.50 298.00h-19.0M87.50 326.40h9.7M587.50 326.40h-9.7M87.50 354.80h9.7M587.50 354.80h-9.7M87.50 383.20h9.7M587.50 383.20h-9.7M87.50 411.60h9.7M587.50 411.60h-9.7" fill="none" stroke="#000" stroke-width="1"/>
<!-- labels -->
<text x="336.5" y="40.7" text-anchor="middle" textLength="196" lengthAdjust="spacingAndGlyphs">OGLE-2017-BLG-1761</text>
<text class="n" x="164.6" y="462.8" text-anchor="middle" textLength="41" lengthAdjust="spacingAndGlyphs">7200</text>
<text class="n" x="260.9" y="462.8" text-anchor="middle" textLength="41" lengthAdjust="spacingAndGlyphs">7400</text>
<text class="n" x="357.2" y="462.8" text-anchor="middle" textLength="41" lengthAdjust="spacingAndGlyphs">7600</text>
<text class="n" x="453.5" y="462.8" text-anchor="middle" textLength="41" lengthAdjust="spacingAndGlyphs">7800</text>
<text class="n" x="549.8" y="462.8" text-anchor="middle" textLength="41" lengthAdjust="spacingAndGlyphs">8000</text>
<text class="n" x="77.9" y="163" text-anchor="end" textLength="37.5" lengthAdjust="spacingAndGlyphs">17.5</text>
<text class="n" x="77.9" y="305" text-anchor="end" textLength="21.6" lengthAdjust="spacingAndGlyphs">18</text>
<text x="337.9" y="491.3" style="word-spacing:1.5px" text-anchor="middle" textLength="129.3" lengthAdjust="spacingAndGlyphs">HJD - 2450000</text>
<text transform="translate(27.3 249.2) rotate(-90)" text-anchor="middle" textLength="105" lengthAdjust="spacingAndGlyphs">I magnitude</text>
</svg>
</body>
</html>
